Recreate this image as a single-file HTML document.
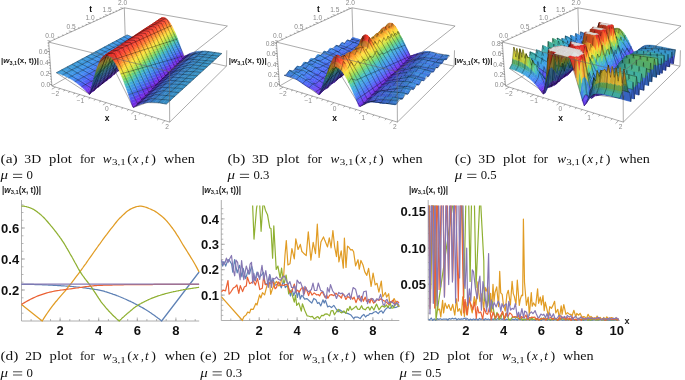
<!DOCTYPE html>
<html><head><meta charset="utf-8"><style>
html,body{margin:0;padding:0;background:#fff;}
svg{display:block;will-change:transform}
.cap text{font-family:"Liberation Serif",serif;font-size:13px;fill:#111}
.tl{font-family:"Liberation Sans",sans-serif;font-weight:bold;font-size:13px;fill:#111}

.bx{fill:none;stroke:#666;stroke-width:.55}
.g{font-family:"Liberation Sans",sans-serif;font-size:6.6px;fill:#8a8a8a}
.ax{font-family:"Liberation Sans",sans-serif;font-size:8.5px;font-weight:bold;fill:#111}
.zl{font-family:"Liberation Sans",sans-serif;font-size:8px;font-weight:bold;fill:#222}
.xl{font-family:"Liberation Sans",sans-serif;font-size:9px;font-weight:bold;fill:#222}
.pl{font-family:"Liberation Sans",sans-serif;font-size:8.2px;font-weight:bold;fill:#222}
.s path{fill:currentColor;stroke:currentColor;stroke-width:3.5;stroke-linejoin:round}
.s path.m{fill:none;stroke:#000;stroke-opacity:.6;stroke-width:5.5}
.s path.e{fill:none;stroke:#666;stroke-width:5.5}
</style></head><body>
<svg width="685" height="380" viewBox="0 0 685 380">
<g class="cap">
<text x="0.5" y="162.7" textLength="17.2" lengthAdjust="spacingAndGlyphs">(a)</text>
<text x="24.3" y="162.7" textLength="16.8" lengthAdjust="spacingAndGlyphs">3D</text>
<text x="49.1" y="162.7" textLength="22.8" lengthAdjust="spacingAndGlyphs">plot</text>
<text x="79.9" y="162.7" textLength="14.8" lengthAdjust="spacingAndGlyphs">for</text>
<text x="102.8" y="162.7" textLength="8.8" lengthAdjust="spacingAndGlyphs" font-style="italic">w</text>
<text x="111.9" y="165.2" textLength="13.8" lengthAdjust="spacingAndGlyphs" style="font-size:8.6px">3,1</text>
<text x="127.3" y="162.7" textLength="4.8" lengthAdjust="spacingAndGlyphs">(</text>
<text x="132.8" y="162.7" font-style="italic">x</text>
<text x="140.9" y="162.7" textLength="2.8" lengthAdjust="spacingAndGlyphs">,</text>
<text x="145.1" y="162.7" font-style="italic">t</text>
<text x="151.3" y="162.7" textLength="4.7" lengthAdjust="spacingAndGlyphs">)</text>
<text x="164.1" y="162.7" textLength="30.7" lengthAdjust="spacingAndGlyphs">when</text>
<text x="0.6" y="179.3" textLength="7.5" lengthAdjust="spacingAndGlyphs" font-style="italic">μ</text>
<path d="M13.0 174.3h9.2M13.0 177.5h9.2" stroke="#111" stroke-width="0.75"/>
<text x="26.5" y="179.3" textLength="6.4" lengthAdjust="spacingAndGlyphs">0</text>
<text x="227.4" y="162.7" textLength="17.9" lengthAdjust="spacingAndGlyphs">(b)</text>
<text x="251.9" y="162.7" textLength="16.8" lengthAdjust="spacingAndGlyphs">3D</text>
<text x="276.6" y="162.7" textLength="22.8" lengthAdjust="spacingAndGlyphs">plot</text>
<text x="307.3" y="162.7" textLength="14.8" lengthAdjust="spacingAndGlyphs">for</text>
<text x="330.6" y="162.7" textLength="8.8" lengthAdjust="spacingAndGlyphs" font-style="italic">w</text>
<text x="339.7" y="165.2" textLength="13.8" lengthAdjust="spacingAndGlyphs" style="font-size:8.6px">3,1</text>
<text x="355.1" y="162.7" textLength="4.8" lengthAdjust="spacingAndGlyphs">(</text>
<text x="360.6" y="162.7" font-style="italic">x</text>
<text x="368.7" y="162.7" textLength="2.8" lengthAdjust="spacingAndGlyphs">,</text>
<text x="372.9" y="162.7" font-style="italic">t</text>
<text x="379.1" y="162.7" textLength="4.7" lengthAdjust="spacingAndGlyphs">)</text>
<text x="391.9" y="162.7" textLength="30.7" lengthAdjust="spacingAndGlyphs">when</text>
<text x="227.5" y="179.3" textLength="7.5" lengthAdjust="spacingAndGlyphs" font-style="italic">μ</text>
<path d="M239.9 174.3h9.2M239.9 177.5h9.2" stroke="#111" stroke-width="0.75"/>
<text x="253.4" y="179.3" textLength="15.9" lengthAdjust="spacingAndGlyphs">0.3</text>
<text x="454.7" y="162.7" textLength="16.5" lengthAdjust="spacingAndGlyphs">(c)</text>
<text x="478.3" y="162.7" textLength="16.8" lengthAdjust="spacingAndGlyphs">3D</text>
<text x="503.0" y="162.7" textLength="22.8" lengthAdjust="spacingAndGlyphs">plot</text>
<text x="533.2" y="162.7" textLength="14.8" lengthAdjust="spacingAndGlyphs">for</text>
<text x="557.2" y="162.7" textLength="8.8" lengthAdjust="spacingAndGlyphs" font-style="italic">w</text>
<text x="566.3" y="165.2" textLength="13.8" lengthAdjust="spacingAndGlyphs" style="font-size:8.6px">3,1</text>
<text x="581.7" y="162.7" textLength="4.8" lengthAdjust="spacingAndGlyphs">(</text>
<text x="587.2" y="162.7" font-style="italic">x</text>
<text x="595.3" y="162.7" textLength="2.8" lengthAdjust="spacingAndGlyphs">,</text>
<text x="599.5" y="162.7" font-style="italic">t</text>
<text x="605.7" y="162.7" textLength="4.7" lengthAdjust="spacingAndGlyphs">)</text>
<text x="619.2" y="162.7" textLength="30.7" lengthAdjust="spacingAndGlyphs">when</text>
<text x="454.8" y="179.3" textLength="7.5" lengthAdjust="spacingAndGlyphs" font-style="italic">μ</text>
<path d="M467.2 174.3h9.2M467.2 177.5h9.2" stroke="#111" stroke-width="0.75"/>
<text x="480.7" y="179.3" textLength="15.9" lengthAdjust="spacingAndGlyphs">0.5</text>
<text x="0.5" y="360.2" textLength="17.9" lengthAdjust="spacingAndGlyphs">(d)</text>
<text x="25.3" y="360.2" textLength="16.5" lengthAdjust="spacingAndGlyphs">2D</text>
<text x="49.6" y="360.2" textLength="22.8" lengthAdjust="spacingAndGlyphs">plot</text>
<text x="79.9" y="360.2" textLength="14.8" lengthAdjust="spacingAndGlyphs">for</text>
<text x="102.8" y="360.2" textLength="8.8" lengthAdjust="spacingAndGlyphs" font-style="italic">w</text>
<text x="111.9" y="362.7" textLength="13.8" lengthAdjust="spacingAndGlyphs" style="font-size:8.6px">3,1</text>
<text x="127.3" y="360.2" textLength="4.8" lengthAdjust="spacingAndGlyphs">(</text>
<text x="132.8" y="360.2" font-style="italic">x</text>
<text x="140.9" y="360.2" textLength="2.8" lengthAdjust="spacingAndGlyphs">,</text>
<text x="145.1" y="360.2" font-style="italic">t</text>
<text x="151.3" y="360.2" textLength="4.7" lengthAdjust="spacingAndGlyphs">)</text>
<text x="164.7" y="360.2" textLength="30.7" lengthAdjust="spacingAndGlyphs">when</text>
<text x="0.6" y="376.8" textLength="7.5" lengthAdjust="spacingAndGlyphs" font-style="italic">μ</text>
<path d="M13.0 371.8h9.2M13.0 375.0h9.2" stroke="#111" stroke-width="0.75"/>
<text x="26.5" y="376.8" textLength="6.4" lengthAdjust="spacingAndGlyphs">0</text>
<text x="200.1" y="360.2" textLength="16.5" lengthAdjust="spacingAndGlyphs">(e)</text>
<text x="223.6" y="360.2" textLength="16.5" lengthAdjust="spacingAndGlyphs">2D</text>
<text x="248.1" y="360.2" textLength="22.8" lengthAdjust="spacingAndGlyphs">plot</text>
<text x="278.8" y="360.2" textLength="14.8" lengthAdjust="spacingAndGlyphs">for</text>
<text x="302.8" y="360.2" textLength="8.8" lengthAdjust="spacingAndGlyphs" font-style="italic">w</text>
<text x="311.9" y="362.7" textLength="13.8" lengthAdjust="spacingAndGlyphs" style="font-size:8.6px">3,1</text>
<text x="327.3" y="360.2" textLength="4.8" lengthAdjust="spacingAndGlyphs">(</text>
<text x="332.8" y="360.2" font-style="italic">x</text>
<text x="340.9" y="360.2" textLength="2.8" lengthAdjust="spacingAndGlyphs">,</text>
<text x="345.1" y="360.2" font-style="italic">t</text>
<text x="351.3" y="360.2" textLength="4.7" lengthAdjust="spacingAndGlyphs">)</text>
<text x="363.6" y="360.2" textLength="30.7" lengthAdjust="spacingAndGlyphs">when</text>
<text x="200.2" y="376.8" textLength="7.5" lengthAdjust="spacingAndGlyphs" font-style="italic">μ</text>
<path d="M212.6 371.8h9.2M212.6 375.0h9.2" stroke="#111" stroke-width="0.75"/>
<text x="226.1" y="376.8" textLength="15.9" lengthAdjust="spacingAndGlyphs">0.3</text>
<text x="399.5" y="360.2" textLength="15.3" lengthAdjust="spacingAndGlyphs">(f)</text>
<text x="422.7" y="360.2" textLength="16.5" lengthAdjust="spacingAndGlyphs">2D</text>
<text x="447.3" y="360.2" textLength="22.8" lengthAdjust="spacingAndGlyphs">plot</text>
<text x="478.3" y="360.2" textLength="14.8" lengthAdjust="spacingAndGlyphs">for</text>
<text x="502.0" y="360.2" textLength="8.8" lengthAdjust="spacingAndGlyphs" font-style="italic">w</text>
<text x="511.1" y="362.7" textLength="13.8" lengthAdjust="spacingAndGlyphs" style="font-size:8.6px">3,1</text>
<text x="526.5" y="360.2" textLength="4.8" lengthAdjust="spacingAndGlyphs">(</text>
<text x="532.0" y="360.2" font-style="italic">x</text>
<text x="540.1" y="360.2" textLength="2.8" lengthAdjust="spacingAndGlyphs">,</text>
<text x="544.3" y="360.2" font-style="italic">t</text>
<text x="550.5" y="360.2" textLength="4.7" lengthAdjust="spacingAndGlyphs">)</text>
<text x="563.0" y="360.2" textLength="30.7" lengthAdjust="spacingAndGlyphs">when</text>
<text x="399.6" y="376.8" textLength="7.5" lengthAdjust="spacingAndGlyphs" font-style="italic">μ</text>
<path d="M412.0 371.8h9.2M412.0 375.0h9.2" stroke="#111" stroke-width="0.75"/>
<text x="425.5" y="376.8" textLength="15.9" lengthAdjust="spacingAndGlyphs">0.5</text>
</g>
<path d="M21.5 321.0H199.2M21.5 321.0V200" stroke="#9a9a9a" stroke-width="0.8" fill="none"/>
<path d="M21.5 313.2h2M21.5 305.5h2M21.5 297.8h2M21.5 290.0h2M21.5 282.2h2M21.5 274.5h2M21.5 266.8h2M21.5 259.0h2M21.5 251.2h2M21.5 243.5h2M21.5 235.8h2M21.5 228.0h2M21.5 220.2h2M21.5 212.5h2M21.5 204.8h2M21.5 290.0h3.5M21.5 259.0h3.5M21.5 228.0h3.5M31.1 321.0v-2M40.8 321.0v-2M50.5 321.0v-2M60.1 321.0v-2M69.8 321.0v-2M79.4 321.0v-2M89.0 321.0v-2M98.7 321.0v-2M108.4 321.0v-2M118.0 321.0v-2M127.7 321.0v-2M137.3 321.0v-2M146.9 321.0v-2M156.6 321.0v-2M166.2 321.0v-2M175.9 321.0v-2M185.6 321.0v-2M195.2 321.0v-2M60.1 321.0v-3.5M98.7 321.0v-3.5M137.3 321.0v-3.5M175.9 321.0v-3.5" stroke="#9a9a9a" stroke-width="0.7" fill="none"/>
<text x="19.2" y="294.6" text-anchor="end" class="tl">0.2</text>
<text x="19.2" y="263.6" text-anchor="end" class="tl">0.4</text>
<text x="19.2" y="232.6" text-anchor="end" class="tl">0.6</text>
<text x="60.1" y="335.4" text-anchor="middle" class="tl">2</text>
<text x="98.7" y="335.4" text-anchor="middle" class="tl">4</text>
<text x="137.3" y="335.4" text-anchor="middle" class="tl">6</text>
<text x="175.9" y="335.4" text-anchor="middle" class="tl">8</text>
<path d="M21.5 284.3L22.7 284.3L23.9 284.3L25.0 284.3L26.2 284.3L27.4 284.3L28.6 284.3L29.7 284.4L30.9 284.4L32.1 284.4L33.3 284.4L34.5 284.5L35.6 284.5L36.8 284.6L38.0 284.6L39.2 284.6L40.3 284.7L41.5 284.7L42.7 284.8L43.9 284.8L45.0 284.9L46.2 284.9L47.4 285.0L48.6 285.1L49.8 285.1L50.9 285.2L52.1 285.2L53.3 285.3L54.5 285.4L55.6 285.4L56.8 285.5L58.0 285.6L59.2 285.6L60.4 285.7L61.5 285.8L62.7 285.8L63.9 285.9L65.1 286.0L66.2 286.1L67.4 286.1L68.6 286.2L69.8 286.3L71.0 286.4L72.1 286.5L73.3 286.6L74.5 286.8L75.7 286.9L76.8 287.0L78.0 287.1L79.2 287.2L80.4 287.4L81.6 287.5L82.7 287.7L83.9 287.8L85.1 287.9L86.3 288.1L87.4 288.3L88.6 288.4L89.8 288.6L91.0 288.8L92.1 288.9L93.3 289.1L94.5 289.3L95.7 289.5L96.9 289.7L98.0 289.9L99.2 290.1L100.4 290.3L101.6 290.6L102.7 290.9L103.9 291.2L105.1 291.6L106.3 291.9L107.5 292.3L108.6 292.7L109.8 293.1L111.0 293.5L112.2 293.9L113.3 294.3L114.5 294.7L115.7 295.1L116.9 295.6L118.1 296.0L119.2 296.5L120.4 297.0L121.6 297.5L122.8 298.0L123.9 298.5L125.1 299.0L126.3 299.5L127.5 300.1L128.6 300.6L129.8 301.2L131.0 301.7L132.2 302.3L133.4 302.9L134.5 303.5L135.7 304.1L136.9 304.7L138.1 305.3L139.2 305.9L140.4 306.6L141.6 307.2L142.8 307.9L144.0 308.6L145.1 309.3L146.3 310.0L147.5 310.8L148.7 311.5L149.8 312.3L151.0 313.1L152.2 313.9L153.4 314.7L154.6 315.5L155.7 316.4L156.9 317.3L158.1 318.2L159.3 319.1L160.4 320.0L161.6 321.0L161.6 321.0L199.1 272.0" stroke="#5e81b5" stroke-width="1.25" fill="none" stroke-linejoin="round"/>
<path d="M21.5 304.4L42.2 321.0L42.2 321.0L43.5 318.9L44.8 316.9L46.1 314.9L47.4 313.0L48.7 311.1L50.1 309.2L51.4 307.4L52.7 305.6L54.0 304.0L55.3 302.3L56.7 300.8L58.0 299.2L59.3 297.7L60.6 296.2L61.9 294.7L63.2 293.2L64.6 291.6L65.9 290.0L67.2 288.4L68.5 286.7L69.8 285.0L71.2 283.3L72.5 281.6L73.8 279.9L75.1 278.1L76.4 276.4L77.8 274.6L79.1 272.9L80.4 271.1L81.7 269.3L83.0 267.5L84.3 265.6L85.7 263.8L87.0 261.9L88.3 260.0L89.6 258.2L90.9 256.3L92.3 254.4L93.6 252.5L94.9 250.7L96.2 248.8L97.5 247.0L98.8 245.1L100.2 243.3L101.5 241.5L102.8 239.7L104.1 237.9L105.4 236.2L106.8 234.4L108.1 232.6L109.4 230.9L110.7 229.2L112.0 227.6L113.4 225.9L114.7 224.2L116.0 222.5L117.3 220.9L118.6 219.4L119.9 218.0L121.3 216.7L122.6 215.4L123.9 214.2L125.2 213.0L126.5 211.8L127.9 210.8L129.2 209.9L130.5 209.1L131.8 208.5L133.1 207.9L134.5 207.4L135.8 206.9L137.1 206.5L138.4 206.3L139.7 206.1L141.0 206.2L142.4 206.3L143.7 206.6L145.0 207.0L146.3 207.4L147.6 207.9L149.0 208.5L150.3 209.0L151.6 209.6L152.9 210.2L154.2 210.8L155.5 211.6L156.9 212.5L158.2 213.4L159.5 214.4L160.8 215.5L162.1 216.6L163.5 217.7L164.8 219.0L166.1 220.4L167.4 221.8L168.7 223.4L170.1 225.1L171.4 226.8L172.7 228.5L174.0 230.3L175.3 232.2L176.6 234.3L178.0 236.4L179.3 238.5L180.6 240.8L181.9 243.0L183.2 245.2L184.6 247.3L185.9 249.4L187.2 251.5L188.5 253.6L189.8 255.7L191.1 257.8L192.5 260.0L193.8 262.2L195.1 264.5L196.4 266.9L197.7 269.4L199.1 272.0" stroke="#e19c24" stroke-width="1.25" fill="none" stroke-linejoin="round"/>
<path d="M21.5 206.0L22.3 206.0L23.1 206.1L24.0 206.2L24.8 206.4L25.6 206.5L26.4 206.7L27.2 207.0L28.1 207.2L28.9 207.5L29.7 207.7L30.5 208.0L31.3 208.3L32.2 208.7L33.0 209.1L33.8 209.5L34.6 210.1L35.5 210.6L36.3 211.2L37.1 211.8L37.9 212.5L38.7 213.1L39.6 213.8L40.4 214.5L41.2 215.1L42.0 215.9L42.8 216.6L43.7 217.5L44.5 218.3L45.3 219.2L46.1 220.1L46.9 221.0L47.8 222.0L48.6 223.0L49.4 223.9L50.2 224.9L51.0 225.9L51.9 226.9L52.7 227.9L53.5 228.9L54.3 229.9L55.1 231.0L56.0 232.0L56.8 233.1L57.6 234.2L58.4 235.3L59.3 236.4L60.1 237.6L60.9 238.7L61.7 239.9L62.5 241.2L63.4 242.4L64.2 243.7L65.0 245.0L65.8 246.4L66.6 247.8L67.5 249.2L68.3 250.6L69.1 252.0L69.9 253.5L70.7 254.9L71.6 256.3L72.4 257.8L73.2 259.2L74.0 260.7L74.8 262.2L75.7 263.7L76.5 265.2L77.3 266.7L78.1 268.2L78.9 269.6L79.8 271.1L80.6 272.4L81.4 273.7L82.2 274.9L83.0 276.0L83.9 277.2L84.7 278.3L85.5 279.4L86.3 280.4L87.2 281.5L88.0 282.5L88.8 283.6L89.6 284.7L90.4 285.8L91.3 286.9L92.1 288.1L92.9 289.3L93.7 290.6L94.5 291.8L95.4 293.1L96.2 294.4L97.0 295.7L97.8 296.9L98.6 298.2L99.5 299.4L100.3 300.6L101.1 301.8L101.9 302.9L102.7 303.9L103.6 304.9L104.4 305.9L105.2 306.9L106.0 307.9L106.8 308.8L107.7 309.7L108.5 310.7L109.3 311.5L110.1 312.4L111.0 313.3L111.8 314.1L112.6 315.0L113.4 315.8L114.2 316.6L115.1 317.3L115.9 318.1L116.7 318.9L117.5 319.6L118.3 320.3L119.2 321.0L119.2 321.0L119.8 320.3L120.5 319.7L121.2 319.1L121.8 318.4L122.5 317.8L123.2 317.2L123.9 316.6L124.5 316.0L125.2 315.4L125.9 314.8L126.5 314.2L127.2 313.6L127.9 313.1L128.6 312.5L129.2 311.9L129.9 311.4L130.6 310.8L131.2 310.2L131.9 309.7L132.6 309.1L133.3 308.6L133.9 308.1L134.6 307.6L135.3 307.1L135.9 306.6L136.6 306.1L137.3 305.7L138.0 305.2L138.6 304.8L139.3 304.4L140.0 304.0L140.6 303.7L141.3 303.3L142.0 302.9L142.7 302.6L143.3 302.2L144.0 301.9L144.7 301.5L145.3 301.2L146.0 300.9L146.7 300.5L147.4 300.2L148.0 299.9L148.7 299.6L149.4 299.3L150.0 299.0L150.7 298.7L151.4 298.4L152.1 298.2L152.7 297.9L153.4 297.6L154.1 297.4L154.7 297.1L155.4 296.9L156.1 296.6L156.8 296.4L157.4 296.1L158.1 295.9L158.8 295.7L159.4 295.5L160.1 295.3L160.8 295.0L161.5 294.8L162.1 294.6L162.8 294.4L163.5 294.3L164.1 294.1L164.8 293.9L165.5 293.7L166.2 293.5L166.8 293.3L167.5 293.2L168.2 293.0L168.8 292.8L169.5 292.7L170.2 292.5L170.9 292.3L171.5 292.2L172.2 292.0L172.9 291.9L173.5 291.7L174.2 291.6L174.9 291.5L175.6 291.3L176.2 291.2L176.9 291.0L177.6 290.9L178.2 290.8L178.9 290.6L179.6 290.5L180.3 290.4L180.9 290.2L181.6 290.1L182.3 290.0L182.9 289.9L183.6 289.7L184.3 289.6L185.0 289.5L185.6 289.4L186.3 289.3L187.0 289.1L187.6 289.0L188.3 288.9L189.0 288.8L189.7 288.7L190.3 288.6L191.0 288.5L191.7 288.4L192.3 288.3L193.0 288.2L193.7 288.1L194.4 288.0L195.0 287.9L195.7 287.8L196.4 287.7L197.0 287.6L197.7 287.5L198.4 287.4L199.1 287.4" stroke="#8fb032" stroke-width="1.25" fill="none" stroke-linejoin="round"/>
<path d="M21.5 304.4L23.0 303.5L24.5 302.6L26.0 301.7L27.5 300.9L29.0 300.1L30.5 299.3L31.9 298.6L33.4 297.9L34.9 297.2L36.4 296.5L37.9 295.9L39.4 295.3L40.9 294.8L42.4 294.3L43.9 293.8L45.4 293.3L46.9 292.9L48.4 292.5L49.8 292.1L51.3 291.8L52.8 291.5L54.3 291.2L55.8 290.9L57.3 290.7L58.8 290.5L60.3 290.2L61.8 290.0L63.3 289.8L64.8 289.6L66.3 289.4L67.8 289.2L69.2 289.0L70.7 288.8L72.2 288.6L73.7 288.4L75.2 288.2L76.7 288.0L78.2 287.8L79.7 287.5L81.2 287.3L82.7 287.1L84.2 286.9L85.7 286.7L87.2 286.5L88.6 286.3L90.1 286.1L91.6 286.0L93.1 285.8L94.6 285.7L96.1 285.6L97.6 285.5L99.1 285.4L100.6 285.3L102.1 285.3L103.6 285.2L105.1 285.2L106.5 285.1L108.0 285.1L109.5 285.0L111.0 285.0L112.5 285.0L114.0 284.9L115.5 284.9L117.0 284.9L118.5 284.8L120.0 284.8L121.5 284.8L123.0 284.8L124.5 284.7L125.9 284.7L127.4 284.7L128.9 284.7L130.4 284.6L131.9 284.6L133.4 284.6L134.9 284.6L136.4 284.6L137.9 284.6L139.4 284.6L140.9 284.5L142.4 284.5L143.9 284.5L145.3 284.5L146.8 284.5L148.3 284.5L149.8 284.5L151.3 284.5L152.8 284.5L154.3 284.4L155.8 284.4L157.3 284.4L158.8 284.4L160.3 284.4L161.8 284.4L163.2 284.4L164.7 284.4L166.2 284.4L167.7 284.4L169.2 284.3L170.7 284.3L172.2 284.3L173.7 284.3L175.2 284.3L176.7 284.3L178.2 284.3L179.7 284.3L181.2 284.3L182.6 284.3L184.1 284.3L185.6 284.3L187.1 284.3L188.6 284.3L190.1 284.3L191.6 284.3L193.1 284.3L194.6 284.3L196.1 284.3L197.6 284.3L199.1 284.3" stroke="#eb6235" stroke-width="1.25" fill="none" stroke-linejoin="round"/>
<path d="M21.5 284.1L199.1 284.1" stroke="#8778b3" stroke-width="1.25" fill="none" stroke-linejoin="round"/>
<text x="2" y="192.6" class="pl">|<tspan font-style="italic">w</tspan><tspan font-size="5.8" dy="1.4">3,1</tspan><tspan dy="-1.4">(x, t))|</tspan></text>
<path d="M221.3 320.5H399.3M221.3 320.5V200" stroke="#9a9a9a" stroke-width="0.8" fill="none"/>
<path d="M221.3 315.4h2M221.3 310.3h2M221.3 305.3h2M221.3 300.2h2M221.3 295.1h2M221.3 290.0h2M221.3 284.9h2M221.3 279.9h2M221.3 274.8h2M221.3 269.7h2M221.3 264.6h2M221.3 259.5h2M221.3 254.5h2M221.3 249.4h2M221.3 244.3h2M221.3 239.2h2M221.3 234.1h2M221.3 229.1h2M221.3 224.0h2M221.3 218.9h2M221.3 213.8h2M221.3 208.7h2M221.3 295.1h3.5M221.3 269.7h3.5M221.3 244.3h3.5M221.3 218.9h3.5M230.8 320.5v-2M240.2 320.5v-2M249.7 320.5v-2M259.2 320.5v-2M268.7 320.5v-2M278.1 320.5v-2M287.6 320.5v-2M297.1 320.5v-2M306.6 320.5v-2M316.1 320.5v-2M325.5 320.5v-2M335.0 320.5v-2M344.5 320.5v-2M354.0 320.5v-2M363.4 320.5v-2M372.9 320.5v-2M382.4 320.5v-2M391.9 320.5v-2M259.2 320.5v-3.5M297.1 320.5v-3.5M335.0 320.5v-3.5M372.9 320.5v-3.5" stroke="#9a9a9a" stroke-width="0.7" fill="none"/>
<text x="219.0" y="299.7" text-anchor="end" class="tl">0.1</text>
<text x="219.0" y="274.3" text-anchor="end" class="tl">0.2</text>
<text x="219.0" y="248.9" text-anchor="end" class="tl">0.3</text>
<text x="219.0" y="223.5" text-anchor="end" class="tl">0.4</text>
<text x="259.2" y="334.9" text-anchor="middle" class="tl">2</text>
<text x="297.1" y="334.9" text-anchor="middle" class="tl">4</text>
<text x="335.0" y="334.9" text-anchor="middle" class="tl">6</text>
<text x="372.9" y="334.9" text-anchor="middle" class="tl">8</text>
<clipPath id="ce"><rect x="221.3" y="205.5" width="180" height="118"/></clipPath>
<path d="M221.3 260.5 222.7 266.2 223.9 261.5 225.7 266.1 228.0 259.5 229.7 260.9 231.6 264.0 232.8 272.1 234.6 259.6 237.2 272.9 239.6 265.3 241.9 277.0 243.2 268.4 245.7 278.6 248.1 270.3 249.5 274.0 251.6 265.9 252.7 269.9 254.1 280.3 255.7 277.3 257.1 272.0 259.3 277.4 261.7 274.9 263.4 272.2 265.0 282.9 266.3 284.4 267.6 282.8 269.8 274.6 271.8 282.4 273.1 279.3 274.9 285.2 276.7 284.6 279.1 282.2 281.3 287.9 283.4 281.0 285.3 287.7 287.9 284.9 290.5 296.0 292.2 289.3 293.7 295.6 296.0 289.2 297.3 297.5 299.0 290.9 300.2 299.1 301.8 295.3 303.1 296.6 304.6 299.1 307.0 298.6 309.5 301.0 311.8 303.1 313.8 298.4 315.9 299.8 317.6 303.4 319.0 302.4 320.8 305.9 323.0 299.8 324.2 303.1 325.4 300.3 327.7 307.0 329.3 306.1 331.5 307.6 333.8 305.3 336.3 309.2 338.1 311.8 339.7 309.7 342.1 311.4 344.4 312.5 346.5 313.1 348.9 313.9 351.0 315.1 353.6 318.5 355.2 317.0 357.5 317.1 360.1 318.6 361.7 316.3 363.8 314.4 365.5 317.0 367.3 315.3 368.6 315.1 369.7 313.7 372.0 313.7 373.8 312.3 375.9 311.5 378.2 313.6 379.9 311.6 381.6 310.8 383.0 313.2 385.4 309.4 387.8 307.2 390.0 308.5 392.5 305.5 394.6 307.6 396.8 307.1 398.2 306.2 399.1 306.1" stroke="#5e81b5" stroke-width="1.2" fill="none" stroke-linejoin="round" clip-path="url(#ce)"/>
<path d="M221.3 296.6 242.5 320.5 242.5 319.8 243.9 316.7 246.2 314.9 247.7 312.0 249.6 312.9 250.8 309.2 253.3 309.3 255.8 303.4 257.0 305.0 259.6 294.9 260.9 297.9 262.5 292.7 264.6 294.8 267.1 285.2 269.6 282.5 270.7 294.3 272.6 288.4 274.6 284.1 276.5 281.4 278.8 285.9 280.2 285.3 282.5 275.7 283.6 276.9 285.0 255.0 286.3 240.5 287.9 264.9 290.0 263.8 291.9 248.6 294.3 258.9 295.8 238.9 298.1 249.5 300.3 244.4 301.9 251.5 303.6 253.2 306.2 255.6 308.3 231.9 310.9 260.1 313.2 242.3 315.5 253.6 317.3 224.2 319.1 257.4 320.9 242.1 323.5 236.9 324.9 240.6 327.5 247.0 329.3 237.8 331.1 247.8 332.9 230.5 334.6 246.5 336.5 256.6 337.6 241.4 338.9 262.0 341.2 250.9 343.3 268.1 344.4 238.0 346.0 267.5 347.5 246.2 348.7 247.0 350.6 249.9 352.4 249.7 353.6 251.7 355.6 265.8 358.0 259.7 359.3 269.2 360.9 260.4 363.0 265.0 364.8 271.9 366.8 275.4 368.6 268.4 371.1 286.4 373.1 273.1 375.2 284.9 377.0 283.3 378.9 292.2 381.3 281.1 382.8 296.8 385.4 292.5 386.6 297.2 388.7 293.7 389.8 304.1 392.0 301.9 394.1 298.6 396.5 303.5 399.1 306.8" stroke="#e19c24" stroke-width="1.2" fill="none" stroke-linejoin="round" clip-path="url(#ce)"/>
<path d="M221.3 117.3 247.8 168.1 247.8 180.6 250.1 201.8 251.6 179.8 254.0 239.1 256.6 207.8 259.2 195.1 261.1 231.3 263.1 201.3 265.4 210.2 267.5 214.7 269.8 227.9 271.0 228.6 272.6 258.2 273.8 225.9 276.2 269.4 277.9 266.1 280.1 277.8 281.6 268.2 283.3 282.0 284.4 282.5 286.1 275.0 288.7 293.8 290.2 290.3 291.8 293.6 294.3 302.2 295.5 295.2 296.7 305.4 298.8 302.9 301.3 311.2 302.4 303.8 304.7 310.3 307.1 315.8 308.3 316.0 310.5 316.8 312.4 316.4 314.2 318.9 316.8 317.1 317.9 316.5 319.5 318.8 321.7 315.3 323.3 315.7 324.9 314.2 327.1 313.9 329.6 315.9 331.1 310.9 332.9 310.5 334.4 314.8 336.2 312.0 338.2 309.3 340.5 312.3 341.8 312.9 343.9 310.8 345.9 313.4 347.2 308.6 348.5 310.5 350.0 306.3 351.4 309.9 354.0 308.1 356.1 306.1 357.6 309.1 359.6 309.4 361.6 305.7 362.8 308.6 365.3 309.8 367.0 307.6 368.4 307.0 369.8 310.1 371.7 306.5 373.9 310.0 376.5 304.1 379.0 309.8 380.9 307.2 382.2 305.9 384.7 307.1 386.4 304.9 387.9 307.4 390.3 303.5 391.7 308.1 393.2 307.9 395.2 304.4 397.2 303.2 399.1 307.1" stroke="#8fb032" stroke-width="1.2" fill="none" stroke-linejoin="round" clip-path="url(#ce)"/>
<path d="M221.3 291.9 223.2 290.2 225.5 290.8 228.0 280.5 229.1 294.2 230.7 292.3 233.3 288.1 235.2 286.9 236.9 285.0 238.8 293.4 240.3 285.6 242.6 291.6 244.3 287.0 246.3 285.9 247.4 277.2 249.6 283.6 251.0 283.0 253.6 280.9 255.3 285.1 257.5 278.6 259.8 289.6 262.3 288.2 263.6 276.3 265.2 284.7 267.1 284.5 269.2 283.3 270.7 283.2 272.9 281.6 275.1 288.8 276.5 287.5 278.1 281.8 280.6 285.1 281.9 285.2 284.1 285.5 285.4 284.6 287.6 284.7 289.9 292.3 291.6 291.9 294.3 284.1 296.1 291.9 297.5 290.2 299.2 292.1 301.4 288.3 303.1 287.4 304.3 293.7 305.9 287.5 308.6 295.6 310.1 290.9 312.0 295.1 314.2 292.9 316.8 295.0 318.2 294.5 319.6 295.9 321.0 293.1 322.4 292.1 325.1 297.5 326.6 295.0 327.9 298.3 329.8 295.0 331.6 294.6 333.9 295.6 336.0 293.2 338.0 295.5 339.4 295.8 341.4 298.0 342.7 293.9 344.0 294.7 345.9 299.5 347.6 296.6 349.9 298.0 351.1 296.5 352.7 299.2 354.1 297.1 356.0 302.6 358.0 297.4 360.1 300.5 361.6 296.3 363.4 301.2 365.2 297.1 366.5 301.4 368.5 299.3 369.9 303.0 371.1 298.4 373.7 303.1 375.0 302.1 377.2 299.4 379.1 300.4 380.4 298.8 382.3 299.8 384.1 300.9 386.1 301.8 388.7 304.4 391.3 301.5 393.4 300.2 395.1 304.6 396.9 301.2 399.1 302.8" stroke="#eb6235" stroke-width="1.2" fill="none" stroke-linejoin="round" clip-path="url(#ce)"/>
<path d="M221.3 259.7 223.7 264.8 225.1 262.5 226.4 258.1 228.0 262.6 229.6 259.0 231.5 255.5 233.1 269.1 234.7 275.8 236.0 260.2 237.6 262.4 240.1 279.7 241.6 260.6 243.8 279.6 246.3 266.0 248.7 274.1 250.1 264.2 251.5 262.3 252.7 283.2 253.9 273.3 255.3 280.9 258.0 272.3 259.7 279.5 262.0 265.4 263.8 279.9 265.8 270.6 268.3 287.5 269.6 274.7 271.5 287.5 272.8 278.2 274.8 279.0 276.4 277.0 278.3 279.2 280.5 280.3 282.2 277.7 284.2 275.9 286.3 280.2 288.1 284.5 289.9 281.6 291.6 287.5 293.3 287.7 294.6 285.9 295.8 293.0 297.1 280.0 299.3 283.4 300.5 282.1 302.4 287.5 303.7 295.3 304.9 286.4 307.0 290.3 308.8 291.9 311.4 289.5 313.0 283.1 314.5 290.4 316.7 290.5 318.3 283.0 320.6 290.4 323.0 291.6 324.8 295.7 326.3 298.7 327.5 287.7 329.2 292.1 330.5 284.6 332.7 291.0 334.5 293.3 336.5 298.5 338.7 292.4 340.4 293.7 342.5 293.1 344.9 296.5 346.7 296.0 349.2 293.1 350.6 299.4 351.9 293.1 353.1 287.6 355.6 289.3 357.7 297.9 359.2 295.3 361.2 301.8 363.7 291.8 366.2 291.0 367.5 303.6 369.1 299.7 370.7 299.0 372.7 298.6 374.9 302.1 376.6 298.8 378.6 299.9 380.6 294.4 383.1 304.4 384.5 305.4 385.7 300.7 386.9 299.3 388.7 303.5 390.6 301.6 392.6 302.5 395.1 305.0 396.5 302.4 398.3 304.0 399.1 305.9" stroke="#8778b3" stroke-width="1.2" fill="none" stroke-linejoin="round" clip-path="url(#ce)"/>
<text x="202" y="192.6" class="pl">|<tspan font-style="italic">w</tspan><tspan font-size="5.8" dy="1.4">3,1</tspan><tspan dy="-1.4">(x, t))|</tspan></text>
<path d="M428.2 320.4H619.8M428.2 320.4V200" stroke="#9a9a9a" stroke-width="0.8" fill="none"/>
<path d="M428.2 313.2h2M428.2 305.9h2M428.2 298.7h2M428.2 291.4h2M428.2 284.2h2M428.2 277.0h2M428.2 269.7h2M428.2 262.5h2M428.2 255.2h2M428.2 248.0h2M428.2 240.8h2M428.2 233.5h2M428.2 226.3h2M428.2 219.0h2M428.2 211.8h2M428.2 284.2h3.5M428.2 248.0h3.5M428.2 211.8h3.5M437.6 320.4v-2M447.1 320.4v-2M456.5 320.4v-2M465.9 320.4v-2M475.3 320.4v-2M484.8 320.4v-2M494.2 320.4v-2M503.6 320.4v-2M513.0 320.4v-2M522.5 320.4v-2M531.9 320.4v-2M541.3 320.4v-2M550.7 320.4v-2M560.1 320.4v-2M569.6 320.4v-2M579.0 320.4v-2M588.4 320.4v-2M597.9 320.4v-2M607.3 320.4v-2M616.7 320.4v-2M465.9 320.4v-3.5M503.6 320.4v-3.5M541.3 320.4v-3.5M579.0 320.4v-3.5M616.7 320.4v-3.5" stroke="#9a9a9a" stroke-width="0.7" fill="none"/>
<text x="425.9" y="288.8" text-anchor="end" class="tl">0.05</text>
<text x="425.9" y="252.6" text-anchor="end" class="tl">0.10</text>
<text x="425.9" y="216.4" text-anchor="end" class="tl">0.15</text>
<text x="465.9" y="334.8" text-anchor="middle" class="tl">2</text>
<text x="503.6" y="334.8" text-anchor="middle" class="tl">4</text>
<text x="541.3" y="334.8" text-anchor="middle" class="tl">6</text>
<text x="579.0" y="334.8" text-anchor="middle" class="tl">8</text>
<text x="616.7" y="334.8" text-anchor="middle" class="tl">10</text>
<clipPath id="cf"><rect x="428.2" y="205.5" width="195" height="118"/></clipPath>
<path d="M428.2 319.0 429.7 319.9 431.2 318.0 432.7 320.4 434.2 318.8 435.7 320.3 437.2 318.7 438.8 319.4 440.3 318.7 441.8 319.5 443.3 319.1 444.8 319.1 446.3 319.0 447.8 320.1 449.3 318.5 450.8 319.2 452.3 318.2 453.8 319.0 455.3 318.2 456.9 319.9 458.4 318.7 459.9 319.4 461.4 318.9 462.9 319.2 464.4 318.1 465.9 319.4 467.4 318.6 468.9 320.2 470.4 319.0 471.9 320.0 473.4 318.9 474.9 319.8 476.5 318.7 478.0 320.1 479.5 318.4 481.0 319.5 482.5 318.4 484.0 320.1 485.5 318.7 487.0 319.6 488.5 319.0 490.0 319.9 491.5 318.5 493.0 319.7 494.6 318.5 496.1 319.8 497.6 318.6 499.1 319.4 500.6 318.6 502.1 319.4 503.6 318.8 505.1 319.9 506.6 319.2 508.1 319.5 509.6 319.4 511.1 320.0 512.6 319.3 514.2 319.8 515.7 318.7 517.2 320.1 518.7 318.8 520.2 319.6 521.7 319.0 523.2 320.2 524.7 318.8 526.2 320.0 527.7 318.9 529.2 320.0 530.7 318.9 532.3 319.8 533.8 319.5 535.3 320.2 536.8 318.9 538.3 320.1 539.8 319.4 541.3 320.4 542.8 319.2 544.3 319.7 545.8 319.0 547.3 320.2 548.8 319.0 550.3 320.3 551.9 319.5 553.4 320.1 554.9 319.3 556.4 320.0 557.9 319.4 559.4 320.0 560.9 319.1 562.4 320.2 563.9 319.7 565.4 319.8 566.9 319.6 568.4 319.9 570.0 319.2 571.5 320.4 573.0 319.3 574.5 320.4 576.0 319.5 577.5 320.1 579.0 319.5 580.5 319.9 582.0 319.9 583.5 320.4 585.0 319.6 586.5 320.0 588.0 319.8 589.6 320.1 591.1 319.9 592.6 320.1 594.1 319.4 595.6 320.0 597.1 319.6 598.6 320.2 600.1 319.5 601.6 320.0 603.1 320.0 604.6 320.1 606.1 319.8 607.7 320.2 609.2 319.8 610.7 320.2 612.2 319.9 613.7 320.1 615.2 319.8 616.7 320.3 618.2 319.8" stroke="#5e81b5" stroke-width="1.2" fill="none" stroke-linejoin="round" clip-path="url(#cf)"/>
<path d="M428.2 128.0 430.5 302.7 432.2 187.8 434.2 300.2 436.6 140.0 436.6 296.4 437.9 310.0 439.6 309.1 440.8 317.0 442.6 300.4 443.6 313.0 445.1 303.0 447.0 308.4 448.8 304.5 450.0 308.6 450.9 310.5 452.7 304.3 454.8 315.2 456.5 298.9 457.8 311.3 459.6 308.7 461.4 315.3 462.7 296.8 464.4 316.5 465.8 302.0 467.4 315.0 469.2 297.2 470.2 303.9 472.2 312.9 474.3 296.5 476.0 305.2 477.9 281.9 478.8 292.9 480.0 301.7 481.9 293.7 483.7 309.3 485.2 287.4 486.3 291.1 487.8 286.8 489.3 305.4 490.6 293.4 491.6 312.1 493.0 284.3 494.0 301.6 495.0 292.5 496.7 286.9 498.6 306.7 499.7 271.3 500.7 292.9 502.2 294.4 503.4 304.9 505.2 311.2 506.9 294.4 508.3 290.3 510.4 305.0 512.1 281.4 513.3 293.6 514.4 296.6 516.0 304.5 517.3 280.2 519.3 305.4 520.3 299.2 521.6 295.2 522.7 295.6 523.4 219.0 524.5 282.2 526.4 305.3 528.2 297.1 529.3 315.3 531.3 292.5 532.2 306.2 533.5 302.9 535.6 306.2 537.6 288.9 538.6 303.3 540.3 297.0 541.4 304.8 543.0 295.7 544.2 310.6 545.3 302.2 546.8 308.7 548.4 316.0 549.8 306.6 551.4 308.4 552.7 305.9 554.6 301.3 555.8 313.0 557.8 309.3 559.4 318.1 561.2 305.8 562.1 314.4 563.8 304.5 565.9 314.4 567.5 312.6 569.5 314.4 570.9 314.3 572.1 315.8 573.9 310.3 575.8 317.0 576.8 313.4 578.7 315.2 580.1 313.3 582.0 317.3 583.4 316.7 584.5 316.8 586.5 318.6 588.1 314.3 590.0 317.9 591.0 316.4 592.7 318.2 594.5 317.9 595.9 319.2 597.1 316.0 598.2 319.0 600.2 317.4 601.9 319.8 603.9 317.4 605.1 320.0 606.8 316.8 608.3 318.4 609.8 319.2 611.4 317.5 612.3 317.8 614.3 319.0 615.6 318.2 617.2 319.0 618.1 319.2 618.6 318.7" stroke="#e19c24" stroke-width="1.2" fill="none" stroke-linejoin="round" clip-path="url(#cf)"/>
<path d="M428.2 172.8 430.6 288.9 433.3 179.9 436.0 319.7 461.2 146.4 463.8 297.4 467.4 128.3 470.1 281.5 472.9 121.8 476.0 287.6 480.1 192.0 483.8 261.0 484.2 300.2 486.0 301.7 487.2 307.0 488.4 295.3 490.5 311.1 492.1 301.1 493.4 308.9 495.1 319.5 497.0 312.3 499.0 319.4 500.9 318.1 502.7 311.8 504.0 317.5 505.3 317.7 507.0 312.7 508.6 319.6 510.3 319.8 512.6 317.0 514.8 317.3 516.5 317.0 518.6 318.7 520.8 317.0 522.1 320.1 523.2 319.2 524.9 319.9 527.1 318.6 528.3 318.4 529.7 320.1 531.9 318.0 533.1 319.4 535.4 319.1 536.7 319.0 538.6 320.0 540.9 319.4 542.2 318.7 543.9 317.9 546.2 319.2 547.5 319.1 548.8 319.2 550.8 319.9 553.0 318.3 554.6 319.5 555.7 319.1 557.6 320.4 558.7 318.7 559.8 319.1 561.3 318.7 563.6 319.1 565.7 318.9 567.2 319.1 568.3 319.8 569.5 318.5 571.3 320.0 573.0 319.5 574.7 319.5 575.9 320.2 578.0 318.6 579.8 319.3 581.8 319.2 583.5 320.0 584.6 318.9 586.4 318.8 588.0 320.3 589.1 318.9 590.2 320.2 591.7 319.6 593.9 319.3 595.6 320.0 597.4 320.0 599.2 319.7 600.6 319.2 602.0 320.1 603.0 319.3 604.2 319.9 605.9 318.9 607.8 320.1 609.1 319.0 611.0 319.8 612.9 319.6 615.2 319.4 617.3 319.7 618.6 320.3" stroke="#8fb032" stroke-width="1.2" fill="none" stroke-linejoin="round" clip-path="url(#cf)"/>
<path d="M428.2 119.5 430.0 308.6 432.8 118.6 434.7 308.1 437.3 184.3 439.1 289.4 442.2 152.8 444.5 296.2 446.6 161.0 448.6 279.5 450.9 189.7 452.6 280.6 455.3 182.5 458.3 301.1 460.9 177.4 463.8 312.8 465.1 299.4 466.8 314.8 468.9 299.7 470.9 304.2 472.9 309.8 474.6 301.9 476.3 318.2 477.4 306.6 478.9 313.0 480.8 312.1 482.7 319.1 484.3 308.4 486.1 313.4 487.6 314.3 489.5 307.4 491.2 319.8 493.1 312.0 494.3 315.4 495.7 318.2 497.4 313.8 498.4 314.0 499.5 318.0 500.9 315.0 502.5 311.4 504.5 319.4 505.9 313.1 507.7 317.0 509.8 312.9 511.8 314.6 512.7 317.2 514.8 316.5 516.8 317.1 518.5 315.6 519.6 319.2 521.2 316.6 523.1 317.6 524.6 317.3 526.0 315.0 527.5 319.6 529.5 317.7 530.5 317.9 531.5 317.1 533.5 317.4 534.8 317.0 536.2 319.8 537.4 318.0 539.1 320.0 540.8 318.5 542.0 319.0 543.9 318.3 545.9 320.1 547.2 318.2 548.9 318.3 550.9 317.5 552.8 319.6 553.9 318.0 555.8 318.5 557.9 320.4 559.2 317.8 560.2 319.4 561.5 316.1 563.1 318.3 564.2 317.1 565.9 320.0 566.9 317.0 568.9 319.7 569.9 317.9 571.0 320.4 572.5 316.9 573.9 319.7 575.8 319.1 576.7 320.2 578.4 318.7 579.7 318.9 581.3 320.3 582.9 317.5 584.0 319.0 585.1 319.4 586.9 319.0 588.4 318.2 589.9 318.9 592.0 318.1 593.6 319.3 595.1 317.8 596.5 319.2 597.8 318.8 599.0 318.2 599.9 319.0 601.9 319.3 603.3 318.4 605.0 320.1 606.3 320.0 607.4 318.8 608.8 318.9 610.3 318.0 611.3 319.3 613.1 319.4 614.4 319.1 616.1 318.2 617.2 320.1 618.6 318.9" stroke="#eb6235" stroke-width="1.2" fill="none" stroke-linejoin="round" clip-path="url(#cf)"/>
<path d="M428.2 176.4 430.0 314.0 431.7 148.8 433.3 303.3 434.9 190.7 437.2 305.7 438.6 196.3 440.6 287.1 442.3 115.0 444.4 297.2 446.4 189.4 448.7 284.6 450.0 149.8 452.4 282.1 454.0 180.9 455.6 302.9 458.1 119.0 459.6 277.9 462.0 139.0 464.2 282.6 465.1 288.3 466.7 248.0 467.6 305.7 469.4 288.8 470.8 301.0 472.3 269.8 473.5 271.5 475.5 289.1 477.2 298.8 478.7 282.5 479.9 276.2 481.4 310.1 483.0 281.5 484.8 294.0 486.7 311.3 488.6 253.5 489.6 311.6 491.3 299.8 492.6 308.6 494.1 302.4 496.2 306.9 498.2 301.0 499.4 303.5 500.9 311.3 502.0 303.7 503.6 307.2 504.7 305.1 506.5 303.8 507.5 316.5 508.8 301.4 510.6 310.1 512.1 308.4 513.8 309.3 515.4 303.5 517.2 316.7 518.6 312.2 520.0 317.5 521.9 308.7 523.6 317.8 524.6 311.1 526.6 312.2 528.0 318.3 529.4 313.9 531.4 311.9 532.9 313.7 534.1 312.1 535.1 310.6 536.2 313.7 537.9 317.3 539.0 317.6 540.9 314.1 542.7 315.2 543.8 314.2 545.6 317.6 547.0 313.6 548.4 318.5 549.6 312.9 551.6 317.4 553.4 313.8 555.1 319.0 556.1 318.9 557.8 317.5 558.8 315.6 560.7 315.9 561.7 317.9 563.3 317.9 564.4 316.4 566.3 317.9 567.3 315.4 569.1 317.1 570.9 315.6 572.4 319.5 573.4 318.3 575.4 316.4 576.4 317.2 577.9 319.5 579.8 318.2 580.8 317.0 582.0 318.2 583.9 319.0 585.4 318.4 586.6 319.2 587.8 317.6 589.6 318.6 591.7 317.7 593.5 319.0 594.8 318.6 596.6 318.1 598.1 317.4 599.4 317.9 601.0 319.6 602.2 319.3 603.6 318.1 604.5 319.1 605.8 319.0 607.0 318.5 608.4 319.8 609.4 317.9 610.4 319.0 612.2 318.7 613.3 318.4 614.3 318.9 616.3 317.9 618.3 319.1 618.6 320.3" stroke="#8778b3" stroke-width="1.2" fill="none" stroke-linejoin="round" clip-path="url(#cf)"/>
<text x="409" y="192.6" class="pl">|<tspan font-style="italic">w</tspan><tspan font-size="5.8" dy="1.4">3,1</tspan><tspan dy="-1.4">(x, t))|</tspan></text>
<text x="624.5" y="324" class="xl">x</text>
<g class="s" transform="scale(.1)"><path color="#4098e7" d="M1235 368l26 11 36-19-26-11z"/>
<path color="#4194ee" d="M1261 379l27 13 36-19-27-13z"/>
<path color="#4489f1" d="M1288 392l28 15 35-19-27-15z"/>
<path color="#3f99e5" d="M1198 388l27 10 36-19-26-11z"/>
<path color="#4195ec" d="M1225 398l27 13 36-19-27-13z"/>
<path color="#448bf0" d="M1252 411l27 15 37-19-28-15z"/>
<path color="#3f99e4" d="M1160 408l27 10 38-20-27-10z"/>
<path color="#4096eb" d="M1187 418l27 13 38-20-27-13z"/>
<path color="#438df0" d="M1214 431l28 14 37-19-27-15z"/>
<path color="#3f99e3" d="M1121 428l27 11 39-21-27-10z"/>
<path color="#4097e9" d="M1148 439l28 12 38-20-27-13z"/>
<path color="#438fef" d="M1176 451l28 15 38-21-28-14z"/>
<path color="#3f9ae1" d="M1081 449l28 11 39-21-27-11z"/>
<path color="#4097e8" d="M1109 460l27 12 40-21-28-12z"/>
<path color="#ae2d1f" d="M1579 202l7-5 34-21-8 4z"/>
<path color="#4292ef" d="M1136 472l29 14 39-20-28-15z"/>
<path color="#bb2b21" d="M1586 197l7-3 34-19-7 1z"/>
<path color="#c72d24" d="M1593 194l8-1 33-18-7 0z"/>
<path color="#d22f26" d="M1601 193l7 0 33-17-7-1z"/>
<path color="#e53329" d="M1608 193l7 2 34-17-8-2z"/>
<path color="#f2362b" d="M1615 195l8 3 33-16-7-4z"/>
<path color="#f4392b" d="M1623 198l7 4 34-15-8-5z"/>
<path color="#f63f2b" d="M1630 202l8 6 33-14-7-7z"/>
<path color="#3f9ae0" d="M1040 471l28 11 41-22-28-11z"/>
<path color="#f9462b" d="M1638 208l7 6 33-13-7-7z"/>
<path color="#fc502b" d="M1645 214l8 8 33-13-8-8z"/>
<path color="#ff5c2b" d="M1653 222l7 9 33-12-7-10z"/>
<path color="#7427df" d="M1805 567l8 23 31-26-8-5z"/>
<path color="#6c32e8" d="M1798 545l7 22 31-8-7-22z"/>
<path color="#ff6c2c" d="M1660 231l8 10 33-11-8-11z"/>
<path color="#5c48ed" d="M1790 523l8 22 31-8-8-22z"/>
<path color="#4b62f2" d="M1782 501l8 22 31-8-7-21z"/>
<path color="#ff812e" d="M1668 241l7 11 33-10-7-12z"/>
<path color="#631fbc" d="M1813 590l8-2 31-28-8 4z"/>
<path color="#4578ee" d="M1775 479l7 22 32-7-8-22z"/>
<path color="#ff9830" d="M1675 252l8 13 33-10-8-13z"/>
<path color="#418ee9" d="M1767 458l8 21 31-7-7-21z"/>
<path color="#ffaf33" d="M1683 265l8 13 32-9-7-14z"/>
<path color="#3f9ee1" d="M1759 437l8 21 32-7-8-21z"/>
<path color="#41add4" d="M1752 417l7 20 32-7-7-21z"/>
<path color="#ffc837" d="M1691 278l7 14 33-9-8-14z"/>
<path color="#49c0b6" d="M1744 397l8 20 32-8-8-20z"/>
<path color="#ffe23b" d="M1698 292l8 16 32-9-7-16z"/>
<path color="#5ecd90" d="M1737 377l7 20 32-8-7-19z"/>
<path color="#eae33e" d="M1706 308l8 16 32-8-8-17z"/>
<path color="#79d669" d="M1729 359l8 18 32-7-8-19z"/>
<path color="#4098e6" d="M1068 482l28 12 40-22-27-12z"/>
<path color="#cee341" d="M1714 324l7 17 33-8-8-17z"/>
<path color="#a5dd54" d="M1721 341l8 18 32-8-7-18z"/>
<path color="#501d9e" d="M1821 588l7-4 31-28-7 4z"/>
<path color="#4e20a0" d="M1828 584l8-4 31-28-8 4z"/>
<path color="#4b23a3" d="M1836 580l8-3 30-28-7 3z"/>
<path color="#4293ee" d="M1096 494l28 14 41-22-29-14z"/>
<path color="#4827a3" d="M1844 577l7-4 31-29-8 5z"/>
<path color="#b02b1f" d="M1551 220l8-4 34-22-7 3z"/>
<path color="#bd2b22" d="M1559 216l7-3 35-20-8 1z"/>
<path color="#432ea5" d="M1851 573l8-5 31-28-8 4z"/>
<path color="#c92c24" d="M1566 213l7-1 35-19-7 0z"/>
<path color="#4135aa" d="M1859 568l8-4 31-27-8 3z"/>
<path color="#d62f26" d="M1573 212l8 1 34-18-7-2z"/>
<path color="#3e3cae" d="M1867 564l8-3 30-28-7 4z"/>
<path color="#e7332a" d="M1581 213l7 2 35-17-8-3z"/>
<path color="#3b42b1" d="M1875 561l7-3 31-28-8 3z"/>
<path color="#f2362b" d="M1588 215l8 3 34-16-7-4z"/>
<path color="#f4382b" d="M1596 218l8 5 34-15-8-6z"/>
<path color="#3e9adf" d="M998 494l28 10 42-22-28-11z"/>
<path color="#3848b4" d="M1882 558l8-3 31-27-8 2z"/>
<path color="#f63f2b" d="M1604 223l7 6 34-15-7-6z"/>
<path color="#f9472b" d="M1611 229l8 7 34-14-8-8z"/>
<path color="#374eb6" d="M1890 555l8-3 30-27-7 3z"/>
<path color="#fc512b" d="M1619 236l7 8 34-13-7-9z"/>
<path color="#ff5d2b" d="M1626 244l8 9 34-12-8-10z"/>
<path color="#702fe8" d="M1773 576l8 22 32-8-8-23z"/>
<path color="#7425dd" d="M1781 598l8 19 32-29-8 2z"/>
<path color="#6042ec" d="M1766 553l7 23 32-9-7-22z"/>
<path color="#3753b7" d="M1898 552l8-2 30-27-8 2z"/>
<path color="#ff6e2c" d="M1634 253l8 11 33-12-7-11z"/>
<path color="#4f5cf1" d="M1758 531l8 22 32-8-8-22z"/>
<path color="#4673ef" d="M1750 509l8 22 32-8-8-22z"/>
<path color="#ff842e" d="M1642 264l7 12 34-11-8-13z"/>
<path color="#4289ea" d="M1742 487l8 22 32-8-7-22z"/>
<path color="#5d1eb2" d="M1789 617l7-4 32-29-7 4z"/>
<path color="#3f98e5" d="M1026 504l28 12 42-22-28-12z"/>
<path color="#ff9b30" d="M1649 276l8 12 34-10-8-13z"/>
<path color="#3f9be3" d="M1734 466l8 21 33-8-8-21z"/>
<path color="#ffb333" d="M1657 288l8 14 33-10-7-14z"/>
<path color="#40a9da" d="M1727 445l7 21 33-8-8-21z"/>
<path color="#ffcc38" d="M1665 302l7 15 34-9-8-16z"/>
<path color="#47bcbc" d="M1719 424l8 21 32-8-7-20z"/>
<path color="#3658b8" d="M1906 550l8-3 30-27-8 3z"/>
<path color="#59ca98" d="M1711 405l8 19 33-7-8-20z"/>
<path color="#ffe33c" d="M1672 317l8 16 34-9-8-16z"/>
<path color="#73d570" d="M1703 385l8 20 33-8-7-20z"/>
<path color="#e5e33e" d="M1680 333l8 17 33-9-7-17z"/>
<path color="#9cdb58" d="M1696 367l7 18 34-8-8-18z"/>
<path color="#c7e144" d="M1688 350l8 17 33-8-8-18z"/>
<path color="#4e1d9d" d="M1796 613l8-4 32-29-8 4z"/>
<path color="#365dba" d="M1914 547l8-2 30-26-8 1z"/>
<path color="#4d21a1" d="M1804 609l8-4 32-28-8 3z"/>
<path color="#3662bb" d="M1922 545l8-2 30-26-8 2z"/>
<path color="#4195ed" d="M1054 516l29 14 41-22-28-14z"/>
<path color="#4a24a3" d="M1812 605l8-3 31-29-7 4z"/>
<path color="#3666bd" d="M1930 543l7-1 31-27-8 2z"/>
<path color="#366abe" d="M1937 542l8-2 30-26-7 1z"/>
<path color="#4629a2" d="M1820 602l8-5 31-29-8 5z"/>
<path color="#b32920" d="M1523 238l8-3 35-22-7 3z"/>
<path color="#366fbf" d="M1945 540l8-1 30-26-8 1z"/>
<path color="#bf2a22" d="M1531 235l7-2 35-21-7 1z"/>
<path color="#4330a7" d="M1828 597l7-4 32-29-8 4z"/>
<path color="#3673c2" d="M1953 539l8-1 30-26-8 1z"/>
<path color="#cb2c25" d="M1538 233l8-1 35-19-8-1z"/>
<path color="#4137ac" d="M1835 593l8-4 32-28-8 3z"/>
<path color="#da2f27" d="M1546 232l7 1 35-18-7-2z"/>
<path color="#3e3daf" d="M1843 589l8-3 31-28-7 3z"/>
<path color="#ea332a" d="M1553 233l8 2 35-17-8-3z"/>
<path color="#3e9ade" d="M955 517l28 10 43-23-28-10z"/>
<path color="#367bc4" d="M1961 538l32-2 30-25-32 1z"/>
<path color="#f2362b" d="M1561 235l7 4 36-16-8-5z"/>
<path color="#3a44b1" d="M1851 586l8-3 31-28-8 3z"/>
<path color="#f4382b" d="M1568 239l8 5 35-15-7-6z"/>
<path color="#384ab4" d="M1859 583l8-3 31-28-8 3z"/>
<path color="#f63f2b" d="M1576 244l8 6 35-14-8-7z"/>
<path color="#f9472b" d="M1584 250l7 8 35-14-7-8z"/>
<path color="#374fb6" d="M1867 580l8-3 31-27-8 2z"/>
<path color="#fc522b" d="M1591 258l8 8 35-13-8-9z"/>
<path color="#712ce5" d="M1748 607l8 23 33-13-8-19z"/>
<path color="#ff5e2b" d="M1599 266l8 10 35-12-8-11z"/>
<path color="#643ceb" d="M1740 584l8 23 33-9-8-22z"/>
<path color="#7525dd" d="M1756 630l8 13 32-30-7 4z"/>
<path color="#3f98e3" d="M983 527l29 12 42-23-28-12z"/>
<path color="#5356ef" d="M1732 562l8 22 33-8-7-23z"/>
<path color="#ff712d" d="M1607 276l8 11 34-11-7-12z"/>
<path color="#3754b7" d="M1875 577l8-2 31-28-8 3z"/>
<path color="#476ef0" d="M1725 539l7 23 34-9-8-22z"/>
<path color="#ff872e" d="M1615 287l7 13 35-12-8-12z"/>
<path color="#4384eb" d="M1717 517l8 22 33-8-8-22z"/>
<path color="#3784c5" d="M1993 536l33 1 29-25-32-1z"/>
<path color="#3f97e5" d="M1709 495l8 22 33-8-8-22z"/>
<path color="#ff9f30" d="M1622 300l8 13 35-11-8-14z"/>
<path color="#3fa6dc" d="M1701 474l8 21 33-8-8-21z"/>
<path color="#5a1ead" d="M1764 643l8-4 32-30-8 4z"/>
<path color="#ffb734" d="M1630 313l8 14 34-10-7-15z"/>
<path color="#45b8c3" d="M1693 453l8 21 33-8-7-21z"/>
<path color="#ffd038" d="M1638 327l8 15 34-9-8-16z"/>
<path color="#53c8a1" d="M1685 432l8 21 34-8-8-21z"/>
<path color="#fbe33c" d="M1646 342l8 17 34-9-8-17z"/>
<path color="#6dd278" d="M1677 413l8 19 34-8-8-19z"/>
<path color="#e0e33f" d="M1654 359l8 17 34-9-8-17z"/>
<path color="#94da5c" d="M1669 394l8 19 34-8-8-20z"/>
<path color="#bfe047" d="M1662 376l7 18 34-9-7-18z"/>
<path color="#3659b9" d="M1883 575l8-3 31-27-8 2z"/>
<path color="#4e1e9e" d="M1772 639l8-4 32-30-8 4z"/>
<path color="#365eba" d="M1891 572l8-2 31-27-8 2z"/>
<path color="#4096ec" d="M1012 539l29 14 42-23-29-14z"/>
<path color="#4c21a1" d="M1780 635l7-4 33-29-8 3z"/>
<path color="#3663bb" d="M1899 570l8-1 30-27-7 1z"/>
<path color="#4924a2" d="M1787 631l8-4 33-30-8 5z"/>
<path color="#388ac5" d="M2026 537l32 2 29-24-32-3z"/>
<path color="#3667bd" d="M1907 569l8-2 30-27-8 2z"/>
<path color="#366bbe" d="M1915 567l8-1 30-27-8 1z"/>
<path color="#452ba4" d="M1795 627l8-5 32-29-7 4z"/>
<path color="#b52920" d="M1494 258l8-4 36-21-7 2z"/>
<path color="#438df0" d="M1041 553l29 16 42-23-29-16z"/>
<path color="#3670c1" d="M1923 566l8-1 30-27-8 1z"/>
<path color="#c22a23" d="M1502 254l7-1 37-21-8 1z"/>
<path color="#4332a9" d="M1803 622l8-3 32-30-8 4z"/>
<path color="#cd2c25" d="M1509 253l8-1 36-19-7-1z"/>
<path color="#4039ac" d="M1811 619l8-4 32-29-8 3z"/>
<path color="#388ec6" d="M2058 539l33 4 28-24-32-4z"/>
<path color="#de2f28" d="M1517 252l8 2 36-19-8-2z"/>
<path color="#3679c4" d="M1931 565l32-3 30-26-32 2z"/>
<path color="#3d3faf" d="M1819 615l8-3 32-29-8 3z"/>
<path color="#3e9add" d="M911 540l28 11 44-24-28-10z"/>
<path color="#ec332b" d="M1525 254l7 3 36-18-7-4z"/>
<path color="#f1352b" d="M1532 257l8 4 36-17-8-5z"/>
<path color="#3a45b2" d="M1827 612l8-3 32-29-8 3z"/>
<path color="#f4382b" d="M1540 261l8 5 36-16-8-6z"/>
<path color="#374bb5" d="M1835 609l8-3 32-29-8 3z"/>
<path color="#f63f2b" d="M1548 266l8 7 35-15-7-8z"/>
<path color="#3992c7" d="M2091 543l33 5 28-24-33-5z"/>
<path color="#f9482b" d="M1556 273l7 8 36-15-8-8z"/>
<path color="#3f99e2" d="M939 551l29 12 44-24-29-12z"/>
<path color="#3750b6" d="M1843 606l8-3 32-28-8 2z"/>
<path color="#fd532b" d="M1563 281l8 9 36-14-8-10z"/>
<path color="#722ae2" d="M1722 640l8 23 34-20-8-13z"/>
<path color="#6936eb" d="M1714 617l8 23 34-10-8-23z"/>
<path color="#ff602b" d="M1571 290l8 10 36-13-8-11z"/>
<path color="#3682c4" d="M1963 562l33 1 30-26-33-1z"/>
<path color="#5750ee" d="M1706 593l8 24 34-10-8-23z"/>
<path color="#7023d4" d="M1730 663l8 6 34-30-8 4z"/>
<path color="#4869f1" d="M1698 570l8 23 34-9-8-22z"/>
<path color="#ff742d" d="M1579 300l8 12 35-12-7-13z"/>
<path color="#447fec" d="M1690 548l8 22 34-8-7-23z"/>
<path color="#3755b8" d="M1851 603l8-2 32-29-8 3z"/>
<path color="#ff8a2f" d="M1587 312l8 12 35-11-8-13z"/>
<path color="#3f94e8" d="M1682 525l8 23 35-9-8-22z"/>
<path color="#ffa331" d="M1595 324l8 14 35-11-8-14z"/>
<path color="#3fa2de" d="M1674 503l8 22 35-8-8-22z"/>
<path color="#44b4c9" d="M1666 482l8 21 35-8-8-21z"/>
<path color="#ffbb35" d="M1603 338l8 15 35-11-8-15z"/>
<path color="#4ec6aa" d="M1658 461l8 21 35-8-8-21z"/>
<path color="#551ea6" d="M1738 669l8-4 34-30-8 4z"/>
<path color="#ffd539" d="M1611 353l8 16 35-10-8-17z"/>
<path color="#68d080" d="M1650 441l8 20 35-8-8-21z"/>
<path color="#f6e33d" d="M1619 369l8 16 35-9-8-17z"/>
<path color="#8bd960" d="M1642 422l8 19 35-9-8-19z"/>
<path color="#dae33f" d="M1627 385l8 18 34-9-7-18z"/>
<path color="#b6df4b" d="M1635 403l7 19 35-9-8-19z"/>
<path color="#365ab9" d="M1859 601l8-2 32-29-8 2z"/>
<path color="#3a95c8" d="M2124 548l33 6 28-25-33-5z"/>
<path color="#4e1f9e" d="M1746 665l8-4 33-30-7 4z"/>
<path color="#4097ea" d="M968 563l29 13 44-23-29-14z"/>
<path color="#365fba" d="M1867 599l8-2 32-28-8 1z"/>
<path color="#4c22a2" d="M1754 661l8-3 33-31-8 4z"/>
<path color="#3789c5" d="M1996 563l32 2 30-26-32-2z"/>
<path color="#3664bc" d="M1875 597l8-2 32-28-8 2z"/>
<path color="#4926a3" d="M1762 658l8-4 33-32-8 5z"/>
<path color="#3668bd" d="M1883 595l8-2 32-27-8 1z"/>
<path color="#ab281e" d="M1457 282l8-4 37-24-8 4z"/>
<path color="#438fef" d="M997 576l29 16 44-23-29-16z"/>
<path color="#366dc0" d="M1891 593l8-1 32-27-8 1z"/>
<path color="#3a96c9" d="M2157 554l33 6 28-25-33-6z"/>
<path color="#452ca5" d="M1770 654l8-5 33-30-8 3z"/>
<path color="#b72821" d="M1465 278l7-3 37-22-7 1z"/>
<path color="#c42a23" d="M1472 275l8-2 37-21-8 1z"/>
<path color="#4233a9" d="M1778 649l8-4 33-30-8 4z"/>
<path color="#388dc6" d="M2028 565l33 4 30-26-33-4z"/>
<path color="#cf2c25" d="M1480 273l7 0 38-19-8-2z"/>
<path color="#3f3aad" d="M1786 645l8-3 33-30-8 3z"/>
<path color="#3676c3" d="M1899 592l33-3 31-27-32 3z"/>
<path color="#3e9adc" d="M865 565l29 10 45-24-28-11z"/>
<path color="#e13029" d="M1487 273l8 2 37-18-7-3z"/>
<path color="#3c40b0" d="M1794 642l8-3 33-30-8 3z"/>
<path color="#ef332b" d="M1495 275l8 3 37-17-8-4z"/>
<path color="#f1352b" d="M1503 278l8 5 37-17-8-5z"/>
<path color="#3947b3" d="M1802 639l8-4 33-29-8 3z"/>
<path color="#3991c7" d="M2061 569l34 5 29-26-33-5z"/>
<path color="#f4382b" d="M1511 283l8 6 37-16-8-7z"/>
<path color="#374cb5" d="M1810 635l8-2 33-30-8 3z"/>
<path color="#f63f2b" d="M1519 289l8 7 36-15-7-8z"/>
<path color="#3f99e1" d="M894 575l29 12 45-24-29-12z"/>
<path color="#f9492b" d="M1527 296l7 8 37-14-8-9z"/>
<path color="#3681c4" d="M1932 589l33 0 31-26-33-1z"/>
<path color="#fd542b" d="M1534 304l8 10 37-14-8-10z"/>
<path color="#3752b7" d="M1818 633l8-3 33-29-8 2z"/>
<path color="#7327e0" d="M1696 673l8 24 34-28-8-6z"/>
<path color="#6c33e9" d="M1688 650l8 23 34-10-8-23z"/>
<path color="#5b4aed" d="M1680 626l8 24 34-10-8-23z"/>
<path color="#ff622b" d="M1542 314l8 11 37-13-8-12z"/>
<path color="#4964f2" d="M1671 602l9 24 34-9-8-24z"/>
<path color="#6420be" d="M1704 697l8 0 34-32-8 4z"/>
<path color="#ff772d" d="M1550 325l8 12 37-13-8-12z"/>
<path color="#457aed" d="M1663 579l8 23 35-9-8-23z"/>
<path color="#4090e9" d="M1655 556l8 23 35-9-8-22z"/>
<path color="#ff8e2f" d="M1558 337l8 13 37-12-8-14z"/>
<path color="#3657b8" d="M1826 630l8-2 33-29-8 2z"/>
<path color="#3f9fe0" d="M1647 534l8 22 35-8-8-23z"/>
<path color="#ffa731" d="M1566 350l8 14 37-11-8-15z"/>
<path color="#42afd0" d="M1639 512l8 22 35-9-8-22z"/>
<path color="#ffc036" d="M1574 364l8 15 37-10-8-16z"/>
<path color="#4ac3b1" d="M1631 491l8 21 35-9-8-21z"/>
<path color="#ffda3a" d="M1582 379l8 17 37-11-8-16z"/>
<path color="#63ce88" d="M1623 470l8 21 35-9-8-21z"/>
<path color="#82d765" d="M1615 450l8 20 35-9-8-20z"/>
<path color="#f1e33d" d="M1590 396l9 17 36-10-8-18z"/>
<path color="#aedd4f" d="M1607 431l8 19 35-9-8-19z"/>
<path color="#d5e240" d="M1599 413l8 18 35-9-7-19z"/>
<path color="#501d9f" d="M1712 697l8-4 34-32-8 4z"/>
<path color="#3994c8" d="M2095 574l33 6 29-26-33-6z"/>
<path color="#365bb9" d="M1834 628l8-3 33-28-8 2z"/>
<path color="#4097e8" d="M923 587l29 14 45-25-29-13z"/>
<path color="#4d209f" d="M1720 693l8-4 34-31-8 3z"/>
<path color="#3660bb" d="M1842 625l9-1 32-29-8 2z"/>
<path color="#3788c5" d="M1965 589l33 2 30-26-32-2z"/>
<path color="#4b23a3" d="M1728 689l8-4 34-31-8 4z"/>
<path color="#3665bc" d="M1851 624l8-2 32-29-8 2z"/>
<path color="#a2291d" d="M1419 309l7-6 39-25-8 4z"/>
<path color="#4827a4" d="M1736 685l8-4 34-32-8 5z"/>
<path color="#366abf" d="M1859 622l8-2 32-28-8 1z"/>
<path color="#4291ef" d="M952 601l30 15 44-24-29-16z"/>
<path color="#3a96c9" d="M2128 580l34 6 28-26-33-6z"/>
<path color="#ad271f" d="M1426 303l8-5 38-23-7 3z"/>
<path color="#442ea6" d="M1744 681l8-5 34-31-8 4z"/>
<path color="#ba2821" d="M1434 298l8-2 38-23-8 2z"/>
<path color="#388dc6" d="M1998 591l33 4 30-26-33-4z"/>
<path color="#c62a24" d="M1442 296l7-1 38-22-7 0z"/>
<path color="#4135aa" d="M1752 676l8-3 34-31-8 3z"/>
<path color="#3674c2" d="M1867 620l33-3 32-28-33 3z"/>
<path color="#3e9adb" d="M818 590l29 10 47-25-29-10z"/>
<path color="#4585f2" d="M982 616l30 19 44-24-30-19z"/>
<path color="#451887" d="M1178 713l7-5 41-46-7 23z"/>
<path color="#d32c26" d="M1449 295l8 0 38-20-8-2z"/>
<path color="#3e3cae" d="M1760 673l8-4 34-30-8 3z"/>
<path color="#e43029" d="M1457 295l8 3 38-20-8-3z"/>
<path color="#3b42b1" d="M1768 669l8-3 34-31-8 4z"/>
<path color="#ef332b" d="M1465 298l8 3 38-18-8-5z"/>
<path color="#391d7f" d="M1185 708l6-23 42-46-7 23z"/>
<path color="#3990c6" d="M2031 595l34 5 30-26-34-5z"/>
<path color="#f1352b" d="M1473 301l8 5 38-17-8-6z"/>
<path color="#3848b4" d="M1776 666l8-3 34-30-8 2z"/>
<path color="#3e99e0" d="M847 600l29 12 47-25-29-12z"/>
<path color="#f4382b" d="M1481 306l8 6 38-16-8-7z"/>
<path color="#367fc4" d="M1900 617l33-1 32-27-33 0z"/>
<path color="#f63f2b" d="M1489 312l8 8 37-16-7-8z"/>
<path color="#374eb6" d="M1784 663l9-3 33-30-8 3z"/>
<path color="#fa4a2b" d="M1497 320l8 9 37-15-8-10z"/>
<path color="#6f2fe8" d="M1660 684l8 24 36-11-8-24z"/>
<path color="#7425de" d="M1668 708l9 21 35-32-8 0z"/>
<path color="#fd562b" d="M1505 329l8 10 37-14-8-11z"/>
<path color="#5f44ec" d="M1652 660l8 24 36-11-8-23z"/>
<path color="#3753b7" d="M1793 660l8-2 33-30-8 2z"/>
<path color="#4d5ef1" d="M1644 636l8 24 36-10-8-24z"/>
<path color="#ff652b" d="M1513 339l8 11 37-13-8-12z"/>
<path color="#4675ee" d="M1636 612l8 24 36-10-9-24z"/>
<path color="#ff7a2d" d="M1521 350l8 12 37-12-8-13z"/>
<path color="#5e1eb3" d="M1677 729l8-4 35-32-8 4z"/>
<path color="#418bea" d="M1627 589l9 23 35-10-8-23z"/>
<path color="#ff922f" d="M1529 362l8 14 37-12-8-14z"/>
<path color="#3f9ce2" d="M1619 566l8 23 36-10-8-23z"/>
<path color="#3994c8" d="M2065 600l34 6 29-26-33-6z"/>
<path color="#40abd6" d="M1611 543l8 23 36-10-8-22z"/>
<path color="#3658b8" d="M1801 658l8-3 33-30-8 3z"/>
<path color="#ffab32" d="M1537 376l8 15 37-12-8-15z"/>
<path color="#48bfb8" d="M1603 522l8 21 36-9-8-22z"/>
<path color="#ffc436" d="M1545 391l8 16 37-11-8-17z"/>
<path color="#5dcc91" d="M1594 500l9 22 36-10-8-21z"/>
<path color="#ffdf3b" d="M1553 407l8 17 38-11-9-17z"/>
<path color="#78d669" d="M1586 480l8 20 37-9-8-21z"/>
<path color="#4097e7" d="M876 612l30 14 46-25-29-14z"/>
<path color="#ece33e" d="M1561 424l9 18 37-11-8-18z"/>
<path color="#a5dc54" d="M1578 460l8 20 37-10-8-20z"/>
<path color="#cfe240" d="M1570 442l8 18 37-10-8-19z"/>
<path color="#4e1d9c" d="M1685 725l8-4 35-32-8 4z"/>
<path color="#365dba" d="M1809 655l8-2 34-29-9 1z"/>
<path color="#3787c5" d="M1933 616l33 2 32-27-33-2z"/>
<path color="#4d21a0" d="M1693 721l8-4 35-32-8 4z"/>
<path color="#3661bb" d="M1817 653l8-2 34-29-8 2z"/>
<path color="#4b24a3" d="M1701 717l8-4 35-32-8 4z"/>
<path color="#3667be" d="M1825 651l9-1 33-30-8 2z"/>
<path color="#a4271d" d="M1387 329l8-5 39-26-8 5z"/>
<path color="#3a96c9" d="M2099 606l34 6 29-26-34-6z"/>
<path color="#4293ee" d="M906 626l30 15 46-25-30-15z"/>
<path color="#4629a3" d="M1709 713l8-5 35-32-8 5z"/>
<path color="#af271f" d="M1395 324l7-4 40-24-8 2z"/>
<path color="#388cc5" d="M1966 618l34 4 31-27-33-4z"/>
<path color="#4330a7" d="M1717 708l8-4 35-31-8 3z"/>
<path color="#bc2822" d="M1402 320l8-3 39-22-7 1z"/>
<path color="#3671c1" d="M1834 650l33-4 33-29-33 3z"/>
<path color="#3e9bda" d="M770 616l29 10 48-26-29-10z"/>
<path color="#4487f1" d="M936 641l30 19 46-25-30-19z"/>
<path color="#4137ac" d="M1725 704l8-3 35-32-8 4z"/>
<path color="#c82924" d="M1410 317l8 0 39-22-8 0z"/>
<path color="#d72c27" d="M1418 317l8 1 39-20-8-3z"/>
<path color="#411982" d="M1142 745l7-13 42-47-6 23z"/>
<path color="#3e3dae" d="M1733 701l9-4 34-31-8 3z"/>
<path color="#e7302a" d="M1426 318l8 2 39-19-8-3z"/>
<path color="#3890c6" d="M2000 622l34 5 31-27-34-5z"/>
<path color="#3b43b1" d="M1742 697l8-3 34-31-8 3z"/>
<path color="#ee332b" d="M1434 320l8 4 39-18-8-5z"/>
<path color="#4878f5" d="M966 660l30 21 46-25-30-21z"/>
<path color="#3e99de" d="M799 626l30 12 47-26-29-12z"/>
<path color="#36217f" d="M1149 732l7-24 42-47-7 24z"/>
<path color="#357dc4" d="M1867 646l33-1 33-29-33 1z"/>
<path color="#f1352b" d="M1442 324l8 6 39-18-8-6z"/>
<path color="#3849b4" d="M1750 694l8-3 35-31-9 3z"/>
<path color="#f4382b" d="M1450 330l8 6 39-16-8-8z"/>
<path color="#f7402b" d="M1458 336l8 8 39-15-8-9z"/>
<path color="#374fb6" d="M1758 691l8-3 35-30-8 2z"/>
<path color="#fa4b2b" d="M1466 344l8 10 39-15-8-10z"/>
<path color="#712de5" d="M1632 719l8 25 37-15-9-21z"/>
<path color="#2a3181" d="M1156 708l7-24 42-46-7 23z"/>
<path color="#633eeb" d="M1624 694l8 25 36-11-8-24z"/>
<path color="#7525dd" d="M1640 744l9 14 36-33-8 4z"/>
<path color="#fe572b" d="M1474 354l8 10 39-14-8-11z"/>
<path color="#5158ef" d="M1615 670l9 24 36-10-8-24z"/>
<path color="#3754b7" d="M1766 688l9-2 34-31-8 3z"/>
<path color="#3993c8" d="M2034 627l34 6 31-27-34-6z"/>
<path color="#ff672c" d="M1482 364l8 12 39-14-8-12z"/>
<path color="#4770ef" d="M1607 646l8 24 37-10-8-24z"/>
<path color="#4286ea" d="M1598 622l9 24 37-10-8-24z"/>
<path color="#ff7d2e" d="M1490 376l9 13 38-13-8-14z"/>
<path color="#3f98e5" d="M829 638l30 14 47-26-30-14z"/>
<path color="#3f99e4" d="M1590 598l8 24 38-10-9-23z"/>
<path color="#5a1ead" d="M1649 758l8-4 36-33-8 4z"/>
<path color="#ff9630" d="M1499 389l8 14 38-12-8-15z"/>
<path color="#3fa7da" d="M1582 576l8 22 37-9-8-23z"/>
<path color="#ffaf33" d="M1507 403l8 16 38-12-8-16z"/>
<path color="#46babe" d="M1573 553l9 23 37-10-8-23z"/>
<path color="#3659b9" d="M1775 686l8-2 34-31-8 2z"/>
<path color="#58c99a" d="M1565 532l8 21 38-10-8-21z"/>
<path color="#ffc937" d="M1515 419l8 16 38-11-8-17z"/>
<path color="#72d470" d="M1557 511l8 21 38-10-9-22z"/>
<path color="#ffe33c" d="M1523 435l9 18 38-11-9-18z"/>
<path color="#9cdb58" d="M1548 490l9 21 37-11-8-20z"/>
<path color="#e7e33e" d="M1532 453l8 18 38-11-8-18z"/>
<path color="#c8e143" d="M1540 471l8 19 38-10-8-20z"/>
<path color="#3785c5" d="M1900 645l34 1 32-28-33-2z"/>
<path color="#253f80" d="M1163 684l6-24 43-45-7 23z"/>
<path color="#4e1e9d" d="M1657 754l8-4 36-33-8 4z"/>
<path color="#365eba" d="M1783 684l8-2 34-31-8 2z"/>
<path color="#4c21a0" d="M1665 750l8-4 36-33-8 4z"/>
<path color="#3763bd" d="M1791 682l8-2 35-30-9 1z"/>
<path color="#3a95c8" d="M2068 633l35 7 30-28-34-6z"/>
<path color="#4194ed" d="M859 652l30 15 47-26-30-15z"/>
<path color="#4a25a3" d="M1673 746l8-4 36-34-8 5z"/>
<path color="#a6261e" d="M1354 351l8-6 40-25-7 4z"/>
<path color="#388bc5" d="M1934 646l34 4 32-28-34-4z"/>
<path color="#462ba5" d="M1681 742l8-5 36-33-8 4z"/>
<path color="#b22620" d="M1362 345l8-3 40-25-8 3z"/>
<path color="#366ec0" d="M1799 680l34-5 34-29-33 4z"/>
<path color="#3d9bd9" d="M721 642l29 11 49-27-29-10z"/>
<path color="#4332a9" d="M1689 737l9-3 35-33-8 3z"/>
<path color="#448af1" d="M889 667l30 18 47-25-30-19z"/>
<path color="#be2823" d="M1370 342l8-2 40-23-8 0z"/>
<path color="#561ba3" d="M1098 770l8 7 43-45-7 13z"/>
<path color="#4038ac" d="M1698 734l8-4 36-33-9 4z"/>
<path color="#ca2925" d="M1378 340l8 0 40-22-8-1z"/>
<path color="#da2c28" d="M1386 340l8 1 40-21-8-2z"/>
<path color="#388fc6" d="M1968 650l35 5 31-28-34-5z"/>
<path color="#3d3faf" d="M1706 730l8-3 36-33-8 3z"/>
<path color="#3e1a7f" d="M1106 777l6-21 44-48-7 24z"/>
<path color="#e9302b" d="M1394 341l8 3 40-20-8-4z"/>
<path color="#477bf4" d="M919 685l31 21 46-25-30-21z"/>
<path color="#3e9add" d="M750 653l30 12 49-27-30-12z"/>
<path color="#357bc3" d="M1833 675l34-1 33-29-33 1z"/>
<path color="#3a45b2" d="M1714 727l8-4 36-32-8 3z"/>
<path color="#ee322b" d="M1402 344l8 5 40-19-8-6z"/>
<path color="#f1352b" d="M1410 349l8 5 40-18-8-6z"/>
<path color="#33257f" d="M1112 756l7-24 44-48-7 24z"/>
<path color="#374bb5" d="M1722 723l9-3 35-32-8 3z"/>
<path color="#f4382b" d="M1418 354l8 8 40-18-8-8z"/>
<path color="#f7412b" d="M1426 362l8 8 40-16-8-10z"/>
<path color="#3750b6" d="M1731 720l8-2 36-32-9 2z"/>
<path color="#3993c7" d="M2003 655l34 6 31-28-34-6z"/>
<path color="#4b69f8" d="M950 706l31 25 46-26-31-24z"/>
<path color="#722ae3" d="M1603 755l8 25 38-22-9-14z"/>
<path color="#fa4c2b" d="M1434 370l8 10 40-16-8-10z"/>
<path color="#6838eb" d="M1594 730l9 25 37-11-8-25z"/>
<path color="#5552ee" d="M1586 705l8 25 38-11-8-25z"/>
<path color="#7224d7" d="M1611 780l9 8 37-34-8 4z"/>
<path color="#fe592b" d="M1442 380l9 11 39-15-8-12z"/>
<path color="#3f98e4" d="M780 665l30 13 49-26-30-14z"/>
<path color="#486bf0" d="M1577 680l9 25 38-11-9-24z"/>
<path color="#283581" d="M1119 732l7-24 43-48-6 24z"/>
<path color="#3755b8" d="M1739 718l8-3 36-31-8 2z"/>
<path color="#ff6a2c" d="M1451 391l8 12 40-14-9-13z"/>
<path color="#4381eb" d="M1569 656l8 24 38-10-8-24z"/>
<path color="#3f96e6" d="M1560 632l9 24 38-10-9-24z"/>
<path color="#ff812e" d="M1459 403l8 14 40-14-8-14z"/>
<path color="#3784c5" d="M1867 674l34 1 33-29-34-1z"/>
<path color="#3fa4dc" d="M1552 609l8 23 38-10-8-24z"/>
<path color="#ff9a30" d="M1467 417l9 15 39-13-8-16z"/>
<path color="#561ea7" d="M1620 788l8-4 37-34-8 4z"/>
<path color="#45b6c4" d="M1543 586l9 23 38-11-8-22z"/>
<path color="#ffb333" d="M1476 432l8 15 39-12-8-16z"/>
<path color="#52c7a2" d="M1535 564l8 22 39-10-9-23z"/>
<path color="#ffcd38" d="M1484 447l8 17 40-11-9-18z"/>
<path color="#6cd279" d="M1526 542l9 22 38-11-8-21z"/>
<path color="#fde33c" d="M1492 464l9 18 39-11-8-18z"/>
<path color="#93d95c" d="M1518 521l8 21 39-10-8-21z"/>
<path color="#e1e23f" d="M1501 482l8 19 39-11-8-19z"/>
<path color="#bfe047" d="M1509 501l9 20 39-10-9-21z"/>
<path color="#365ab9" d="M1747 715l9-2 35-31-8 2z"/>
<path color="#4d1f9e" d="M1628 784l8-4 37-34-8 4z"/>
<path color="#25437f" d="M1126 708l7-24 43-47-7 23z"/>
<path color="#3760bc" d="M1756 713l8-2 35-31-8 2z"/>
<path color="#3a95c8" d="M2037 661l35 7 31-28-35-7z"/>
<path color="#4096ec" d="M810 678l30 16 49-27-30-15z"/>
<path color="#4c22a1" d="M1636 780l8-4 37-34-8 4z"/>
<path color="#388ac5" d="M1901 675l34 4 33-29-34-4z"/>
<path color="#22507c" d="M1133 684l6-24 44-46-7 23z"/>
<path color="#4926a4" d="M1644 776l9-4 36-35-8 5z"/>
<path color="#a8251e" d="M1321 373l7-5 42-26-8 3z"/>
<path color="#366abf" d="M1764 711l34-5 35-31-34 5z"/>
<path color="#452ca6" d="M1653 772l8-5 37-33-9 3z"/>
<path color="#3d9bd8" d="M670 669l29 11 51-27-29-11z"/>
<path color="#b42621" d="M1328 368l8-3 42-25-8 2z"/>
<path color="#438cf0" d="M840 694l31 18 48-27-30-18z"/>
<path color="#225976" d="M1139 660l7-23 44-45-7 22z"/>
<path color="#7425db" d="M1052 795l8 8 46-26-8-7z"/>
<path color="#4233aa" d="M1661 767l8-4 37-33-8 4z"/>
<path color="#c12723" d="M1336 365l8-2 42-23-8 0z"/>
<path color="#4d1994" d="M1060 803l8 3 44-50-6 21z"/>
<path color="#3f3aad" d="M1669 763l9-3 36-33-8 3z"/>
<path color="#cc2925" d="M1344 363l8 0 42-22-8-1z"/>
<path color="#388ec6" d="M1935 679l35 5 33-29-35-5z"/>
<path color="#266466" d="M1146 637l7-23 44-44-7 22z"/>
<path color="#de2d29" d="M1352 363l8 2 42-21-8-3z"/>
<path color="#3579c2" d="M1798 706l34-2 35-30-34 1z"/>
<path color="#467ef3" d="M871 712l31 21 48-27-31-21z"/>
<path color="#3c40b0" d="M1678 760l8-3 36-34-8 4z"/>
<path color="#3e9adc" d="M699 680l30 12 51-27-30-12z"/>
<path color="#3b1b7e" d="M1068 806l6-24 45-50-7 24z"/>
<path color="#eb302b" d="M1360 365l8 4 42-20-8-5z"/>
<path color="#3946b3" d="M1686 757l8-4 37-33-9 3z"/>
<path color="#ee322b" d="M1368 369l9 5 41-20-8-5z"/>
<path color="#f0352b" d="M1377 374l8 6 41-18-8-8z"/>
<path color="#374cb5" d="M1694 753l9-2 36-33-8 2z"/>
<path color="#30297f" d="M1074 782l7-25 45-49-7 24z"/>
<path color="#f4382b" d="M1385 380l8 7 41-17-8-8z"/>
<path color="#3992c7" d="M1970 684l35 6 32-29-34-6z"/>
<path color="#4a6df7" d="M902 733l31 24 48-26-31-25z"/>
<path color="#f7412b" d="M1393 387l8 9 41-16-8-10z"/>
<path color="#3f99e2" d="M729 692l31 14 50-28-30-13z"/>
<path color="#3751b7" d="M1703 751l8-3 36-33-8 3z"/>
<path color="#7328e0" d="M1573 793l8 25 39-30-9-8z"/>
<path color="#6b33ea" d="M1564 767l9 26 38-13-8-25z"/>
<path color="#fb4d2b" d="M1401 396l9 11 41-16-9-11z"/>
<path color="#594ced" d="M1555 742l9 25 39-12-9-25z"/>
<path color="#3683c4" d="M1832 704l35 1 34-30-34-1z"/>
<path color="#ff5b2b" d="M1410 407l8 11 41-15-8-12z"/>
<path color="#4966f1" d="M1547 716l8 26 39-12-8-25z"/>
<path color="#6520c0" d="M1581 818l9 1 38-35-8 4z"/>
<path color="#447cec" d="M1538 692l9 24 39-11-9-25z"/>
<path color="#ff6d2c" d="M1418 418l9 13 40-14-8-14z"/>
<path color="#3756b8" d="M1711 748l9-2 36-33-9 2z"/>
<path color="#3f92e8" d="M1530 667l8 25 39-12-8-24z"/>
<path color="#273981" d="M1081 757l7-24 45-49-7 24z"/>
<path color="#ff852e" d="M1427 431l8 14 41-13-9-15z"/>
<path color="#3fa1de" d="M1521 643l9 24 39-11-9-24z"/>
<path color="#43b2cb" d="M1512 620l9 23 39-11-8-23z"/>
<path color="#ff9e30" d="M1435 445l9 16 40-14-8-15z"/>
<path color="#4cc5ab" d="M1504 597l8 23 40-11-9-23z"/>
<path color="#ffb734" d="M1444 461l8 16 40-13-8-17z"/>
<path color="#67cf81" d="M1495 575l9 22 39-11-8-22z"/>
<path color="#511d9f" d="M1590 819l8-4 38-35-8 4z"/>
<path color="#ffd239" d="M1452 477l9 18 40-13-9-18z"/>
<path color="#8ad860" d="M1486 553l9 22 40-11-9-22z"/>
<path color="#f8e33d" d="M1461 495l8 18 40-12-8-19z"/>
<path color="#b6de4b" d="M1478 533l8 20 40-11-8-21z"/>
<path color="#dbe23f" d="M1469 513l9 20 40-12-9-20z"/>
<path color="#5855f5" d="M933 757l32 27 47-26-31-27z"/>
<path color="#375cbb" d="M1720 746l8-3 36-32-8 2z"/>
<path color="#3994c8" d="M2005 690l35 7 32-29-35-7z"/>
<path color="#4d209f" d="M1598 815l8-4 38-35-8 4z"/>
<path color="#4096ea" d="M760 706l30 15 50-27-30-16z"/>
<path color="#24467e" d="M1088 733l7-25 44-48-6 24z"/>
<path color="#4b23a3" d="M1606 811l9-4 38-35-9 4z"/>
<path color="#3789c5" d="M1867 705l35 3 33-29-34-4z"/>
<path color="#3667be" d="M1728 743l34-6 36-31-34 5z"/>
<path color="#4827a4" d="M1615 807l8-4 38-36-8 5z"/>
<path color="#22527a" d="M1095 708l6-24 45-47-7 23z"/>
<path color="#3d9bd7" d="M617 698l30 11 52-29-29-11z"/>
<path color="#aa251f" d="M1286 396l8-5 42-26-8 3z"/>
<path color="#438ef0" d="M790 721l31 18 50-27-31-18z"/>
<path color="#442ea7" d="M1623 803l8-5 38-35-8 4z"/>
<path color="#b62621" d="M1294 391l8-3 42-25-8 2z"/>
<path color="#6b21ca" d="M1013 829l8 8 47-31-8-3z"/>
<path color="#225b74" d="M1101 684l7-23 45-47-7 23z"/>
<path color="#4135aa" d="M1631 798l9-4 38-34-9 3z"/>
<path color="#c32724" d="M1302 388l8-1 42-24-8 0z"/>
<path color="#388ec6" d="M1902 708l35 5 33-29-35-5z"/>
<path color="#451887" d="M1021 837l8-4 45-51-6 24z"/>
<path color="#3f3bae" d="M1640 794l8-3 38-34-8 3z"/>
<path color="#cf2926" d="M1310 387l8 1 42-23-8-2z"/>
<path color="#3676c2" d="M1762 737l35-2 35-31-34 2z"/>
<path color="#3e9adb" d="M647 709l30 12 52-29-30-12z"/>
<path color="#4681f3" d="M821 739l31 21 50-27-31-21z"/>
<path color="#276861" d="M1108 661l7-23 45-45-7 21z"/>
<path color="#e12d29" d="M1318 388l8 2 42-21-8-4z"/>
<path color="#3b42b1" d="M1648 791l9-3 37-35-8 4z"/>
<path color="#391d7f" d="M1029 833l6-25 46-51-7 25z"/>
<path color="#ec302b" d="M1326 390l8 4 43-20-9-5z"/>
<path color="#3948b4" d="M1657 788l8-4 38-33-9 2z"/>
<path color="#ee322b" d="M1334 394l8 6 43-20-8-6z"/>
<path color="#3991c7" d="M1937 713l35 6 33-29-35-6z"/>
<path color="#366f48" d="M1115 638l7-22 45-45-7 22z"/>
<path color="#f0352b" d="M1342 400l9 6 42-19-8-7z"/>
<path color="#4970f6" d="M852 760l32 24 49-27-31-24z"/>
<path color="#374db6" d="M1665 784l9-2 37-34-8 3z"/>
<path color="#3f99e1" d="M677 721l31 13 52-28-31-14z"/>
<path color="#f4382b" d="M1351 406l8 8 42-18-8-9z"/>
<path color="#2d2d80" d="M1035 808l7-25 46-50-7 24z"/>
<path color="#3681c4" d="M1797 735l35 1 35-31-35-1z"/>
<path color="#f7422b" d="M1359 414l9 10 42-17-9-11z"/>
<path color="#6e30e8" d="M1533 805l9 26 39-13-8-25z"/>
<path color="#7426de" d="M1542 831l9 24 39-36-9-1z"/>
<path color="#3753b7" d="M1674 782l8-3 38-33-9 2z"/>
<path color="#5d46ec" d="M1524 779l9 26 40-12-9-26z"/>
<path color="#fb4f2b" d="M1368 424l8 11 42-17-8-11z"/>
<path color="#4c60f1" d="M1515 754l9 25 40-12-9-25z"/>
<path color="#4b7533" d="M1122 616l7-21 45-44-7 20z"/>
<path color="#ff5c2b" d="M1376 435l9 12 42-16-9-13z"/>
<path color="#4577ed" d="M1507 728l8 26 40-12-8-26z"/>
<path color="#5f1eb4" d="M1551 855l8-4 39-36-8 4z"/>
<path color="#408de9" d="M1498 703l9 25 40-12-9-24z"/>
<path color="#ff702c" d="M1385 447l8 13 42-15-8-14z"/>
<path color="#3f9ee0" d="M1489 679l9 24 40-11-8-25z"/>
<path color="#3758ba" d="M1682 779l9-2 37-34-8 3z"/>
<path color="#ff882e" d="M1393 460l9 15 42-14-9-16z"/>
<path color="#41add2" d="M1480 654l9 25 41-12-9-24z"/>
<path color="#545af6" d="M884 784l32 27 49-27-32-27z"/>
<path color="#ffa331" d="M1402 475l8 16 42-14-8-16z"/>
<path color="#49c1b3" d="M1471 631l9 23 41-11-9-23z"/>
<path color="#ffbc35" d="M1410 491l9 17 42-13-9-18z"/>
<path color="#61cd8a" d="M1463 608l8 23 41-11-8-23z"/>
<path color="#263c80" d="M1042 783l7-25 46-50-7 25z"/>
<path color="#81d765" d="M1454 586l9 22 41-11-9-22z"/>
<path color="#ffd739" d="M1419 508l9 18 41-13-8-18z"/>
<path color="#aedd4f" d="M1445 565l9 21 41-11-9-22z"/>
<path color="#f3e33d" d="M1428 526l8 19 42-12-9-20z"/>
<path color="#d5e240" d="M1436 545l9 20 41-12-8-20z"/>
<path color="#4e1d9b" d="M1559 851l8-4 39-36-8 4z"/>
<path color="#3994c8" d="M1972 719l36 7 32-29-35-7z"/>
<path color="#4097e9" d="M708 734l31 15 51-28-30-15z"/>
<path color="#4d21a0" d="M1567 847l9-5 39-35-9 4z"/>
<path color="#3788c5" d="M1832 736l35 3 35-31-35-3z"/>
<path color="#6442f2" d="M916 811l24 22 49-27-24-22z"/>
<path color="#234a7d" d="M1049 758l6-25 46-49-6 24z"/>
<path color="#3764bd" d="M1691 777l34-7 37-33-34 6z"/>
<path color="#4b24a4" d="M1576 842l8-4 39-35-8 4z"/>
<path color="#3d9bd6" d="M563 727l30 11 54-29-30-11z"/>
<path color="#4729a5" d="M1584 838l9-3 38-37-8 5z"/>
<path color="#4290ef" d="M739 749l31 18 51-28-31-18z"/>
<path color="#225479" d="M1055 733l7-24 46-48-7 23z"/>
<path color="#ac241f" d="M1250 420l8-5 44-27-8 3z"/>
<path color="#4430a7" d="M1593 835l8-5 39-36-9 4z"/>
<path color="#b92522" d="M1258 415l8-2 44-26-8 1z"/>
<path color="#388dc6" d="M1867 739l35 5 35-31-35-5z"/>
<path color="#601eb6" d="M973 864l8 8 48-39-8 4z"/>
<path color="#4136ab" d="M1601 830l9-4 38-35-8 3z"/>
<path color="#3673c1" d="M1725 770l35-3 37-32-35 2z"/>
<path color="#235e6f" d="M1062 709l7-24 46-47-7 23z"/>
<path color="#c52724" d="M1266 413l8-1 44-24-8-1z"/>
<path color="#3e9ada" d="M593 738l31 12 53-29-30-12z"/>
<path color="#4584f2" d="M770 767l31 21 51-28-31-21z"/>
<path color="#411983" d="M981 872l7-12 47-52-6 25z"/>
<path color="#3e3dae" d="M1610 826l8-3 39-35-9 3z"/>
<path color="#d32927" d="M1274 412l8 2 44-24-8-2z"/>
<path color="#e32d2a" d="M1282 414l8 2 44-22-8-4z"/>
<path color="#2a6a5b" d="M1069 685l7-23 46-46-7 22z"/>
<path color="#3b43b1" d="M1618 823l9-3 38-36-8 4z"/>
<path color="#eb2f2b" d="M1290 416l9 5 43-21-8-6z"/>
<path color="#3991c6" d="M1902 744l36 6 34-31-35-6z"/>
<path color="#36217f" d="M988 860l7-25 47-52-7 25z"/>
<path color="#3849b4" d="M1627 820l8-3 39-35-9 2z"/>
<path color="#4974f5" d="M801 788l32 24 51-28-32-24z"/>
<path color="#ed322b" d="M1299 421l8 5 44-20-9-6z"/>
<path color="#3f99e0" d="M624 750l30 13 54-29-31-13z"/>
<path color="#f0352b" d="M1307 426l9 8 43-20-8-8z"/>
<path color="#3680c4" d="M1760 767l35 1 37-32-35-1z"/>
<path color="#3a7141" d="M1076 662l7-22 46-45-7 21z"/>
<path color="#374fb6" d="M1635 817l9-3 38-35-8 3z"/>
<path color="#f4392b" d="M1316 434l8 8 44-18-9-10z"/>
<path color="#702de6" d="M1501 845l9 26 41-16-9-24z"/>
<path color="#f8432b" d="M1324 442l9 10 43-17-8-11z"/>
<path color="#2a3181" d="M995 835l6-26 48-51-7 25z"/>
<path color="#7525dd" d="M1510 871l9 17 40-37-8 4z"/>
<path color="#623feb" d="M1492 818l9 27 41-14-9-26z"/>
<path color="#3755b9" d="M1644 814l8-3 39-34-9 2z"/>
<path color="#505aef" d="M1483 792l9 26 41-13-9-26z"/>
<path color="#fc502b" d="M1333 452l8 12 44-17-9-12z"/>
<path color="#4672ee" d="M1474 766l9 26 41-13-9-25z"/>
<path color="#ff5e2b" d="M1341 464l9 12 43-16-8-13z"/>
<path color="#4288ea" d="M1465 740l9 26 41-12-8-26z"/>
<path color="#515ff7" d="M833 812l33 27 50-28-32-27z"/>
<path color="#5a1eae" d="M1519 888l8-4 40-37-8 4z"/>
<path color="#537630" d="M1083 640l7-21 47-45-8 21z"/>
<path color="#ff742d" d="M1350 476l9 14 43-15-9-15z"/>
<path color="#3f9ae2" d="M1456 715l9 25 42-12-9-25z"/>
<path color="#3993c7" d="M1938 750l36 7 34-31-36-7z"/>
<path color="#3fa9d8" d="M1447 691l9 24 42-12-9-24z"/>
<path color="#ff8c2f" d="M1359 490l8 16 43-15-8-16z"/>
<path color="#47bdb9" d="M1438 667l9 24 42-12-9-25z"/>
<path color="#ffa731" d="M1367 506l9 16 43-14-9-17z"/>
<path color="#5ccb92" d="M1429 643l9 24 42-13-9-23z"/>
<path color="#ffc136" d="M1376 522l9 18 43-14-9-18z"/>
<path color="#77d569" d="M1420 621l9 22 42-12-8-23z"/>
<path color="#4097e7" d="M654 763l31 16 54-30-31-15z"/>
<path color="#ffdc3a" d="M1385 540l9 18 42-13-8-19z"/>
<path color="#a5dc53" d="M1412 599l8 22 43-13-9-22z"/>
<path color="#ede33d" d="M1394 558l9 20 42-13-9-20z"/>
<path color="#cfe140" d="M1403 578l9 21 42-13-9-21z"/>
<path color="#253f7f" d="M1001 809l7-25 47-51-6 25z"/>
<path color="#4e1e9c" d="M1527 884l9-5 40-37-9 5z"/>
<path color="#3787c5" d="M1795 768l36 2 36-31-35-3z"/>
<path color="#6e7a23" d="M1090 619l8-21 46-43-7 19z"/>
<path color="#3760bc" d="M1652 811l35-7 38-34-34 7z"/>
<path color="#6147f3" d="M866 839l24 22 50-28-24-22z"/>
<path color="#4c21a1" d="M1536 879l8-4 40-37-8 4z"/>
<path color="#224d7d" d="M1008 784l7-25 47-50-7 24z"/>
<path color="#6a39f0" d="M890 861l8 8 50-28-8-8z"/>
<path color="#4a25a4" d="M1544 875l9-4 40-36-9 3z"/>
<path color="#817b21" d="M1098 598l7-19 46-42-7 18z"/>
<path color="#4293ef" d="M685 779l32 17 53-29-31-18z"/>
<path color="#6d33ed" d="M898 869l8 8 50-28-8-8z"/>
<path color="#702fe8" d="M906 877l9 8 50-28-9-8z"/>
<path color="#462ba5" d="M1553 871l8-4 40-37-8 5z"/>
<path color="#ae2420" d="M1213 444l8-4 45-27-8 2z"/>
<path color="#388cc5" d="M1831 770l36 5 35-31-35-5z"/>
<path color="#225777" d="M1015 759l7-24 47-50-7 24z"/>
<path color="#8e751f" d="M1105 579l7-18 46-41-7 17z"/>
<path color="#4331a9" d="M1561 867l9-4 40-37-9 4z"/>
<path color="#3671c0" d="M1687 804l35-4 38-33-35 3z"/>
<path color="#bb2522" d="M1221 440l8-2 45-26-8 1z"/>
<path color="#571ca5" d="M931 901l8 8 49-49-7 12z"/>
<path color="#4587f1" d="M717 796l32 21 52-29-31-21z"/>
<path color="#4038ac" d="M1570 863l8-4 40-36-8 3z"/>
<path color="#c72625" d="M1229 438l8 0 45-24-8-2z"/>
<path color="#25626a" d="M1022 735l7-24 47-49-7 23z"/>
<path color="#3d3eaf" d="M1578 859l9-3 40-36-9 3z"/>
<path color="#d72928" d="M1237 438l8 2 45-24-8-2z"/>
<path color="#3e1980" d="M939 909l7-21 49-53-7 25z"/>
<path color="#3890c6" d="M1867 775l36 6 35-31-36-6z"/>
<path color="#e62d2b" d="M1245 440l9 3 45-22-9-5z"/>
<path color="#3a45b2" d="M1587 856l9-3 39-36-8 3z"/>
<path color="#2e6c54" d="M1029 711l7-23 47-48-7 22z"/>
<path color="#4877f5" d="M749 817l32 24 52-29-32-24z"/>
<path color="#eb2f2b" d="M1254 443l8 5 45-22-8-5z"/>
<path color="#367ec4" d="M1722 800l36 0 37-32-35-1z"/>
<path color="#33257f" d="M946 888l7-25 48-54-6 26z"/>
<path color="#374bb5" d="M1596 853l8-3 40-36-9 3z"/>
<path color="#ed312b" d="M1262 448l9 6 45-20-9-8z"/>
<path color="#f1352b" d="M1271 454l8 8 45-20-8-8z"/>
<path color="#3751b8" d="M1604 850l9-3 39-36-8 3z"/>
<path color="#3f723a" d="M1036 688l7-23 47-46-7 21z"/>
<path color="#f4392b" d="M1279 462l9 9 45-19-9-10z"/>
<path color="#722be3" d="M1468 885l9 27 42-24-9-17z"/>
<path color="#6639eb" d="M1459 858l9 27 42-14-9-26z"/>
<path color="#f8452b" d="M1288 471l9 11 44-18-8-12z"/>
<path color="#7325db" d="M1477 912l9 10 41-38-8 4z"/>
<path color="#5454ee" d="M1450 832l9 26 42-13-9-27z"/>
<path color="#4d64f8" d="M781 841l33 27 52-29-33-27z"/>
<path color="#283581" d="M953 863l7-26 48-53-7 25z"/>
<path color="#fc522b" d="M1297 482l8 12 45-18-9-12z"/>
<path color="#476def" d="M1440 805l10 27 42-14-9-26z"/>
<path color="#3993c7" d="M1903 781l36 8 35-32-36-7z"/>
<path color="#4383eb" d="M1431 779l9 26 43-13-9-26z"/>
<path color="#ff612b" d="M1305 494l9 13 45-17-9-14z"/>
<path color="#3f97e5" d="M1422 753l9 26 43-13-9-26z"/>
<path color="#ff772d" d="M1314 507l9 14 44-15-8-16z"/>
<path color="#3fa6da" d="M1413 728l9 25 43-13-9-25z"/>
<path color="#561ea8" d="M1486 922l8-4 42-39-9 5z"/>
<path color="#ff912f" d="M1323 521l9 16 44-15-9-16z"/>
<path color="#46b9c0" d="M1404 703l9 25 43-13-9-24z"/>
<path color="#5b772c" d="M1043 665l7-21 48-46-8 21z"/>
<path color="#56c99b" d="M1395 679l9 24 43-12-9-24z"/>
<path color="#ffab32" d="M1332 537l9 17 44-14-9-18z"/>
<path color="#71d371" d="M1386 656l9 23 43-12-9-24z"/>
<path color="#ffc537" d="M1341 554l9 19 44-15-9-18z"/>
<path color="#9cda58" d="M1377 634l9 22 43-13-9-22z"/>
<path color="#ffe23b" d="M1350 573l9 19 44-14-9-20z"/>
<path color="#c8e142" d="M1368 612l9 22 43-13-8-22z"/>
<path color="#e8e23e" d="M1359 592l9 20 44-13-9-21z"/>
<path color="#3786c5" d="M1758 800l36 3 37-33-36-2z"/>
<path color="#375dbb" d="M1613 847l35-8 39-35-35 7z"/>
<path color="#4d1f9d" d="M1494 918l9-5 41-38-8 4z"/>
<path color="#5d4df4" d="M814 868l24 22 52-29-24-22z"/>
<path color="#24437f" d="M960 837l6-26 49-52-7 25z"/>
<path color="#747a22" d="M1050 644l7-21 48-44-7 19z"/>
<path color="#4b22a1" d="M1503 913l8-4 42-38-9 4z"/>
<path color="#663ef1" d="M838 890l9 8 51-29-8-8z"/>
<path color="#6b37f0" d="M847 898l8 8 51-29-8-8z"/>
<path color="#4926a5" d="M1511 909l9-4 41-38-8 4z"/>
<path color="#22507c" d="M966 811l7-25 49-51-7 24z"/>
<path color="#6e32ec" d="M855 906l8 8 52-29-9-8z"/>
<path color="#877b21" d="M1057 623l7-19 48-43-7 18z"/>
<path color="#388bc5" d="M1794 803l36 5 37-33-36-5z"/>
<path color="#702ee7" d="M863 914l9 8 51-29-8-8z"/>
<path color="#462da7" d="M1520 905l9-4 41-38-9 4z"/>
<path color="#7229e2" d="M872 922l8 8 51-29-8-8z"/>
<path color="#366ebf" d="M1648 839l36-4 38-35-35 4z"/>
<path color="#b12420" d="M1174 470l8-3 47-29-8 2z"/>
<path color="#225975" d="M973 786l7-25 49-50-7 24z"/>
<path color="#7425dd" d="M880 930l8 8 51-29-8-8z"/>
<path color="#8f701e" d="M1064 604l8-18 48-42-8 17z"/>
<path color="#4333aa" d="M1529 901l8-4 41-38-8 4z"/>
<path color="#bd2523" d="M1182 467l9-2 46-27-8 0z"/>
<path color="#4f1a96" d="M888 938l8 6 50-56-7 21z"/>
<path color="#3f3aad" d="M1537 897l9-4 41-37-9 3z"/>
<path color="#c82625" d="M1191 465l8 0 46-25-8-2z"/>
<path color="#92601c" d="M1072 586l7-17 48-40-7 15z"/>
<path color="#266565" d="M980 761l7-24 49-49-7 23z"/>
<path color="#388fc6" d="M1830 808l37 6 36-33-36-6z"/>
<path color="#3c40b0" d="M1546 893l9-3 41-37-9 3z"/>
<path color="#da2929" d="M1199 465l9 2 46-24-9-3z"/>
<path color="#3b1b7f" d="M896 944l7-26 50-55-7 25z"/>
<path color="#e82d2b" d="M1208 467l8 4 46-23-8-5z"/>
<path color="#357cc3" d="M1684 835l35-1 39-34-36 0z"/>
<path color="#93511a" d="M1079 569l8-16 48-38-8 14z"/>
<path color="#3946b3" d="M1555 890l8-3 41-37-8 3z"/>
<path color="#eb2f2b" d="M1216 471l9 5 46-22-9-6z"/>
<path color="#336e4d" d="M987 737l7-23 49-49-7 23z"/>
<path color="#ed312b" d="M1225 476l8 7 46-21-8-8z"/>
<path color="#384db7" d="M1563 887l9-3 41-37-9 3z"/>
<path color="#30297f" d="M903 918l7-27 50-54-7 26z"/>
<path color="#f1352b" d="M1233 483l9 8 46-20-9-9z"/>
<path color="#f53a2b" d="M1242 491l9 10 46-19-9-11z"/>
<path color="#7328e1" d="M1434 927l9 28 43-33-9-10z"/>
<path color="#3992c7" d="M1867 814l37 7 35-32-36-8z"/>
<path color="#6a34ea" d="M1424 900l10 27 43-15-9-27z"/>
<path color="#467436" d="M994 714l7-23 49-47-7 21z"/>
<path color="#584eed" d="M1415 873l9 27 44-15-9-27z"/>
<path color="#f8462b" d="M1251 501l9 11 45-18-8-12z"/>
<path color="#6721c4" d="M1443 955l9 2 42-39-8 4z"/>
<path color="#4868f0" d="M1406 845l9 28 44-15-9-26z"/>
<path color="#fd532b" d="M1260 512l8 13 46-18-9-13z"/>
<path color="#447eec" d="M1396 819l10 26 44-13-10-27z"/>
<path color="#ff632b" d="M1268 525l9 13 46-17-9-14z"/>
<path color="#3f94e7" d="M1387 792l9 27 44-14-9-26z"/>
<path color="#273881" d="M910 891l6-26 50-54-6 26z"/>
<path color="#3784c5" d="M1719 834l37 3 38-34-36-3z"/>
<path color="#3fa2dd" d="M1378 766l9 26 44-13-9-26z"/>
<path color="#ff7b2d" d="M1277 538l9 16 46-17-9-16z"/>
<path color="#3759ba" d="M1572 884l36-9 40-36-35 8z"/>
<path color="#44b4c6" d="M1369 741l9 25 44-13-9-25z"/>
<path color="#ff9530" d="M1286 554l9 16 46-16-9-17z"/>
<path color="#511da0" d="M1452 957l8-4 43-40-9 5z"/>
<path color="#50c6a4" d="M1359 717l10 24 44-13-9-25z"/>
<path color="#ffaf33" d="M1295 570l9 18 46-15-9-19z"/>
<path color="#6bd17a" d="M1350 693l9 24 45-14-9-24z"/>
<path color="#ffca37" d="M1304 588l9 19 46-15-9-19z"/>
<path color="#92d95c" d="M1341 670l9 23 45-14-9-23z"/>
<path color="#ffe33c" d="M1313 607l10 20 45-15-9-20z"/>
<path color="#bfdf46" d="M1332 648l9 22 45-14-9-22z"/>
<path color="#e2e23e" d="M1323 627l9 21 45-14-9-22z"/>
<path color="#627828" d="M1001 691l7-22 49-46-7 21z"/>
<path color="#4d209e" d="M1460 953l9-4 42-40-8 4z"/>
<path color="#24467e" d="M916 865l7-26 50-53-7 25z"/>
<path color="#797a22" d="M1008 669l7-20 49-45-7 19z"/>
<path color="#4b23a2" d="M1469 949l9-5 42-39-9 4z"/>
<path color="#388ac5" d="M1756 837l36 4 38-33-36-5z"/>
<path color="#4828a5" d="M1478 944l8-4 43-39-9 4z"/>
<path color="#22527a" d="M923 839l7-25 50-53-7 25z"/>
<path color="#366abe" d="M1608 875l35-5 41-35-36 4z"/>
<path color="#8c7b20" d="M1015 649l8-20 49-43-8 18z"/>
<path color="#a7221e" d="M1126 502l9-5 47-30-8 3z"/>
<path color="#452ea7" d="M1486 940l9-4 42-39-8 4z"/>
<path color="#b32321" d="M1135 497l8-3 48-29-9 2z"/>
<path color="#4235ab" d="M1495 936l9-4 42-39-9 4z"/>
<path color="#225b73" d="M930 814l7-25 50-52-7 24z"/>
<path color="#8f6b1e" d="M1023 629l7-18 49-42-7 17z"/>
<path color="#bf2424" d="M1143 494l8-2 48-27-8 0z"/>
<path color="#3f3bae" d="M1504 932l9-3 42-39-9 3z"/>
<path color="#388ec6" d="M1792 841l37 7 38-34-37-6z"/>
<path color="#cb2626" d="M1151 492l9 1 48-26-9-2z"/>
<path color="#925c1b" d="M1030 611l8-16 49-42-8 16z"/>
<path color="#276860" d="M937 789l7-25 50-50-7 23z"/>
<path color="#3579c3" d="M1643 870l37-1 39-35-35 1z"/>
<path color="#3c41b0" d="M1513 929l8-4 42-38-8 3z"/>
<path color="#dd2a29" d="M1160 493l8 3 48-25-8-4z"/>
<path color="#e82d2b" d="M1168 496l9 4 48-24-9-5z"/>
<path color="#3948b5" d="M1521 925l9-3 42-38-9 3z"/>
<path color="#934c1a" d="M1038 595l7-16 50-39-8 13z"/>
<path color="#ea2f2b" d="M1177 500l9 6 47-23-8-7z"/>
<path color="#376f46" d="M944 764l7-23 50-50-7 23z"/>
<path color="#ed312b" d="M1186 506l8 7 48-22-9-8z"/>
<path color="#3992c7" d="M1829 848l38 7 37-34-37-7z"/>
<path color="#f1352b" d="M1194 513l9 9 48-21-9-10z"/>
<path color="#933d19" d="M1045 579l8-13 49-38-7 12z"/>
<path color="#6d31e8" d="M1389 943l9 28 45-16-9-28z"/>
<path color="#7426de" d="M1398 971l10 27 44-41-9-2z"/>
<path color="#f53b2b" d="M1203 522l9 10 48-20-9-11z"/>
<path color="#5c47ec" d="M1379 915l10 28 45-16-10-27z"/>
<path color="#f9472b" d="M1212 532l9 12 47-19-8-13z"/>
<path color="#4a62f1" d="M1370 887l9 28 45-15-9-27z"/>
<path color="#3683c4" d="M1680 869l36 3 40-35-37-3z"/>
<path color="#4e7532" d="M951 741l7-23 50-49-7 22z"/>
<path color="#3755b9" d="M1530 922l36-9 42-38-36 9z"/>
<path color="#601eb5" d="M1408 998l8-4 44-41-8 4z"/>
<path color="#4579ed" d="M1360 860l10 27 45-14-9-28z"/>
<path color="#fd552b" d="M1221 544l9 13 47-19-9-13z"/>
<path color="#933219" d="M1053 566l8-12 49-37-8 11z"/>
<path color="#408fe8" d="M1351 833l9 27 46-15-10-26z"/>
<path color="#ff672c" d="M1230 557l9 14 47-17-9-16z"/>
<path color="#3f9fdf" d="M1341 806l10 27 45-14-9-27z"/>
<path color="#42b0cd" d="M1332 781l9 25 46-14-9-26z"/>
<path color="#ff7f2e" d="M1239 571l9 16 47-17-9-16z"/>
<path color="#4bc4ae" d="M1323 755l9 26 46-15-9-25z"/>
<path color="#ff9930" d="M1248 587l9 17 47-16-9-18z"/>
<path color="#66cf82" d="M1313 731l10 24 46-14-10-24z"/>
<path color="#ffb434" d="M1257 604l10 19 46-16-9-19z"/>
<path color="#89d761" d="M1304 707l9 24 46-14-9-24z"/>
<path color="#4e1d9b" d="M1416 994l9-5 44-40-9 4z"/>
<path color="#ffcf38" d="M1267 623l9 19 47-15-10-20z"/>
<path color="#b6de4b" d="M1295 685l9 22 46-14-9-23z"/>
<path color="#fae33c" d="M1276 642l9 21 47-15-9-21z"/>
<path color="#dce23f" d="M1285 663l10 22 46-15-9-22z"/>
<path color="#6a7925" d="M958 718l7-22 50-47-7 20z"/>
<path color="#4c209f" d="M1425 989l9-4 44-41-9 5z"/>
<path color="#4b24a3" d="M1434 985l9-4 43-41-8 4z"/>
<path color="#3789c5" d="M1716 872l37 4 39-35-36-4z"/>
<path color="#7e7a21" d="M965 696l7-21 51-46-8 20z"/>
<path color="#3667bd" d="M1566 913l36-6 41-37-35 5z"/>
<path color="#9e221d" d="M1077 535l8-6 50-32-9 5z"/>
<path color="#4829a6" d="M1443 981l8-4 44-41-9 4z"/>
<path color="#a9221f" d="M1085 529l9-5 49-30-8 3z"/>
<path color="#8d7720" d="M972 675l8-19 50-45-7 18z"/>
<path color="#4430a8" d="M1451 977l9-4 44-41-9 4z"/>
<path color="#b52322" d="M1094 524l8-2 49-30-8 2z"/>
<path color="#4136ab" d="M1460 973l9-4 44-40-9 3z"/>
<path color="#388ec6" d="M1753 876l38 6 38-34-37-7z"/>
<path color="#90661d" d="M980 656l7-18 51-43-8 16z"/>
<path color="#c22424" d="M1102 522l8-1 50-28-9-1z"/>
<path color="#3e3dae" d="M1469 969l9-4 43-40-8 4z"/>
<path color="#3577c2" d="M1602 907l37-1 41-37-37 1z"/>
<path color="#cf2627" d="M1110 521l9 1 49-26-8-3z"/>
<path color="#93571b" d="M987 638l8-17 50-42-7 16z"/>
<path color="#3b43b3" d="M1478 965l9-3 43-40-9 3z"/>
<path color="#e02a2a" d="M1119 522l9 3 49-25-9-4z"/>
<path color="#e82c2b" d="M1128 525l8 5 50-24-9-6z"/>
<path color="#93471a" d="M995 621l7-15 51-40-8 13z"/>
<path color="#ea2e2b" d="M1136 530l9 6 49-23-8-7z"/>
<path color="#3991c6" d="M1791 882l38 8 38-35-38-7z"/>
<path color="#ed312b" d="M1145 536l9 8 49-22-9-9z"/>
<path color="#f1352b" d="M1154 544l9 9 49-21-9-10z"/>
<path color="#3751b8" d="M1487 962l36-10 43-39-36 9z"/>
<path color="#3682c4" d="M1639 906l37 2 40-36-36-3z"/>
<path color="#702ee7" d="M1352 987l10 29 46-18-10-27z"/>
<path color="#933819" d="M1002 606l8-13 51-39-8 12z"/>
<path color="#7525dd" d="M1362 1016l9 20 45-42-8 4z"/>
<path color="#6041eb" d="M1342 959l10 28 46-16-9-28z"/>
<path color="#f53c2b" d="M1163 553l9 11 49-20-9-12z"/>
<path color="#4e5cf0" d="M1333 931l9 28 47-16-10-28z"/>
<path color="#f9492b" d="M1172 564l9 12 49-19-9-13z"/>
<path color="#4674ee" d="M1323 903l10 28 46-16-9-28z"/>
<path color="#418ae9" d="M1313 875l10 28 47-16-10-27z"/>
<path color="#fe572b" d="M1181 576l9 14 49-19-9-14z"/>
<path color="#5b1eae" d="M1371 1036l9-5 45-42-9 5z"/>
<path color="#3f9ce1" d="M1304 848l9 27 47-15-9-27z"/>
<path color="#ff6a2c" d="M1190 590l10 15 48-18-9-16z"/>
<path color="#932e19" d="M1010 593l8-12 51-37-8 10z"/>
<path color="#40abd4" d="M1294 821l10 27 47-15-10-27z"/>
<path color="#ff832e" d="M1200 605l9 17 48-18-9-17z"/>
<path color="#48c0b4" d="M1285 795l9 26 47-15-9-25z"/>
<path color="#ff9e30" d="M1209 622l9 18 49-17-10-19z"/>
<path color="#60cc8b" d="M1275 770l10 25 47-14-9-26z"/>
<path color="#7fd665" d="M1266 746l9 24 48-15-10-24z"/>
<path color="#ffb934" d="M1218 640l10 19 48-17-9-19z"/>
<path color="#addc4f" d="M1256 723l10 23 47-15-9-24z"/>
<path color="#ffd539" d="M1228 659l9 20 48-16-9-21z"/>
<path color="#d6e13f" d="M1247 700l9 23 48-16-9-22z"/>
<path color="#f4e23d" d="M1237 679l10 21 48-15-10-22z"/>
<path color="#4d1e9c" d="M1380 1031l9-4 45-42-9 4z"/>
<path color="#93261a" d="M1018 581l8-10 51-36-8 9z"/>
<path color="#4c21a0" d="M1389 1027l8-4 46-42-9 4z"/>
<path color="#3788c5" d="M1676 908l37 4 40-36-37-4z"/>
<path color="#3664bc" d="M1523 952l36-7 43-38-36 6z"/>
<path color="#97221b" d="M1026 571l8-8 51-34-8 6z"/>
<path color="#4a25a4" d="M1397 1023l9-5 45-41-8 4z"/>
<path color="#a0211d" d="M1034 563l9-6 51-33-9 5z"/>
<path color="#472ba7" d="M1406 1018l9-4 45-41-9 4z"/>
<path color="#ab2120" d="M1043 557l8-4 51-31-8 2z"/>
<path color="#4331a9" d="M1415 1014l9-4 45-41-9 4z"/>
<path color="#388dc6" d="M1713 912l38 6 40-36-38-6z"/>
<path color="#b82222" d="M1051 553l9-2 50-30-8 1z"/>
<path color="#4038ac" d="M1424 1010l9-3 45-42-9 4z"/>
<path color="#3674c1" d="M1559 945l37-2 43-37-37 1z"/>
<path color="#c32425" d="M1060 551l8 0 51-29-9-1z"/>
<path color="#3e3fb1" d="M1433 1007l9-4 45-41-9 3z"/>
<path color="#d32628" d="M1068 551l9 1 51-27-9-3z"/>
<path color="#e22a2a" d="M1077 552l9 4 50-26-8-5z"/>
<path color="#3890c6" d="M1751 918l38 8 40-36-38-8z"/>
<path color="#e82c2b" d="M1086 556l9 5 50-25-9-6z"/>
<path color="#ea2e2b" d="M1095 561l9 7 50-24-9-8z"/>
<path color="#384db7" d="M1442 1003l36-11 45-40-36 10z"/>
<path color="#3680c4" d="M1596 943l38 2 42-37-37-2z"/>
<path color="#ed312b" d="M1104 568l9 8 50-23-9-9z"/>
<path color="#f1352b" d="M1113 576l9 10 50-22-9-11z"/>
<path color="#712be4" d="M1314 1034l10 29 47-27-9-20z"/>
<path color="#653bea" d="M1304 1004l10 30 48-18-10-29z"/>
<path color="#7525dd" d="M1324 1063l9 12 47-44-9 5z"/>
<path color="#f63d2b" d="M1122 586l9 12 50-22-9-12z"/>
<path color="#5256ee" d="M1294 975l10 29 48-17-10-28z"/>
<path color="#476fef" d="M1285 947l9 28 48-16-9-28z"/>
<path color="#fa4a2b" d="M1131 598l9 12 50-20-9-14z"/>
<path color="#4285ea" d="M1275 919l10 28 48-16-10-28z"/>
<path color="#ff592b" d="M1140 610l9 15 51-20-10-15z"/>
<path color="#3f99e3" d="M1265 891l10 28 48-16-10-28z"/>
<path color="#571ea9" d="M1333 1075l9-5 47-43-9 4z"/>
<path color="#3fa7d9" d="M1255 864l10 27 48-16-9-27z"/>
<path color="#ff6e2c" d="M1149 625l10 16 50-19-9-17z"/>
<path color="#47bbbb" d="M1245 837l10 27 49-16-10-27z"/>
<path color="#ff872e" d="M1159 641l9 17 50-18-9-18z"/>
<path color="#5aca94" d="M1236 811l9 26 49-16-9-26z"/>
<path color="#ffa331" d="M1168 658l10 18 50-17-10-19z"/>
<path color="#76d56a" d="M1226 786l10 25 49-16-10-25z"/>
<path color="#ffbe35" d="M1178 676l9 20 50-17-9-20z"/>
<path color="#a4db53" d="M1216 762l10 24 49-16-9-24z"/>
<path color="#ffda3a" d="M1187 696l10 21 50-17-10-21z"/>
<path color="#cfe140" d="M1207 739l9 23 50-16-10-23z"/>
<path color="#eee23d" d="M1197 717l10 22 49-16-9-23z"/>
<path color="#4d1f9d" d="M1342 1070l9-4 46-43-8 4z"/>
<path color="#3787c5" d="M1634 945l38 4 41-37-37-4z"/>
<path color="#3660bb" d="M1478 992l37-7 44-40-36 7z"/>
<path color="#4b22a1" d="M1351 1066l9-5 46-43-9 5z"/>
<path color="#4a26a5" d="M1360 1061l9-4 46-43-9 4z"/>
<path color="#462da8" d="M1369 1057l9-4 46-43-9 4z"/>
<path color="#388cc5" d="M1672 949l38 6 41-37-38-6z"/>
<path color="#4333aa" d="M1378 1053l9-4 46-42-9 3z"/>
<path color="#3671c0" d="M1515 985l38-3 43-39-37 2z"/>
<path color="#403aae" d="M1387 1049l9-3 46-43-9 4z"/>
<path color="#388fc5" d="M1710 955l38 8 41-37-38-8z"/>
<path color="#3949b6" d="M1396 1046l37-12 45-42-36 11z"/>
<path color="#367ec4" d="M1553 982l37 2 44-39-38-2z"/>
<path color="#3786c5" d="M1590 984l39 4 43-39-38-4z"/>
<path color="#365dba" d="M1433 1034l37-8 45-41-37 7z"/>
<path color="#388bc5" d="M1629 988l38 6 43-39-38-6z"/>
<path color="#366ebf" d="M1470 1026l37-3 46-41-38 3z"/>
<path color="#388fc5" d="M1667 994l39 8 42-39-38-8z"/>
<path color="#357dc4" d="M1507 1023l39 1 44-40-37-2z"/>
<path color="#3785c5" d="M1546 1024l38 3 45-39-39-4z"/>
<path color="#388bc5" d="M1584 1027l39 7 44-40-38-6z"/>
<path color="#388ec5" d="M1623 1034l40 7 43-39-39-8z"/><path class="m" d="M563 727l708-378M624 750l688-371M685 779l312-171M749 817l209-115M1060 551l656-296M814 868l118-66M1360 1061l600-544M1433 1034l590-523M1507 1023l580-508M880 930l17-10M948 891l81-58 141-157M1131 598l645-209M1584 1027l568-503M1663 1041l555-506M937 789l185-187M1207 739l629-180M1285 947l266-92 347-318M995 621l75-62M1306 383l350-201M563 727l333 217 175-393 262 524 137-49 127 3 66 12M617 698l292 181M934 903l5 6 125-359M1080 533l65 3 227 499 143-50 191 17M670 669l254 149M976 867l5 5 103-313M1121 506l1-1M1125 503l65 6 223 486 146-50 189 18M721 642l217 119M1017 833l12 0 77-257M1165 477l61 0 228 479 172-50 163 20M770 616l185 94M1057 800l11 6 60-208M1202 453l1-2M1206 449l66 6 216 466 126-47 177 8 38 8M818 590l153 73M1098 770l8 7 43-147M1242 426l1-1M1246 423l61 3 214 461 139-50 151 7 56 11M865 565l127 58M1137 740l5 5 27-85M1282 399l69 7 202 448 140-51 211 18M911 540l101 44M1174 710l11-2 2-8M1317 376l71 6 203 436 134-48 214 19M955 517l90 39M1352 353l1-1M1356 350l62 4 204 433 140-50 212 20M998 494l80 34M1387 329l71 7 193 421 130-49 191 11 36 7M1040 471l80 35M1417 310l3-2M1423 306l67 7 189 415 199-54 162 23M1081 449l74 33M1452 287l72 6 189 403 199-51 160 23M1121 428l69 30M1487 263l66 7 194 395 186-49 170 24M1160 408l64 28M1515 245l69 5 186 390 129-48 234 20M1198 388l58 25M1543 227l73 6 175 383 194-54 177 24M1235 368l53 24M1574 206l71 8 179 372 137-48 229 22M1271 349l49 22M1603 186l66 5 176 372 199-52 174 24"/><path class="e" d="M1243 78l1031 182M1243 78l9 281M2118 629l146 33M669 774l-150 86M2268 503l-4 159M487 421l756-343M487 421l1207 296M1694 717l580-457M487 421l32 439M519 860l1178 361M1697 1221l567-559M1694 717l3 504"/></g><path d="M50.5 41.2L47.5 40.5M55.0 39.2L53.5 38.8M59.3 37.2L57.8 36.9M63.6 35.3L62.1 35.0M67.7 33.4L66.2 33.1M71.8 31.6L68.8 30.9M75.7 29.8L74.3 29.5M79.6 28.0L78.1 27.7M83.4 26.3L81.9 26.0M87.1 24.6L85.6 24.3M90.7 23.0L87.8 22.4M94.3 21.4L92.8 21.1M97.7 19.8L96.3 19.5M101.1 18.3L99.7 18.0M104.5 16.8L103.1 16.5M107.7 15.3L104.9 14.7M110.9 13.8L109.5 13.6M114.1 12.4L112.7 12.2M117.1 11.0L115.7 10.8M120.1 9.7L118.8 9.4M123.1 8.3L120.3 7.8M55.5 87.1L51.8 89.2M60.3 88.6L58.4 89.6M65.1 90.0L63.3 91.1M70.0 91.5L68.2 92.7M75.0 93.1L73.2 94.2M80.0 94.6L76.4 96.9M85.1 96.2L83.3 97.3M90.3 97.8L88.5 98.9M95.5 99.4L93.8 100.6M100.9 101.0L99.1 102.2M106.3 102.7L102.9 105.1M111.7 104.3L110.1 105.6M117.3 106.1L115.6 107.3M123.0 107.8L121.3 109.1M128.7 109.5L127.1 110.9M134.5 111.3L131.3 114.0M140.4 113.1L138.8 114.5M146.4 115.0L144.8 116.3M152.5 116.8L150.9 118.2M158.7 118.7L157.1 120.2M164.9 120.7L161.9 123.6M51.8 84.8L49.3 84.0M51.0 73.9L48.5 73.2M50.2 62.9L47.7 62.2M49.4 51.8L46.8 51.1M51.8 84.8L50.6 84.4M51.6 82.1L50.4 81.7M51.4 79.4L50.2 79.0M51.2 76.6L50.0 76.3M51.0 73.9L49.8 73.6M50.8 71.2L49.6 70.8M50.6 68.4L49.4 68.1M50.4 65.7L49.2 65.3M50.2 62.9L49.0 62.6M50.0 60.1L48.8 59.8M49.8 57.4L48.6 57.0M49.6 54.6L48.4 54.2M49.4 51.8L48.2 51.4M49.2 49.0L47.9 48.6M49.0 46.1L47.7 45.8M48.7 43.3L47.5 43.0" class="bx"/><text x="49.9" y="37.9" class="g" text-anchor="middle">0.0</text><text x="71.2" y="28.7" class="g" text-anchor="middle">0.5</text><text x="90.0" y="20.2" class="g" text-anchor="middle">1.0</text><text x="107.1" y="12.3" class="g" text-anchor="middle">1.5</text><text x="122.6" y="5.3" class="g" text-anchor="middle">2.0</text><text x="55.3" y="95.7" class="g" text-anchor="middle">−2</text><text x="80.5" y="103.2" class="g" text-anchor="middle">−1</text><text x="106.8" y="111.4" class="g" text-anchor="middle">0</text><text x="135.6" y="120.2" class="g" text-anchor="middle">1</text><text x="167.1" y="129.4" class="g" text-anchor="middle">2</text><text x="50.2" y="87.2" class="g" text-anchor="end">0.0</text><text x="49.4" y="76.3" class="g" text-anchor="end">0.2</text><text x="48.6" y="65.3" class="g" text-anchor="end">0.4</text><text x="47.8" y="54.2" class="g" text-anchor="end">0.6</text><text x="89.3" y="11.6" class="ax">t</text><text x="107.0" y="121.4" class="ax" text-anchor="middle">x</text><text x="1.0" y="63.4" class="zl">|<tspan font-style="italic">w</tspan><tspan font-size="5.5" dy="1.6">3,1</tspan><tspan dy="-1.6">(x, t))|</tspan></text><g class="s" transform="scale(.1)"><path color="#407be1" d="M3521 377l27 8 9-2-27-10z"/>
<path color="#437ae7" d="M3512 391l27 7 9-13-27-8z"/>
<path color="#3f75dc" d="M3548 385l27 6 9 0-27-8z"/>
<path color="#4570e9" d="M3503 405l27 8 9-15-27-7z"/>
<path color="#4277e5" d="M3539 398l27 6 9-13-27-6z"/>
<path color="#3f73dc" d="M3575 391l27 8 9 1-27-9z"/>
<path color="#466beb" d="M3494 409l27 11 9-7-27-8z"/>
<path color="#436ce4" d="M3530 413l27 7 9-16-27-6z"/>
<path color="#4379e9" d="M3566 404l27 6 9-11-27-8z"/>
<path color="#4667eb" d="M3521 420l27 8 9-8-27-7z"/>
<path color="#446ce5" d="M3557 420l27 6 9-16-27-6z"/>
<path color="#477bf4" d="M3593 410l27 9 9-8-27-12z"/>
<path color="#4767ec" d="M3548 428l27 8 9-10-27-6z"/>
<path color="#476fef" d="M3584 426l27 9 9-16-27-9z"/>
<path color="#4160d7" d="M3539 425l27 9 9 2-27-8z"/>
<path color="#4b68f6" d="M3575 436l28 10 8-11-27-9z"/>
<path color="#4383eb" d="M3466 406l27 10 9-5-27-12z"/>
<path color="#447deb" d="M3457 421l27 10 9-15-27-10z"/>
<path color="#4561e4" d="M3566 434l27 12 10 0-28-10z"/>
<path color="#3b63c9" d="M3529 420l27 9 10 5-27-9z"/>
<path color="#427be5" d="M3493 416l27 8 9-4-27-9z"/>
<path color="#4774f1" d="M3447 433l28 12 9-14-27-10z"/>
<path color="#4377e8" d="M3484 431l27 7 9-14-27-8z"/>
<path color="#4176e1" d="M3520 424l27 7 9-2-27-9z"/>
<path color="#456eea" d="M3438 434l27 14 10-3-28-12z"/>
<path color="#466eeb" d="M3475 445l27 8 9-15-27-7z"/>
<path color="#4376e7" d="M3511 438l27 6 9-13-27-7z"/>
<path color="#4274e4" d="M3547 431l28 9 9 0-28-11z"/>
<path color="#4769eb" d="M3465 448l27 11 10-6-27-8z"/>
<path color="#456ae7" d="M3502 453l27 7 9-16-27-6z"/>
<path color="#4578ee" d="M3538 444l28 8 9-12-28-9z"/>
<path color="#466feb" d="M3575 440l28 15 9 2-28-17z"/>
<path color="#4766eb" d="M3492 459l28 9 9-8-27-7z"/>
<path color="#3e7ad9" d="M3418 426l27 13 10 3-27-14z"/>
<path color="#466beb" d="M3529 460l28 8 9-16-28-8z"/>
<path color="#4875f5" d="M3566 452l28 13 9-10-28-15z"/>
<path color="#4966f1" d="M3520 468l28 10 9-10-28-8z"/>
<path color="#448af1" d="M3408 435l27 12 10-8-27-13z"/>
<path color="#4b6bf7" d="M3557 468l28 13 9-16-28-13z"/>
<path color="#4480ee" d="M3399 451l27 12 9-16-27-12z"/>
<path color="#4f62f8" d="M3548 478l28 13 9-10-28-13z"/>
<path color="#4481ed" d="M3435 447l28 10 10-7-28-11z"/>
<path color="#4879f4" d="M3389 461l28 14 9-12-27-12z"/>
<path color="#475de5" d="M3538 475l28 15 10 1-28-13z"/>
<path color="#4479ec" d="M3426 463l28 10 9-16-28-10z"/>
<path color="#437ae7" d="M3463 457l28 8 9-5-27-10z"/>
<path color="#4372e5" d="M3379 460l28 15 10 0-28-14z"/>
<path color="#4872f2" d="M3417 475l27 11 10-13-28-10z"/>
<path color="#92711f" d="M3849 275l10-15 8-1-9 14z"/>
<path color="#4474e8" d="M3454 473l27 7 10-15-28-8z"/>
<path color="#4060d5" d="M3528 470l28 14 10 6-28-15z"/>
<path color="#4377e7" d="M3491 465l28 8 9-3-28-10z"/>
<path color="#456be9" d="M3407 475l27 14 10-3-27-11z"/>
<path color="#476bed" d="M3444 486l28 9 9-15-27-7z"/>
<path color="#4574ea" d="M3481 480l28 7 10-14-28-8z"/>
<path color="#a18023" d="M3851 303l9-10 8-46-9 13z"/>
<path color="#4674ee" d="M3519 473l28 12 9-1-28-14z"/>
<path color="#925c1b" d="M3916 233l9 4 9 40-10-3z"/>
<path color="#97631d" d="M3925 237l10 7 9 39-10-6z"/>
<path color="#a67421" d="M3860 293l10-7 8-48-10 9z"/>
<path color="#4666ea" d="M3434 489l28 11 10-5-28-9z"/>
<path color="#4769eb" d="M3472 495l28 9 9-17-28-7z"/>
<path color="#3f85e2" d="M3358 454l28 13 10 1-28-15z"/>
<path color="#4a6bf7" d="M3547 485l28 21 10 0-29-22z"/>
<path color="#4875f5" d="M3509 487l28 11 10-13-28-12z"/>
<path color="#ad8525" d="M3945 254l10 13 9 33-10-9z"/>
<path color="#af6e21" d="M3870 286l10-5 8-49-10 6z"/>
<path color="#bb6d22" d="M3880 281l9-2 8-50-9 3z"/>
<path color="#4864ed" d="M3462 500l28 10 10-6-28-9z"/>
<path color="#5fbe75" d="M4005 357l10 22 8 11-10-18z"/>
<path color="#49baa2" d="M4015 379l10 22 8 9-10-20z"/>
<path color="#4969f3" d="M3500 504l28 10 9-16-28-11z"/>
<path color="#3f7add" d="M3386 467l28 14 10 2-28-15z"/>
<path color="#41acc5" d="M4025 401l10 23 8 6-10-20z"/>
<path color="#438ef0" d="M3348 466l28 12 10-11-28-13z"/>
<path color="#3e9fdc" d="M4035 424l10 23 8 3-10-20z"/>
<path color="#4092e9" d="M4045 447l10 23 8 2-10-22z"/>
<path color="#457ef0" d="M4055 470l11 23 7-1-10-20z"/>
<path color="#ff762d" d="M3917 234l10 7 8 3-10-7z"/>
<path color="#d07526" d="M3889 279l10 0 8-49-10-1z"/>
<path color="#4b6bf7" d="M3537 498l29 18 9-10-28-21z"/>
<path color="#4b69f8" d="M4066 493l10 23 7-3-10-21z"/>
<path color="#5c4ff4" d="M4076 516l10 23 7-3-10-23z"/>
<path color="#6d34ee" d="M4086 539l10 24 7-3-10-24z"/>
<path color="#ff842e" d="M3927 241l10 10 8 3-10-10z"/>
<path color="#6c2bdd" d="M4096 563l10 1 7-7-10 3z"/>
<path color="#e58129" d="M3899 279l10 3 8-48-10-4z"/>
<path color="#ff9930" d="M3937 251l10 13 8 3-10-13z"/>
<path color="#ffb133" d="M3947 264l10 15 8 3-10-15z"/>
<path color="#f6902d" d="M3909 282l10 5 8-46-10-7z"/>
<path color="#5224af" d="M4106 564l10-4 8-8-11 5z"/>
<path color="#4d62f5" d="M3490 510l29 12 9-8-28-10z"/>
<path color="#4483ef" d="M3339 482l27 13 10-17-28-12z"/>
<path color="#ffcd38" d="M3957 279l10 17 8 2-10-16z"/>
<path color="#fbe33c" d="M3967 296l10 19 8 2-10-19z"/>
<path color="#4f62f8" d="M3528 514l29 16 9-14-29-18z"/>
<path color="#996f1f" d="M3853 270l9-7 9 29-9 5z"/>
<path color="#3e6fd7" d="M3414 481l28 11 10 3-28-12z"/>
<path color="#4487f1" d="M3376 478l28 12 10-9-28-14z"/>
<path color="#dbe33f" d="M3977 315l10 20 8 1-10-19z"/>
<path color="#ffa330" d="M3919 287l10 8 8-44-10-10z"/>
<path color="#b1df4f" d="M3987 335l10 22 8 0-10-21z"/>
<path color="#7ed968" d="M3997 357l10 22 8 0-10-22z"/>
<path color="#5dce95" d="M4007 379l10 23 8-1-10-22z"/>
<path color="#48bec0" d="M4017 402l10 23 8-1-10-23z"/>
<path color="#41a9df" d="M4027 425l10 24 8-2-10-23z"/>
<path color="#4199eb" d="M4037 449l11 23 7-2-10-23z"/>
<path color="#4584f1" d="M4048 472l10 24 8-3-11-23z"/>
<path color="#4a6cf7" d="M4058 496l10 24 8-4-10-23z"/>
<path color="#5a52f5" d="M4068 520l10 24 8-5-10-23z"/>
<path color="#6c36f0" d="M4078 544l10 22 8-3-10-24z"/>
<path color="#4f27ae" d="M4116 560l10-3 8-9-10 4z"/>
<path color="#ffb634" d="M3929 295l10 9 8-40-10-13z"/>
<path color="#702ee7" d="M4088 566l10 5 8-7-10-1z"/>
<path color="#a46e20" d="M3862 263l10-3 9 30-10 2z"/>
<path color="#ffca37" d="M3939 304l10 12 8-37-10-15z"/>
<path color="#ffe23b" d="M3949 316l10 13 8-33-10-17z"/>
<path color="#477df3" d="M3328 490l28 14 10-9-27-13z"/>
<path color="#4c2db2" d="M4126 557l10-4 8-9-10 4z"/>
<path color="#5826b9" d="M4098 571l10-3 8-8-10 4z"/>
<path color="#eae33e" d="M3959 329l10 15 8-29-10-19z"/>
<path color="#457cef" d="M3366 495l28 12 10-17-28-12z"/>
<path color="#cee341" d="M3969 344l10 16 8-25-10-20z"/>
<path color="#425cdb" d="M3480 506l29 13 10 3-29-12z"/>
<path color="#ffde3b" d="M3921 304l10 9 8-9-10-9z"/>
<path color="#a2dd57" d="M3979 360l10 18 8-21-10-22z"/>
<path color="#75d770" d="M3989 378l10 19 8-18-10-22z"/>
<path color="#447fee" d="M3404 490l28 10 10-8-28-11z"/>
<path color="#59cd9c" d="M3999 397l10 19 8-14-10-23z"/>
<path color="#47bdc4" d="M4009 416l10 21 8-12-10-23z"/>
<path color="#41a9e0" d="M4019 437l10 21 8-9-10-24z"/>
<path color="#419aeb" d="M4029 458l11 22 8-8-11-23z"/>
<path color="#4585f2" d="M4040 480l10 22 8-6-10-24z"/>
<path color="#f9e33c" d="M3931 313l10 11 8-8-10-12z"/>
<path color="#4a6ef7" d="M4050 502l10 23 8-5-10-24z"/>
<path color="#5854f5" d="M4060 525l10 23 8-4-10-24z"/>
<path color="#6a38f0" d="M4070 548l10 22 8-4-10-22z"/>
<path color="#5227b3" d="M4108 568l10-2 8-9-10 3z"/>
<path color="#4933b4" d="M4136 553l10-3 8-9-10 3z"/>
<path color="#702ee7" d="M4080 570l10 8 8-7-10-5z"/>
<path color="#e7e33e" d="M3941 324l10 12 8-7-10-13z"/>
<path color="#d1e340" d="M3951 336l10 14 8-6-10-15z"/>
<path color="#c37f25" d="M3892 262l10 5 9 30-10-5z"/>
<path color="#b1df4f" d="M3961 350l10 16 8-6-10-16z"/>
<path color="#522bb9" d="M4118 566l10-2 8-11-10 4z"/>
<path color="#4639b6" d="M4146 550l11-3 7-10-10 4z"/>
<path color="#c26c23" d="M3854 274l10-5 8-9-10 3z"/>
<path color="#4875f5" d="M3356 504l28 14 10-11-28-12z"/>
<path color="#5d27c1" d="M4090 578l10-3 8-7-10 3z"/>
<path color="#3f74dc" d="M3318 487l28 15 10 2-28-14z"/>
<path color="#8ada62" d="M3971 366l10 17 8-5-10-18z"/>
<path color="#6bd380" d="M3981 383l10 19 8-5-10-19z"/>
<path color="#4575ec" d="M3394 507l28 10 10-17-28-10z"/>
<path color="#52caa8" d="M3991 402l10 19 8-5-10-19z"/>
<path color="#46bac9" d="M4001 421l10 20 8-4-10-21z"/>
<path color="#41a8e1" d="M4011 441l10 21 8-4-10-21z"/>
<path color="#4479eb" d="M3432 500l28 8 10-6-28-10z"/>
<path color="#419aeb" d="M4021 462l11 21 8-3-11-22z"/>
<path color="#5031bc" d="M4128 564l11-1 7-13-10 3z"/>
<path color="#d97126" d="M3864 269l10-1 8-9-10 1z"/>
<path color="#4586f1" d="M4032 483l10 22 8-3-10-22z"/>
<path color="#423eb7" d="M4157 547l10-3 8-10-11 3z"/>
<path color="#5527b6" d="M4100 575l11-2 7-7-10 2z"/>
<path color="#4970f6" d="M4042 505l10 22 8-2-10-23z"/>
<path color="#5557f5" d="M4052 527l10 22 8-1-10-23z"/>
<path color="#683df1" d="M4062 549l10 23 8-2-10-22z"/>
<path color="#6f2fe8" d="M4072 572l10 13 8-7-10-8z"/>
<path color="#f47e2b" d="M3874 268l9 3 9-9-10-3z"/>
<path color="#4d35bd" d="M4139 563l10-1 8-15-11 3z"/>
<path color="#562abe" d="M4111 573l10-1 7-8-10 2z"/>
<path color="#3f44b8" d="M4167 544l10-3 8-11-10 4z"/>
<path color="#5f27c5" d="M4082 585l10-4 8-6-10 3z"/>
<path color="#436ee3" d="M3346 502l28 16 10 0-28-14z"/>
<path color="#496ef3" d="M3384 518l29 12 9-13-28-10z"/>
<path color="#cb8a28" d="M3856 310l9-1 9-41-10 1z"/>
<path color="#84751f" d="M3799 314l9-15 10 27-10 11z"/>
<path color="#ff8b2f" d="M3883 271l10 5 9-9-10-5z"/>
<path color="#9cd553" d="M3962 351l11 20 8 12-10-17z"/>
<path color="#4571e9" d="M3422 517l29 8 9-17-28-8z"/>
<path color="#445fdf" d="M3498 514l29 19 10 5-28-19z"/>
<path color="#73d269" d="M3973 371l10 21 8 10-10-19z"/>
<path color="#4939bc" d="M4149 562l10-2 8-16-10 3z"/>
<path color="#562fc4" d="M4121 572l10 0 8-9-11 1z"/>
<path color="#5aca93" d="M3983 392l10 22 8 7-10-19z"/>
<path color="#3b49b9" d="M4177 541l11-4 7-10-10 3z"/>
<path color="#47bdbb" d="M3993 414l10 22 8 5-10-20z"/>
<path color="#4677ef" d="M3460 508l29 11 9-5-28-12z"/>
<path color="#ff9530" d="M3893 276l10 7 9-7-10-9z"/>
<path color="#5426b3" d="M4092 581l11-3 8-5-11 2z"/>
<path color="#40aadb" d="M4003 436l10 23 8 3-10-21z"/>
<path color="#e3982c" d="M3865 309l10 2 8-40-9-3z"/>
<path color="#409ce7" d="M4013 459l10 23 9 1-11-21z"/>
<path color="#438aef" d="M4023 482l11 23 8 0-10-22z"/>
<path color="#4875f4" d="M4034 505l10 22 8 0-10-22z"/>
<path color="#515df5" d="M4044 527l10 23 8-1-10-22z"/>
<path color="#6442f2" d="M4054 550l10 24 8-2-10-23z"/>
<path color="#6f30ea" d="M4064 574l10 17 8-6-10-13z"/>
<path color="#ffa531" d="M3903 283l10 11 9-8-10-10z"/>
<path color="#876a1d" d="M3808 299l10-12 9 29-9 10z"/>
<path color="#5532c6" d="M4131 572l10 0 8-10-10 1z"/>
<path color="#453dba" d="M4159 560l11-2 7-17-10 3z"/>
<path color="#f7a730" d="M3875 311l10 4 8-39-10-5z"/>
<path color="#384fba" d="M4188 537l10-3 7-10-10 3z"/>
<path color="#5429ba" d="M4103 578l10-2 8-4-10 1z"/>
<path color="#ffb834" d="M3913 294l11 12 8-6-10-14z"/>
<path color="#6128c7" d="M4074 591l11-4 7-6-10 4z"/>
<path color="#4568e7" d="M3374 518l28 14 11-2-29-12z"/>
<path color="#ffcf38" d="M3924 306l10 15 8-6-10-15z"/>
<path color="#4868ef" d="M3413 530l28 10 10-15-29-8z"/>
<path color="#ffb834" d="M3885 315l10 6 8-38-10-7z"/>
<path color="#5235c5" d="M4141 572l11-1 7-11-10 2z"/>
<path color="#fce33c" d="M3934 321l10 17 8-6-10-17z"/>
<path color="#987f22" d="M3790 334l10-14 8-21-9 15z"/>
<path color="#4041b8" d="M4170 558l10-2 8-19-11 4z"/>
<path color="#e0e33f" d="M3944 338l10 18 8-5-10-19z"/>
<path color="#3854bb" d="M4198 534l10-3 8-10-11 3z"/>
<path color="#408fe8" d="M3296 485l28 12 11-2-28-14z"/>
<path color="#542dbf" d="M4113 576l10-2 8-2-10 0z"/>
<path color="#4771f0" d="M3451 525l28 9 10-15-29-11z"/>
<path color="#bce149" d="M3954 356l10 20 9-5-11-20z"/>
<path color="#ffc536" d="M3895 321l10 7 8-34-10-11z"/>
<path color="#4971f6" d="M3489 519l28 16 10-2-29-19z"/>
<path color="#8ddb61" d="M3964 376l10 20 9-4-10-21z"/>
<path color="#5025ac" d="M4085 587l10-4 8-5-11 3z"/>
<path color="#68d285" d="M3974 396l11 22 8-4-10-22z"/>
<path color="#4bc7b3" d="M3985 418l10 22 8-4-10-22z"/>
<path color="#43b2d5" d="M3995 440l10 23 8-4-10-23z"/>
<path color="#41a1e6" d="M4005 463l10 23 8-4-10-23z"/>
<path color="#4290ef" d="M4015 486l11 23 8-4-11-23z"/>
<path color="#477af4" d="M4026 509l10 22 8-4-10-22z"/>
<path color="#4e38c3" d="M4152 571l10-1 8-12-11 2z"/>
<path color="#4e63f8" d="M4036 531l10 22 8-3-10-23z"/>
<path color="#ffd539" d="M3905 328l10 10 9-32-11-12z"/>
<path color="#6048f3" d="M4046 553l10 24 8-3-10-24z"/>
<path color="#6e31eb" d="M4056 577l10 21 8-7-10-17z"/>
<path color="#3c46b7" d="M4180 556l10-4 8-18-10 3z"/>
<path color="#3859bc" d="M4208 531l11-3 7-9-10 2z"/>
<path color="#fee33c" d="M3915 338l10 12 9-29-10-15z"/>
<path color="#9e7120" d="M3800 320l9-12 9-21-10 12z"/>
<path color="#4f29b1" d="M4095 583l10-4 8-3-10 2z"/>
<path color="#6429cd" d="M4066 598l11-4 8-7-11 4z"/>
<path color="#e8e33e" d="M3925 350l11 14 8-26-10-17z"/>
<path color="#4763ea" d="M3402 532l29 12 10-4-28-10z"/>
<path color="#4a3bbf" d="M4162 570l10-1 8-13-10 2z"/>
<path color="#cfe341" d="M3936 364l10 15 8-23-10-18z"/>
<path color="#4966f1" d="M3441 540l28 10 10-16-28-9z"/>
<path color="#384bb8" d="M4190 552l11-3 7-18-10 3z"/>
<path color="#375ebe" d="M4219 528l10-3 8-8-11 2z"/>
<path color="#a9de53" d="M3946 379l10 16 8-19-10-20z"/>
<path color="#4290ef" d="M3286 499l28 12 10-14-28-12z"/>
<path color="#4084e5" d="M3324 497l29 14 10 0-28-16z"/>
<path color="#7ed968" d="M3956 395l10 18 8-17-10-20z"/>
<path color="#4a6ef7" d="M3479 534l29 14 9-13-28-16z"/>
<path color="#62d08e" d="M3966 413l10 18 9-13-11-22z"/>
<path color="#a5661e" d="M3809 308l10-9 9-22-10 10z"/>
<path color="#4e24a7" d="M4077 594l10-5 8-6-10 4z"/>
<path color="#4ac5b7" d="M3976 431l11 20 8-11-10-22z"/>
<path color="#42b1d7" d="M3987 451l10 21 8-9-10-23z"/>
<path color="#453ebb" d="M4172 569l11-2 7-15-10 4z"/>
<path color="#41a1e6" d="M3997 472l10 21 8-7-10-23z"/>
<path color="#4291ef" d="M4007 493l10 22 9-6-11-23z"/>
<path color="#477bf4" d="M4017 515l11 22 8-6-10-22z"/>
<path color="#3750b8" d="M4201 549l10-3 8-18-11 3z"/>
<path color="#4d65f8" d="M4028 537l10 22 8-6-10-22z"/>
<path color="#5f4af3" d="M4038 559l10 23 8-5-10-24z"/>
<path color="#ac611f" d="M3847 269l10 1 10 35-10-1z"/>
<path color="#6e32ec" d="M4048 582l10 23 8-7-10-21z"/>
<path color="#3864c0" d="M4229 525l11-3 7-7-10 2z"/>
<path color="#dce33f" d="M3917 346l10 14 9 4-11-14z"/>
<path color="#4c28ac" d="M4087 589l10-4 8-6-10 4z"/>
<path color="#682ad4" d="M4058 605l11-3 8-8-11 4z"/>
<path color="#b56320" d="M3819 299l10-6 8-22-9 6z"/>
<path color="#4042b9" d="M4183 567l10-3 8-15-11 3z"/>
<path color="#c2e146" d="M3927 360l10 16 9 3-10-15z"/>
<path color="#4b61ef" d="M3431 544l28 12 10-6-28-10z"/>
<path color="#4485ee" d="M3276 515l28 12 10-16-28-12z"/>
<path color="#3756b9" d="M4211 546l11-3 7-18-10 3z"/>
<path color="#3869c3" d="M4240 522l10-1 8-7-11 1z"/>
<path color="#9edd58" d="M3937 376l11 17 8 2-10-16z"/>
<path color="#77d86c" d="M3948 393l10 19 8 1-10-18z"/>
<path color="#448af1" d="M3314 511l28 13 11-13-29-14z"/>
<path color="#4079e1" d="M3353 511l28 14 11 1-29-15z"/>
<path color="#5fcf92" d="M3958 412l10 19 8 0-10-18z"/>
<path color="#492faf" d="M4097 585l11-4 7-5-10 3z"/>
<path color="#5024aa" d="M4069 602l10-4 8-9-10 5z"/>
<path color="#cb6524" d="M3829 293l10-2 8-22-10 2z"/>
<path color="#3d48bb" d="M4193 564l11-3 7-15-10 3z"/>
<path color="#4ac4b9" d="M3968 431l10 21 9-1-11-20z"/>
<path color="#ae8525" d="M3811 344l10-4 8-47-10 6z"/>
<path color="#42b1d7" d="M3978 452l11 21 8-1-10-21z"/>
<path color="#396ec7" d="M4250 521l11-1 7-6-10 0z"/>
<path color="#41a2e6" d="M3989 473l10 22 8-2-10-21z"/>
<path color="#375bbb" d="M4222 543l10-3 8-18-11 3z"/>
<path color="#4292ef" d="M3999 495l10 22 8-2-10-22z"/>
<path color="#477cf4" d="M4009 517l10 23 9-3-11-22z"/>
<path color="#4c66f8" d="M4019 540l11 23 8-4-10-22z"/>
<path color="#5e4cf4" d="M4030 563l10 23 8-4-10-23z"/>
<path color="#6d33ed" d="M4040 586l10 22 8-3-10-23z"/>
<path color="#4339b2" d="M4136 570l10-2 8 4-10 1z"/>
<path color="#e26b27" d="M3839 291l10 0 8-21-10-1z"/>
<path color="#4635b2" d="M4108 581l10-4 8-4-11 3z"/>
<path color="#4e28af" d="M4079 598l10-3 8-10-10 4z"/>
<path color="#3a4dbd" d="M4204 561l10-3 8-15-11 3z"/>
<path color="#6c2bdd" d="M4050 608l11 1 8-7-11 3z"/>
<path color="#b98525" d="M3821 340l10-3 8-46-10 2z"/>
<path color="#3a74cc" d="M4261 520l10-1 8-5-11 0z"/>
<path color="#457ff0" d="M3265 521l29 13 10-7-28-12z"/>
<path color="#3760be" d="M4232 540l11-2 7-17-10 1z"/>
<path color="#457ff1" d="M3304 527l28 14 10-17-28-13z"/>
<path color="#ff7c2d" d="M3849 291l10 4 8-21-10-4z"/>
<path color="#4583f2" d="M3342 524l29 12 10-11-28-14z"/>
<path color="#406fdb" d="M3381 525l29 11 10 2-28-12z"/>
<path color="#433bb4" d="M4118 577l10-3 8-4-10 3z"/>
<path color="#3953be" d="M4214 558l11-2 7-16-10 3z"/>
<path color="#cc8e28" d="M3831 337l10 1 8-47-10 0z"/>
<path color="#5525b2" d="M4061 609l10-3 8-8-10 4z"/>
<path color="#4c2eb2" d="M4089 595l11-4 8-10-11 4z"/>
<path color="#3866c1" d="M4243 538l10-2 8-16-11 1z"/>
<path color="#92d156" d="M3939 377l10 22 9 13-10-19z"/>
<path color="#ff832e" d="M3859 295l10 6 8-20-10-7z"/>
<path color="#6ccd73" d="M3949 399l11 22 8 10-10-19z"/>
<path color="#3b79d1" d="M4271 519l21 1 8-3-21-3z"/>
<path color="#52c5a0" d="M3960 421l10 24 8 7-10-21z"/>
<path color="#44b5c5" d="M3970 445l10 23 9 5-11-21z"/>
<path color="#40a4de" d="M3980 468l11 24 8 3-10-22z"/>
<path color="#4096ea" d="M3991 492l10 24 8 1-10-22z"/>
<path color="#4581f0" d="M4001 516l10 24 8 0-10-23z"/>
<path color="#4a6af6" d="M4011 540l11 24 8-1-11-23z"/>
<path color="#5b4ff4" d="M4022 564l10 24 8-2-10-23z"/>
<path color="#6c35ef" d="M4032 588l10 23 8-3-10-22z"/>
<path color="#de9a2c" d="M3841 338l10 2 8-45-10-4z"/>
<path color="#3958c0" d="M4225 556l10-2 8-16-11 2z"/>
<path color="#ff912f" d="M3869 301l10 9 9-19-11-10z"/>
<path color="#5328b4" d="M4071 606l10-2 8-9-10 3z"/>
<path color="#4934b5" d="M4100 591l10-2 8-12-10 4z"/>
<path color="#396cc6" d="M4253 536l11-1 7-16-10 1z"/>
<path color="#702ee7" d="M4042 611l11 5 8-7-11-1z"/>
<path color="#4779f4" d="M3294 534l28 15 10-8-28-14z"/>
<path color="#ffa431" d="M3879 310l10 12 9-18-10-13z"/>
<path color="#3c75d2" d="M3254 516l28 14 12 4-29-13z"/>
<path color="#eda930" d="M3851 340l10 5 8-44-10-6z"/>
<path color="#4678f0" d="M3332 541l29 12 10-17-29-12z"/>
<path color="#ffb934" d="M3889 322l11 13 8-15-10-16z"/>
<path color="#3a5dc3" d="M4235 554l11-1 7-17-10 2z"/>
<path color="#522cba" d="M4081 604l11-1 8-12-11 4z"/>
<path color="#463ab8" d="M4110 589l10-3 8-12-10 3z"/>
<path color="#457cf0" d="M3371 536l28 10 11-10-29-11z"/>
<path color="#4068d9" d="M3410 536l28 12 11 3-29-13z"/>
<path color="#5926ba" d="M4053 616l10-3 8-7-10 3z"/>
<path color="#ffd339" d="M3900 335l10 16 8-14-10-17z"/>
<path color="#faba34" d="M3861 345l10 6 8-41-10-9z"/>
<path color="#f6e33d" d="M3910 351l10 18 9-13-11-19z"/>
<path color="#926e1e" d="M3792 317l10-7 10 31-10 5z"/>
<path color="#3b74cf" d="M4264 535l21 0 7-15-21-1z"/>
<path color="#3d7fd8" d="M4292 520l32 7 8-2-32-8z"/>
<path color="#987f22" d="M3764 352l10-13 9-11-10 13z"/>
<path color="#d8e340" d="M3920 369l10 19 9-11-10-21z"/>
<path color="#aedf51" d="M3930 388l11 20 8-9-10-22z"/>
<path color="#ffd038" d="M3871 351l10 9 8-38-10-12z"/>
<path color="#7cd969" d="M3941 408l10 22 9-9-11-22z"/>
<path color="#3a62c7" d="M4246 553l10-1 8-17-11 1z"/>
<path color="#5dce96" d="M3951 430l10 22 9-7-10-24z"/>
<path color="#48bfc0" d="M3961 452l11 22 8-6-10-23z"/>
<path color="#41aadf" d="M3972 474l10 23 9-5-11-24z"/>
<path color="#5032be" d="M4092 603l10-1 8-13-10 2z"/>
<path color="#419beb" d="M3982 497l11 24 8-5-10-24z"/>
<path color="#4586f1" d="M3993 521l10 23 8-4-10-24z"/>
<path color="#4a6ff6" d="M4003 544l10 22 9-2-11-24z"/>
<path color="#4340ba" d="M4120 586l11-2 8-13-11 3z"/>
<path color="#5755f4" d="M4013 566l11 24 8-2-10-24z"/>
<path color="#6a39f0" d="M4024 590l10 24 8-3-10-23z"/>
<path color="#5427b6" d="M4063 613l10-2 8-7-10 2z"/>
<path color="#ffe23b" d="M3881 360l10 10 9-35-11-13z"/>
<path color="#702fe8" d="M4034 614l10 9 9-7-11-5z"/>
<path color="#9a6d1f" d="M3802 310l10-4 10 32-10 3z"/>
<path color="#4972f6" d="M3322 549l29 15 10-11-29-12z"/>
<path color="#f0e33d" d="M3891 370l10 13 9-32-10-16z"/>
<path color="#3f70da" d="M3282 530l29 16 11 3-28-15z"/>
<path color="#9e7320" d="M3774 339l9-11 9-11-9 11z"/>
<path color="#4671ec" d="M3361 553l29 10 9-17-28-10z"/>
<path color="#4e36c0" d="M4102 602l10-1 8-15-10 3z"/>
<path color="#dae340" d="M3901 383l11 14 8-28-10-18z"/>
<path color="#3f45bb" d="M4131 584l10-3 8-13-10 3z"/>
<path color="#562bbe" d="M4073 611l11-1 8-7-11 1z"/>
<path color="#397ecf" d="M3243 512l28 12 11 6-28-14z"/>
<path color="#3c69cd" d="M4256 552l22 0 7-17-21 0z"/>
<path color="#5b26be" d="M4044 623l11-4 8-6-10 3z"/>
<path color="#bae04a" d="M3912 397l10 15 8-24-10-19z"/>
<path color="#4263de" d="M3438 548l30 15 10 5-29-17z"/>
<path color="#4677f0" d="M3399 546l29 9 10-7-28-12z"/>
<path color="#a36e20" d="M3812 306l10-1 10 33-10 0z"/>
<path color="#92db5e" d="M3922 412l10 17 9-21-11-20z"/>
<path color="#3d7dda" d="M4285 535l32 5 7-13-32-7z"/>
<path color="#6ed57a" d="M3932 429l11 18 8-17-10-22z"/>
<path color="#54cba4" d="M3943 447l10 19 8-14-10-22z"/>
<path color="#3d7dd8" d="M4324 527l33 8 7 1-32-11z"/>
<path color="#4b3abf" d="M4112 601l11-1 8-16-11 2z"/>
<path color="#46bbc7" d="M3953 466l10 20 9-12-11-22z"/>
<path color="#5630c4" d="M4084 610l10-1 8-7-10 1z"/>
<path color="#41a9e0" d="M3963 486l11 21 8-10-10-23z"/>
<path color="#3c4abc" d="M4141 581l11-3 8-13-11 3z"/>
<path color="#ab6e20" d="M3783 328l10-8 9-10-10 7z"/>
<path color="#419beb" d="M3974 507l10 21 9-7-11-24z"/>
<path color="#4487f1" d="M3984 528l11 22 8-6-10-23z"/>
<path color="#5226b1" d="M4055 619l10-3 8-5-10 2z"/>
<path color="#4971f6" d="M3995 550l10 20 8-4-10-22z"/>
<path color="#ab7121" d="M3822 305l10 2 10 33-10-2z"/>
<path color="#545af6" d="M4005 570l10 23 9-3-11-24z"/>
<path color="#dce33f" d="M3882 371l11 12 8 0-10-13z"/>
<path color="#663ef1" d="M4015 593l11 24 8-3-10-24z"/>
<path color="#6f30e9" d="M4026 617l10 13 8-7-10-9z"/>
<path color="#c6e244" d="M3893 383l10 14 9 0-11-14z"/>
<path color="#436ae1" d="M3311 546l29 17 11 1-29-15z"/>
<path color="#473dbd" d="M4123 600l10-2 8-17-10 3z"/>
<path color="#5533c7" d="M4094 609l10 0 8-8-10 1z"/>
<path color="#b37923" d="M3832 307l10 5 10 33-10-5z"/>
<path color="#394fbc" d="M4152 578l10-3 8-13-10 3z"/>
<path color="#a6de54" d="M3903 397l10 16 9-1-10-15z"/>
<path color="#bf6f23" d="M3793 320l10-4 9-10-10 4z"/>
<path color="#3b76cf" d="M3271 524l29 16 11 6-29-16z"/>
<path color="#522ab8" d="M4065 616l10-3 9-3-11 1z"/>
<path color="#466eec" d="M3390 563l28 10 10-18-29-9z"/>
<path color="#3e72d8" d="M4278 552l32 5 7-17-32-5z"/>
<path color="#5d27c1" d="M4036 630l10-5 9-6-11 4z"/>
<path color="#83d966" d="M3913 413l11 17 8-1-10-17z"/>
<path color="#3f94e8" d="M3232 519l28 10 11-5-28-12z"/>
<path color="#a88825" d="M3775 371l10-6 8-45-10 8z"/>
<path color="#4974f6" d="M3428 555l29 13 11-5-30-15z"/>
<path color="#68d285" d="M3924 430l10 19 9-2-11-18z"/>
<path color="#5236c7" d="M4104 609l11 0 8-9-11 1z"/>
<path color="#4241bb" d="M4133 598l11-2 8-18-11 3z"/>
<path color="#50c9ab" d="M3934 449l10 19 9-2-10-19z"/>
<path color="#3f81e0" d="M4317 540l32 7 8-12-33-8z"/>
<path color="#46b9ca" d="M3944 468l11 20 8-2-10-20z"/>
<path color="#3854bc" d="M4162 575l11-4 8-12-11 3z"/>
<path color="#41a8e1" d="M3955 488l10 21 9-2-11-21z"/>
<path color="#d67526" d="M3803 316l10-2 9-9-10 1z"/>
<path color="#419beb" d="M3965 509l11 22 8-3-10-21z"/>
<path color="#4488f1" d="M3976 531l10 22 9-3-11-22z"/>
<path color="#4e25aa" d="M4046 625l11-4 8-5-10 3z"/>
<path color="#4973f6" d="M3986 553l11 21 8-4-10-20z"/>
<path color="#b28525" d="M3785 365l10-3 8-46-10 4z"/>
<path color="#525df7" d="M3997 574l10 22 8-3-10-23z"/>
<path color="#6443f2" d="M4007 596l10 24 9-3-11-24z"/>
<path color="#d9b230" d="M3863 331l10 13 9 27-10-11z"/>
<path color="#4f39c6" d="M4115 609l10 0 8-11-10 2z"/>
<path color="#6f31ea" d="M4017 620l11 18 8-8-10-13z"/>
<path color="#3e45b9" d="M4144 596l10-3 8-18-10 3z"/>
<path color="#4564e5" d="M3340 563l29 14 10 0-28-13z"/>
<path color="#f0802b" d="M3813 314l10 2 9-9-10-2z"/>
<path color="#3858bc" d="M4173 571l10-3 8-11-10 2z"/>
<path color="#406cda" d="M4270 559l32 7 8-9-32-5z"/>
<path color="#408ee8" d="M3222 536l28 9 10-16-28-10z"/>
<path color="#4d2aaf" d="M4057 621l10-4 8-4-10 3z"/>
<path color="#c18a27" d="M3795 362l10-2 8-46-10 2z"/>
<path color="#6028c6" d="M4028 638l10-5 8-8-10 5z"/>
<path color="#418eea" d="M3260 529l29 14 11-3-29-16z"/>
<path color="#4c3bc3" d="M4125 609l11-1 8-12-11 2z"/>
<path color="#bbd13d" d="M3894 377l10 19 9 17-10-16z"/>
<path color="#ff8f2f" d="M3823 316l11 5 8-9-10-5z"/>
<path color="#4076de" d="M4310 557l32 8 7-18-32-7z"/>
<path color="#3a4ab8" d="M4154 593l11-3 8-19-11 4z"/>
<path color="#99d051" d="M3904 396l11 20 9 14-11-17z"/>
<path color="#375dbd" d="M4183 568l11-3 8-10-11 2z"/>
<path color="#72cf67" d="M3915 416l10 22 9 11-10-19z"/>
<path color="#5bc890" d="M3925 438l11 22 8 8-10-19z"/>
<path color="#d4942a" d="M3805 360l10 2 8-46-10-2z"/>
<path color="#3e7fdd" d="M4349 547l33 6 7-11-32-7z"/>
<path color="#ff9930" d="M3834 321l10 8 9-9-11-8z"/>
<path color="#47bdb8" d="M3936 460l10 23 9 5-11-20z"/>
<path color="#40abd9" d="M3946 483l11 23 8 3-10-21z"/>
<path color="#4d24a7" d="M4038 633l11-5 8-7-11 4z"/>
<path color="#409de5" d="M3957 506l10 24 9 1-11-22z"/>
<path color="#463ebe" d="M4136 608l10-2 8-13-10 3z"/>
<path color="#3871c6" d="M4389 542l33 5 6 2-32-5z"/>
<path color="#438cee" d="M3967 530l11 23 8 0-10-22z"/>
<path color="#4877f5" d="M3978 553l10 24 9-3-11-21z"/>
<path color="#5061f7" d="M3988 577l11 24 8-5-10-22z"/>
<path color="#384fb9" d="M4165 590l11-3 7-19-10 3z"/>
<path color="#6246f3" d="M3999 601l10 23 8-4-10-24z"/>
<path color="#ffa731" d="M3844 329l10 10 9-8-10-11z"/>
<path color="#6e31ea" d="M4009 624l11 21 8-7-11-18z"/>
<path color="#3762be" d="M4194 565l11-2 7-10-10 2z"/>
<path color="#e5a22e" d="M3815 362l10 3 9-44-11-5z"/>
<path color="#4284eb" d="M3211 550l28 11 11-16-28-9z"/>
<path color="#ffb934" d="M3854 339l10 13 9-8-10-13z"/>
<path color="#6428cd" d="M4020 645l10-4 8-8-10 5z"/>
<path color="#4b29ab" d="M4049 628l10-4 8-7-10 4z"/>
<path color="#438def" d="M3250 545l28 13 11-15-29-14z"/>
<path color="#4242bc" d="M4146 606l11-3 8-13-11 3z"/>
<path color="#4371e3" d="M4302 566l33 9 7-10-32-8z"/>
<path color="#4283ea" d="M3289 543l29 15 11-1-29-17z"/>
<path color="#ffd038" d="M3864 352l11 15 9-7-11-16z"/>
<path color="#f3b232" d="M3825 365l10 6 9-42-10-8z"/>
<path color="#3753b9" d="M4176 587l10-3 8-19-11 3z"/>
<path color="#3768c1" d="M4205 563l10-2 8-10-11 2z"/>
<path color="#fce33c" d="M3875 367l10 16 9-6-10-17z"/>
<path color="#3f75db" d="M4342 565l32 6 8-18-33-6z"/>
<path color="#e1e33f" d="M3885 383l11 19 8-6-10-19z"/>
<path color="#fec536" d="M3835 371l11 7 8-39-10-10z"/>
<path color="#bee149" d="M3896 402l10 20 9-6-11-20z"/>
<path color="#3f47bc" d="M4157 603l11-2 8-14-11 3z"/>
<path color="#4f24a9" d="M4030 641l10-4 9-9-11 5z"/>
<path color="#4830ae" d="M4059 624l11-4 8-7-11 4z"/>
<path color="#8fdb60" d="M3906 422l11 21 8-5-10-22z"/>
<path color="#69d382" d="M3917 443l10 21 9-4-11-22z"/>
<path color="#3758ba" d="M4186 584l11-3 8-18-11 2z"/>
<path color="#4dc8b0" d="M3927 464l11 23 8-4-10-23z"/>
<path color="#3b7bd3" d="M4382 553l33 3 7-9-33-5z"/>
<path color="#386dc5" d="M4215 561l11-2 8-8-11 0z"/>
<path color="#44b4d2" d="M3938 487l10 23 9-4-11-23z"/>
<path color="#ffda3a" d="M3846 378l10 10 8-36-10-13z"/>
<path color="#41a3e5" d="M3948 510l11 23 8-3-10-24z"/>
<path color="#4292ef" d="M3959 533l10 24 9-4-11-23z"/>
<path color="#477bf4" d="M3969 557l11 24 8-4-10-24z"/>
<path color="#4e64f8" d="M3980 581l10 24 9-4-11-24z"/>
<path color="#6048f3" d="M3990 605l11 24 8-5-10-23z"/>
<path color="#6e32eb" d="M4001 629l10 22 9-6-11-21z"/>
<path color="#417de5" d="M3200 553l28 12 11-4-28-11z"/>
<path color="#fae33c" d="M3856 388l10 12 9-33-11-15z"/>
<path color="#4582f1" d="M3239 561l29 13 10-16-28-13z"/>
<path color="#3b4dbe" d="M4168 601l10-3 8-14-10 3z"/>
<path color="#4e29af" d="M4040 637l11-3 8-10-10 4z"/>
<path color="#4537b2" d="M4070 620l10-4 8-6-10 3z"/>
<path color="#682ad5" d="M4011 651l11-2 8-8-10 4z"/>
<path color="#e5e33e" d="M3866 400l11 13 8-30-10-16z"/>
<path color="#4585f2" d="M3278 558l29 14 11-14-29-15z"/>
<path color="#f5e33d" d="M3826 384l11 7 9-13-11-7z"/>
<path color="#375ebc" d="M4197 581l11-2 7-18-10 2z"/>
<path color="#4278e5" d="M3318 558l29 13 11 0-29-14z"/>
<path color="#426fe3" d="M4335 575l32 8 7-12-32-6z"/>
<path color="#cde341" d="M3877 413l10 15 9-26-11-19z"/>
<path color="#3975cb" d="M4226 559l22-1 7-7-21 0z"/>
<path color="#a7de54" d="M3887 428l11 16 8-22-10-20z"/>
<path color="#eae33e" d="M3837 391l10 9 9-12-10-10z"/>
<path color="#7ed968" d="M3898 444l10 17 9-18-11-21z"/>
<path color="#3a52bf" d="M4178 598l11-2 8-15-11 3z"/>
<path color="#433db6" d="M4080 616l11-4 8-5-11 3z"/>
<path color="#5224af" d="M4022 649l10-3 8-9-10 4z"/>
<path color="#4b2fb3" d="M4051 634l10-3 9-11-11 4z"/>
<path color="#62d08e" d="M3908 461l11 19 8-16-10-21z"/>
<path color="#3c72d2" d="M4374 571l33 3 8-18-33-3z"/>
<path color="#3763bf" d="M4208 579l10-2 8-18-11 2z"/>
<path color="#4bc5b6" d="M3919 480l10 20 9-13-11-23z"/>
<path color="#dce33f" d="M3847 400l10 10 9-10-10-12z"/>
<path color="#a08a24" d="M3728 395l10-11 9-33-10 12z"/>
<path color="#43b2d5" d="M3929 500l11 21 8-11-10-23z"/>
<path color="#41a2e5" d="M3940 521l10 21 9-9-11-23z"/>
<path color="#4292ef" d="M3950 542l11 22 8-7-10-24z"/>
<path color="#477cf4" d="M3961 564l10 22 9-5-11-24z"/>
<path color="#4c66f8" d="M3971 586l11 23 8-4-10-24z"/>
<path color="#5e4bf3" d="M3982 609l10 23 9-3-11-24z"/>
<path color="#a66f20" d="M3757 341l10-7 9 18-10 5z"/>
<path color="#6d33ec" d="M3992 632l11 23 8-4-10-22z"/>
<path color="#cae243" d="M3857 410l11 13 9-10-11-13z"/>
<path color="#457cef" d="M3228 565l29 15 11-6-29-13z"/>
<path color="#397ccd" d="M4415 556l33 1 7-8-33-2z"/>
<path color="#3a56c1" d="M4189 596l11-2 8-15-11 2z"/>
<path color="#477cf4" d="M3268 574l29 15 10-17-29-14z"/>
<path color="#4043b9" d="M4091 612l10-2 8-5-10 2z"/>
<path color="#5228b5" d="M4032 646l11-2 8-10-11 3z"/>
<path color="#3471bb" d="M4455 549l33 4 6 5-33-5z"/>
<path color="#4936b7" d="M4061 631l11-3 8-12-10 4z"/>
<path color="#addf51" d="M3868 423l10 13 9-8-10-15z"/>
<path color="#6c2bdd" d="M4003 655l10 1 9-7-11 2z"/>
<path color="#467ff3" d="M3307 572l29 12 11-13-29-13z"/>
<path color="#8ddb61" d="M3878 436l11 16 9-8-11-16z"/>
<path color="#386bc5" d="M4218 577l22-2 8-17-22 1z"/>
<path color="#a58023" d="M3738 384l10-8 9-35-10 10z"/>
<path color="#6fd578" d="M3889 452l10 17 9-8-10-17z"/>
<path color="#3a7cd0" d="M4248 558l32 3 8-4-33-6z"/>
<path color="#3f6cd9" d="M4367 583l33 6 7-15-33-3z"/>
<path color="#3a5cc4" d="M4200 594l10-1 8-16-10 2z"/>
<path color="#59cd9c" d="M3899 469l11 18 9-7-11-19z"/>
<path color="#3d47ba" d="M4101 610l11-3 8-4-11 2z"/>
<path color="#522dbb" d="M4043 644l10-2 8-11-10 3z"/>
<path color="#463bba" d="M4072 628l10-2 9-14-11 4z"/>
<path color="#5525b3" d="M4013 656l11-3 8-7-10 3z"/>
<path color="#49c1bd" d="M3910 487l10 19 9-6-10-20z"/>
<path color="#42afda" d="M3920 506l11 20 9-5-11-21z"/>
<path color="#41a1e6" d="M3931 526l10 21 9-5-10-21z"/>
<path color="#4292ef" d="M3941 547l11 21 9-4-11-22z"/>
<path color="#b37d23" d="M3748 376l10-6 9-36-10 7z"/>
<path color="#3973ca" d="M4407 574l33 0 8-17-33-1z"/>
<path color="#467ef3" d="M3952 568l10 22 9-4-10-22z"/>
<path color="#4b69f8" d="M3962 590l11 21 9-2-11-23z"/>
<path color="#4876f5" d="M3257 580l29 17 11-8-29-15z"/>
<path color="#5b4ff4" d="M3973 611l11 23 8-2-10-23z"/>
<path color="#6c35ef" d="M3984 634l10 24 9-3-11-23z"/>
<path color="#3a4cbb" d="M4112 607l10-3 9-3-11 2z"/>
<path color="#5133c0" d="M4053 642l11-1 8-13-11 3z"/>
<path color="#4341bc" d="M4082 626l11-2 8-14-10 2z"/>
<path color="#3b73d0" d="M3217 559l29 16 11 5-29-15z"/>
<path color="#4773f1" d="M3297 589l29 13 10-18-29-12z"/>
<path color="#5428b6" d="M4024 653l10-2 9-7-11 2z"/>
<path color="#3b63c9" d="M4210 593l22-2 8-16-22 2z"/>
<path color="#6f2de5" d="M3994 658l11 5 8-7-10-1z"/>
<path color="#3780cb" d="M4448 557l33 1 7-5-33-4z"/>
<path color="#3984d0" d="M3176 546l29 10 12 3-29-11z"/>
<path color="#c47f25" d="M3758 370l10-3 9-36-10 3z"/>
<path color="#3b77d1" d="M4240 575l32 2 8-16-32-3z"/>
<path color="#96cf51" d="M3869 422l11 18 9 12-11-16z"/>
<path color="#4f37c2" d="M4064 641l10 0 8-15-10 2z"/>
<path color="#3950bb" d="M4122 604l11-2 8-3-10 2z"/>
<path color="#4046bd" d="M4093 624l11-2 8-15-11 3z"/>
<path color="#3768bf" d="M4320 567l33 10 7 6-33-10z"/>
<path color="#542cbd" d="M4034 651l11-2 8-7-10 2z"/>
<path color="#75ce64" d="M3880 440l10 19 9 10-10-17z"/>
<path color="#f0932c" d="M3797 334l10 7 10 18-10-5z"/>
<path color="#3c80d7" d="M4280 561l33 8 7-2-32-10z"/>
<path color="#5725b6" d="M4005 663l10-4 9-6-11 3z"/>
<path color="#5fc988" d="M3890 459l11 21 9 7-11-18z"/>
<path color="#3c6ccf" d="M4400 589l33 1 7-16-33 0z"/>
<path color="#49c2af" d="M3901 480l10 21 9 5-10-19z"/>
<path color="#da8728" d="M3768 367l10 0 9-36-10 0z"/>
<path color="#43b1cd" d="M3911 501l11 22 9 3-11-20z"/>
<path color="#f8a22f" d="M3807 341l11 9 9 18-10-9z"/>
<path color="#40a3e1" d="M3922 523l11 22 8 2-10-21z"/>
<path color="#bca22b" d="M3749 403l10-2 9-34-10 3z"/>
<path color="#4c3bc2" d="M4074 641l11-1 8-16-11 2z"/>
<path color="#4096ec" d="M3933 545l10 23 9 0-11-21z"/>
<path color="#4a6df7" d="M3286 597l29 16 11-11-29-13z"/>
<path color="#4582f2" d="M3943 568l11 23 8-1-10-22z"/>
<path color="#3d4abe" d="M4104 622l10-3 8-15-10 3z"/>
<path color="#5431c3" d="M4045 649l10-1 9-7-11 1z"/>
<path color="#4a6df7" d="M3954 591l10 22 9-2-11-21z"/>
<path color="#3f6dd9" d="M3246 575l29 19 11 3-29-17z"/>
<path color="#5755f4" d="M3964 613l11 23 9-2-11-23z"/>
<path color="#693af1" d="M3975 636l11 25 8-3-10-24z"/>
<path color="#fab232" d="M3818 350l10 12 10 16-11-10z"/>
<path color="#5026af" d="M4015 659l11-4 8-4-10 2z"/>
<path color="#3778c8" d="M4440 574l34 1 7-17-33-1z"/>
<path color="#f7982e" d="M3778 367l10 3 9-36-10-3z"/>
<path color="#3d6dd1" d="M4232 591l33 3 7-17-32-2z"/>
<path color="#702fe8" d="M3986 661l10 10 9-8-11-5z"/>
<path color="#3a7fd2" d="M3205 556l29 15 12 4-29-16z"/>
<path color="#3e93e4" d="M3165 557l29 7 11-8-29-10z"/>
<path color="#ccab2d" d="M3759 401l10-1 9-33-10 0z"/>
<path color="#483ec1" d="M4085 640l10 0 9-18-11 2z"/>
<path color="#5435c7" d="M4055 648l11 0 8-7-10 0z"/>
<path color="#3a4fbe" d="M4114 619l11-2 8-15-11 2z"/>
<path color="#3e80dd" d="M4272 577l33 7 8-15-33-8z"/>
<path color="#ffa731" d="M3788 370l11 5 8-34-10-7z"/>
<path color="#502bb5" d="M4026 655l10-3 9-3-11 2z"/>
<path color="#e1dc3c" d="M3849 393l11 18 9 11-10-16z"/>
<path color="#5826b9" d="M3996 671l11-6 8-6-10 4z"/>
<path color="#3c7dd5" d="M4313 569l33 9 7-1-33-10z"/>
<path color="#e0b931" d="M3769 400l11 2 8-32-10-3z"/>
<path color="#c7dc3f" d="M3860 411l11 20 9 9-11-18z"/>
<path color="#4441be" d="M4095 640l11-2 8-19-10 3z"/>
<path color="#9ed855" d="M3871 431l10 21 9 7-10-19z"/>
<path color="#ffb033" d="M3799 375l10 7 9-32-11-9z"/>
<path color="#5237c8" d="M4066 648l11 0 8-8-11 1z"/>
<path color="#73d36d" d="M3881 452l11 22 9 6-11-21z"/>
<path color="#3953bd" d="M4125 617l11-3 8-15-11 3z"/>
<path color="#58ca99" d="M3892 474l10 23 9 4-10-21z"/>
<path color="#3a6fca" d="M4433 590l34 2 7-17-34-1z"/>
<path color="#47bcc0" d="M3902 497l11 24 9 2-11-22z"/>
<path color="#40a9dd" d="M3913 521l11 24 9 0-11-22z"/>
<path color="#4366df" d="M3275 594l29 17 11 2-29-16z"/>
<path color="#409be9" d="M3924 545l10 24 9-1-10-23z"/>
<path color="#4487f1" d="M3934 569l11 24 9-2-11-23z"/>
<path color="#f0c935" d="M3780 402l10 4 9-31-11-5z"/>
<path color="#ffbd35" d="M3809 382l11 10 8-30-10-12z"/>
<path color="#4972f6" d="M3945 593l11 23 8-3-10-22z"/>
<path color="#4d25a8" d="M4007 665l10-5 9-5-11 4z"/>
<path color="#3d68d1" d="M4224 596l33 4 8-6-33-3z"/>
<path color="#545bf6" d="M3956 616l10 24 9-4-11-23z"/>
<path color="#663ff1" d="M3966 640l11 25 9-4-11-25z"/>
<path color="#3e88e0" d="M3154 575l29 7 11-18-29-7z"/>
<path color="#3c76d3" d="M3234 571l29 17 12 6-29-19z"/>
<path color="#6f30e9" d="M3977 665l11 13 8-7-10-10z"/>
<path color="#4044bb" d="M4106 638l11-2 8-19-11 2z"/>
<path color="#ffcf38" d="M3820 392l10 12 9-28-11-14z"/>
<path color="#4093eb" d="M3194 564l29 13 11-6-29-15z"/>
<path color="#3858bd" d="M4136 614l11-3 8-14-11 2z"/>
<path color="#3f76dc" d="M4265 594l32 7 8-17-33-7z"/>
<path color="#fdda39" d="M3790 406l10 6 9-30-10-7z"/>
<path color="#ffe33c" d="M3830 404l11 13 8-24-10-17z"/>
<path color="#4a2bac" d="M4017 660l11-4 8-4-10 3z"/>
<path color="#5c27bf" d="M3988 678l10-5 9-8-11 6z"/>
<path color="#e9e33e" d="M3841 417l10 16 9-22-11-18z"/>
<path color="#3f82e0" d="M4305 584l33 8 8-14-33-9z"/>
<path color="#fce33c" d="M3800 412l11 8 9-28-11-10z"/>
<path color="#3c49ba" d="M4117 636l11-3 8-19-11 3z"/>
<path color="#cee341" d="M3851 433l11 17 9-19-11-20z"/>
<path color="#3976cb" d="M4346 578l33 7 7 0-33-8z"/>
<path color="#375cbd" d="M4147 611l10-3 8-14-10 3z"/>
<path color="#a4de55" d="M3862 450l10 18 9-16-10-21z"/>
<path color="#3b6dce" d="M4426 595l34 3 7-6-34-2z"/>
<path color="#77d86c" d="M3872 468l11 20 9-14-11-22z"/>
<path color="#efe33d" d="M3811 420l10 9 9-25-10-12z"/>
<path color="#5dce97" d="M3883 488l11 21 8-12-10-23z"/>
<path color="#4181e5" d="M3143 588l29 8 11-14-29-7z"/>
<path color="#4560e4" d="M3304 611l30 15 11 0-30-13z"/>
<path color="#49c0be" d="M3894 509l10 21 9-9-11-24z"/>
<path color="#41acde" d="M3904 530l11 23 9-8-11-24z"/>
<path color="#419de9" d="M3915 553l11 22 8-6-10-24z"/>
<path color="#448af0" d="M3926 575l10 24 9-6-11-24z"/>
<path color="#4c25a6" d="M3998 673l11-4 8-9-10 5z"/>
<path color="#4974f5" d="M3936 599l11 23 9-6-11-23z"/>
<path color="#dfe33f" d="M3821 429l11 11 9-23-11-13z"/>
<path color="#525df7" d="M3947 622l11 24 8-6-10-24z"/>
<path color="#6441f2" d="M3958 646l10 23 9-4-11-25z"/>
<path color="#394ebb" d="M4128 633l10-3 9-19-11 3z"/>
<path color="#3d6bd3" d="M3263 588l30 17 11 6-29-17z"/>
<path color="#418cea" d="M3183 582l29 12 11-17-29-13z"/>
<path color="#6f30e9" d="M3968 669l11 17 9-8-11-13z"/>
<path color="#4070dd" d="M4257 600l33 9 7-8-32-7z"/>
<path color="#3761be" d="M4157 608l11-3 8-13-11 2z"/>
<path color="#438def" d="M3223 577l29 15 11-4-29-17z"/>
<path color="#cbe342" d="M3832 440l10 13 9-20-10-16z"/>
<path color="#4077df" d="M4297 601l33 9 8-18-33-8z"/>
<path color="#abdf52" d="M3842 453l11 15 9-18-11-17z"/>
<path color="#4343be" d="M4109 646l10-2 9-11-11 3z"/>
<path color="#6028c6" d="M3979 686l11-4 8-9-10 5z"/>
<path color="#492baa" d="M4009 669l10-5 9-8-11 4z"/>
<path color="#88da63" d="M3853 468l10 16 9-16-10-18z"/>
<path color="#3852ba" d="M4138 630l11-3 8-19-10 3z"/>
<path color="#3767c0" d="M4168 605l11-2 8-12-11 1z"/>
<path color="#6bd47f" d="M3863 484l11 18 9-14-11-20z"/>
<path color="#3d7fda" d="M4338 592l33 5 8-12-33-7z"/>
<path color="#e2e33f" d="M3801 419l11 10 9 0-10-9z"/>
<path color="#54cba5" d="M3874 502l11 18 9-11-11-21z"/>
<path color="#47bcc5" d="M3885 520l10 20 9-10-10-21z"/>
<path color="#3569bb" d="M4419 590l34 4 7 4-34-3z"/>
<path color="#3d78d8" d="M3132 588l28 10 12-2-29-8z"/>
<path color="#41aadf" d="M3895 540l11 21 9-8-11-23z"/>
<path color="#4047bf" d="M4119 644l11-2 8-12-10 3z"/>
<path color="#d4e340" d="M3812 429l10 12 10-1-11-11z"/>
<path color="#419de9" d="M3906 561l11 21 9-7-11-22z"/>
<path color="#4f25aa" d="M3990 682l10-3 9-10-11 4z"/>
<path color="#4483ee" d="M3172 596l29 13 11-15-29-12z"/>
<path color="#4632ae" d="M4019 664l11-4 8-8-10 4z"/>
<path color="#448bf0" d="M3917 582l10 22 9-5-10-24z"/>
<path color="#a28e25" d="M3691 428l10-10 9-37-10 12z"/>
<path color="#3757ba" d="M4149 627l11-2 8-20-11 3z"/>
<path color="#4875f5" d="M3927 604l11 24 9-6-11-23z"/>
<path color="#525ef7" d="M3938 628l11 23 9-5-11-24z"/>
<path color="#6343f2" d="M3949 651l11 23 8-5-10-23z"/>
<path color="#bee148" d="M3822 441l11 13 9-1-10-13z"/>
<path color="#4488f1" d="M3212 594l29 14 11-16-29-15z"/>
<path color="#6f31ea" d="M3960 674l10 20 9-8-11-17z"/>
<path color="#4481ee" d="M3252 592l29 16 12-3-30-17z"/>
<path color="#4372e4" d="M4290 609l33 10 7-9-33-9z"/>
<path color="#386fc6" d="M4179 603l22-3 8-11-22 2z"/>
<path color="#a1dd57" d="M3833 454l11 15 9-1-11-15z"/>
<path color="#3d4cc0" d="M4130 642l11-2 8-13-11 3z"/>
<path color="#6428ce" d="M3970 694l11-3 9-9-11 4z"/>
<path color="#4d2aaf" d="M4000 679l11-4 8-11-10 5z"/>
<path color="#375cbc" d="M4160 625l11-3 8-19-11 2z"/>
<path color="#4439b3" d="M4030 660l11-4 8-8-11 4z"/>
<path color="#81d967" d="M3844 469l10 16 9-1-10-16z"/>
<path color="#3e74d9" d="M4330 610l34 6 7-19-33-5z"/>
<path color="#a88424" d="M3701 418l10-7 9-39-10 9z"/>
<path color="#68d384" d="M3854 485l11 18 9-1-11-18z"/>
<path color="#52caa7" d="M3865 503l11 19 9-2-11-18z"/>
<path color="#c09f2a" d="M3781 385l10 9 10 25-10-7z"/>
<path color="#47bcc5" d="M3876 522l10 20 9-2-10-20z"/>
<path color="#3b51c1" d="M4141 640l11-2 8-13-11 2z"/>
<path color="#3a7cd0" d="M4371 597l34 2 7-11-33-3z"/>
<path color="#41abdf" d="M3886 542l11 21 9-2-11-21z"/>
<path color="#5225ae" d="M3981 691l11-3 8-9-10 3z"/>
<path color="#417be4" d="M3160 598l29 14 12-3-29-13z"/>
<path color="#4b30b3" d="M4011 675l10-3 9-12-11 4z"/>
<path color="#4240b8" d="M4041 656l10-3 9-8-11 3z"/>
<path color="#419ee9" d="M3897 563l11 22 9-3-11-21z"/>
<path color="#cab22f" d="M3791 394l11 12 10 23-11-10z"/>
<path color="#467ef3" d="M3201 609l29 16 11-17-29-14z"/>
<path color="#3574bf" d="M4412 588l34 2 7 4-34-4z"/>
<path color="#438df0" d="M3908 585l10 22 9-3-10-22z"/>
<path color="#4878f5" d="M3918 607l11 23 9-2-11-24z"/>
<path color="#b58325" d="M3711 411l10-4 9-40-10 5z"/>
<path color="#4f61f7" d="M3929 630l11 23 9-2-11-23z"/>
<path color="#6147f3" d="M3940 653l11 24 9-3-11-23z"/>
<path color="#3864c0" d="M4171 622l22-3 8-19-22 3z"/>
<path color="#de8128" d="M3740 365l10 1 10 7-10-1z"/>
<path color="#4680f3" d="M3241 608l30 15 10-15-29-16z"/>
<path color="#6e31eb" d="M3951 677l11 24 8-7-10-20z"/>
<path color="#4476e9" d="M3281 608l30 13 11-1-29-15z"/>
<path color="#3a56c2" d="M4152 638l11-2 8-14-11 3z"/>
<path color="#397acd" d="M4201 600l33 0 8-8-33-3z"/>
<path color="#426fe0" d="M4323 619l33 9 8-12-34-6z"/>
<path color="#5229b6" d="M3992 688l10-3 9-10-11 4z"/>
<path color="#4837b8" d="M4021 672l11-2 9-14-11 4z"/>
<path color="#4046bc" d="M4051 653l11-3 9-7-11 2z"/>
<path color="#6829d3" d="M3962 701l10-3 9-7-11 3z"/>
<path color="#c28426" d="M3721 407l10-2 9-40-10 2z"/>
<path color="#93cc51" d="M3834 454l11 19 9 12-10-16z"/>
<path color="#3b72cf" d="M4364 616l33 2 8-19-34-2z"/>
<path color="#71cc65" d="M3845 473l10 20 10 10-11-18z"/>
<path color="#512ebc" d="M4002 685l11-1 8-12-10 3z"/>
<path color="#3d4bbf" d="M4062 650l11-2 8-7-10 2z"/>
<path color="#463dbc" d="M4032 670l11-2 8-15-10 3z"/>
<path color="#5cc78c" d="M3855 493l11 22 10 7-11-19z"/>
<path color="#5224ae" d="M3972 698l11-4 9-6-11 3z"/>
<path color="#4679f0" d="M3189 612l30 18 11-5-29-16z"/>
<path color="#3b5dc6" d="M4163 636l22-3 8-14-22 3z"/>
<path color="#48beb3" d="M3866 515l11 22 9 5-10-20z"/>
<path color="#da902a" d="M3731 405l10 0 9-39-10-1z"/>
<path color="#4876f5" d="M3230 625l30 15 11-17-30-15z"/>
<path color="#41add2" d="M3877 537l11 23 9 3-11-21z"/>
<path color="#387ecc" d="M4405 599l34 0 7-9-34-2z"/>
<path color="#40a0e2" d="M3888 560l11 24 9 1-11-22z"/>
<path color="#ffae33" d="M3771 377l11 10 9 7-10-9z"/>
<path color="#4191ed" d="M3899 584l10 24 9-1-10-22z"/>
<path color="#467cf2" d="M3909 608l11 23 9-1-11-23z"/>
<path color="#3986cf" d="M3107 584l29 7 12 1-29-9z"/>
<path color="#477af4" d="M3271 623l29 12 11-14-30-13z"/>
<path color="#4b66f6" d="M3920 631l11 23 9-1-11-23z"/>
<path color="#386fc6" d="M4193 619l33-1 8-18-33 0z"/>
<path color="#5c4cf2" d="M3931 654l11 25 9-2-11-24z"/>
<path color="#6d34ed" d="M3942 679l11 25 9-3-11-24z"/>
<path color="#5034c1" d="M4013 684l11-1 8-13-11 2z"/>
<path color="#3b50c0" d="M4073 648l11-3 8-5-11 1z"/>
<path color="#4442be" d="M4043 668l11-1 8-17-11 3z"/>
<path color="#ffbe35" d="M3782 387l10 12 10 7-11-12z"/>
<path color="#f19f2e" d="M3741 405l11 3 9-38-11-4z"/>
<path color="#5228b5" d="M3983 694l10-3 9-6-10 3z"/>
<path color="#6b2bda" d="M3953 704l10 1 9-7-10 3z"/>
<path color="#3b82d6" d="M4234 600l33 6 8-6-33-8z"/>
<path color="#ffd239" d="M3792 399l11 15 10 6-11-14z"/>
<path color="#3e6cd6" d="M4356 628l34 4 7-14-33-2z"/>
<path color="#ffaf32" d="M3752 408l10 6 9-37-10-7z"/>
<path color="#fde33c" d="M3803 414l11 17 9 5-10-16z"/>
<path color="#4f38c4" d="M4024 683l10 0 9-15-11 2z"/>
<path color="#3a53c0" d="M4084 645l11-2 8-5-11 2z"/>
<path color="#4147bf" d="M4054 667l10-2 9-17-11 2z"/>
<path color="#e3e33f" d="M3814 431l11 19 9 4-11-18z"/>
<path color="#522dbb" d="M3993 691l11-2 9-5-11 1z"/>
<path color="#4971f6" d="M3219 630l30 18 11-8-30-15z"/>
<path color="#5224ad" d="M3963 705l11-5 9-6-11 4z"/>
<path color="#f0cd36" d="M3732 430l11 3 9-25-11-3z"/>
<path color="#3874c7" d="M4397 618l34 0 8-19-34 0z"/>
<path color="#c3e246" d="M3825 450l10 20 10 3-11-19z"/>
<path color="#ffbd35" d="M3762 414l11 8 9-35-11-10z"/>
<path color="#496ef3" d="M3260 640l29 14 11-19-29-12z"/>
<path color="#97dc5c" d="M3835 470l11 21 9 2-10-20z"/>
<path color="#3b68cc" d="M4185 633l33 1 8-16-33 1z"/>
<path color="#3c71d2" d="M3177 606l30 18 12 6-30-18z"/>
<path color="#6fd578" d="M3846 491l11 23 9 1-11-22z"/>
<path color="#53caa5" d="M3857 514l11 23 9 0-11-22z"/>
<path color="#45b9c9" d="M3868 537l11 24 9-1-11-23z"/>
<path color="#3c8edc" d="M3096 598l28 5 12-12-29-7z"/>
<path color="#4c3cc5" d="M4034 683l11-1 9-15-11 1z"/>
<path color="#41a6e1" d="M3879 561l11 24 9-1-11-24z"/>
<path color="#4198ed" d="M3890 585l10 25 9-2-10-24z"/>
<path color="#3956be" d="M4095 643l10-2 9-4-11 1z"/>
<path color="#4974f5" d="M3300 635l30 12 11-12-30-14z"/>
<path color="#ffcb37" d="M3773 422l10 10 9-33-10-12z"/>
<path color="#3e4bc0" d="M4064 665l11-2 9-18-11 3z"/>
<path color="#4582f2" d="M3900 610l11 23 9-2-11-23z"/>
<path color="#3a86d4" d="M3136 591l29 12 12 3-29-14z"/>
<path color="#4a6df7" d="M3911 633l11 23 9-2-11-23z"/>
<path color="#ffdf3a" d="M3743 433l10 5 9-24-10-6z"/>
<path color="#5232c1" d="M4004 689l11-1 9-5-11 1z"/>
<path color="#5853f4" d="M3922 656l11 25 9-2-11-25z"/>
<path color="#6b37f0" d="M3933 681l11 26 9-3-11-25z"/>
<path color="#4e27ad" d="M3974 700l11-4 8-5-10 3z"/>
<path color="#3c7cd5" d="M4226 618l33 5 8-17-33-6z"/>
<path color="#ffdd3a" d="M3783 432l11 11 9-29-11-15z"/>
<path color="#6f2ee5" d="M3944 707l11 6 8-8-10-1z"/>
<path color="#fee33c" d="M3753 438l11 6 9-22-11-8z"/>
<path color="#366abf" d="M4308 611l34 10 7 6-34-10z"/>
<path color="#f4e33d" d="M3794 443l11 14 9-26-11-17z"/>
<path color="#4a3fc4" d="M4045 682l11 0 8-17-10 2z"/>
<path color="#3d85db" d="M4267 606l33 9 8-4-33-11z"/>
<path color="#3859bc" d="M4105 641l11-2 9-4-11 2z"/>
<path color="#3a4fc0" d="M4075 663l11-3 9-17-11 2z"/>
<path color="#dce33f" d="M3805 457l10 16 10-23-11-19z"/>
<path color="#3b6dce" d="M4390 632l34 2 7-16-34 0z"/>
<path color="#f4e33d" d="M3764 444l10 8 9-20-10-10z"/>
<path color="#4d2cb1" d="M3985 696l10-4 9-3-11 2z"/>
<path color="#bce149" d="M3815 473l11 17 9-20-10-20z"/>
<path color="#4b69f8" d="M3249 648l29 16 11-10-29-14z"/>
<path color="#5325b0" d="M3955 713l10-6 9-7-11 5z"/>
<path color="#93db5e" d="M3826 490l11 19 9-18-11-21z"/>
<path color="#3c81d8" d="M3085 617l28 5 11-19-28-5z"/>
<path color="#406ad9" d="M3207 624l30 20 12 4-30-18z"/>
<path color="#4642c1" d="M4056 682l11-1 8-18-11 2z"/>
<path color="#4968f2" d="M3289 654l30 12 11-19-30-12z"/>
<path color="#6ed57b" d="M3837 509l11 19 9-14-11-23z"/>
<path color="#375dbb" d="M4116 639l11-2 9-4-11 2z"/>
<path color="#e7e33e" d="M3774 452l11 11 9-20-11-11z"/>
<path color="#53cba6" d="M3848 528l11 21 9-12-11-23z"/>
<path color="#3953bf" d="M4086 660l11-2 8-17-10 2z"/>
<path color="#46bac9" d="M3859 549l11 22 9-10-11-24z"/>
<path color="#41a8e1" d="M3870 571l10 22 10-8-11-24z"/>
<path color="#3c80d8" d="M3165 603l30 17 12 4-30-18z"/>
<path color="#4199ec" d="M3880 593l11 23 9-6-10-25z"/>
<path color="#3e73d8" d="M4218 634l33 5 8-16-33-5z"/>
<path color="#4584f2" d="M3891 616l11 24 9-7-11-23z"/>
<path color="#3f94e7" d="M3124 603l30 10 11-10-29-12z"/>
<path color="#4a6ff7" d="M3902 640l11 23 9-7-11-23z"/>
<path color="#d6e340" d="M3785 463l10 12 10-18-11-14z"/>
<path color="#5656f6" d="M3913 663l11 24 9-6-11-25z"/>
<path color="#693bf1" d="M3924 687l11 24 9-4-11-26z"/>
<path color="#4b26a7" d="M3965 707l11-5 9-6-11 4z"/>
<path color="#6f2fe8" d="M3935 711l11 10 9-8-11-6z"/>
<path color="#4245be" d="M4067 681l11-2 8-19-11 3z"/>
<path color="#bfe148" d="M3795 475l11 13 9-15-10-16z"/>
<path color="#3e82df" d="M4259 623l34 8 7-16-33-9z"/>
<path color="#3661bb" d="M4127 637l11-2 9-3-11 1z"/>
<path color="#3957be" d="M4097 658l11-3 8-16-11 2z"/>
<path color="#9fdd58" d="M3806 488l11 16 9-14-11-17z"/>
<path color="#3668bc" d="M4342 621l33 7 8 5-34-6z"/>
<path color="#3c7fd6" d="M4300 615l34 8 8-2-34-10z"/>
<path color="#3b6acb" d="M4383 633l34 4 7-3-34-2z"/>
<path color="#7cd96a" d="M3817 504l11 16 9-11-11-19z"/>
<path color="#3f7bdd" d="M3073 628l29 6 11-12-28-5z"/>
<path color="#5726b8" d="M3946 721l10-5 9-9-10 6z"/>
<path color="#482caa" d="M3976 702l11-5 8-5-10 4z"/>
<path color="#4f61f7" d="M3278 664l30 14 11-12-30-12z"/>
<path color="#64d18b" d="M3828 520l11 19 9-11-11-19z"/>
<path color="#3e49bd" d="M4078 679l11-2 8-19-11 2z"/>
<path color="#4362de" d="M3237 644l30 17 11 3-29-16z"/>
<path color="#4cc8b1" d="M3839 539l10 19 10-9-11-21z"/>
<path color="#385bbd" d="M4108 655l11-2 8-16-11 2z"/>
<path color="#45b7ce" d="M3849 558l11 20 10-7-11-22z"/>
<path color="#3f88e2" d="M3113 622l29 10 12-19-30-10z"/>
<path color="#41a7e2" d="M3860 578l11 22 9-7-10-22z"/>
<path color="#3e75d8" d="M3195 620l30 19 12 5-30-20z"/>
<path color="#3d6cd2" d="M4210 637l33 7 8-5-33-5z"/>
<path color="#3667bd" d="M4138 635l22-4 9-1-22 2z"/>
<path color="#4199ec" d="M3871 600l11 22 9-6-11-23z"/>
<path color="#4585f2" d="M3882 622l11 23 9-5-11-24z"/>
<path color="#4292ef" d="M3154 613l29 15 12-8-30-17z"/>
<path color="#4a70f6" d="M3893 645l11 24 9-6-11-23z"/>
<path color="#d0dd3e" d="M3775 457l11 13 9 5-10-12z"/>
<path color="#5657f6" d="M3904 669l11 24 9-6-11-24z"/>
<path color="#673df1" d="M3915 693l11 23 9-5-11-24z"/>
<path color="#4079e1" d="M4251 639l34 9 8-17-34-8z"/>
<path color="#4b25a6" d="M3956 716l11-5 9-9-11 5z"/>
<path color="#3a4dbd" d="M4089 677l11-2 8-20-11 3z"/>
<path color="#6f2fe9" d="M3926 716l11 13 9-8-11-10z"/>
<path color="#3760be" d="M4119 653l11-3 8-15-11 2z"/>
<path color="#bbdd47" d="M3786 470l11 15 9 3-11-13z"/>
<path color="#3f82df" d="M4293 631l33 7 8-15-34-8z"/>
<path color="#9eda56" d="M3797 485l10 16 10 3-11-16z"/>
<path color="#3979cc" d="M4334 623l34 6 7-1-33-7z"/>
<path color="#7dd767" d="M3807 501l11 17 10 2-11-16z"/>
<path color="#3568ba" d="M4375 628l35 4 7 5-34-4z"/>
<path color="#5d27c1" d="M3937 729l10-4 9-9-10 5z"/>
<path color="#3951bc" d="M4100 675l11-3 8-19-11 2z"/>
<path color="#3972c9" d="M3060 626l29 8 13 0-29-6z"/>
<path color="#482ca9" d="M3967 711l11-5 9-9-11 5z"/>
<path color="#475be2" d="M3267 661l30 17 11 0-30-14z"/>
<path color="#65d087" d="M3818 518l11 20 10 1-11-19z"/>
<path color="#4281e8" d="M3102 634l29 11 11-13-29-10z"/>
<path color="#4fc8ac" d="M3829 538l11 20 9 0-10-19z"/>
<path color="#3f69d6" d="M3225 639l30 17 12 5-30-17z"/>
<path color="#45b8c9" d="M3840 558l11 21 9-1-11-20z"/>
<path color="#438aee" d="M3142 632l30 14 11-18-29-15z"/>
<path color="#3768c1" d="M4130 650l22-4 8-15-22 4z"/>
<path color="#41a8e0" d="M3851 579l11 22 9-1-11-22z"/>
<path color="#419bea" d="M3862 601l11 23 9-2-11-22z"/>
<path color="#4489f1" d="M3183 628l30 17 12-6-30-19z"/>
<path color="#4173df" d="M4243 644l34 11 8-7-34-9z"/>
<path color="#4488f1" d="M3873 624l11 24 9-3-11-23z"/>
<path color="#3855bc" d="M4111 672l11-2 8-20-11 3z"/>
<path color="#4f25ab" d="M3947 725l11-3 9-11-11 5z"/>
<path color="#4972f6" d="M3884 648l11 24 9-3-11-24z"/>
<path color="#545af6" d="M3895 672l11 25 9-4-11-24z"/>
<path color="#4533ad" d="M3978 706l11-4 8-10-10 5z"/>
<path color="#6640f1" d="M3906 697l11 24 9-5-11-23z"/>
<path color="#4077df" d="M4285 648l33 9 8-19-33-7z"/>
<path color="#6f30e9" d="M3917 721l11 16 9-8-11-13z"/>
<path color="#ea7d2a" d="M3702 394l10 2 10-3-10-2z"/>
<path color="#3c7ed7" d="M4326 638l34 5 8-14-34-6z"/>
<path color="#6128c7" d="M3928 737l10-3 9-9-10 4z"/>
<path color="#4d2baf" d="M3958 722l11-4 9-12-11 5z"/>
<path color="#423bb3" d="M3989 702l10-4 9-10-11 4z"/>
<path color="#ff8f2f" d="M3712 396l11 5 10-2-11-6z"/>
<path color="#3d78d7" d="M3089 634l30 12 12-1-29-11z"/>
<path color="#3778c5" d="M4368 629l34 3 8 0-35-4z"/>
<path color="#385cbd" d="M4122 670l22-5 8-19-22 4z"/>
<path color="#4682f2" d="M3131 645l30 15 11-14-30-14z"/>
<path color="#96cc4f" d="M3798 484l10 21 10 13-11-17z"/>
<path color="#405fd5" d="M3255 656l30 16 12 6-30-17z"/>
<path color="#71cb65" d="M3808 505l11 22 10 11-11-20z"/>
<path color="#4583f2" d="M3172 646l30 16 11-17-30-17z"/>
<path color="#3b51c3" d="M4102 683l11-2 9-11-11 2z"/>
<path color="#5ac58d" d="M3819 527l11 23 10 8-11-20z"/>
<path color="#467ef2" d="M3213 645l30 15 12-4-30-17z"/>
<path color="#ff9930" d="M3723 401l11 8 9-2-10-8z"/>
<path color="#3874c7" d="M4152 646l34-4 8-12-34 1z"/>
<path color="#47bcb5" d="M3830 550l11 23 10 6-11-21z"/>
<path color="#5125ae" d="M3938 734l11-3 9-9-11 3z"/>
<path color="#4a31b4" d="M3969 718l11-2 9-14-11 4z"/>
<path color="#4142b9" d="M3999 698l11-3 9-10-11 3z"/>
<path color="#40aad5" d="M3841 573l11 25 10 3-11-22z"/>
<path color="#dc8f2a" d="M3693 435l10 1 9-40-10-2z"/>
<path color="#409de3" d="M3852 598l11 25 10 1-11-23z"/>
<path color="#4273e3" d="M4277 655l34 11 7-9-33-9z"/>
<path color="#428cec" d="M3863 623l11 25 10 0-11-24z"/>
<path color="#4776f2" d="M3874 648l11 25 10-1-11-24z"/>
<path color="#4f5ff5" d="M3885 673l11 25 10-1-11-25z"/>
<path color="#6244f2" d="M3896 698l11 25 10-2-11-24z"/>
<path color="#6f31ea" d="M3907 723l11 22 10-8-11-16z"/>
<path color="#ffa731" d="M3734 409l10 10 10-1-11-11z"/>
<path color="#3d74d6" d="M4318 657l35 5 7-19-34-5z"/>
<path color="#f09d2e" d="M3703 436l11 4 9-39-11-5z"/>
<path color="#ffb834" d="M3744 419l11 14 10-2-11-13z"/>
<path color="#5229b5" d="M3949 731l11-3 9-10-11 4z"/>
<path color="#4838b8" d="M3980 716l11-2 8-16-10 4z"/>
<path color="#3f48bf" d="M4010 695l11-2 9-10-11 2z"/>
<path color="#6428cd" d="M3918 745l11-4 9-7-10 3z"/>
<path color="#3b58c4" d="M4113 681l22-3 9-13-22 5z"/>
<path color="#ffce38" d="M3755 433l11 15 10-1-11-16z"/>
<path color="#397dce" d="M4360 643l35 1 7-12-34-3z"/>
<path color="#427ae6" d="M3119 646l29 17 13-3-30-15z"/>
<path color="#77721f" d="M3580 470l9-26 12 22-10 21z"/>
<path color="#4779f4" d="M3161 660l30 18 11-16-30-16z"/>
<path color="#ffad32" d="M3714 440l10 6 10-37-11-8z"/>
<path color="#ffe33c" d="M3766 448l11 18 10-2-11-17z"/>
<path color="#3868c2" d="M4144 665l33-3 9-20-34 4z"/>
<path color="#3986ce" d="M3035 626l29 5 12-3-28-7z"/>
<path color="#477bf4" d="M3202 662l30 15 11-17-30-15z"/>
<path color="#e4e33f" d="M3777 466l11 19 10-1-11-20z"/>
<path color="#502fbb" d="M3960 728l11-2 9-10-11 2z"/>
<path color="#4674ef" d="M3243 660l30 15 12-3-30-16z"/>
<path color="#463ebd" d="M3991 714l11-2 8-17-11 3z"/>
<path color="#3d4ec2" d="M4021 693l11-2 9-9-11 1z"/>
<path color="#c2e146" d="M3788 485l11 21 9-1-10-21z"/>
<path color="#5124ac" d="M3929 741l11-4 9-6-11 3z"/>
<path color="#ffbe35" d="M3724 446l11 8 9-35-10-10z"/>
<path color="#95dc5d" d="M3799 506l11 22 9-1-11-22z"/>
<path color="#6cd47d" d="M3810 528l11 23 9-1-11-23z"/>
<path color="#50c9ab" d="M3821 551l11 24 9-2-11-23z"/>
<path color="#44b6ce" d="M3832 575l11 25 9-2-11-25z"/>
<path color="#41a4e3" d="M3843 600l11 25 9-2-11-25z"/>
<path color="#4193ed" d="M3854 625l11 25 9-2-11-25z"/>
<path color="#397fcf" d="M4186 642l33 3 8-9-33-6z"/>
<path color="#406fdd" d="M4311 666l34 8 8-12-35-5z"/>
<path color="#467df2" d="M3865 650l11 25 9-2-11-25z"/>
<path color="#4b66f7" d="M3876 675l11 24 9-1-11-25z"/>
<path color="#5d4af1" d="M3887 699l11 26 9-2-11-25z"/>
<path color="#6e32ec" d="M3898 725l11 27 9-7-11-22z"/>
<path color="#ffcd38" d="M3735 454l11 11 9-32-11-14z"/>
<path color="#5035c1" d="M3971 726l11 0 9-12-11 2z"/>
<path color="#4443bf" d="M4002 712l10-1 9-18-11 2z"/>
<path color="#3b53c4" d="M4032 691l11-2 9-9-11 2z"/>
<path color="#5128b3" d="M3940 737l11-3 9-6-11 3z"/>
<path color="#ffe03b" d="M3746 465l11 12 9-29-11-15z"/>
<path color="#6729d2" d="M3909 752l11-4 9-7-11 4z"/>
<path color="#3a73cd" d="M4353 662l34 2 8-20-35-1z"/>
<path color="#f1e33d" d="M3757 477l11 15 9-26-11-18z"/>
<path color="#3b63c9" d="M4135 678l34-2 8-14-33 3z"/>
<path color="#4775f1" d="M3148 663l31 19 12-4-30-18z"/>
<path color="#4971f6" d="M3191 678l30 17 11-18-30-15z"/>
<path color="#d8e340" d="M3768 492l10 16 10-23-11-19z"/>
<path color="#3a87d4" d="M3024 643l28 3 12-15-29-5z"/>
<path color="#4f39c5" d="M3982 726l11 0 9-14-11 2z"/>
<path color="#3b56c4" d="M4043 689l11-2 9-8-11 1z"/>
<path color="#4147c1" d="M4012 711l11-2 9-18-11 2z"/>
<path color="#3975cb" d="M3106 639l30 17 12 7-29-17z"/>
<path color="#4974f5" d="M3232 677l30 13 11-15-30-15z"/>
<path color="#b7e04c" d="M3778 508l11 18 10-20-11-21z"/>
<path color="#502eb9" d="M3951 734l11-3 9-5-11 2z"/>
<path color="#486cf1" d="M3273 675l31 16 11-1-30-18z"/>
<path color="#f8e33d" d="M3725 472l11 9 10-16-11-11z"/>
<path color="#3a89d4" d="M3064 631l29 9 13-1-30-11z"/>
<path color="#4e23a7" d="M3920 748l11-5 9-6-11 4z"/>
<path color="#8ddb61" d="M3789 526l11 19 10-17-11-22z"/>
<path color="#6ad381" d="M3800 545l11 20 10-14-11-23z"/>
<path color="#3975cc" d="M4177 662l34 2 8-19-33-3z"/>
<path color="#4fc9ac" d="M3811 565l11 22 10-12-11-24z"/>
<path color="#45b6ce" d="M3822 587l11 22 10-9-11-25z"/>
<path color="#eae33e" d="M3736 481l11 11 10-15-11-12z"/>
<path color="#41a5e3" d="M3833 609l12 24 9-8-11-25z"/>
<path color="#4196ee" d="M3845 633l11 24 9-7-11-25z"/>
<path color="#845219" d="M3599 420l10-22 11 32-10 17z"/>
<path color="#4d3dc7" d="M3993 726l11-1 8-14-10 1z"/>
<path color="#4680f3" d="M3856 657l11 23 9-5-11-25z"/>
<path color="#3a59c2" d="M4054 687l11-2 9-7-11 1z"/>
<path color="#4b6af8" d="M3867 680l11 24 9-5-11-24z"/>
<path color="#3e4bc1" d="M4023 709l11-1 9-19-11 2z"/>
<path color="#6d34ee" d="M3889 729l11 27 9-4-11-27z"/>
<path color="#5b50f4" d="M3878 704l11 25 9-4-11-26z"/>
<path color="#3d208a" d="M3431 753l9-22 11-13-9 24z"/>
<path color="#3c88dc" d="M4219 645l34 8 8-7-34-10z"/>
<path color="#4f33be" d="M3962 731l11-1 9-4-11 0z"/>
<path color="#3d6ed4" d="M4345 674l34 3 8-13-34-2z"/>
<path color="#d9e340" d="M3747 492l11 13 10-13-11-15z"/>
<path color="#957921" d="M3580 486l10-20 9-46-10 24z"/>
<path color="#4c27ab" d="M3931 743l11-5 9-4-11 3z"/>
<path color="#6a2bda" d="M3900 756l11 1 9-9-11 4z"/>
<path color="#c0e147" d="M3758 505l11 15 9-12-10-16z"/>
<path color="#3b7bd3" d="M3012 662l29 3 11-19-28-3z"/>
<path color="#4a6cf7" d="M3179 682l30 19 12-6-30-17z"/>
<path color="#4a41c7" d="M4004 725l11 1 8-17-11 2z"/>
<path color="#4a69f6" d="M3221 695l30 14 11-19-30-13z"/>
<path color="#395cc0" d="M4065 685l11-2 9-6-11 1z"/>
<path color="#3b4fc1" d="M4034 708l12-2 8-19-11 2z"/>
<path color="#a0dd58" d="M3769 520l11 16 9-10-11-18z"/>
<path color="#3d6fd3" d="M3136 656l30 20 13 6-31-19z"/>
<path color="#7bd96a" d="M3780 536l11 18 9-9-11-19z"/>
<path color="#3c6ed0" d="M4169 676l34 3 8-15-34-2z"/>
<path color="#4a6df7" d="M3262 690l30 14 12-13-31-16z"/>
<path color="#833f17" d="M3609 398l10-18 11 36-10 14z"/>
<path color="#3d8fdf" d="M3052 646l30 7 11-13-29-9z"/>
<path color="#4a2eae" d="M3942 738l11-4 9-3-11 3z"/>
<path color="#63d18c" d="M3791 554l11 19 9-8-11-20z"/>
<path color="#4e23a7" d="M3911 757l11-6 9-8-11 5z"/>
<path color="#3c89db" d="M3093 640l30 14 13 2-30-17z"/>
<path color="#4bc7b3" d="M3802 573l11 20 9-6-11-22z"/>
<path color="#4743c5" d="M4015 726l11-1 8-17-11 1z"/>
<path color="#44b5d0" d="M3813 593l11 22 9-6-11-22z"/>
<path color="#385fbf" d="M4076 683l12-2 8-6-11 2z"/>
<path color="#9a631d" d="M3590 466l10-17 9-51-10 22z"/>
<path color="#3a53c0" d="M4046 706l11-2 8-19-11 2z"/>
<path color="#41a5e3" d="M3824 615l11 23 10-5-12-24z"/>
<path color="#4197ee" d="M3835 638l11 23 10-4-11-24z"/>
<path color="#3d80da" d="M4211 664l34 7 8-18-34-8z"/>
<path color="#401e8b" d="M3420 764l9-21 11-12-9 22z"/>
<path color="#4681f2" d="M3846 661l11 24 10-5-11-23z"/>
<path color="#4a6cf7" d="M3857 685l11 24 10-5-11-24z"/>
<path color="#5953f5" d="M3868 709l12 25 9-5-11-25z"/>
<path color="#6c37f0" d="M3880 734l11 26 9-4-11-27z"/>
<path color="#3d87de" d="M4253 653l34 10 8-6-34-11z"/>
<path color="#4927a5" d="M3922 751l11-6 9-7-11 5z"/>
<path color="#928925" d="M3581 511l10-13 9-49-10 17z"/>
<path color="#3d76d6" d="M2999 669l29 6 13-10-29-3z"/>
<path color="#6f2ee6" d="M3891 760l11 5 9-8-11-1z"/>
<path color="#4346c2" d="M4026 725l11-1 9-18-12 2z"/>
<path color="#833016" d="M3619 380l10-15 12 40-11 11z"/>
<path color="#4e63f8" d="M3209 701l31 17 11-9-30-14z"/>
<path color="#bad440" d="M3748 500l11 16 10 4-11-15z"/>
<path color="#3956bf" d="M4057 704l11-2 8-19-11 2z"/>
<path color="#6227c7" d="M3399 762l10 9 11-7-10-8z"/>
<path color="#4066d9" d="M3166 676l31 21 12 4-30-19z"/>
<path color="#4e63f7" d="M3251 709l31 14 10-19-30-14z"/>
<path color="#9dd350" d="M3759 516l11 17 10 3-11-16z"/>
<path color="#3d83dc" d="M3041 665l29 7 12-19-30-7z"/>
<path color="#3461b4" d="M4119 673l33-2 9 6-34 0z"/>
<path color="#3765bf" d="M4088 681l22-4 9-4-23 2z"/>
<path color="#9b4e1b" d="M3600 449l10-15 9-54-10 18z"/>
<path color="#7dd062" d="M3770 533l11 19 10 2-11-18z"/>
<path color="#5325b0" d="M3902 765l10-4 10-10-11 6z"/>
<path color="#3e80dd" d="M3123 654l31 19 12 3-30-20z"/>
<path color="#452ea8" d="M3933 745l11-5 9-6-11 4z"/>
<path color="#4049c1" d="M4037 724l11-2 9-18-11 2z"/>
<path color="#312c85" d="M3429 743l10-23 11-12-10 23z"/>
<path color="#64cb81" d="M3781 552l11 20 10 1-11-19z"/>
<path color="#4195ed" d="M3082 653l29 13 12-12-30-14z"/>
<path color="#4078de" d="M4203 679l34 8 8-16-34-7z"/>
<path color="#385abe" d="M4068 702l11-3 9-18-12 2z"/>
<path color="#4dc4a8" d="M3792 572l11 21 10 0-11-20z"/>
<path color="#9e8323" d="M3591 498l10-11 9-53-10 15z"/>
<path color="#882818" d="M3629 365l10-11 12 43-10 8z"/>
<path color="#44b5c7" d="M3803 593l11 23 10-1-11-22z"/>
<path color="#411e8c" d="M3409 771l10-18 10-10-9 21z"/>
<path color="#40a5de" d="M3814 616l11 23 10-1-11-23z"/>
<path color="#4098e9" d="M3825 639l12 24 9-2-11-23z"/>
<path color="#4484f0" d="M3837 663l11 25 9-3-11-24z"/>
<path color="#4a6ef6" d="M3848 688l11 26 9-5-11-24z"/>
<path color="#3f83e0" d="M4245 671l34 9 8-17-34-10z"/>
<path color="#5755f5" d="M3859 714l11 26 10-6-12-25z"/>
<path color="#6a3af0" d="M3870 740l11 25 10-5-11-26z"/>
<path color="#3c4dc1" d="M4048 722l11-2 9-18-11 2z"/>
<path color="#4b26a6" d="M3912 761l11-5 10-11-11 6z"/>
<path color="#4235ab" d="M3944 740l10-5 10-5-11 4z"/>
<path color="#9d3b1a" d="M3610 434l10-12 9-57-10 15z"/>
<path color="#702fe8" d="M3881 765l11 9 10-9-11-5z"/>
<path color="#3b81d6" d="M4287 663l35 8 8-4-35-10z"/>
<path color="#356bbc" d="M4330 667l34 6 8 5-35-6z"/>
<path color="#545af6" d="M3240 718l30 16 12-11-31-14z"/>
<path color="#407de1" d="M3028 675l30 9 12-12-29-7z"/>
<path color="#98261b" d="M3639 354l11-5 11 44-10 4z"/>
<path color="#435dde" d="M3197 697l30 18 13 3-31-17z"/>
<path color="#6529ce" d="M3387 768l11 9 11-6-10-9z"/>
<path color="#a17521" d="M3601 487l10-8 9-57-10 12z"/>
<path color="#3761be" d="M4079 699l22-5 9-17-22 4z"/>
<path color="#4188e8" d="M3070 672l30 13 11-19-29-13z"/>
<path color="#3a51c0" d="M4059 720l11-2 9-19-11 3z"/>
<path color="#4073dc" d="M3154 673l30 20 13 4-31-21z"/>
<path color="#366ec1" d="M4110 677l34-3 8-3-33 2z"/>
<path color="#5926bb" d="M3892 774l11-4 9-9-10 4z"/>
<path color="#332985" d="M3419 753l9-22 11-11-10 23z"/>
<path color="#472da9" d="M3923 756l11-5 10-11-11 5z"/>
<path color="#403cb0" d="M3954 735l11-5 10-2-11 2z"/>
<path color="#438ef0" d="M3111 666l31 17 12-10-31-19z"/>
<path color="#3d71d5" d="M4195 681l34 10 8-4-34-8z"/>
<path color="#9f311b" d="M3620 422l10-8 9-60-10 11z"/>
<path color="#ad281f" d="M3650 349l10-1 12 45-11 0z"/>
<path color="#431e8f" d="M3398 777l9-14 12-10-10 18z"/>
<path color="#417ae3" d="M4237 687l34 10 8-17-34-9z"/>
<path color="#a36a1f" d="M3611 479l10-6 9-59-10 8z"/>
<path color="#59bb7e" d="M3782 554l11 26 10 13-11-21z"/>
<path color="#44b5aa" d="M3793 580l11 26 10 10-11-23z"/>
<path color="#3ea5ce" d="M3804 606l12 27 9 6-11-23z"/>
<path color="#4e26ab" d="M3903 770l11-3 9-11-11 5z"/>
<path color="#5358f3" d="M3849 715l12 27 9-2-11-26z"/>
<path color="#673df1" d="M3861 742l11 27 9-4-11-25z"/>
<path color="#4771f0" d="M3838 687l11 28 10-1-11-26z"/>
<path color="#3e99de" d="M3816 633l11 27 10 3-12-24z"/>
<path color="#4188e9" d="M3827 660l11 27 10 1-11-25z"/>
<path color="#4334ad" d="M3934 751l11-5 9-11-10 5z"/>
<path color="#3e80dc" d="M4279 680l35 7 8-16-35-8z"/>
<path color="#6f2fe8" d="M3872 769l11 14 9-9-11-9z"/>
<path color="#3957bf" d="M4070 718l23-4 8-20-22 5z"/>
<path color="#ac2c1e" d="M3630 414l11-5 9-60-11 5z"/>
<path color="#5a51f5" d="M3270 734l31 17 11-12-30-16z"/>
<path color="#4a55e1" d="M3227 715l31 18 12 1-30-16z"/>
<path color="#397ccc" d="M4322 671l35 4 7-2-34-6z"/>
<path color="#3973ca" d="M3015 672l30 10 13 2-30-9z"/>
<path color="#3476be" d="M2973 662l29 6 13 4-29-7z"/>
<path color="#4482ee" d="M3058 684l30 14 12-13-30-13z"/>
<path color="#ac661f" d="M3621 473l11-4 9-60-11 5z"/>
<path color="#cf3225" d="M3671 351l11 9 11 44-11-7z"/>
<path color="#4067da" d="M3184 693l31 18 12 4-30-18z"/>
<path color="#376cc2" d="M4101 694l34-5 9-15-34 3z"/>
<path color="#5e27c3" d="M3883 783l11-4 9-9-11 4z"/>
<path color="#4c2bb0" d="M3914 767l11-4 9-12-11 5z"/>
<path color="#4586f1" d="M3100 685l30 16 12-18-31-17z"/>
<path color="#342885" d="M3407 763l10-23 11-9-9 22z"/>
<path color="#413cb2" d="M3945 746l11-3 9-13-11 5z"/>
<path color="#4584f2" d="M3142 683l30 17 12-7-30-20z"/>
<path color="#c02d22" d="M3641 409l10-1 9-60-10 1z"/>
<path color="#4174df" d="M4229 691l34 12 8-6-34-10z"/>
<path color="#482098" d="M3387 784l9-11 11-10-9 14z"/>
<path color="#3677c4" d="M4144 674l34 1 8 0-34-4z"/>
<path color="#b76621" d="M3632 469l10-1 9-60-10 1z"/>
<path color="#dd4926" d="M3693 372l11 16 11 40-11-13z"/>
<path color="#4077de" d="M4271 697l35 9 8-19-35-7z"/>
<path color="#5126ae" d="M3894 779l11-4 9-8-11 3z"/>
<path color="#4a32b4" d="M3925 763l11-2 9-15-11 5z"/>
<path color="#4044ba" d="M3956 743l11-3 10-12-12 2z"/>
<path color="#3b53c4" d="M4061 726l23-2 9-10-23 4z"/>
<path color="#e43528" d="M3651 408l11 3 9-60-11-3z"/>
<path color="#6343f1" d="M3851 743l11 28 10-2-11-27z"/>
<path color="#4e5ff2" d="M3840 715l11 28 10-1-12-27z"/>
<path color="#4579ee" d="M3828 686l12 29 9 0-11-28z"/>
<path color="#6f31ea" d="M3862 771l11 20 10-8-11-14z"/>
<path color="#4091e8" d="M3817 657l11 29 10 1-11-27z"/>
<path color="#3fa1db" d="M3806 627l11 30 10 3-11-27z"/>
<path color="#44b5bc" d="M3794 598l12 29 10 6-12-27z"/>
<path color="#3b7ed5" d="M4314 687l35 4 8-16-35-4z"/>
<path color="#c46b23" d="M3642 468l11 2 9-59-11-3z"/>
<path color="#544ee8" d="M3258 733l31 20 12-2-31-17z"/>
<path color="#59c48d" d="M3783 568l11 30 10 8-11-26z"/>
<path color="#293887" d="M3417 740l9-22 11-9-9 22z"/>
<path color="#7ecd5e" d="M3772 538l11 30 10 12-11-26z"/>
<path color="#3861c0" d="M4093 714l34-4 8-21-34 5z"/>
<path color="#b3d142" d="M3760 509l12 29 10 16-11-25z"/>
<path color="#d8d039" d="M3749 481l11 28 11 20-12-24z"/>
<path color="#c9a02b" d="M3622 488l10-1 10-19-10 1z"/>
<path color="#477df3" d="M3088 698l30 17 12-14-30-16z"/>
<path color="#3e78d9" d="M3045 682l30 15 13 1-30-14z"/>
<path color="#f53b2b" d="M3662 411l11 6 9-57-11-9z"/>
<path color="#3986cf" d="M2960 670l29 4 13-6-29-6z"/>
<path color="#425dda" d="M3215 711l31 17 12 5-31-18z"/>
<path color="#502ab5" d="M3905 775l11-2 9-10-11 4z"/>
<path color="#4839b9" d="M3936 761l11-2 9-16-11 3z"/>
<path color="#362685" d="M3396 773l10-24 11-9-10 23z"/>
<path color="#6028c7" d="M3873 791l11-5 10-7-11 4z"/>
<path color="#3e4bc0" d="M3967 740l12-3 9-12-11 3z"/>
<path color="#477df3" d="M3130 701l31 18 11-19-30-17z"/>
<path color="#477af4" d="M3172 700l31 17 12-6-31-18z"/>
<path color="#d07325" d="M3653 470l11 4 9-57-11-6z"/>
<path color="#f8442b" d="M3673 417l11 9 9-54-11-12z"/>
<path color="#dfae2f" d="M3632 487l11 1 10-18-11-2z"/>
<path color="#387aca" d="M4135 689l35 0 8-14-34-1z"/>
<path color="#4172e0" d="M4263 703l35 11 8-8-35-9z"/>
<path color="#fc522b" d="M3684 426l11 12 9-50-11-16z"/>
<path color="#dc8128" d="M3664 474l11 7 9-55-11-9z"/>
<path color="#463fbd" d="M3947 759l11-2 9-17-11 3z"/>
<path color="#4f30bb" d="M3916 773l11-2 9-10-11 2z"/>
<path color="#377bc6" d="M4178 675l34 8 9 2-35-10z"/>
<path color="#3c51c5" d="M3979 737l11-1 9-12-11 1z"/>
<path color="#4f25ab" d="M3884 786l11-4 10-7-11 4z"/>
<path color="#3d74d5" d="M4306 706l35 5 8-20-35-4z"/>
<path color="#ff672c" d="M3695 438l11 15 9-45-11-20z"/>
<path color="#f2bd33" d="M3643 488l11 4 10-18-11-4z"/>
<path color="#3b5dc7" d="M4084 724l34-3 9-11-34 4z"/>
<path color="#5e49f1" d="M3841 746l12 28 9-3-11-28z"/>
<path color="#e8932b" d="M3675 481l11 8 9-51-11-12z"/>
<path color="#ff872e" d="M3706 453l11 18 9-41-11-22z"/>
<path color="#6e32eb" d="M3853 774l11 25 9-8-11-20z"/>
<path color="#4b66f6" d="M3830 720l11 26 10-3-11-28z"/>
<path color="#467ff2" d="M3819 693l11 27 10-5-12-29z"/>
<path color="#4198ed" d="M3807 666l12 27 9-7-11-29z"/>
<path color="#293686" d="M3406 749l9-23 11-8-9 22z"/>
<path color="#41a9e0" d="M3796 639l11 27 10-9-11-30z"/>
<path color="#ffab32" d="M3717 471l11 20 10-36-12-25z"/>
<path color="#49c0be" d="M3785 612l11 27 10-12-12-29z"/>
<path color="#63d18c" d="M3773 586l12 26 9-14-11-30z"/>
<path color="#ffcf38" d="M3728 491l11 21 10-31-11-26z"/>
<path color="#3980d0" d="M2948 689l29 3 12-18-29-4z"/>
<path color="#4973f6" d="M3118 715l31 20 12-16-31-18z"/>
<path color="#8fdb60" d="M3762 560l11 26 10-18-11-30z"/>
<path color="#f1e33d" d="M3739 512l12 24 9-27-11-28z"/>
<path color="#c8e243" d="M3751 536l11 24 10-22-12-29z"/>
<path color="#4f36c1" d="M3927 771l11-1 9-11-11 2z"/>
<path color="#4444c1" d="M3958 757l11-1 10-19-12 3z"/>
<path color="#4377e7" d="M3075 697l31 20 12-2-30-17z"/>
<path color="#3c55c7" d="M3990 736l11-2 9-11-11 1z"/>
<path color="#4a55e0" d="M3246 728l31 22 12 3-31-20z"/>
<path color="#f2a930" d="M3686 489l11 11 9-47-11-15z"/>
<path color="#382487" d="M3385 785l10-24 11-12-10 24z"/>
<path color="#ffcc37" d="M3654 492l11 6 10-17-11-7z"/>
<path color="#4f29b1" d="M3895 782l11-4 10-5-11 2z"/>
<path color="#6329cc" d="M3864 799l11-5 9-8-11 5z"/>
<path color="#4974f5" d="M3161 719l30 16 12-18-31-17z"/>
<path color="#4971f5" d="M3203 717l31 15 12-4-31-17z"/>
<path color="#3a8ad3" d="M2989 674l30 6 13-3-30-9z"/>
<path color="#386ec5" d="M4127 710l34-1 9-20-35 0z"/>
<path color="#fbc435" d="M3697 500l11 13 9-42-11-18z"/>
<path color="#5423af" d="M3364 797l10 0 11-12-10 5z"/>
<path color="#ffd93a" d="M3665 498l11 7 10-16-11-8z"/>
<path color="#ffe13b" d="M3708 513l11 15 9-37-11-20z"/>
<path color="#4e3bc5" d="M3938 770l11 0 9-13-11 2z"/>
<path color="#4148c2" d="M3969 756l12 0 9-20-11 1z"/>
<path color="#3c59c7" d="M4001 734l11-1 9-11-11 1z"/>
<path color="#e8e33e" d="M3719 528l11 17 9-33-11-21z"/>
<path color="#4d2fb5" d="M3906 778l11-3 10-4-11 2z"/>
<path color="#4070db" d="M4298 714l35 7 8-10-35-5z"/>
<path color="#3b86d6" d="M4170 689l34 5 8-11-34-8z"/>
<path color="#4c24a5" d="M3875 794l11-6 9-6-11 4z"/>
<path color="#cae242" d="M3730 545l11 18 10-27-12-24z"/>
<path color="#ffe33c" d="M3676 505l11 10 10-15-11-11z"/>
<path color="#264482" d="M3415 726l10-25 11-5-10 22z"/>
<path color="#9edd59" d="M3741 563l11 20 10-23-11-24z"/>
<path color="#72d674" d="M3752 583l12 22 9-19-11-26z"/>
<path color="#3c77d3" d="M2936 707l29 4 12-19-29-3z"/>
<path color="#56cca2" d="M3764 605l11 22 10-15-12-26z"/>
<path color="#46bac8" d="M3775 627l11 24 10-12-11-27z"/>
<path color="#41a7e2" d="M3786 651l11 25 10-10-11-27z"/>
<path color="#2b3586" d="M3395 761l9-24 11-11-9 23z"/>
<path color="#4197ed" d="M3797 676l12 25 10-8-12-27z"/>
<path color="#4680f3" d="M3809 701l11 25 10-6-11-27z"/>
<path color="#6e33ec" d="M3843 778l11 29 10-8-11-25z"/>
<path color="#4c3fc8" d="M3949 770l11 0 9-14-11 1z"/>
<path color="#5c4df4" d="M3831 751l12 27 10-4-12-28z"/>
<path color="#4b6af8" d="M3820 726l11 25 10-5-11-26z"/>
<path color="#f3e33d" d="M3687 515l11 12 10-14-11-13z"/>
<path color="#3f4cc3" d="M3981 756l11-2 9-20-11 2z"/>
<path color="#3b5bc5" d="M4012 733l11-2 9-10-11 1z"/>
<path color="#4870f1" d="M3106 717l31 21 12-3-31-20z"/>
<path color="#4b6af8" d="M3149 735l31 17 11-17-30-16z"/>
<path color="#3b2289" d="M3374 797l10-23 11-13-10 24z"/>
<path color="#ffda3a" d="M3643 499l11 5 11-6-11-6z"/>
<path color="#e1e33f" d="M3698 527l11 14 10-13-11-15z"/>
<path color="#3b6acc" d="M4118 721l34 1 9-13-34 1z"/>
<path color="#6629d2" d="M3854 807l11-4 10-9-11 5z"/>
<path color="#4a28a8" d="M3886 788l11-5 9-5-11 4z"/>
<path color="#4a6df7" d="M3191 735l31 14 12-17-31-15z"/>
<path color="#4c66f8" d="M3234 732l31 21 12-3-31-22z"/>
<path color="#3b89d7" d="M2977 692l30 5 12-17-30-6z"/>
<path color="#3b74cf" d="M3062 691l30 19 14 7-31-20z"/>
<path color="#cce342" d="M3709 541l11 15 10-11-11-17z"/>
<path color="#4b42ca" d="M3960 770l11 0 10-14-12 0z"/>
<path color="#ffe13b" d="M3654 504l11 8 11-7-11-7z"/>
<path color="#3c8edc" d="M3019 680l30 12 13-1-30-14z"/>
<path color="#3c50c3" d="M3992 754l11-1 9-20-11 1z"/>
<path color="#3a5ec4" d="M4023 731l12-1 9-10-12 1z"/>
<path color="#aade52" d="M3720 556l11 18 10-11-11-18z"/>
<path color="#3b7bd2" d="M4161 709l35 5 8-20-34-5z"/>
<path color="#84da65" d="M3731 574l11 19 10-10-11-20z"/>
<path color="#fae33c" d="M3665 512l11 9 11-6-11-10z"/>
<path color="#4b23a2" d="M3865 803l11-6 10-9-11 6z"/>
<path color="#67d285" d="M3742 593l12 20 10-8-12-22z"/>
<path color="#3969c6" d="M4290 710l35 9 8 2-35-7z"/>
<path color="#264383" d="M3404 737l9-25 12-11-10 25z"/>
<path color="#4ec9ae" d="M3754 613l11 22 10-8-11-22z"/>
<path color="#3d8ce0" d="M4204 694l35 10 8-10-35-11z"/>
<path color="#3c72d1" d="M2923 711l29 7 13-7-29-4z"/>
<path color="#4845c8" d="M3971 770l12 0 9-16-11 2z"/>
<path color="#3775c6" d="M4247 694l35 12 8 4-35-12z"/>
<path color="#2d3286" d="M3384 774l9-23 11-14-9 24z"/>
<path color="#3b53c2" d="M4003 753l11-2 9-20-11 2z"/>
<path color="#45b7cd" d="M3765 635l11 23 10-7-11-24z"/>
<path color="#41a6e3" d="M3776 658l12 24 9-6-11-25z"/>
<path color="#ede33e" d="M3676 521l11 12 11-6-11-12z"/>
<path color="#4197ed" d="M3788 682l11 24 10-5-12-25z"/>
<path color="#4681f2" d="M3799 706l11 26 10-6-11-25z"/>
<path color="#6d34ee" d="M3833 784l12 27 9-4-11-29z"/>
<path color="#4b6bf7" d="M3810 732l12 26 9-7-11-25z"/>
<path color="#4b66f8" d="M3137 738l31 20 12-6-31-17z"/>
<path color="#5b50f4" d="M3822 758l11 26 10-6-12-27z"/>
<path color="#3e208a" d="M3363 808l9-22 12-12-10 23z"/>
<path color="#4f62f8" d="M3180 752l31 16 11-19-31-14z"/>
<path color="#3c7dd7" d="M2965 711l30 6 12-20-30-5z"/>
<path color="#3863c2" d="M4035 730l22-4 9-8-22 2z"/>
<path color="#dce33f" d="M3687 533l11 13 11-5-11-14z"/>
<path color="#3e6bd5" d="M3092 710l31 22 14 6-31-21z"/>
<path color="#6b2bdb" d="M3845 811l11 1 9-9-11 4z"/>
<path color="#4828a4" d="M3876 797l11-6 10-8-11 5z"/>
<path color="#4d64f8" d="M3222 749l31 17 12-13-31-21z"/>
<path color="#938925" d="M3527 546l10-13 10-39-10 17z"/>
<path color="#4448c6" d="M3983 770l11-1 9-16-11 1z"/>
<path color="#3a56c0" d="M4014 751l12-1 9-20-12 1z"/>
<path color="#c7e244" d="M3698 546l12 16 10-6-11-15z"/>
<path color="#3e91e5" d="M3007 697l30 10 12-15-30-12z"/>
<path color="#3e74d7" d="M4152 722l35 6 9-14-35-5z"/>
<path color="#3f8ae2" d="M3049 692l30 17 13 1-30-19z"/>
<path color="#a7de54" d="M3710 562l11 17 10-5-11-18z"/>
<path color="#83da66" d="M3721 579l11 19 10-5-11-19z"/>
<path color="#423bb2" d="M3919 774l11-4 10 2-11 1z"/>
<path color="#274186" d="M3393 751l9-23 11-16-9 25z"/>
<path color="#9c621d" d="M3557 480l11-11 11 2-11 10z"/>
<path color="#4f24a9" d="M3856 812l11-5 9-10-11 6z"/>
<path color="#414bc5" d="M3994 769l11-1 9-17-11 2z"/>
<path color="#3e83dd" d="M4196 714l34 9 9-19-35-10z"/>
<path color="#432fa6" d="M3887 791l11-6 10-7-11 5z"/>
<path color="#67d285" d="M3732 598l11 20 11-5-12-20z"/>
<path color="#302e86" d="M3372 786l10-23 11-12-9 23z"/>
<path color="#4fc9ac" d="M3743 618l12 21 10-4-11-22z"/>
<path color="#545af6" d="M3253 766l11 8 12-11-11-10z"/>
<path color="#a08423" d="M3537 533l10-12 10-41-10 14z"/>
<path color="#45b8cb" d="M3755 639l11 23 10-4-11-23z"/>
<path color="#3d89df" d="M4239 704l35 9 8-7-35-12z"/>
<path color="#366fc0" d="M4282 706l35 9 8 4-35-9z"/>
<path color="#41a7e2" d="M3766 662l12 24 10-4-12-24z"/>
<path color="#3f1e8a" d="M3351 819l10-23 11-10-9 22z"/>
<path color="#535bf6" d="M3168 758l31 19 12-9-31-16z"/>
<path color="#3e78d9" d="M2952 718l30 7 13-8-30-6z"/>
<path color="#4199ec" d="M3778 686l11 25 10-5-11-24z"/>
<path color="#385bbf" d="M4026 750l22-4 9-20-22 4z"/>
<path color="#e3d138" d="M3666 517l11 13 10 3-11-12z"/>
<path color="#4583f2" d="M3789 711l11 26 10-5-11-26z"/>
<path color="#4a6cf7" d="M3800 737l12 27 10-6-12-26z"/>
<path color="#5a52f5" d="M3812 764l11 26 10-6-11-26z"/>
<path color="#6c36f0" d="M3823 790l12 26 10-5-12-27z"/>
<path color="#5559f6" d="M3211 768l31 15 11-17-31-17z"/>
<path color="#4161d9" d="M3123 732l32 21 13 5-31-20z"/>
<path color="#3e4ec5" d="M4005 768l12-1 9-17-12 1z"/>
<path color="#4a27a7" d="M3867 807l11-5 9-11-11 6z"/>
<path color="#376cc1" d="M4057 726l35-5 9-6-35 3z"/>
<path color="#3f85e2" d="M2995 717l30 10 12-20-30-10z"/>
<path color="#702ee6" d="M3835 816l11 5 10-9-11-1z"/>
<path color="#d8d63b" d="M3677 530l11 14 10 2-11-13z"/>
<path color="#4036aa" d="M3898 785l11-5 10-6-11 4z"/>
<path color="#417ee3" d="M3079 709l31 21 13 2-31-22z"/>
<path color="#6227c7" d="M3329 816l11 10 11-7-10-9z"/>
<path color="#c9da3e" d="M3688 544l11 16 11 2-12-16z"/>
<path color="#4292ef" d="M3037 707l30 15 12-13-30-17z"/>
<path color="#245083" d="M3402 728l10-22 11-18-10 24z"/>
<path color="#a57822" d="M3547 521l11-8 10-44-11 11z"/>
<path color="#3e43b6" d="M3941 768l12-1 9 5-11 0z"/>
<path color="#b07021" d="M3621 465l11 6 12 28-11-5z"/>
<path color="#417be3" d="M4187 728l35 10 8-15-34-9z"/>
<path color="#adda4c" d="M3699 560l11 18 11 1-11-17z"/>
<path color="#283e86" d="M3382 763l9-23 11-12-9 23z"/>
<path color="#5625b4" d="M3846 821l11-3 10-11-11 5z"/>
<path color="#462ea8" d="M3878 802l11-4 9-13-11 6z"/>
<path color="#8bd75f" d="M3710 578l12 20 10 0-11-19z"/>
<path color="#3e3eb0" d="M3909 780l12-5 9-5-11 4z"/>
<path color="#312c84" d="M3361 796l9-24 12-9-10 23z"/>
<path color="#5952f5" d="M3242 783l10 6 12-15-11-8z"/>
<path color="#6cd27b" d="M3722 598l11 21 10-1-11-20z"/>
<path color="#3b53c3" d="M4017 767l22-3 9-18-22 4z"/>
<path color="#3e83df" d="M4230 723l35 9 9-19-35-9z"/>
<path color="#54caa2" d="M3733 619l11 22 11-2-12-21z"/>
<path color="#401e8b" d="M3340 826l9-21 12-9-10 23z"/>
<path color="#46bbc4" d="M3744 641l12 23 10-2-11-23z"/>
<path color="#5952f5" d="M3199 777l31 16 12-10-31-15z"/>
<path color="#ad7121" d="M3558 513l10-7 10-44-10 7z"/>
<path color="#41a9df" d="M3756 664l11 25 11-3-12-24z"/>
<path color="#3c84d8" d="M4274 713l35 7 8-5-35-9z"/>
<path color="#419bea" d="M3767 689l12 25 10-3-11-25z"/>
<path color="#4486f0" d="M3779 714l11 26 10-3-11-26z"/>
<path color="#496ff5" d="M3790 740l12 27 10-3-12-27z"/>
<path color="#5754f4" d="M3802 767l11 27 10-4-11-26z"/>
<path color="#4657dc" d="M3155 753l31 20 13 4-31-19z"/>
<path color="#6a39f0" d="M3813 794l12 26 10-4-12-26z"/>
<path color="#357ac2" d="M2895 704l29 7 14 3-29-8z"/>
<path color="#417fe6" d="M2982 725l30 12 13-10-30-10z"/>
<path color="#3765bf" d="M4048 746l35-6 9-19-35 5z"/>
<path color="#4e26ac" d="M3857 818l11-4 10-12-11 5z"/>
<path color="#3c46b7" d="M3921 775l11-3 9-4-11 2z"/>
<path color="#4235ac" d="M3889 798l11-5 9-13-11 5z"/>
<path color="#702fe8" d="M3825 820l11 10 10-9-11-5z"/>
<path color="#4387ee" d="M3025 727l30 15 12-20-30-15z"/>
<path color="#4270e1" d="M3110 730l32 20 13 3-32-21z"/>
<path color="#d6a92e" d="M3654 493l12 15 11 22-11-13z"/>
<path color="#254c84" d="M3391 740l10-21 11-13-10 22z"/>
<path color="#4488f1" d="M3067 722l31 19 12-11-31-21z"/>
<path color="#b96f22" d="M3568 506l11-3 10-45-11 4z"/>
<path color="#3676c4" d="M4092 721l34-1 9-4-34-1z"/>
<path color="#283c85" d="M3370 772l10-23 11-9-9 23z"/>
<path color="#3d74d6" d="M4178 729l35 12 9-3-35-10z"/>
<path color="#4c2cb0" d="M3868 814l11-3 10-13-11 4z"/>
<path color="#5a26bc" d="M3836 830l11-4 10-8-11 3z"/>
<path color="#3b4cbc" d="M3932 772l11-2 10-3-12 1z"/>
<path color="#417be4" d="M4222 738l35 11 8-17-35-9z"/>
<path color="#5d4cf4" d="M3230 793l10 6 12-10-10-6z"/>
<path color="#d2ca37" d="M3677 525l11 19 11 16-11-16z"/>
<path color="#403db2" d="M3900 793l11-4 10-14-12 5z"/>
<path color="#312b83" d="M3349 805l10-24 11-9-9 24z"/>
<path color="#c1d03b" d="M3688 544l12 21 10 13-11-18z"/>
<path color="#ff7c2d" d="M3610 461l11 6 11 4-11-6z"/>
<path color="#a1d14d" d="M3700 565l11 22 11 11-12-20z"/>
<path color="#421e8d" d="M3328 833l10-16 11-12-9 21z"/>
<path color="#395cc1" d="M4039 764l35-4 9-20-35 6z"/>
<path color="#cb7325" d="M3579 503l11-1 9-45-10 1z"/>
<path color="#3d81db" d="M4265 732l36 6 8-18-35-7z"/>
<path color="#6048f3" d="M3240 799l11 7 12-10-11-7z"/>
<path color="#7acf63" d="M3711 587l12 24 10 8-11-21z"/>
<path color="#ba9729" d="M3558 536l11-3 10-30-11 3z"/>
<path color="#5ec98a" d="M3723 611l11 25 10 5-11-22z"/>
<path color="#4f4fe0" d="M3186 773l31 20 13 0-31-16z"/>
<path color="#48bfb5" d="M3734 636l12 25 10 3-12-23z"/>
<path color="#245881" d="M3401 719l9-21 12-14-10 22z"/>
<path color="#3a51c0" d="M3943 770l11-2 10-1-11 0z"/>
<path color="#5026ae" d="M3847 826l11-3 10-9-11 4z"/>
<path color="#4933b4" d="M3879 811l11-3 10-15-11 5z"/>
<path color="#40abd6" d="M3746 661l11 27 10 1-11-25z"/>
<path color="#409de4" d="M3757 688l12 26 10 0-12-25z"/>
<path color="#3986d2" d="M2882 716l29 5 13-10-29-7z"/>
<path color="#663ef1" d="M3803 796l12 28 10-4-12-26z"/>
<path color="#428aed" d="M3769 714l11 28 10-2-11-26z"/>
<path color="#525af3" d="M3792 769l11 27 10-2-11-27z"/>
<path color="#4873f2" d="M3780 742l12 27 10-2-12-27z"/>
<path color="#4681f3" d="M3012 737l31 17 12-12-30-15z"/>
<path color="#3e45ba" d="M3911 789l11-3 10-14-11 3z"/>
<path color="#3975cc" d="M2968 722l30 12 14 3-30-12z"/>
<path color="#ff872e" d="M3621 467l11 10 11 4-11-10z"/>
<path color="#4364df" d="M3142 750l31 19 13 4-31-20z"/>
<path color="#6f30e9" d="M3815 824l11 15 10-9-11-10z"/>
<path color="#4680f3" d="M3055 742l31 18 12-19-31-19z"/>
<path color="#254982" d="M3380 749l9-22 12-8-10 21z"/>
<path color="#e27e29" d="M3590 502l11 3 9-44-11-4z"/>
<path color="#477df3" d="M3098 741l31 19 13-10-32-20z"/>
<path color="#ff9830" d="M3632 477l12 12 10 4-11-12z"/>
<path color="#682bd7" d="M3306 831l10 9 12-7-11-10z"/>
<path color="#3773c4" d="M4083 740l34-3 9-17-34 1z"/>
<path color="#c99d2b" d="M3569 533l11-1 10-30-11 1z"/>
<path color="#283b84" d="M3359 781l9-25 12-7-10 23z"/>
<path color="#4739b9" d="M3890 808l12-2 9-17-11 4z"/>
<path color="#4f2bb4" d="M3858 823l11-3 10-9-11 3z"/>
<path color="#4074dd" d="M4213 741l36 13 8-5-35-11z"/>
<path color="#5d27c1" d="M3826 839l11-5 10-8-11 4z"/>
<path color="#ffac32" d="M3644 489l11 15 11 4-12-15z"/>
<path color="#3d4cc0" d="M3922 786l12-2 9-14-11 2z"/>
<path color="#322984" d="M3338 817l9-25 12-11-10 24z"/>
<path color="#f58b2c" d="M3601 505l11 5 9-43-11-6z"/>
<path color="#574be8" d="M3217 793l11 7 12-1-10-6z"/>
<path color="#377ec8" d="M4126 720l35 4 9-1-35-7z"/>
<path color="#4078df" d="M4257 749l36 8 8-19-36-6z"/>
<path color="#ffc436" d="M3655 504l11 18 11 3-11-17z"/>
<path color="#3b59c5" d="M4030 771l35-3 9-8-35 4z"/>
<path color="#dda92e" d="M3580 532l10 2 11-29-11-3z"/>
<path color="#472097" d="M3316 840l10-10 12-13-10 16z"/>
<path color="#ffdf3b" d="M3666 522l12 20 10 2-11-19z"/>
<path color="#ff9c30" d="M3612 510l11 7 9-40-11-10z"/>
<path color="#5d48ee" d="M3228 800l11 8 12-2-11-7z"/>
<path color="#3a7dd1" d="M2869 737l30 4 12-20-29-5z"/>
<path color="#eae33e" d="M3678 542l11 22 11 1-12-21z"/>
<path color="#4540be" d="M3902 806l11-1 9-19-11 3z"/>
<path color="#4e31b9" d="M3869 820l12-2 9-10-11 3z"/>
<path color="#23557e" d="M3389 727l10-23 11-6-9 21z"/>
<path color="#3c53c5" d="M3934 784l11-1 9-15-11 2z"/>
<path color="#cae243" d="M3689 564l12 23 10 0-11-22z"/>
<path color="#4e25aa" d="M3837 834l11-5 10-6-11 3z"/>
<path color="#4878f5" d="M3043 754l31 20 12-14-31-18z"/>
<path color="#9adc5b" d="M3701 587l11 24 11 0-12-24z"/>
<path color="#6ed57a" d="M3712 611l12 26 10-1-11-25z"/>
<path color="#3f77db" d="M2998 734l31 18 14 2-31-17z"/>
<path color="#475ae1" d="M3173 769l32 21 12 3-31-20z"/>
<path color="#50c9aa" d="M3724 637l11 26 11-2-12-25z"/>
<path color="#6244f2" d="M3793 798l12 29 10-3-12-28z"/>
<path color="#44b5cf" d="M3735 663l12 27 10-2-11-27z"/>
<path color="#4291ee" d="M3758 718l12 27 10-3-11-28z"/>
<path color="#4779f3" d="M3770 745l12 26 10-2-12-27z"/>
<path color="#edb732" d="M3590 534l11 4 11-28-11-5z"/>
<path color="#41a2e4" d="M3747 690l11 28 11-4-12-26z"/>
<path color="#4f60f5" d="M3782 771l11 27 10-2-11-27z"/>
<path color="#4876f5" d="M3086 760l31 19 12-19-31-19z"/>
<path color="#ffac32" d="M3623 517l11 10 10-38-12-12z"/>
<path color="#3868c3" d="M4074 760l35-3 8-20-34 3z"/>
<path color="#6f31ea" d="M3805 827l11 20 10-8-11-15z"/>
<path color="#244880" d="M3368 756l9-26 12-3-9 22z"/>
<path color="#6244f2" d="M3239 808l10 9 13-4-11-7z"/>
<path color="#3a89d3" d="M2911 721l30 5 13-8-30-7z"/>
<path color="#4973f6" d="M3129 760l32 17 12-8-31-19z"/>
<path color="#367ac4" d="M2954 718l30 11 14 5-30-12z"/>
<path color="#ffbd35" d="M3634 527l11 12 10-35-11-15z"/>
<path color="#283a85" d="M3347 792l10-25 11-11-9 25z"/>
<path color="#4345c1" d="M3913 805l11-1 10-20-12 2z"/>
<path color="#4d37bf" d="M3881 818l11-2 10-10-12 2z"/>
<path color="#3c57c8" d="M3945 783l11-1 10-14-12 0z"/>
<path color="#fbc836" d="M3601 538l11 6 11-27-11-7z"/>
<path color="#4c2aae" d="M3848 829l12-4 9-5-11 3z"/>
<path color="#362786" d="M3326 830l10-24 11-14-9 25z"/>
<path color="#5f28c5" d="M3816 847l11-5 10-8-11 5z"/>
<path color="#ffd239" d="M3645 539l11 15 10-32-11-18z"/>
<path color="#3880cd" d="M4117 737l36 2 8-15-35-4z"/>
<path color="#4173df" d="M4249 754l35 11 9-8-36-8z"/>
<path color="#235d78" d="M3399 704l10-21 11-5-10 20z"/>
<path color="#fbe33c" d="M3656 554l12 16 10-28-12-20z"/>
<path color="#5054e7" d="M3205 790l10 9 13 1-11-7z"/>
<path color="#3881cd" d="M4161 724l36 10 8 1-35-12z"/>
<path color="#3d77d7" d="M2856 752l30 6 13-17-30-4z"/>
<path color="#ffd93a" d="M3612 544l11 9 11-26-11-10z"/>
<path color="#4149c3" d="M3924 804l12 0 9-21-11 1z"/>
<path color="#e1e33f" d="M3668 570l11 19 10-25-11-22z"/>
<path color="#4c3cc4" d="M3892 816l11 0 10-11-11 1z"/>
<path color="#3c5bc9" d="M3956 782l12-1 9-14-11 1z"/>
<path color="#c0e148" d="M3679 589l11 19 11-21-12-23z"/>
<path color="#22547b" d="M3377 730l10-25 12-1-10 23z"/>
<path color="#4a6df7" d="M3074 774l31 21 12-16-31-19z"/>
<path color="#ffe33c" d="M3623 553l12 10 10-24-11-12z"/>
<path color="#93db5e" d="M3690 608l12 22 10-19-11-24z"/>
<path color="#4b24a3" d="M3827 842l12-6 9-7-11 5z"/>
<path color="#5650ee" d="M3215 799l11 9 13 0-11-8z"/>
<path color="#3b65c9" d="M4065 768l35-1 9-10-35 3z"/>
<path color="#4473e8" d="M3029 752l32 23 13-1-31-20z"/>
<path color="#6cd47e" d="M3702 630l11 22 11-15-12-26z"/>
<path color="#3a82d2" d="M2899 741l29 4 13-19-30-5z"/>
<path color="#4fc9ac" d="M3713 652l12 24 10-13-11-26z"/>
<path color="#44b6cf" d="M3725 676l12 25 10-11-12-27z"/>
<path color="#4a6df7" d="M3117 779l32 17 12-19-32-17z"/>
<path color="#41a4e4" d="M3737 701l11 25 10-8-11-28z"/>
<path color="#4293ef" d="M3748 726l12 27 10-8-12-27z"/>
<path color="#477cf4" d="M3760 753l11 25 11-7-12-26z"/>
<path color="#6048f3" d="M3783 804l12 28 10-5-12-29z"/>
<path color="#4d65f8" d="M3771 778l12 26 10-6-11-27z"/>
<path color="#254981" d="M3357 767l9-26 11-11-9 26z"/>
<path color="#4b69f8" d="M3161 777l31 19 13-6-32-21z"/>
<path color="#6e32eb" d="M3795 832l11 24 10-9-11-20z"/>
<path color="#f1e33d" d="M3635 563l11 12 10-21-11-15z"/>
<path color="#3f4dc4" d="M3936 804l11-1 9-21-11 1z"/>
<path color="#4b41c8" d="M3903 816l12 0 9-12-11 1z"/>
<path color="#3979cc" d="M2984 729l31 17 14 6-31-18z"/>
<path color="#ffe23b" d="M3591 546l11 6 10-8-11-6z"/>
<path color="#3b5dc8" d="M3968 781l11-2 10-12-12 0z"/>
<path color="#5e4bf2" d="M3226 808l11 11 12-2-10-9z"/>
<path color="#293887" d="M3336 806l9-24 12-15-10 25z"/>
<path color="#3c8eda" d="M2941 726l30 8 13-5-30-11z"/>
<path color="#392487" d="M3315 842l9-23 12-13-10 24z"/>
<path color="#3974ca" d="M4109 757l35 2 9-20-36-2z"/>
<path color="#dee33f" d="M3646 575l11 15 11-20-12-16z"/>
<path color="#6228c9" d="M3806 856l11-5 10-9-11 5z"/>
<path color="#4829a6" d="M3839 836l11-6 10-5-12 4z"/>
<path color="#fce33c" d="M3602 552l11 8 10-7-11-9z"/>
<path color="#c6e245" d="M3657 590l12 16 10-17-11-19z"/>
<path color="#4a44cb" d="M3915 816l11 0 10-12-12 0z"/>
<path color="#3c51c5" d="M3947 803l11-1 10-21-12 1z"/>
<path color="#386bc4" d="M4240 749l36 12 8 4-35-11z"/>
<path color="#3c73d4" d="M2842 753l30 9 14-4-30-6z"/>
<path color="#a2dd56" d="M3669 606l11 18 10-16-11-19z"/>
<path color="#3c8cdc" d="M4153 739l35 8 9-13-36-10z"/>
<path color="#235d71" d="M3387 705l10-25 12 3-10 21z"/>
<path color="#397ecd" d="M4197 734l35 12 8 3-35-14z"/>
<path color="#5060f7" d="M3192 796l11 8 12-5-10-9z"/>
<path color="#7cd96a" d="M3680 624l12 19 10-13-12-22z"/>
<path color="#f2e33d" d="M3613 560l11 10 11-7-12-10z"/>
<path color="#3d7ad7" d="M2886 758l30 6 12-19-29-4z"/>
<path color="#3a61c6" d="M3979 779l23-2 10-12-23 2z"/>
<path color="#62d08e" d="M3692 643l11 21 10-12-11-22z"/>
<path color="#4f62f8" d="M3105 795l32 19 12-18-32-17z"/>
<path color="#496af1" d="M3061 775l31 23 13-3-31-21z"/>
<path color="#4a23a1" d="M3817 851l12-6 10-9-12 6z"/>
<path color="#23557c" d="M3366 741l9-26 12-10-10 25z"/>
<path color="#4bc6b6" d="M3703 664l12 22 10-10-12-24z"/>
<path color="#43b3d4" d="M3715 686l11 24 11-9-12-25z"/>
<path color="#264784" d="M3345 782l10-24 11-17-9 26z"/>
<path color="#5559f6" d="M3203 804l11 9 12-5-11-9z"/>
<path color="#e4e33f" d="M3624 570l11 12 11-7-11-12z"/>
<path color="#4747ca" d="M3926 816l12 0 9-13-11 1z"/>
<path color="#41a3e5" d="M3726 710l12 24 10-8-11-25z"/>
<path color="#4d64f8" d="M3149 796l31 16 12-16-31-19z"/>
<path color="#3b54c4" d="M3958 802l12-1 9-22-11 2z"/>
<path color="#4293ef" d="M3738 734l12 25 10-6-12-27z"/>
<path color="#477df4" d="M3750 759l11 26 10-7-11-25z"/>
<path color="#4c66f8" d="M3761 785l12 27 10-8-12-26z"/>
<path color="#2c3487" d="M3324 819l9-24 12-13-9 24z"/>
<path color="#5e4af3" d="M3773 812l12 26 10-6-12-28z"/>
<path color="#6e32ec" d="M3785 838l11 27 10-9-11-24z"/>
<path color="#3c72d2" d="M3015 746l32 22 14 7-32-23z"/>
<path color="#3c8bdc" d="M2928 745l31 7 12-18-30-8z"/>
<path color="#3c70d0" d="M4100 767l35 4 9-12-35-2z"/>
<path color="#d3e340" d="M3635 582l12 14 10-6-11-15z"/>
<path color="#3b2288" d="M3303 853l9-23 12-11-9 23z"/>
<path color="#5a51f5" d="M3214 813l10 11 13-5-11-11z"/>
<path color="#3e91e4" d="M2971 734l31 15 13-3-31-17z"/>
<path color="#6629d2" d="M3796 865l11-4 10-10-11 5z"/>
<path color="#b9e04b" d="M3647 596l11 16 11-6-12-16z"/>
<path color="#4629a3" d="M3829 845l11-6 10-9-11 6z"/>
<path color="#454ac9" d="M3938 816l11 0 9-14-11 1z"/>
<path color="#3c80d8" d="M4144 759l35 8 9-20-35-8z"/>
<path color="#6048f3" d="M3224 824l11 11 13-6-11-10z"/>
<path color="#99dc5b" d="M3658 612l11 18 11-6-11-18z"/>
<path color="#9e641e" d="M3534 503l11-3 12 31-11 1z"/>
<path color="#525df7" d="M3180 812l11 7 12-15-11-8z"/>
<path color="#3a58c2" d="M3970 801l23-3 9-21-23 2z"/>
<path color="#76d86e" d="M3669 630l12 19 11-6-12-19z"/>
<path color="#246071" d="M3375 715l10-26 12-9-10 25z"/>
<path color="#3e8ee2" d="M4188 747l36 10 8-11-35-12z"/>
<path color="#3d77d8" d="M2872 762l30 7 14-5-30-6z"/>
<path color="#245581" d="M3355 758l9-23 11-20-9 26z"/>
<path color="#5fcf92" d="M3681 649l12 21 10-6-11-21z"/>
<path color="#505ef4" d="M3092 798l32 21 13-5-32-19z"/>
<path color="#5559f6" d="M3137 814l31 16 12-18-31-16z"/>
<path color="#4d23a5" d="M3807 861l12-5 10-11-12 6z"/>
<path color="#424dc9" d="M3949 816l11 0 10-15-12 1z"/>
<path color="#274385" d="M3333 795l10-23 12-14-10 24z"/>
<path color="#4ac5b7" d="M3693 670l11 22 11-6-12-22z"/>
<path color="#4230a4" d="M3840 839l11-6 10-9-11 6z"/>
<path color="#3869c3" d="M4002 777l35-5 9-10-34 3z"/>
<path color="#5657f6" d="M3191 819l11 8 12-14-11-9z"/>
<path color="#43b3d4" d="M3704 692l12 23 10-5-11-24z"/>
<path color="#3e80dd" d="M2916 764l30 8 13-20-31-7z"/>
<path color="#41a3e4" d="M3716 715l11 24 11-5-12-24z"/>
<path color="#2d3185" d="M3312 830l10-24 11-11-9 24z"/>
<path color="#3f68d7" d="M3047 768l31 24 14 6-31-23z"/>
<path color="#4194ee" d="M3727 739l12 25 11-5-12-25z"/>
<path color="#467ef3" d="M3739 764l12 27 10-6-11-26z"/>
<path color="#4b67f8" d="M3751 791l12 27 10-6-12-27z"/>
<path color="#5d4cf4" d="M3763 818l11 26 11-6-12-26z"/>
<path color="#6d33ed" d="M3774 844l12 26 10-5-11-27z"/>
<path color="#3c2088" d="M3291 865l9-26 12-9-9 23z"/>
<path color="#5b50f4" d="M3202 827l10 8 12-11-10-11z"/>
<path color="#4192eb" d="M2959 752l30 13 13-16-31-15z"/>
<path color="#4189e9" d="M3002 749l31 20 14-1-32-22z"/>
<path color="#cdd13a" d="M3624 575l12 16 11 5-12-14z"/>
<path color="#b36620" d="M3513 520l10-7 11-10-10 6z"/>
<path color="#3f7add" d="M4135 771l35 9 9-13-35-8z"/>
<path color="#6b2bdb" d="M3786 870l11 1 10-10-11 4z"/>
<path color="#4928a7" d="M3819 856l11-4 10-13-11 6z"/>
<path color="#3e38a8" d="M3851 833l11-6 10-8-11 5z"/>
<path color="#bcd540" d="M3636 591l11 17 11 4-11-16z"/>
<path color="#a68123" d="M3492 571l11-8 10-43-11 10z"/>
<path color="#2d6d59" d="M3385 689l10-25 11-9-9 25z"/>
<path color="#6048f3" d="M3212 835l11 10 12-10-11-11z"/>
<path color="#3e52c8" d="M3960 816l24-1 9-17-23 3z"/>
<path color="#5953f5" d="M3168 830l11 6 12-17-11-7z"/>
<path color="#245f7b" d="M3364 735l10-22 11-24-10 26z"/>
<path color="#3e83df" d="M4179 767l36 10 9-20-36-10z"/>
<path color="#245183" d="M3343 772l10-22 11-15-9 23z"/>
<path color="#9fd551" d="M3647 608l12 19 10 3-11-18z"/>
<path color="#3b46b5" d="M3895 813l11-1 10 4-11 0z"/>
<path color="#7dd364" d="M3659 627l11 20 11 2-12-19z"/>
<path color="#663ff1" d="M3223 845l11 9 12-8-11-11z"/>
<path color="#5853f3" d="M3124 819l32 19 12-8-31-16z"/>
<path color="#3860bf" d="M3993 798l35-5 9-21-35 5z"/>
<path color="#274084" d="M3322 806l9-24 12-10-10 23z"/>
<path color="#5224ad" d="M3797 871l11-4 11-11-12 5z"/>
<path color="#c76823" d="M3523 513l11-3 11-10-11 3z"/>
<path color="#3e8be1" d="M4224 757l35 9 9-9-36-11z"/>
<path color="#5c4ff4" d="M3179 836l10 5 13-14-11-8z"/>
<path color="#452fa8" d="M3830 852l11-5 10-14-11 6z"/>
<path color="#64ce85" d="M3670 647l12 22 11 1-12-21z"/>
<path color="#407de1" d="M2902 769l31 10 13-7-30-8z"/>
<path color="#3c40af" d="M3862 827l12-5 10-7-12 4z"/>
<path color="#425cda" d="M3078 792l32 22 14 5-32-21z"/>
<path color="#4cc6ad" d="M3682 669l11 23 11 0-11-22z"/>
<path color="#c78526" d="M3578 512l12 11 11 28-11-9z"/>
<path color="#2d2f83" d="M3300 839l10-25 12-8-10 24z"/>
<path color="#af7c23" d="M3503 563l10-5 10-45-10 7z"/>
<path color="#44b5cc" d="M3693 692l12 24 11-1-12-23z"/>
<path color="#4286ea" d="M2946 772l31 13 12-20-30-13z"/>
<path color="#40a5e1" d="M3705 716l12 25 10-2-11-24z"/>
<path color="#4097ec" d="M3717 741l12 26 10-3-12-25z"/>
<path color="#4581f1" d="M3729 767l11 27 11-3-12-27z"/>
<path color="#3e1f89" d="M3279 877l9-27 12-11-9 26z"/>
<path color="#4a6af6" d="M3740 794l12 27 11-3-12-27z"/>
<path color="#5b4ff3" d="M3752 821l12 27 10-4-11-26z"/>
<path color="#5f4af3" d="M3189 841l11 7 12-13-10-8z"/>
<path color="#6c35ef" d="M3764 848l12 26 10-4-12-26z"/>
<path color="#437ce9" d="M3033 769l32 22 13 1-31-24z"/>
<path color="#3774c4" d="M4037 772l35-3 10-8-36 1z"/>
<path color="#438df0" d="M2989 765l32 18 12-14-31-20z"/>
<path color="#dd6d27" d="M3534 510l11 0 11-10-11 0z"/>
<path color="#4e27ad" d="M3808 867l12-3 10-12-11 4z"/>
<path color="#2a6e67" d="M3374 713l10-22 11-27-10 25z"/>
<path color="#6f2de5" d="M3776 874l11 6 10-9-11-1z"/>
<path color="#4136ac" d="M3841 847l11-5 10-15-11 6z"/>
<path color="#245c7e" d="M3353 750l9-21 12-16-10 22z"/>
<path color="#3a48b7" d="M3874 822l11-3 10-6-11 2z"/>
<path color="#5c4df3" d="M3156 838l10 6 13-8-11-6z"/>
<path color="#6344f2" d="M3200 848l11 8 12-11-11-10z"/>
<path color="#427de6" d="M4170 780l36 13 9-16-36-10z"/>
<path color="#ba7b24" d="M3513 558l11-3 10-45-11 3z"/>
<path color="#6227c8" d="M3256 875l11 10 12-8-11-10z"/>
<path color="#244e81" d="M3331 782l10-23 12-9-10 22z"/>
<path color="#3b59c5" d="M3984 815l35-3 9-19-35 5z"/>
<path color="#fb7b2c" d="M3545 510l11 4 11-9-11-5z"/>
<path color="#3f83e0" d="M4215 777l36 9 8-20-35-9z"/>
<path color="#673df1" d="M3211 856l11 8 12-10-11-9z"/>
<path color="#d1cd38" d="M3624 570l12 21 11 17-11-17z"/>
<path color="#5f4af3" d="M3166 844l11 6 12-9-10-5z"/>
<path color="#4b2db0" d="M3820 864l11-4 10-13-11 5z"/>
<path color="#263f82" d="M3310 814l9-26 12-6-9 24z"/>
<path color="#5625b5" d="M3787 880l11-4 10-9-11 4z"/>
<path color="#3a4fbe" d="M3885 819l12-3 9-4-11 1z"/>
<path color="#3f3eb2" d="M3852 842l12-4 10-16-12 5z"/>
<path color="#4a52dc" d="M3110 814l32 21 14 3-32-19z"/>
<path color="#bdd23c" d="M3636 591l11 22 12 14-12-19z"/>
<path color="#cd8226" d="M3524 555l11 0 10-45-11 0z"/>
<path color="#2e2e83" d="M3288 850l10-26 12-10-10 25z"/>
<path color="#ff862e" d="M3556 514l11 7 11-9-11-7z"/>
<path color="#4482ef" d="M2933 779l30 15 14-9-31-13z"/>
<path color="#99d151" d="M3647 613l12 23 11 11-11-20z"/>
<path color="#384eb8" d="M3929 812l12 0 10 5-12 0z"/>
<path color="#71cf69" d="M3659 636l12 25 11 8-12-22z"/>
<path color="#401e8b" d="M3267 885l9-21 12-14-9 27z"/>
<path color="#4583f2" d="M2977 785l31 18 13-20-32-18z"/>
<path color="#6146f3" d="M3177 850l11 7 12-9-11-7z"/>
<path color="#446de7" d="M3065 791l32 21 13 2-32-22z"/>
<path color="#366cc0" d="M4028 793l35-4 9-20-35 3z"/>
<path color="#58c794" d="M3671 661l11 26 11 5-11-23z"/>
<path color="#276873" d="M3362 729l10-21 12-17-10 22z"/>
<path color="#46babc" d="M3682 687l12 26 11 3-12-24z"/>
<path color="#40a8db" d="M3694 713l12 27 11 1-12-25z"/>
<path color="#4682f2" d="M3021 783l31 20 13-12-32-22z"/>
<path color="#409ae7" d="M3706 740l12 28 11-1-12-26z"/>
<path color="#4486ee" d="M3718 768l12 27 10-1-11-27z"/>
<path color="#496ff3" d="M3730 795l12 27 10-1-12-27z"/>
<path color="#5655f2" d="M3742 822l11 28 11-2-12-27z"/>
<path color="#693af0" d="M3753 850l12 28 11-4-12-26z"/>
<path color="#ff912f" d="M3567 521l11 10 12-8-12-11z"/>
<path color="#4934b4" d="M3831 860l11-2 10-16-11 5z"/>
<path color="#5026ae" d="M3798 876l12-4 10-8-12 3z"/>
<path color="#3a55c2" d="M3897 816l11-1 10-4-12 1z"/>
<path color="#e28d2a" d="M3535 555l11 3 10-44-11-4z"/>
<path color="#23587c" d="M3341 759l9-23 12-7-9 21z"/>
<path color="#3d46b9" d="M3864 838l11-2 10-17-11 3z"/>
<path color="#702fe8" d="M3765 878l12 11 10-9-11-6z"/>
<path color="#6441f2" d="M3188 857l10 7 13-8-11-8z"/>
<path color="#3d75d6" d="M4162 780l35 14 9-1-36-13z"/>
<path color="#377ec8" d="M4072 769l36 1 9-5-35-4z"/>
<path color="#ffa231" d="M3578 531l12 12 11-7-11-13z"/>
<path color="#514ce0" d="M3142 835l11 7 13 2-10-6z"/>
<path color="#427ce6" d="M4206 793l36 11 9-18-36-9z"/>
<path color="#234d7f" d="M3319 788l10-27 12-2-10 23z"/>
<path color="#f39c2e" d="M3546 558l11 5 10-42-11-7z"/>
<path color="#ffb634" d="M3590 543l11 16 11-7-11-16z"/>
<path color="#683cf1" d="M3198 864l11 8 13-8-11-8z"/>
<path color="#3b59c5" d="M3908 815l12 0 9-3-11-1z"/>
<path color="#473ab9" d="M3842 858l12-2 10-18-12 4z"/>
<path color="#4e2bb2" d="M3810 872l11-3 10-9-11 4z"/>
<path color="#273f83" d="M3298 824l9-26 12-10-9 26z"/>
<path color="#5826b9" d="M3777 889l11-6 10-7-11 4z"/>
<path color="#3c4ec0" d="M3875 836l12-2 10-18-12 3z"/>
<path color="#564ae5" d="M3153 842l11 8 13 0-11-6z"/>
<path color="#ffce38" d="M3601 559l12 18 11-7-12-18z"/>
<path color="#2f745f" d="M3372 708l10-19 11-19-9 21z"/>
<path color="#302c84" d="M3276 864l10-25 12-15-10 26z"/>
<path color="#3963c3" d="M4019 812l35-3 9-20-35 4z"/>
<path color="#ffac32" d="M3557 563l11 8 10-40-11-10z"/>
<path color="#fde33c" d="M3613 577l12 19 11-5-12-21z"/>
<path color="#477cf4" d="M2963 794l32 20 13-11-31-18z"/>
<path color="#6c35ef" d="M3209 872l11 9 13-8-11-9z"/>
<path color="#4660e6" d="M3097 812l32 21 13 2-32-21z"/>
<path color="#421e8e" d="M3255 892l9-15 12-13-9 21z"/>
<path color="#4779f4" d="M3008 803l32 21 12-21-31-20z"/>
<path color="#e0e33f" d="M3625 596l11 22 11-5-11-22z"/>
<path color="#256272" d="M3350 736l10-22 12-6-10 21z"/>
<path color="#bbe14a" d="M3636 618l12 23 11-5-12-23z"/>
<path color="#4876f5" d="M3052 803l32 20 13-11-32-21z"/>
<path color="#5c48ec" d="M3164 850l11 9 13-2-11-7z"/>
<path color="#4540be" d="M3854 856l11-2 10-18-11 2z"/>
<path color="#8bdb62" d="M3648 641l12 25 11-5-12-25z"/>
<path color="#4c32b7" d="M3821 869l11-3 10-8-11 2z"/>
<path color="#ffbe35" d="M3568 571l12 10 10-38-12-12z"/>
<path color="#66d287" d="M3660 666l12 25 10-4-11-26z"/>
<path color="#3c54c5" d="M3887 834l11-2 10-17-11 1z"/>
<path color="#4bc6b6" d="M3672 691l12 27 10-5-12-26z"/>
<path color="#4d25a8" d="M3788 883l11-5 11-6-12 4z"/>
<path color="#42b0d8" d="M3684 718l11 26 11-4-12-27z"/>
<path color="#419fe7" d="M3695 744l12 28 11-4-12-28z"/>
<path color="#438cf0" d="M3707 772l12 27 11-4-12-27z"/>
<path color="#4875f4" d="M3719 799l12 27 11-4-12-27z"/>
<path color="#ffd138" d="M3535 577l11 5 11-19-11-5z"/>
<path color="#663ff1" d="M3743 853l12 29 10-4-12-28z"/>
<path color="#525bf5" d="M3731 826l12 27 10-3-11-28z"/>
<path color="#225778" d="M3329 761l9-25 12 0-9 23z"/>
<path color="#3778c6" d="M4063 789l36-1 9-18-36-1z"/>
<path color="#6f30e9" d="M3755 882l11 16 11-9-12-11z"/>
<path color="#6244f2" d="M3175 859l11 9 12-4-10-7z"/>
<path color="#ffcf38" d="M3580 581l11 12 10-34-11-16z"/>
<path color="#4075dd" d="M4197 794l37 14 8-4-36-11z"/>
<path color="#234d7f" d="M3307 798l9-28 13-9-10 27z"/>
<path color="#ffd83a" d="M3546 582l11 7 11-18-11-8z"/>
<path color="#4346c2" d="M3865 854l12-1 10-19-12 2z"/>
<path color="#ffe33b" d="M3591 593l12 14 10-30-12-18z"/>
<path color="#3884cc" d="M4108 770l36 7 9-3-36-9z"/>
<path color="#4b38bd" d="M3832 866l12-1 10-9-12 2z"/>
<path color="#4c59e7" d="M3129 833l11 8 13 1-11-7z"/>
<path color="#3c59c8" d="M3898 832l12-1 10-16-12 0z"/>
<path color="#283d85" d="M3286 839l9-25 12-16-9 26z"/>
<path color="#673ef1" d="M3186 868l11 9 12-5-11-8z"/>
<path color="#4a2bab" d="M3799 878l12-5 10-4-11 3z"/>
<path color="#5b27be" d="M3766 898l12-6 10-9-11 6z"/>
<path color="#332985" d="M3264 877l10-25 12-13-10 25z"/>
<path color="#2a6d5f" d="M3360 714l10-20 12-5-10 19z"/>
<path color="#ece33e" d="M3603 607l11 17 11-28-12-19z"/>
<path color="#ffe13b" d="M3557 589l12 8 11-16-12-10z"/>
<path color="#4971f6" d="M2995 814l32 23 13-13-32-21z"/>
<path color="#d2e340" d="M3614 624l12 18 10-24-11-22z"/>
<path color="#5155ec" d="M3140 841l11 9 13 0-11-8z"/>
<path color="#482097" d="M3242 900l10-11 12-12-9 15z"/>
<path color="#4a6ef7" d="M3040 824l32 20 12-21-32-20z"/>
<path color="#6b37f0" d="M3197 877l11 10 12-6-11-9z"/>
<path color="#acdf51" d="M3626 642l12 20 10-21-12-23z"/>
<path color="#414ac5" d="M3877 853l12 0 9-21-11 2z"/>
<path color="#4a6cf7" d="M3084 823l32 19 13-9-32-21z"/>
<path color="#4a3dc2" d="M3844 865l11-1 10-10-11 2z"/>
<path color="#3c5cc9" d="M3910 831l12 0 9-17-11 1z"/>
<path color="#81d967" d="M3638 662l11 21 11-17-12-25z"/>
<path color="#24616a" d="M3338 736l10-26 12 4-10 22z"/>
<path color="#f8e33c" d="M3569 597l11 12 11-16-11-12z"/>
<path color="#62d08d" d="M3649 683l12 23 11-15-12-25z"/>
<path color="#386ec6" d="M4054 809l36-1 9-20-36 1z"/>
<path color="#4ac4b8" d="M3661 706l12 24 11-12-12-27z"/>
<path color="#5751f0" d="M3151 850l11 10 13-1-11-9z"/>
<path color="#42b0d8" d="M3673 730l12 25 10-11-11-26z"/>
<path color="#4a24a2" d="M3778 892l11-6 10-8-11 5z"/>
<path color="#41a0e7" d="M3685 755l12 25 10-8-12-28z"/>
<path color="#6e32ec" d="M3208 887l11 10 12-7-11-9z"/>
<path color="#438ef0" d="M3697 780l11 27 11-8-12-27z"/>
<path color="#4877f5" d="M3708 807l12 26 11-7-12-27z"/>
<path color="#5060f7" d="M3720 833l12 27 11-7-12-27z"/>
<path color="#6343f2" d="M3732 860l12 27 11-5-12-29z"/>
<path color="#e9e33e" d="M3580 609l12 13 11-15-12-14z"/>
<path color="#225878" d="M3316 770l10-27 12-7-9 25z"/>
<path color="#6f31ea" d="M3744 887l12 20 10-9-11-16z"/>
<path color="#3a7347" d="M3370 694l10-19 12-3-10 17z"/>
<path color="#244c82" d="M3295 814l10-25 11-19-9 28z"/>
<path color="#3f4ec6" d="M3889 853l11-1 10-21-12 1z"/>
<path color="#5e4bf3" d="M3162 860l11 10 13-2-11-9z"/>
<path color="#4942c7" d="M3855 864l12-1 10-10-12 1z"/>
<path color="#293a87" d="M3274 852l9-24 12-14-9 25z"/>
<path color="#d6e340" d="M3592 622l11 15 11-13-11-17z"/>
<path color="#3a86d3" d="M4099 788l36 5 9-16-36-7z"/>
<path color="#376fc3" d="M4189 788l36 14 9 6-37-14z"/>
<path color="#362686" d="M3252 889l10-24 12-13-10 25z"/>
<path color="#4d64f8" d="M3116 842l11 7 13-8-11-8z"/>
<path color="#5e28c4" d="M3756 907l11-5 11-10-12 6z"/>
<path color="#3b60c8" d="M3922 831l23-2 10-15-24 0z"/>
<path color="#3986d2" d="M4144 777l36 11 9 0-36-14z"/>
<path color="#bbe04a" d="M3603 637l12 16 11-11-12-18z"/>
<path color="#452aa3" d="M3789 886l11-7 11-6-12 5z"/>
<path color="#6343f2" d="M3173 870l11 11 13-4-11-9z"/>
<path color="#4d65f8" d="M3027 837l32 23 13-16-32-20z"/>
<path color="#98dc5c" d="M3615 653l12 19 11-10-12-20z"/>
<path color="#2e6a52" d="M3348 710l9-25 13 9-10 20z"/>
<path color="#3d52c7" d="M3900 852l12 0 10-21-12 0z"/>
<path color="#4846ca" d="M3867 863l12 1 10-11-12 0z"/>
<path color="#4d65f8" d="M3072 844l32 17 12-19-32-19z"/>
<path color="#74d771" d="M3627 672l11 20 11-9-11-21z"/>
<path color="#515ef7" d="M3127 849l11 8 13-7-11-9z"/>
<path color="#95571b" d="M3488 527l11-2 13 39-11 1z"/>
<path color="#693bf1" d="M3184 881l11 11 13-5-11-10z"/>
<path color="#5cce97" d="M3638 692l12 22 11-8-12-23z"/>
<path color="#3a6bcb" d="M4045 816l35 2 10-10-36 1z"/>
<path color="#49c2bc" d="M3650 714l12 23 11-7-12-24z"/>
<path color="#266567" d="M3326 743l10-27 12-6-10 26z"/>
<path color="#42afda" d="M3662 737l12 24 11-6-12-25z"/>
<path color="#4a24a1" d="M3767 902l12-6 10-10-11 6z"/>
<path color="#41a0e7" d="M3674 761l12 25 11-6-12-25z"/>
<path color="#23597d" d="M3305 789l9-25 12-21-10 27z"/>
<path color="#5658f6" d="M3138 857l11 9 13-6-11-10z"/>
<path color="#438fef" d="M3686 786l12 26 10-5-11-27z"/>
<path color="#6d34ee" d="M3195 892l11 11 13-6-11-10z"/>
<path color="#4879f4" d="M3698 812l12 28 10-7-12-26z"/>
<path color="#4f61f7" d="M3710 840l12 27 10-7-12-27z"/>
<path color="#6246f3" d="M3722 867l12 27 10-7-12-27z"/>
<path color="#264984" d="M3283 828l10-24 12-15-10 25z"/>
<path color="#4649cb" d="M3879 864l11 0 10-12-11 1z"/>
<path color="#6e31ea" d="M3734 894l11 23 11-10-12-20z"/>
<path color="#3b7bd1" d="M4090 808l36 6 9-21-36-5z"/>
<path color="#dcd239" d="M3569 600l11 14 12 8-12-13z"/>
<path color="#9b581c" d="M3499 525l11 2 13 40-11-3z"/>
<path color="#293786" d="M3262 865l9-25 12-12-9 24z"/>
<path color="#a27922" d="M3434 605l11-10 10-49-10 14z"/>
<path color="#5b50f4" d="M3149 866l11 11 13-7-11-10z"/>
<path color="#3b56c5" d="M3912 852l23-1 10-22-23 2z"/>
<path color="#525ef7" d="M3104 861l10 6 13-18-11-7z"/>
<path color="#cfd53c" d="M3580 614l12 17 11 6-11-15z"/>
<path color="#372486" d="M3240 901l9-26 13-10-10 24z"/>
<path color="#3d6f38" d="M3357 685l10-23 13 13-10 19z"/>
<path color="#6228ca" d="M3745 917l12-4 10-11-11 5z"/>
<path color="#3d8fdf" d="M4135 793l36 10 9-15-36-11z"/>
<path color="#452aa2" d="M3779 896l11-6 10-11-11 7z"/>
<path color="#444ccc" d="M3890 864l12 0 10-12-12 0z"/>
<path color="#bad743" d="M3592 631l11 18 12 4-12-16z"/>
<path color="#3a82d1" d="M4180 788l36 13 9 1-36-14z"/>
<path color="#5559f6" d="M3059 860l32 19 13-18-32-17z"/>
<path color="#3967c6" d="M3945 829l35-3 10-14-35 2z"/>
<path color="#6147f3" d="M3160 877l11 10 13-6-11-11z"/>
<path color="#9bd554" d="M3603 649l12 20 12 3-12-19z"/>
<path color="#5559f6" d="M3114 867l11 7 13-17-11-8z"/>
<path color="#5323ae" d="M3217 914l10-2 13-11-10 6z"/>
<path color="#346f4b" d="M3336 716l9-26 12-5-9 25z"/>
<path color="#77d367" d="M3615 669l12 21 11 2-11-20z"/>
<path color="#673ef1" d="M3171 887l11 12 13-7-11-11z"/>
<path color="#a76e20" d="M3445 595l10-9 11-50-11 10z"/>
<path color="#266570" d="M3314 764l10-23 12-25-10 27z"/>
<path color="#ac671f" d="M3521 532l12 9 13 38-12-8z"/>
<path color="#245681" d="M3293 804l9-23 12-17-9 25z"/>
<path color="#5fcc8c" d="M3627 690l12 23 11 1-12-22z"/>
<path color="#4d24a5" d="M3757 913l11-5 11-12-12 6z"/>
<path color="#49c2b3" d="M3639 713l12 24 11 0-12-23z"/>
<path color="#5854f5" d="M3125 874l11 7 13-15-11-9z"/>
<path color="#3b3fad" d="M3823 867l12-4 10 0-11 2z"/>
<path color="#4031a3" d="M3790 890l11-6 11-11-12 6z"/>
<path color="#264584" d="M3271 840l10-25 12-11-10 24z"/>
<path color="#42b0d2" d="M3651 737l12 25 11-1-12-24z"/>
<path color="#3c75d3" d="M4080 818l36 7 10-11-36-6z"/>
<path color="#40a1e3" d="M3663 762l12 26 11-2-12-25z"/>
<path color="#6c36ef" d="M3182 899l11 11 13-7-11-11z"/>
<path color="#4192ec" d="M3675 788l12 27 11-3-12-26z"/>
<path color="#4d63f7" d="M3699 844l12 28 11-5-12-27z"/>
<path color="#467bf2" d="M3687 815l12 29 11-4-12-28z"/>
<path color="#6048f3" d="M3711 872l12 27 11-5-12-27z"/>
<path color="#6e32eb" d="M3723 899l12 27 10-9-11-23z"/>
<path color="#4151cc" d="M3902 864l23 1 10-14-23 1z"/>
<path color="#2a3484" d="M3249 875l10-25 12-10-9 25z"/>
<path color="#5952f5" d="M3091 879l11 5 12-17-10-6z"/>
<path color="#5c4df4" d="M3136 881l11 8 13-12-11-11z"/>
<path color="#3d83dc" d="M4126 814l36 9 9-20-36-10z"/>
<path color="#6f31ea" d="M3193 910l11 11 13-7-11-11z"/>
<path color="#392386" d="M3227 912l10-28 12-9-9 26z"/>
<path color="#af6820" d="M3455 586l11-5 10-52-10 7z"/>
<path color="#c68c28" d="M3544 553l12 15 13 32-12-12z"/>
<path color="#395cc2" d="M3935 851l36-3 9-22-35 3z"/>
<path color="#6729d2" d="M3735 926l11-3 11-10-12 4z"/>
<path color="#4928a7" d="M3768 908l12-5 10-13-11 6z"/>
<path color="#3c39a7" d="M3801 884l12-7 10-10-11 6z"/>
<path color="#4c7533" d="M3345 690l10-25 12-3-10 23z"/>
<path color="#5b4ff4" d="M3102 884l11 6 12-16-11-7z"/>
<path color="#dd5625" d="M3487 527l11 1 12-1-11-2z"/>
<path color="#6146f3" d="M3147 889l11 9 13-11-11-10z"/>
<path color="#3f8fe4" d="M4171 803l36 11 9-13-36-13z"/>
<path color="#317258" d="M3324 741l10-23 11-28-9 26z"/>
<path color="#24607b" d="M3302 781l10-22 12-18-10 23z"/>
<path color="#5925ba" d="M3204 921l11 4 12-13-10 2z"/>
<path color="#d7be32" d="M3568 586l12 20 12 25-12-17z"/>
<path color="#235381" d="M3281 815l9-23 12-11-9 23z"/>
<path color="#673ef1" d="M3158 898l11 10 13-9-11-12z"/>
<path color="#ba6621" d="M3466 581l11-2 10-52-11 2z"/>
<path color="#3770c4" d="M3980 826l36-4 9-11-35 1z"/>
<path color="#5d4cf4" d="M3113 890l10 5 13-14-11-7z"/>
<path color="#5024aa" d="M3746 923l12-4 10-11-11 5z"/>
<path color="#fc642b" d="M3498 528l12 5 11-1-11-5z"/>
<path color="#452fa9" d="M3780 903l11-4 10-15-11 6z"/>
<path color="#b6cc3b" d="M3591 628l12 23 12 18-12-20z"/>
<path color="#264382" d="M3259 850l9-26 13-9-10 25z"/>
<path color="#3a42ae" d="M3813 877l11-5 11-9-12 4z"/>
<path color="#93cc51" d="M3603 651l12 25 12 14-12-21z"/>
<path color="#6c36f0" d="M3169 908l11 10 13-8-11-11z"/>
<path color="#6cca6b" d="M3615 676l12 27 12 10-12-23z"/>
<path color="#53c398" d="M3627 703l12 27 12 7-12-24z"/>
<path color="#2a3383" d="M3237 884l9-27 13-7-10 25z"/>
<path color="#44b5bf" d="M3639 730l13 28 11 4-12-25z"/>
<path color="#5c4cf1" d="M3700 874l12 29 11-4-12-27z"/>
<path color="#407de1" d="M4116 825l37 11 9-13-36-9z"/>
<path color="#4a68f4" d="M3688 845l12 29 11-2-12-28z"/>
<path color="#6d33ed" d="M3712 903l12 28 11-5-12-27z"/>
<path color="#6047f3" d="M3123 895l11 7 13-13-11-8z"/>
<path color="#3fa4db" d="M3652 758l12 28 11 2-12-26z"/>
<path color="#447fee" d="M3676 815l12 30 11-1-12-29z"/>
<path color="#3f96e8" d="M3664 786l12 29 11 0-12-27z"/>
<path color="#ff6e2c" d="M3510 533l11 9 12-1-12-9z"/>
<path color="#3d57ca" d="M3925 865l36-1 10-16-36 3z"/>
<path color="#cf6d25" d="M3477 579l11 1 10-52-11-1z"/>
<path color="#3a2187" d="M3215 925l9-29 13-12-10 28z"/>
<path color="#6e31ea" d="M3180 918l11 11 13-8-11-11z"/>
<path color="#4e27ae" d="M3758 919l11-4 11-12-12 5z"/>
<path color="#2a6e69" d="M3312 759l10-21 12-20-10 23z"/>
<path color="#3f84e1" d="M4162 823l36 12 9-21-36-11z"/>
<path color="#6b2bda" d="M3724 931l12 1 10-9-11 3z"/>
<path color="#4137ac" d="M3791 899l12-5 10-17-12 7z"/>
<path color="#ff7c2d" d="M3521 542l12 12 11-1-11-12z"/>
<path color="#6442f2" d="M3134 902l11 8 13-12-11-9z"/>
<path color="#384bb7" d="M3824 872l12-4 10-8-11 3z"/>
<path color="#245c7b" d="M3290 792l10-22 12-11-10 22z"/>
<path color="#e37728" d="M3488 580l12 4 10-51-12-5z"/>
<path color="#5f26c3" d="M3191 929l11 10 13-14-11-4z"/>
<path color="#ff902f" d="M3533 554l11 14 12 0-12-15z"/>
<path color="#3766c0" d="M3971 848l35-4 10-22-36 4z"/>
<path color="#23517f" d="M3268 824l10-25 12-7-9 23z"/>
<path color="#683cf1" d="M3145 910l11 8 13-10-11-10z"/>
<path color="#4b2eb1" d="M3769 915l12-3 10-13-11 4z"/>
<path color="#ffa832" d="M3544 568l12 18 12 0-12-18z"/>
<path color="#5224ae" d="M3736 932l11-4 11-9-12 4z"/>
<path color="#3e3fb1" d="M3803 894l11-4 10-18-11 5z"/>
<path color="#f4862c" d="M3500 584l11 6 10-48-11-9z"/>
<path color="#3952be" d="M3836 868l12-2 10-8-12 2z"/>
<path color="#254280" d="M3246 857l9-29 13-4-9 26z"/>
<path color="#ffc336" d="M3556 586l12 20 12 0-12-20z"/>
<path color="#6c35ef" d="M3156 918l11 9 13-9-11-10z"/>
<path color="#ffe13b" d="M3568 606l12 23 11-1-11-22z"/>
<path color="#397850" d="M3322 738l10-20 12-22-10 22z"/>
<path color="#377bc6" d="M4016 822l36-2 9-9-36 0z"/>
<path color="#2a3383" d="M3224 896l9-29 13-10-9 27z"/>
<path color="#f2b232" d="M3477 607l12 3 11-26-12-4z"/>
<path color="#e5e33e" d="M3580 629l12 24 11-2-12-23z"/>
<path color="#3d1f89" d="M3202 939l10-28 12-15-9 29z"/>
<path color="#ff982f" d="M3511 590l11 9 11-45-12-12z"/>
<path color="#bfe148" d="M3592 653l12 25 11-2-12-25z"/>
<path color="#6c36f0" d="M3701 905l12 30 11-4-12-28z"/>
<path color="#5752f2" d="M3689 876l12 29 11-2-12-29z"/>
<path color="#427fe8" d="M4153 836l36 14 9-15-36-12z"/>
<path color="#496ef3" d="M3677 848l12 28 11-2-12-29z"/>
<path color="#8cda61" d="M3604 678l12 27 11-2-12-27z"/>
<path color="#4486ef" d="M3665 819l12 29 11-3-12-30z"/>
<path color="#27686c" d="M3300 770l10-22 12-10-10 21z"/>
<path color="#409ce7" d="M3652 790l13 29 11-4-12-29z"/>
<path color="#65d088" d="M3616 705l12 27 11-2-12-27z"/>
<path color="#41acdb" d="M3640 761l12 29 12-4-12-28z"/>
<path color="#4ac3b7" d="M3628 732l12 29 12-3-13-28z"/>
<path color="#4834b4" d="M3781 912l11-2 11-16-12 5z"/>
<path color="#6e31ea" d="M3167 927l11 10 13-8-11-11z"/>
<path color="#4f27ad" d="M3747 928l11-4 11-9-11 4z"/>
<path color="#3b59c4" d="M3848 866l11-1 11-7-12 0z"/>
<path color="#3c47b8" d="M3814 890l12-2 10-20-12 4z"/>
<path color="#6f2ee4" d="M3713 935l12 6 11-9-12-1z"/>
<path color="#ffab32" d="M3522 599l12 12 10-43-11-14z"/>
<path color="#ffc236" d="M3489 610l11 6 11-26-11-6z"/>
<path color="#3a60c6" d="M3961 864l36-2 9-18-35 4z"/>
<path color="#225978" d="M3278 799l9-24 13-5-10 22z"/>
<path color="#6227c7" d="M3178 937l12 10 12-8-11-10z"/>
<path color="#ffbe35" d="M3534 611l12 14 10-39-12-18z"/>
<path color="#ffcb37" d="M3500 616l11 7 11-24-11-9z"/>
<path color="#22507b" d="M3255 828l10-29 13 0-10 25z"/>
<path color="#463bb9" d="M3792 910l12-3 10-17-11 4z"/>
<path color="#4c2cb1" d="M3758 924l12-4 11-8-12 3z"/>
<path color="#ffd639" d="M3546 625l11 16 11-35-12-20z"/>
<path color="#3b5dc8" d="M3859 865l12-1 10-6-11 0z"/>
<path color="#5425b1" d="M3725 941l11-5 11-8-11 4z"/>
<path color="#3a4ebf" d="M3826 888l11-3 11-19-12 2z"/>
<path color="#f6e33d" d="M3557 641l12 18 11-30-12-23z"/>
<path color="#254380" d="M3233 867l10-30 12-9-9 29z"/>
<path color="#327357" d="M3310 748l10-20 12-10-10 20z"/>
<path color="#3671c1" d="M4006 844l36-3 10-21-36 2z"/>
<path color="#2d3084" d="M3212 911l9-27 12-17-9 29z"/>
<path color="#dae340" d="M3569 659l12 20 11-26-12-24z"/>
<path color="#ffd639" d="M3511 623l12 10 11-22-12-12z"/>
<path color="#401e8b" d="M3190 947l9-22 13-14-10 28z"/>
<path color="#b3e04e" d="M3581 679l12 22 11-23-12-25z"/>
<path color="#84da65" d="M3593 701l12 23 11-19-12-27z"/>
<path color="#63d08d" d="M3605 724l12 24 11-16-12-27z"/>
<path color="#4441be" d="M3804 907l11-1 11-18-12 2z"/>
<path color="#3d76d5" d="M4144 835l36 15 9 0-36-14z"/>
<path color="#266467" d="M3287 775l10-23 13-4-10 22z"/>
<path color="#4ac3b9" d="M3617 748l12 26 11-13-12-29z"/>
<path color="#4a32b5" d="M3770 920l12-3 10-7-11 2z"/>
<path color="#41aedc" d="M3629 774l12 26 11-10-12-29z"/>
<path color="#683bf1" d="M3690 910l12 30 11-5-12-30z"/>
<path color="#419ee8" d="M3641 800l13 27 11-8-13-29z"/>
<path color="#448af1" d="M3654 827l12 28 11-7-12-29z"/>
<path color="#ffe33c" d="M3523 633l12 12 11-20-12-14z"/>
<path color="#4973f6" d="M3666 855l12 27 11-6-12-28z"/>
<path color="#5558f5" d="M3678 882l12 28 11-5-12-29z"/>
<path color="#3b54c4" d="M3837 885l12-1 10-19-11 1z"/>
<path color="#4c25a7" d="M3736 936l12-6 10-6-11 4z"/>
<path color="#3884cb" d="M4052 820l36 4 10-7-37-6z"/>
<path color="#6f2fe8" d="M3702 940l12 11 11-10-12-6z"/>
<path color="#3b61c8" d="M3871 864l24 0 10-4-24-2z"/>
<path color="#f0e33d" d="M3535 645l11 15 11-19-11-16z"/>
<path color="#215972" d="M3265 799l9-29 13 5-9 24z"/>
<path color="#427a3f" d="M3320 728l10-18 12-10-10 18z"/>
<path color="#dbe33f" d="M3546 660l12 16 11-17-12-18z"/>
<path color="#4247c2" d="M3815 906l12-1 10-20-11 3z"/>
<path color="#3c59c8" d="M3849 884l12-1 10-19-12 1z"/>
<path color="#3969c6" d="M3997 862l36-1 9-20-36 3z"/>
<path color="#22517b" d="M3243 837l9-31 13-7-10 29z"/>
<path color="#482ba9" d="M3748 930l11-5 11-5-12 4z"/>
<path color="#5626b6" d="M3714 951l11-6 11-9-11 5z"/>
<path color="#bfe148" d="M3558 676l12 18 11-15-12-20z"/>
<path color="#264183" d="M3221 884l9-28 13-19-10 30z"/>
<path color="#302d85" d="M3199 925l10-26 12-15-9 27z"/>
<path color="#9adc5a" d="M3570 694l12 20 11-13-12-22z"/>
<path color="#306d51" d="M3297 752l10-22 13-2-10 20z"/>
<path color="#74d771" d="M3582 714l12 21 11-11-12-23z"/>
<path color="#414cc6" d="M3827 905l12 0 10-21-12 1z"/>
<path color="#5bce99" d="M3594 735l12 23 11-10-12-24z"/>
<path color="#48c0bf" d="M3606 758l12 24 11-8-12-26z"/>
<path color="#377eca" d="M4042 841l37 2 9-19-36-4z"/>
<path color="#41acde" d="M3618 782l12 26 11-8-12-26z"/>
<path color="#419ee9" d="M3630 808l12 26 12-7-13-27z"/>
<path color="#448bf0" d="M3642 834l13 27 11-6-12-28z"/>
<path color="#4974f5" d="M3655 861l12 28 11-7-12-27z"/>
<path color="#663ff1" d="M3679 917l12 28 11-5-12-30z"/>
<path color="#535bf6" d="M3667 889l12 28 11-7-12-28z"/>
<path color="#4924a2" d="M3725 945l12-7 11-8-12 6z"/>
<path color="#5b7f32" d="M3330 710l10-16 12-10-10 16z"/>
<path color="#3c5fc9" d="M3861 883l24 0 10-19-24 0z"/>
<path color="#26655d" d="M3274 770l10-28 13 10-10 23z"/>
<path color="#3674c2" d="M4134 829l37 15 9 6-36-15z"/>
<path color="#6f30e9" d="M3691 945l12 16 11-10-12-11z"/>
<path color="#3965c4" d="M3895 864l36 0 10-2-36-2z"/>
<path color="#3a8ad2" d="M4088 824l37 9 9-4-36-12z"/>
<path color="#e8dc3b" d="M3523 641l11 15 12 4-11-15z"/>
<path color="#3f50c8" d="M3839 905l12-1 10-21-12 1z"/>
<path color="#235c70" d="M3252 806l9-31 13-5-9 29z"/>
<path color="#d6dd3e" d="M3534 656l12 17 12 3-12-16z"/>
<path color="#3f7238" d="M3307 730l10-20 13 0-10 18z"/>
<path color="#235280" d="M3230 856l10-27 12-23-9 31z"/>
<path color="#3966c6" d="M3987 867l36 1 10-7-36 1z"/>
<path color="#283e86" d="M3209 899l9-26 12-17-9 28z"/>
<path color="#5b27be" d="M3703 961l12-5 10-11-11 6z"/>
<path color="#bedd45" d="M3546 673l12 19 12 2-12-18z"/>
<path color="#442ba2" d="M3737 938l11-6 11-7-11 5z"/>
<path color="#9bd957" d="M3558 692l12 21 12 1-12-20z"/>
<path color="#748428" d="M3340 694l11-14 12-10-11 14z"/>
<path color="#4548c8" d="M3817 913l12 0 10-8-12 0z"/>
<path color="#3974ca" d="M4033 861l36 3 10-21-37-2z"/>
<path color="#75d56c" d="M3570 713l12 22 12 0-12-21z"/>
<path color="#ac671f" d="M3474 571l12 10 13 37-11-9z"/>
<path color="#5dcc93" d="M3582 735l12 24 12-1-12-23z"/>
<path color="#366a3f" d="M3284 742l9-28 14 16-10 22z"/>
<path color="#3d55c9" d="M3851 904l24 0 10-21-24 0z"/>
<path color="#49c1b9" d="M3594 759l13 25 11-2-12-24z"/>
<path color="#41add8" d="M3607 784l12 26 11-2-12-26z"/>
<path color="#4a24a2" d="M3715 956l11-6 11-12-12 7z"/>
<path color="#409fe5" d="M3619 810l12 27 11-3-12-26z"/>
<path color="#428dee" d="M3631 837l12 28 12-4-13-27z"/>
<path color="#4876f4" d="M3643 865l12 30 12-6-12-28z"/>
<path color="#525ef7" d="M3655 895l13 29 11-7-12-28z"/>
<path color="#6442f2" d="M3668 924l12 28 11-7-12-28z"/>
<path color="#3f32a3" d="M3748 932l12-7 11-6-12 6z"/>
<path color="#a85e1e" d="M3395 618l11-8 11-50-11 10z"/>
<path color="#57742c" d="M3317 710l10-19 13 3-10 16z"/>
<path color="#3b8bd8" d="M4079 843l37 8 9-18-37-9z"/>
<path color="#3a65c8" d="M3885 883l36-2 10-17-36 0z"/>
<path color="#6f30e9" d="M3680 952l12 19 11-10-12-16z"/>
<path color="#444ccb" d="M3829 913l11 1 11-10-12 1z"/>
<path color="#2c6a55" d="M3261 775l10-31 13-2-10 28z"/>
<path color="#254e83" d="M3218 873l10-26 12-18-10 27z"/>
<path color="#3b8ad7" d="M4125 833l37 13 9-2-37-15z"/>
<path color="#235d78" d="M3240 829l9-28 12-26-9 31z"/>
<path color="#878826" d="M3351 680l10-12 12-10-10 12z"/>
<path color="#c68d28" d="M3498 594l12 16 13 31-12-13z"/>
<path color="#5f28c5" d="M3692 971l12-4 11-11-12 5z"/>
<path color="#442aa2" d="M3726 950l12-6 10-12-11 6z"/>
<path color="#b2591f" d="M3406 610l11-5 11-51-11 6z"/>
<path color="#4e6d2c" d="M3293 714l10-27 14 23-10 20z"/>
<path color="#dd4f25" d="M3439 553l11 2 13 9-11-3z"/>
<path color="#3a71cd" d="M4023 868l37 4 9-8-36-3z"/>
<path color="#6d7622" d="M3327 691l11-16 13 5-11 14z"/>
<path color="#4250cd" d="M3840 914l24 1 11-11-24 0z"/>
<path color="#c6c636" d="M3534 649l12 23 12 20-12-19z"/>
<path color="#b0cb3f" d="M3546 672l12 24 12 17-12-21z"/>
<path color="#3c80d8" d="M4069 864l37 8 10-21-37-8z"/>
<path color="#4d24a7" d="M3704 967l11-5 11-12-11 6z"/>
<path color="#3b5bc6" d="M3875 904l36 0 10-23-36 2z"/>
<path color="#8bcb55" d="M3558 696l12 26 12 13-12-22z"/>
<path color="#c05821" d="M3417 605l11-1 11-51-11 1z"/>
<path color="#3f32a3" d="M3738 944l11-7 11-12-12 7z"/>
<path color="#68c873" d="M3570 722l12 28 12 9-12-24z"/>
<path color="#245a7f" d="M3228 847l9-25 12-21-9 28z"/>
<path color="#437135" d="M3271 744l9-31 13 1-9 28z"/>
<path color="#6245f2" d="M3656 928l13 29 11-5-12-28z"/>
<path color="#4ec1a0" d="M3582 750l13 28 12 6-13-25z"/>
<path color="#4e61f5" d="M3644 897l12 31 12-4-13-29z"/>
<path color="#296d62" d="M3249 801l10-26 12-31-10 31z"/>
<path color="#43b1c5" d="M3595 778l12 28 12 4-12-26z"/>
<path color="#467aef" d="M3632 865l12 32 11-2-12-30z"/>
<path color="#3fa1dd" d="M3607 806l12 30 12 1-12-27z"/>
<path color="#4091e9" d="M3619 836l13 29 11 0-12-28z"/>
<path color="#6f31ea" d="M3669 957l12 24 11-10-12-19z"/>
<path color="#3e90e2" d="M4116 851l37 11 9-16-37-13z"/>
<path color="#ff662c" d="M3462 562l11 10 13 9-12-10z"/>
<path color="#7a7620" d="M3338 675l10-14 13 7-10 12z"/>
<path color="#666e1f" d="M3303 687l10-25 14 29-10 19z"/>
<path color="#386dc6" d="M3921 881l36-2 10-16-36 1z"/>
<path color="#6428cd" d="M3681 981l12-4 11-10-12 4z"/>
<path color="#da6025" d="M3428 604l12 2 10-51-11-2z"/>
<path color="#4929a8" d="M3715 962l12-4 11-14-12 6z"/>
<path color="#ff762d" d="M3473 572l12 13 13 9-12-13z"/>
<path color="#3b3aa6" d="M3749 937l12-6 11-13-12 7z"/>
<path color="#ff8c2f" d="M3485 585l12 17 13 8-12-16z"/>
<path color="#ef6b29" d="M3440 606l11 5 11-49-12-7z"/>
<path color="#3e57ce" d="M3864 915l36 2 11-13-36 0z"/>
<path color="#3d7ad8" d="M4060 872l37 10 9-10-37-8z"/>
<path color="#276772" d="M3237 822l10-24 12-23-10 26z"/>
<path color="#ffa631" d="M3497 602l12 19 13 7-12-18z"/>
<path color="#677523" d="M3280 713l10-29 13 3-10 27z"/>
<path color="#5024aa" d="M3693 977l11-4 11-11-11 5z"/>
<path color="#3f7640" d="M3259 775l10-26 11-36-9 31z"/>
<path color="#d9902a" d="M3417 636l12 2 11-32-12-2z"/>
<path color="#4530a9" d="M3727 958l11-4 11-17-11 7z"/>
<path color="#ffc136" d="M3509 621l12 22 13 6-12-21z"/>
<path color="#3e85e0" d="M4106 872l38 12 9-22-37-11z"/>
<path color="#3843ad" d="M3761 931l12-5 10-13-11 5z"/>
<path color="#756c1d" d="M3313 662l10-22 15 35-11 16z"/>
<path color="#ff7a2d" d="M3451 611l12 7 10-46-11-10z"/>
<path color="#ffe03b" d="M3521 643l13 24 12 5-12-23z"/>
<path color="#5d4af1" d="M3645 930l12 31 12-4-13-29z"/>
<path color="#6e32eb" d="M3657 961l13 29 11-9-12-24z"/>
<path color="#4a66f4" d="M3633 899l12 31 11-2-12-31z"/>
<path color="#e0e03e" d="M3534 667l12 26 12 3-12-24z"/>
<path color="#4480ee" d="M3620 868l13 31 11-2-12-32z"/>
<path color="#b8dd49" d="M3546 693l12 27 12 2-12-26z"/>
<path color="#4098e8" d="M3608 838l12 30 12-3-13-29z"/>
<path color="#3962c2" d="M3911 904l36-2 10-23-36 2z"/>
<path color="#40a8dc" d="M3595 807l13 31 11-2-12-30z"/>
<path color="#85d762" d="M3558 720l13 28 11 2-12-28z"/>
<path color="#48bdbb" d="M3583 778l12 29 12-1-12-28z"/>
<path color="#5fcd8d" d="M3571 748l12 30 12 0-13-28z"/>
<path color="#ec9c2d" d="M3429 638l11 4 11-31-11-5z"/>
<path color="#ff8a2f" d="M3463 618l12 11 10-44-12-13z"/>
<path color="#4e28ae" d="M3704 973l12-3 11-12-12 4z"/>
<path color="#6729d3" d="M3670 990l11-4 12-9-12 4z"/>
<path color="#4137ac" d="M3738 954l12-5 11-18-12 6z"/>
<path color="#374cb6" d="M3773 926l11-5 11-11-12 3z"/>
<path color="#ff9d30" d="M3475 629l11 13 11-40-12-17z"/>
<path color="#32745a" d="M3247 798l10-22 12-27-10 26z"/>
<path color="#fcab31" d="M3440 642l12 6 11-30-12-7z"/>
<path color="#3776c5" d="M3957 879l36-3 10-13-36 0z"/>
<path color="#80761f" d="M3290 684l10-28 13 6-10 25z"/>
<path color="#627d2d" d="M3269 749l10-24 11-41-10 29z"/>
<path color="#ffb333" d="M3486 642l12 16 11-37-12-19z"/>
<path color="#4b2eb1" d="M3716 970l12-3 10-13-11 4z"/>
<path color="#5024a9" d="M3681 986l12-4 11-9-11 4z"/>
<path color="#ffcd38" d="M3498 658l12 17 11-32-12-22z"/>
<path color="#417fe4" d="M4097 882l37 14 10-12-38-12z"/>
<path color="#ffbc35" d="M3452 648l11 9 12-28-12-11z"/>
<path color="#3e3fb1" d="M3750 949l12-4 11-19-12 5z"/>
<path color="#3954bd" d="M3784 921l12-3 11-10-12 2z"/>
<path color="#fde33c" d="M3510 675l12 20 12-28-13-24z"/>
<path color="#3c5ecb" d="M3900 917l37 1 10-16-36 2z"/>
<path color="#dee33f" d="M3522 695l13 22 11-24-12-26z"/>
<path color="#b7e04c" d="M3535 717l12 24 11-21-12-27z"/>
<path color="#6d34ee" d="M3646 964l12 31 12-5-13-29z"/>
<path color="#ffc937" d="M3463 657l12 11 11-26-11-13z"/>
<path color="#594ff1" d="M3633 934l13 30 11-3-12-31z"/>
<path color="#85da65" d="M3547 741l12 25 12-18-13-28z"/>
<path color="#4a6cf5" d="M3621 905l12 29 12-4-12-31z"/>
<path color="#4585f1" d="M3609 876l12 29 12-6-13-31z"/>
<path color="#62d08e" d="M3559 766l12 26 12-14-12-30z"/>
<path color="#419cea" d="M3596 847l13 29 11-8-12-30z"/>
<path color="#49c2bc" d="M3571 792l13 27 11-12-12-29z"/>
<path color="#41acde" d="M3584 819l12 28 12-9-13-31z"/>
<path color="#4835b4" d="M3728 967l11-3 11-15-12 5z"/>
<path color="#467d3e" d="M3257 776l10-21 12-30-10 24z"/>
<path color="#4e27ad" d="M3693 982l12-4 11-8-12 3z"/>
<path color="#6a2bda" d="M3658 995l12 1 11-10-11 4z"/>
<path color="#ffda3a" d="M3475 668l12 13 11-23-12-16z"/>
<path color="#3b47b7" d="M3762 945l12-3 10-21-11 5z"/>
<path color="#3b5cc5" d="M3796 918l12-1 11-10-12 1z"/>
<path color="#828123" d="M3279 725l10-23 11-46-10 28z"/>
<path color="#376bc0" d="M3947 902l36-3 10-23-36 3z"/>
<path color="#f9e33c" d="M3487 681l12 16 11-22-12-17z"/>
<path color="#e2e33f" d="M3499 697l12 17 11-19-12-20z"/>
<path color="#453bb8" d="M3739 964l12-2 11-17-12 4z"/>
<path color="#4b2daf" d="M3705 978l11-4 12-7-12 3z"/>
<path color="#4f23a9" d="M3670 996l12-5 11-9-12 4z"/>
<path color="#3a4ebd" d="M3774 942l12-2 10-22-12 3z"/>
<path color="#c7e244" d="M3511 714l12 20 12-17-13-22z"/>
<path color="#3781c8" d="M3993 876l37 0 10-11-37-2z"/>
<path color="#3975ca" d="M4087 879l38 15 9 2-37-14z"/>
<path color="#a0dd58" d="M3523 734l12 21 12-14-12-24z"/>
<path color="#ffd739" d="M3451 663l12 11 12-6-12-11z"/>
<path color="#3c62ca" d="M3808 917l24 0 11-8-24-2z"/>
<path color="#66832f" d="M3267 755l10-19 12-34-10 23z"/>
<path color="#75d76e" d="M3535 755l12 23 12-12-12-25z"/>
<path color="#5bce99" d="M3547 778l13 24 11-10-12-26z"/>
<path color="#48bfc0" d="M3560 802l12 26 12-9-13-27z"/>
<path color="#41abdf" d="M3572 828l13 27 11-8-12-28z"/>
<path color="#6b37f0" d="M3634 969l13 31 11-5-12-31z"/>
<path color="#419cea" d="M3585 855l12 28 12-7-13-29z"/>
<path color="#4487f1" d="M3597 883l12 28 12-6-12-29z"/>
<path color="#5755f4" d="M3622 940l12 29 12-5-13-30z"/>
<path color="#4970f6" d="M3609 911l13 29 11-6-12-29z"/>
<path color="#4342bd" d="M3751 962l12-2 11-18-12 3z"/>
<path color="#967c21" d="M3289 702l10-20 11-52-10 26z"/>
<path color="#ffe33c" d="M3463 674l12 13 12-6-12-13z"/>
<path color="#4833b2" d="M3716 974l12-4 11-6-11 3z"/>
<path color="#3b55c3" d="M3786 940l12-1 10-22-12 1z"/>
<path color="#3a66c8" d="M3937 918l36-1 10-18-36 3z"/>
<path color="#4a26a6" d="M3682 991l11-6 12-7-12 4z"/>
<path color="#6e2ee5" d="M3647 1000l12 6 11-10-12-1z"/>
<path color="#efe33d" d="M3475 687l12 15 12-5-12-16z"/>
<path color="#dbe33f" d="M3487 702l12 17 12-5-12-17z"/>
<path color="#4248c2" d="M3763 960l12-1 11-19-12 2z"/>
<path color="#828726" d="M3277 736l10-17 12-37-10 20z"/>
<path color="#3676c3" d="M3983 899l38-1 9-22-37 0z"/>
<path color="#c0e147" d="M3499 719l12 19 12-4-12-20z"/>
<path color="#5224ad" d="M3659 1006l11-6 12-9-12 5z"/>
<path color="#462ca7" d="M3693 985l12-6 11-5-11 4z"/>
<path color="#9bdd5a" d="M3511 738l12 22 12-5-12-21z"/>
<path color="#3b5cc8" d="M3798 939l24-1 10-21-24 0z"/>
<path color="#9b671e" d="M3299 682l10-19 11-56-10 23z"/>
<path color="#74d770" d="M3523 760l13 22 11-4-12-23z"/>
<path color="#3a68ca" d="M3832 917l37 1 10-6-36-3z"/>
<path color="#3989ce" d="M4030 876l38 6 10-8-38-9z"/>
<path color="#5cce98" d="M3536 782l12 25 12-5-13-24z"/>
<path color="#404dc7" d="M3775 959l12 0 11-20-12 1z"/>
<path color="#49c0be" d="M3548 807l12 25 12-4-12-26z"/>
<path color="#41acde" d="M3560 832l13 27 12-4-13-27z"/>
<path color="#419de8" d="M3573 859l12 28 12-4-12-28z"/>
<path color="#693bf1" d="M3623 976l12 30 12-6-13-31z"/>
<path color="#448af0" d="M3585 887l13 29 11-5-12-28z"/>
<path color="#5558f6" d="M3610 946l13 30 11-7-12-29z"/>
<path color="#4972f5" d="M3598 916l12 30 12-6-13-29z"/>
<path color="#4825a2" d="M3670 1000l12-6 11-9-11 6z"/>
<path color="#6f2fe8" d="M3635 1006l12 11 12-11-12-6z"/>
<path color="#968924" d="M3287 719l11-15 11-41-10 19z"/>
<path color="#396fc9" d="M3973 917l38 1 10-20-38 1z"/>
<path color="#9d521c" d="M3309 663l11-15 10-61-10 20z"/>
<path color="#3e53cb" d="M3787 959l24-1 11-20-24 1z"/>
<path color="#cfc937" d="M3474 693l12 19 13 7-12-17z"/>
<path color="#5726b7" d="M3647 1017l12-5 11-12-11 6z"/>
<path color="#422ca1" d="M3682 994l12-7 11-8-12 6z"/>
<path color="#bece3b" d="M3486 712l12 21 13 5-12-19z"/>
<path color="#3b63c9" d="M3822 938l36 0 11-20-37-1z"/>
<path color="#3884cf" d="M4021 898l37 5 10-21-38-6z"/>
<path color="#a0cf4b" d="M3498 733l13 22 12 5-12-22z"/>
<path color="#9f7f22" d="M3298 704l11-13 11-43-11 15z"/>
<path color="#7ccd60" d="M3511 755l12 25 13 2-13-22z"/>
<path color="#60c884" d="M3523 780l13 25 12 2-12-25z"/>
<path color="#3b8ed6" d="M4068 882l38 12 9-6-37-14z"/>
<path color="#48bfaf" d="M3536 805l12 27 12 0-12-25z"/>
<path color="#673ef1" d="M3611 983l13 29 11-6-12-30z"/>
<path color="#535bf5" d="M3599 952l12 31 12-7-13-30z"/>
<path color="#4a25a3" d="M3659 1012l12-6 11-12-12 6z"/>
<path color="#41add0" d="M3548 832l13 29 12-2-13-27z"/>
<path color="#9e401b" d="M3320 648l11-12 10-65-11 16z"/>
<path color="#4775f2" d="M3586 920l13 32 11-6-12-30z"/>
<path color="#386cc5" d="M3869 918l36 1 11-5-37-2z"/>
<path color="#3f9ee1" d="M3561 861l12 29 12-3-12-28z"/>
<path color="#428ceb" d="M3573 890l13 30 12-4-13-29z"/>
<path color="#3d33a1" d="M3694 987l12-7 11-7-12 6z"/>
<path color="#6f30e9" d="M3624 1012l12 16 11-11-12-11z"/>
<path color="#396cc7" d="M3963 920l37 3 11-5-38-1z"/>
<path color="#a17120" d="M3309 691l10-10 12-45-11 12z"/>
<path color="#4150cb" d="M3776 965l24 1 11-8-24 1z"/>
<path color="#5d27c1" d="M3636 1028l12-4 11-12-12 5z"/>
<path color="#442ba3" d="M3671 1006l12-6 11-13-12 7z"/>
<path color="#3d5aca" d="M3811 958l37 2 10-22-36 0z"/>
<path color="#3b7ad1" d="M4011 918l37 5 10-20-37-5z"/>
<path color="#9f341b" d="M3331 636l11-9 10-67-11 11z"/>
<path color="#b26820" d="M3435 613l13 19 14 45-12-14z"/>
<path color="#b82621" d="M3363 553l11-1 14 22-11 1z"/>
<path color="#3c8dda" d="M4058 903l38 10 10-19-38-12z"/>
<path color="#a3651e" d="M3319 681l11-7 12-47-11 9z"/>
<path color="#4d25a8" d="M3648 1024l11-4 12-14-12 6z"/>
<path color="#396ac7" d="M3858 938l37 0 10-19-36-1z"/>
<path color="#6442f2" d="M3599 986l13 31 12-5-13-29z"/>
<path color="#3f32a3" d="M3683 1000l11-6 12-14-12 7z"/>
<path color="#4e5ff3" d="M3587 953l12 33 12-3-12-31z"/>
<path color="#b9c136" d="M3485 704l13 28 13 23-13-22z"/>
<path color="#4579ed" d="M3574 919l13 34 12-1-13-32z"/>
<path color="#6f30e9" d="M3612 1017l12 21 12-10-12-16z"/>
<path color="#a52e1d" d="M3342 627l11-5 10-69-11 7z"/>
<path color="#9ac547" d="M3498 732l12 29 13 19-12-25z"/>
<path color="#3f91e6" d="M3561 887l13 32 12 1-13-30z"/>
<path color="#70c560" d="M3510 761l13 30 13 14-13-25z"/>
<path color="#3ea0d8" d="M3548 854l13 33 12 3-12-29z"/>
<path color="#43b2bb" d="M3536 823l12 31 13 7-13-29z"/>
<path color="#54bf8f" d="M3523 791l13 32 12 9-12-27z"/>
<path color="#d02b26" d="M3374 552l12 3 14 23-12-4z"/>
<path color="#3671c1" d="M3905 919l37-1 11-2-37-2z"/>
<path color="#a95f1f" d="M3330 674l12-4 11-48-11 5z"/>
<path color="#3f57cf" d="M3800 966l37 4 11-10-37-2z"/>
<path color="#6128c7" d="M3624 1038l12-4 12-10-12 4z"/>
<path color="#4a2aaa" d="M3659 1020l12-4 12-16-12 6z"/>
<path color="#3a75ce" d="M4000 923l38 7 10-7-37-5z"/>
<path color="#e8312a" d="M3386 555l12 9 13 22-11-8z"/>
<path color="#3a3aa6" d="M3694 994l12-6 11-15-11 7z"/>
<path color="#b42d20" d="M3353 622l11-2 10-68-11 1z"/>
<path color="#3d83db" d="M4048 923l38 11 10-21-38-10z"/>
<path color="#3a60c7" d="M3848 960l36 1 11-23-37 0z"/>
<path color="#f1362b" d="M3398 564l12 12 13 22-12-12z"/>
<path color="#b55f20" d="M3342 670l11-1 11-49-11 2z"/>
<path color="#5025ac" d="M3636 1034l12-3 11-11-11 4z"/>
<path color="#4531ab" d="M3671 1016l12-5 11-17-11 6z"/>
<path color="#cd3124" d="M3364 620l12 3 10-68-12-3z"/>
<path color="#f4422b" d="M3410 576l12 17 13 20-12-15z"/>
<path color="#3744ad" d="M3706 988l12-6 11-15-12 6z"/>
<path color="#5e47f0" d="M3587 988l13 33 12-4-13-31z"/>
<path color="#6e31eb" d="M3600 1021l13 27 11-10-12-21z"/>
<path color="#4a65f2" d="M3574 955l13 33 12-2-12-33z"/>
<path color="#f7532a" d="M3422 593l12 20 14 19-13-19z"/>
<path color="#4480ec" d="M3562 921l12 34 13-2-13-34z"/>
<path color="#3772c5" d="M3895 938l37-3 10-17-37 1z"/>
<path color="#3f98e4" d="M3549 887l13 34 12-2-13-32z"/>
<path color="#c16222" d="M3353 669l12 1 11-47-12-3z"/>
<path color="#fa6d2b" d="M3434 613l13 24 13 17-12-22z"/>
<path color="#40aad5" d="M3536 853l13 34 12 0-13-33z"/>
<path color="#e13828" d="M3376 623l11 6 11-65-12-9z"/>
<path color="#49c2ad" d="M3523 819l13 34 12 1-12-31z"/>
<path color="#fd902e" d="M3447 637l12 26 13 15-12-24z"/>
<path color="#4e29af" d="M3648 1031l12-4 11-11-12 4z"/>
<path color="#6bce76" d="M3510 786l13 33 13 4-13-32z"/>
<path color="#6429ce" d="M3613 1048l11-4 12-10-12 4z"/>
<path color="#9fd652" d="M3498 754l12 32 13 5-13-30z"/>
<path color="#fcb533" d="M3459 663l13 29 13 12-13-26z"/>
<path color="#4138ad" d="M3683 1011l12-4 11-19-12 6z"/>
<path color="#d2da3d" d="M3485 722l13 32 12 7-12-29z"/>
<path color="#f7da39" d="M3472 692l13 30 13 10-13-28z"/>
<path color="#3477bf" d="M3942 918l38 1 10-1-37-2z"/>
<path color="#364cb4" d="M3718 982l12-4 11-15-12 4z"/>
<path color="#3d7dda" d="M4038 930l38 13 10-9-38-11z"/>
<path color="#f1432a" d="M3387 629l12 9 11-62-12-12z"/>
<path color="#ce6924" d="M3365 670l11 5 11-46-11-6z"/>
<path color="#3e5dce" d="M3837 970l37 4 10-13-36-1z"/>
<path color="#fc512b" d="M3399 638l12 13 11-58-12-17z"/>
<path color="#4b2fb1" d="M3660 1027l12-3 11-13-12 5z"/>
<path color="#4f24a9" d="M3624 1044l12-5 12-8-12 3z"/>
<path color="#3d3fb1" d="M3695 1007l12-4 11-21-12 6z"/>
<path color="#da7527" d="M3376 675l12 7 11-44-12-9z"/>
<path color="#3856bd" d="M3730 978l12-4 11-14-12 3z"/>
<path color="#ff632b" d="M3411 651l12 15 11-53-12-20z"/>
<path color="#3867c2" d="M3884 961l38-2 10-24-37 3z"/>
<path color="#6e33ec" d="M3588 1025l13 33 12-10-13-27z"/>
<path color="#5a4df0" d="M3575 993l13 32 12-4-13-33z"/>
<path color="#ff802e" d="M3423 666l13 19 11-48-13-24z"/>
<path color="#496bf4" d="M3562 961l13 32 12-5-13-33z"/>
<path color="#e7862a" d="M3388 682l12 10 11-41-12-13z"/>
<path color="#4486ef" d="M3550 930l12 31 12-6-12-34z"/>
<path color="#ffa231" d="M3436 685l12 20 11-42-12-26z"/>
<path color="#419ee8" d="M3537 898l13 32 12-9-13-34z"/>
<path color="#4735b4" d="M3672 1024l12-3 11-14-12 4z"/>
<path color="#42b1d7" d="M3524 867l13 31 12-11-13-34z"/>
<path color="#ffc436" d="M3448 705l13 23 11-36-13-29z"/>
<path color="#4ec9af" d="M3511 837l13 30 12-14-13-34z"/>
<path color="#4d28ac" d="M3636 1039l12-4 12-8-12 4z"/>
<path color="#6729d3" d="M3601 1058l12-4 11-10-11 4z"/>
<path color="#fde33c" d="M3461 728l12 25 12-31-13-30z"/>
<path color="#6fd578" d="M3499 808l12 29 12-18-13-33z"/>
<path color="#d7e340" d="M3473 753l13 27 12-26-13-32z"/>
<path color="#a4de56" d="M3486 780l13 28 11-22-12-32z"/>
<path color="#3b47b6" d="M3707 1003l12-3 11-22-12 4z"/>
<path color="#f39b2e" d="M3400 692l12 12 11-38-12-15z"/>
<path color="#367cc6" d="M3932 935l38-1 10-15-38-1z"/>
<path color="#fcb433" d="M3412 704l12 15 12-34-13-19z"/>
<path color="#3573bf" d="M4028 926l38 13 10 4-38-13z"/>
<path color="#3b60c8" d="M3742 974l25-1 11-13-25 0z"/>
<path color="#347cbf" d="M3980 919l38 5 10 2-38-8z"/>
<path color="#453bb8" d="M3684 1021l12-2 11-16-12 4z"/>
<path color="#ffd239" d="M3424 719l12 17 12-31-12-20z"/>
<path color="#492eae" d="M3648 1035l12-5 12-6-12 3z"/>
<path color="#394fbd" d="M3719 1000l12-2 11-24-12 4z"/>
<path color="#4c23a4" d="M3613 1054l11-6 12-9-12 5z"/>
<path color="#3b63cb" d="M3874 974l37 1 11-16-38 2z"/>
<path color="#f9e33c" d="M3436 736l13 19 12-27-13-23z"/>
<path color="#dde33f" d="M3449 755l12 22 12-24-12-25z"/>
<path color="#b8e04b" d="M3461 777l13 23 12-20-13-27z"/>
<path color="#6d35ee" d="M3576 1031l13 33 12-6-13-33z"/>
<path color="#5852f2" d="M3563 999l13 32 12-6-13-32z"/>
<path color="#89da63" d="M3474 800l12 25 13-17-13-28z"/>
<path color="#496ff5" d="M3550 968l13 31 12-6-13-32z"/>
<path color="#65d18a" d="M3486 825l13 26 12-14-12-29z"/>
<path color="#4488f1" d="M3537 938l13 30 12-7-12-31z"/>
<path color="#4342bc" d="M3696 1019l12-2 11-17-12 3z"/>
<path color="#419ee9" d="M3525 908l12 30 13-8-13-32z"/>
<path color="#4ac4b8" d="M3499 851l13 28 12-12-13-30z"/>
<path color="#41aedb" d="M3512 879l13 29 12-10-13-31z"/>
<path color="#3670c1" d="M3922 959l37-1 11-24-38 1z"/>
<path color="#4927a5" d="M3624 1048l12-6 12-7-12 4z"/>
<path color="#6a2bda" d="M3589 1064l12 1 12-11-12 4z"/>
<path color="#3b57c3" d="M3731 998l25-2 11-23-25 1z"/>
<path color="#4148c2" d="M3708 1017l12-1 11-18-12 2z"/>
<path color="#3b69cc" d="M3767 973l36 1 12-10-37-4z"/>
<path color="#3885ca" d="M3970 934l38 3 10-13-38-5z"/>
<path color="#347dbf" d="M4018 924l38 12 10 3-38-13z"/>
<path color="#4d23a5" d="M3601 1065l12-6 11-11-11 6z"/>
<path color="#442da5" d="M3636 1042l12-6 12-6-12 5z"/>
<path color="#3a6bc9" d="M3911 975l38 0 10-17-37 1z"/>
<path color="#4726a1" d="M3613 1059l11-6 12-11-12 6z"/>
<path color="#3f33a5" d="M3648 1036l12-7 12-3-12 4z"/>
<path color="#3f51c9" d="M3720 1016l24-1 12-19-25 2z"/>
<path color="#377bc6" d="M3959 958l38 2 11-23-38-3z"/>
<path color="#3b61c8" d="M3756 996l36 0 11-22-36-1z"/>
<path color="#3b3aa7" d="M3660 1029l12-6 12 0-12 3z"/>
<path color="#412da0" d="M3624 1053l12-8 12-9-12 6z"/>
<path color="#3a8cd1" d="M4008 937l38 8 10-9-38-12z"/>
<path color="#3a6fcb" d="M3803 974l38 3 11-9-37-4z"/>
<path color="#3f4dc4" d="M3708 1019l25 0 11-4-24 1z"/>
<path color="#3841aa" d="M3672 1023l12-4 12 2-12 2z"/>
<path color="#3b349f" d="M3636 1045l12-7 12-9-12 7z"/>
<path color="#3975cc" d="M3949 975l38 4 10-19-38-2z"/>
<path color="#3e59cd" d="M3744 1015l37 2 11-21-36 0z"/>
<path color="#3986d1" d="M3997 960l39 8 10-23-38-8z"/>
<path color="#3747b0" d="M3684 1019l12-3 12 3-12 2z"/>
<path color="#3a68c8" d="M3792 996l38 2 11-21-38-3z"/>
<path color="#3873c6" d="M3841 977l37 0 11-6-37-3z"/>
<path color="#3e56cb" d="M3733 1019l37 4 11-6-37-2z"/>
<path color="#3871c7" d="M3938 978l38 5 11-4-38-4z"/>
<path color="#374eb5" d="M3696 1016l25-2 12 5-25 0z"/>
<path color="#3b7ed4" d="M3987 979l39 9 10-20-39-8z"/>
<path color="#3c60cc" d="M3781 1017l38 3 11-22-38-2z"/>
<path color="#344bad" d="M3672 1025l13-5 11-4-12 3z"/>
<path color="#386fc6" d="M3830 998l38 0 10-21-37 0z"/>
<path color="#3578c2" d="M3878 977l39 0 10-4-38-2z"/>
<path color="#3755b9" d="M3721 1014l37 5 12 4-37-4z"/>
<path color="#326fb6" d="M3927 973l39 5 10 5-38-5z"/>
<path color="#3977cd" d="M3976 983l39 10 11-5-39-9z"/>
<path color="#3e5dce" d="M3770 1023l38 7 11-10-38-3z"/>
<path color="#3554b3" d="M3685 1020l24-4 12-2-25 2z"/>
<path color="#3a65c7" d="M3819 1020l38 2 11-24-38 0z"/>
<path color="#3677c4" d="M3868 998l38-2 11-19-39 0z"/>
<path color="#355cb5" d="M3709 1016l38 2 11 1-37-5z"/>
<path color="#357ec1" d="M3917 977l38 3 11-2-39-5z"/>
<path color="#3373b9" d="M3966 978l39 10 10 5-39-10z"/>
<path color="#375abc" d="M3758 1019l38 7 12 4-38-7z"/>
<path color="#3d62cd" d="M3808 1030l38 4 11-12-38-2z"/>
<path color="#376cc3" d="M3857 1022l38-1 11-25-38 2z"/>
<path color="#3680c6" d="M3906 996l38 1 11-17-38-3z"/>
<path color="#3580c0" d="M3955 980l39 8 11 0-39-10z"/>
<path color="#3460b5" d="M3747 1018l37 6 12 2-38-7z"/>
<path color="#375fbd" d="M3796 1026l38 6 12 2-38-4z"/>
<path color="#3b69cb" d="M3846 1034l38 2 11-15-38 1z"/>
<path color="#3675c3" d="M3895 1021l39 0 10-24-38-1z"/>
<path color="#3887c9" d="M3944 997l39 5 11-14-39-8z"/>
<path color="#3362b2" d="M3784 1024l39 5 11 3-38-6z"/>
<path color="#3a71cb" d="M3884 1036l39 2 11-17-39 0z"/>
<path color="#377fc8" d="M3934 1021l39 5 10-24-39-5z"/>
<path color="#3165af" d="M3823 1029l38 3 12 3-39-3z"/>
<path color="#366cc0" d="M3873 1035l39 5 11-2-39-2z"/>
<path color="#3979cd" d="M3923 1038l39 6 11-18-39-5z"/>
<path color="#306baf" d="M3861 1032l39 3 12 5-39-5z"/>
<path color="#3774c5" d="M3912 1040l39 8 11-4-39-6z"/>
<path color="#306fb0" d="M3900 1035l40 8 11 5-39-8z"/><path class="m" d="M2842 753l14-1 39-48 23 5M2927 710l50-47 11 3M3004 667l58-41M3075 626l140-80 30-34 18 8M3267 520l103-66 21 6 30-34 26 7 28-34 19 10M3497 407l50-25M3342 670l21-117 11 18M3430 595l9-42 13 8M3488 580l10-52 12-1 2 7M3548 550l19-45 6 15M3603 533l18-66 11 4 4 10M3661 500l14-19 18-109 11 43M3737 449l7-30 10-1 7 19M3777 445l15-46 17 22M3818 429l21-53 15 28M3860 407l24-47 17 23 17-46 18 27 16-32 11 16 6-4 9-29 9 5 6 19M2902 769l16-8 38-43 28 6 54-45 20 5 35-44 38 5 34-42 36 6 71-40 64-34 29-23 19 6 33-37 27 5 45-29M3497 456l32-36 14 7M3550 427l46-30M3861 1032l19 4M3886 1033l41-60 8 3M3945 976l45-58 4 2M4007 919l33-54 13 4M4063 869l36-51 11 5M4118 823l36-48 6 4M4172 778l34-42 6 4M4218 740l30-45 10 5M4269 699l26-42 9 6M4315 661l31-36 2 1M4360 622l29-34M4401 586l27-37M2963 794l52-48 28 8 36-45 39 6 36-42 37 5 124-65M3395 555l34-12M3432 543l57-34M3492 509l98-65M3940 1043l22 1 44-55 20-1 33-51 19 5 37-54 19 8 37-52 18 6 30-49 23 3 80-86 12 2 30-47 15 4 69-86 19 1 27-34M3027 837l40-46 38 4 37-45 38 2 37-41 24 6 52-41M3412 704l22-91 14 19 2 8M3479 685l30-64 13 7 12 28M3542 658l4 2 34-54 23 31 34-44 32 13 29-42 33 10 29-65 32 43 29-24 18 11 32-21 14 2 17-23 27 3 124-50M3091 879l40-46 25 5 111-85M3486 825l24-39 50 16 553-245M3156 918l56-33M3368 795l4-2M3375 790l65-46M3563 999l437-308M4003 690l3-2M4009 687l42-38M4058 646l1-1M4062 643l33-33M4098 610l1 0M4107 607l34-35M4155 566l20-32M3218 873l39-46 56-50 94-77M3859 260l8-1M3636 1045l24-15M3664 1028l2-1M3674 1022l45-49M3741 961l41-46M3806 905l39-42M3864 856l36-42 2 1M3919 810l35-42 2 1M3974 765l29-41 8 3M4029 719l24-38 6 2M4079 676l25-37 4 2M4128 633l25-35 3 2M4173 592l28-33 2 1M4217 553l20-36M3277 736l23-80 6 3M3323 682l6 10 11 2 18-23M3554 494l9-14 5 1M3614 460l15-95 8 27M3725 387l6-19 12 15M3767 373l11-39 10 20M3809 337l13-32 7 22M3846 307l11-37 8 29M3881 284l11-22 7 25M3910 274l8-39 7 2 6 27M3709 1016l35-1 34-55 13 3M3806 962l40-52 8 3M3869 910l36-50 7 3M3930 858l34-45 2 1M3985 812l28-47 8 1M4041 761l28-42 5 2M4091 716l30-42 5 2M4140 672l31-40 2 1M4187 629l32-36M4233 589l28-35 4 3M4278 552l22-35M3784 1024l24 6 44-62 9 4M3877 969l39-55 3 2M3938 915l40-52M3995 863l35-52 7 2M4052 810l31-48 9 4M4104 762l31-46 6 4M4154 720l32-45 4 3M4200 680l31-43 8 4M4250 640l27-39 8 5M4292 606l29-38 8 5M4338 570l24-35 2 1M2842 753l127 44 221 150 169-278 242 396 108-49 231 27M3232 519l110 50M3682 397l201 386 40-12M4051 763l11-2M4074 760l70-1 107 27M3975 314l128 246 197-43 194 41M2895 704l314 185M3228 905l12-4 98-226M3492 722l144 306 156-32 191 6M3276 515l85 38M3707 395l204 357 157-30M4104 720l11 0M4272 761l12 4M2948 689l89 18 197 126M3272 871l7 6 60-169M3406 570l44-15 222 435 40-15M3718 973l2 0M3949 975l77 13M3318 487l94 49M3421 540l5 2M3445 550l5 2M3741 405l206 315 214-46 156 41M3028 675l221 112M3315 839l72-155M3485 580l229 371 105-44 222 23 25 9M3358 454l150 66M3818 426l152 268 70-11M4090 677l6-2M4107 673l76-11 166 29M3512 391l90 22M3926 308l156 277 41-11M4456 591l11 1M3048 621l220 119M3354 805l9 3 44-103M3584 613l161 304 285-41 76 18M3399 451l138 47M3868 423l138 240 60-16M4074 647l5-1M4362 675l17 2M3096 598l192 85M3394 774l4 3 27-55M3615 564l172 316 26-9M3817 870l2-1M3985 863l97 3 62 18M3438 434l9 5M3543 476l14 6M3874 362l154 276 181-49 201 43M3143 588l151 68M3435 742l5 0M3544 500l77-33 195 380 137-35 136 6 36 11M4138 833l6 2M4162 843l18 7M3475 399l114 44M3883 313l179 296 178-34 199 24M3188 548l126 68M3654 492l205 319 237-42 120 32"/><path class="e" d="M3520 78l1031 182M3520 78l9 295M4428 637l113 25M2933 781l-137 79M4545 503l-4 159M2764 421l756-343M2764 421l1207 296M3971 717l580-457M2764 421l32 439M2796 860l1178 361M3974 1221l567-559M3971 717l3 504"/></g><path d="M278.2 41.2L275.2 40.5M282.7 39.2L281.2 38.8M287.0 37.2L285.5 36.9M291.3 35.3L289.8 35.0M295.4 33.4L293.9 33.1M299.5 31.6L296.5 30.9M303.4 29.8L302.0 29.5M307.3 28.0L305.8 27.7M311.1 26.3L309.6 26.0M314.8 24.6L313.3 24.3M318.4 23.0L315.5 22.4M322.0 21.4L320.5 21.1M325.4 19.8L324.0 19.5M328.8 18.3L327.4 18.0M332.2 16.8L330.8 16.5M335.4 15.3L332.6 14.7M338.6 13.8L337.2 13.6M341.8 12.4L340.4 12.2M344.8 11.0L343.4 10.8M347.8 9.7L346.5 9.4M350.8 8.3L348.0 7.8M283.2 87.1L279.5 89.2M288.0 88.6L286.1 89.6M292.8 90.0L291.0 91.1M297.7 91.5L295.9 92.7M302.7 93.1L300.9 94.2M307.7 94.6L304.1 96.9M312.8 96.2L311.0 97.3M318.0 97.8L316.2 98.9M323.2 99.4L321.5 100.6M328.6 101.0L326.8 102.2M334.0 102.7L330.6 105.1M339.4 104.3L337.8 105.6M345.0 106.1L343.3 107.3M350.7 107.8L349.0 109.1M356.4 109.5L354.8 110.9M362.2 111.3L359.0 114.0M368.1 113.1L366.5 114.5M374.1 115.0L372.5 116.3M380.2 116.8L378.6 118.2M386.4 118.7L384.8 120.2M392.6 120.7L389.6 123.6M279.5 84.5L277.0 83.7M278.8 74.4L276.2 73.6M278.0 64.1L275.5 63.4M277.2 53.8L274.7 53.1M276.4 43.3L273.9 42.7M279.5 84.5L278.3 84.1M279.3 81.9L278.1 81.6M279.1 79.4L277.9 79.1M279.0 76.9L277.7 76.5M278.8 74.4L277.6 74.0M278.6 71.8L277.4 71.5M278.4 69.3L277.2 68.9M278.2 66.7L277.0 66.3M278.0 64.1L276.8 63.8M277.8 61.5L276.6 61.2M277.6 59.0L276.4 58.6M277.4 56.4L276.2 56.0M277.2 53.8L276.0 53.5M277.0 51.2L275.8 50.8M276.8 48.5L275.6 48.2M276.6 45.9L275.4 45.6M276.4 43.3L275.2 43.0" class="bx"/><text x="277.6" y="37.9" class="g" text-anchor="middle">0.0</text><text x="298.9" y="28.7" class="g" text-anchor="middle">0.5</text><text x="317.7" y="20.2" class="g" text-anchor="middle">1.0</text><text x="334.8" y="12.3" class="g" text-anchor="middle">1.5</text><text x="350.3" y="5.3" class="g" text-anchor="middle">2.0</text><text x="283.0" y="95.7" class="g" text-anchor="middle">−2</text><text x="308.2" y="103.2" class="g" text-anchor="middle">−1</text><text x="334.5" y="111.4" class="g" text-anchor="middle">0</text><text x="363.3" y="120.2" class="g" text-anchor="middle">1</text><text x="394.8" y="129.4" class="g" text-anchor="middle">2</text><text x="277.9" y="86.9" class="g" text-anchor="end">0.0</text><text x="277.2" y="76.8" class="g" text-anchor="end">0.2</text><text x="276.4" y="66.5" class="g" text-anchor="end">0.4</text><text x="275.6" y="56.2" class="g" text-anchor="end">0.6</text><text x="274.8" y="45.7" class="g" text-anchor="end">0.8</text><text x="317.0" y="11.6" class="ax">t</text><text x="334.7" y="121.4" class="ax" text-anchor="middle">x</text><text x="228.7" y="63.4" class="zl">|<tspan font-style="italic">w</tspan><tspan font-size="5.5" dy="1.6">3,1</tspan><tspan dy="-1.6">(x, t))|</tspan></text><g class="s" transform="scale(.1)"><path color="#3372b9" d="M5795 369l13 4 11-50-13-5z"/>
<path color="#3471bb" d="M5808 373l14 5 10-49-13-6z"/>
<path color="#3570be" d="M5822 378l13 5 11-48-14-6z"/>
<path color="#3072b0" d="M5757 335l14 6 13 42-13-5z"/>
<path color="#3172b3" d="M5771 341l13 5 14 41-14-4z"/>
<path color="#3f98e4" d="M5746 385l14 5 11-49-14-6z"/>
<path color="#4097e7" d="M5760 390l13 5 11-49-13-5z"/>
<path color="#3570bf" d="M5811 360l14 7 13 37-13-6z"/>
<path color="#4097eb" d="M5773 395l14 5 11-47-14-7z"/>
<path color="#4195ee" d="M5787 400l13 6 11-46-13-7z"/>
<path color="#4290ef" d="M5800 406l14 6 11-45-14-7z"/>
<path color="#438bf0" d="M5814 412l14 6 11-42-14-9z"/>
<path color="#4585f2" d="M5828 418l13 8 11-40-13-10z"/>
<path color="#5551ec" d="M5803 472l14 5 11-59-14-6z"/>
<path color="#337eb3" d="M5707 352l13 5 15 43-14-4z"/>
<path color="#337eb6" d="M5720 357l14 6 14 42-13-5z"/>
<path color="#3e9adc" d="M5696 409l13 5 11-57-13-5z"/>
<path color="#3e9adf" d="M5709 414l14 5 11-56-14-6z"/>
<path color="#3f9ae3" d="M5723 419l14 5 11-55-14-6z"/>
<path color="#377bc7" d="M5775 384l14 9 14 36-14-7z"/>
<path color="#4099e7" d="M5737 424l13 6 11-54-13-7z"/>
<path color="#3978cc" d="M5789 393l14 10 14 33-14-7z"/>
<path color="#4198ec" d="M5750 430l14 6 11-52-14-8z"/>
<path color="#4194ee" d="M5764 436l14 6 11-49-14-9z"/>
<path color="#438ef0" d="M5778 442l14 8 11-47-14-10z"/>
<path color="#4487f1" d="M5792 450l14 8 11-44-14-11z"/>
<path color="#467ff3" d="M5806 458l14 9 11-41-14-12z"/>
<path color="#2f7da3" d="M5654 359l14 6 15 57-13-4z"/>
<path color="#698e37" d="M6125 344l14-6 10-54-14 7z"/>
<path color="#307da5" d="M5668 365l14 5 15 57-14-5z"/>
<path color="#7d9934" d="M6139 338l14-2 11-55-15 3z"/>
<path color="#317ea9" d="M5682 370l14 7 15 55-14-5z"/>
<path color="#3fa9d3" d="M5643 425l14 5 11-65-14-6z"/>
<path color="#8ba333" d="M6153 336l15 1 10-55-14-1z"/>
<path color="#3fa8d8" d="M5657 430l14 5 11-65-14-5z"/>
<path color="#93ac36" d="M6168 337l15 5 10-54-15-6z"/>
<path color="#327eb2" d="M5710 384l14 9 15 51-14-6z"/>
<path color="#40a8dc" d="M5671 435l14 5 11-63-14-7z"/>
<path color="#92b43e" d="M6183 342l14 8 11-53-15-9z"/>
<path color="#337eb7" d="M5724 393l14 9 14 49-13-7z"/>
<path color="#47bbb0" d="M6172 414l15 6 10-70-14-8z"/>
<path color="#40a7e0" d="M5685 440l13 6 12-62-14-7z"/>
<path color="#88bb4a" d="M6197 350l15 11 11-50-15-14z"/>
<path color="#347dbd" d="M5738 402l14 10 14 47-14-8z"/>
<path color="#73c05b" d="M6212 361l15 15 11-47-15-18z"/>
<path color="#48bec1" d="M6187 420l15 8 10-67-15-11z"/>
<path color="#41a5e3" d="M5698 446l14 6 12-59-14-9z"/>
<path color="#367ac3" d="M5752 412l14 12 15 43-15-8z"/>
<path color="#5fc27c" d="M6227 376l15 17 10-43-14-21z"/>
<path color="#296b8d" d="M5619 383l14 5 11 54-14-5z"/>
<path color="#44b5d0" d="M6202 428l14 11 11-63-15-15z"/>
<path color="#49c0ab" d="M6242 393l15 20 10-38-15-25z"/>
<path color="#3876c9" d="M5766 424l14 13 15 39-14-9z"/>
<path color="#41a1e6" d="M5712 452l14 7 12-57-14-9z"/>
<path color="#42b0d4" d="M6257 413l15 23 10-33-15-28z"/>
<path color="#41abdf" d="M6216 439l15 12 11-58-15-17z"/>
<path color="#419ee8" d="M6272 436l15 24 10-27-15-30z"/>
<path color="#296b8e" d="M5633 388l14 6 11 53-14-5z"/>
<path color="#4585f2" d="M6287 460l15 27 10-22-15-32z"/>
<path color="#419de9" d="M5726 459l15 8 11-55-14-10z"/>
<path color="#4c67f8" d="M6302 487l15 27 10-15-15-34z"/>
<path color="#41a1e6" d="M6231 451l15 14 11-52-15-20z"/>
<path color="#41add6" d="M5616 433l14 4 3-49-14-5z"/>
<path color="#6541f2" d="M6317 514l15 29 10-10-15-34z"/>
<path color="#4195ee" d="M6246 465l15 16 11-45-15-23z"/>
<path color="#296a90" d="M5647 394l14 7 11 51-14-5z"/>
<path color="#4198ed" d="M5741 467l14 9 11-52-14-12z"/>
<path color="#40acdb" d="M5630 437l14 5 3-48-14-6z"/>
<path color="#4682f2" d="M6261 481l15 17 11-38-15-24z"/>
<path color="#4290ef" d="M5755 476l14 9 11-48-14-13z"/>
<path color="#4a6df7" d="M6276 498l15 19 11-30-15-27z"/>
<path color="#2a6a92" d="M5661 401l14 7 10 50-13-6z"/>
<path color="#5953f5" d="M6291 517l15 19 11-22-15-27z"/>
<path color="#41abdf" d="M5644 442l14 6 3-47-14-7z"/>
<path color="#6b37f0" d="M6306 536l15 20 11-13-15-29z"/>
<path color="#2a6996" d="M5675 408l14 7 10 49-14-6z"/>
<path color="#718f33" d="M6134 312l15 4 12 49-15-3z"/>
<path color="#41a9e0" d="M5658 448l14 6 3-46-14-7z"/>
<path color="#2b6a9b" d="M5689 415l14 9 11 47-15-7z"/>
<path color="#719437" d="M6149 316l15 8 11 48-14-7z"/>
<path color="#41a6e2" d="M5672 454l14 6 3-45-14-7z"/>
<path color="#5654f2" d="M6281 500l15 26 10 10-15-19z"/>
<path color="#6e9e41" d="M6164 324l15 11 11 48-15-11z"/>
<path color="#41a3e5" d="M5686 460l14 7 3-43-14-9z"/>
<path color="#693af0" d="M6296 526l15 27 10 3-15-20z"/>
<path color="#60a44f" d="M6179 335l15 16 11 45-15-13z"/>
<path color="#52a769" d="M6194 351l15 20 11 41-15-16z"/>
<path color="#2d4999" d="M6393 525l15-8 10-47-15 14z"/>
<path color="#cfe341" d="M6138 351l15 7 11-34-15-8z"/>
<path color="#3a9bb1" d="M6224 394l15 27 11 31-15-21z"/>
<path color="#3d81db" d="M6254 450l16 31 11 19-16-25z"/>
<path color="#bfe148" d="M6153 358l15 10 11-33-15-11z"/>
<path color="#456ae8" d="M6270 481l15 34 11 11-15-26z"/>
<path color="#358d84" d="M5572 381l14 6 13 54-14-5z"/>
<path color="#594ced" d="M6285 515l15 34 11 4-15-27z"/>
<path color="#2c539a" d="M6408 517l16-5 10-52-16 10z"/>
<path color="#a5de55" d="M6168 368l15 14 11-31-15-16z"/>
<path color="#63d08d" d="M6142 422l15 8 11-62-15-10z"/>
<path color="#358d88" d="M5586 387l14 6 12 53-13-5z"/>
<path color="#80d967" d="M6183 382l15 18 11-29-15-20z"/>
<path color="#48bfad" d="M5570 440l13 4 3-57-14-6z"/>
<path color="#63d08d" d="M6198 400l15 20 11-26-15-23z"/>
<path color="#2c5d9f" d="M6424 512l15-3 10-55-15 6z"/>
<path color="#57cca0" d="M6157 430l15 11 11-59-15-14z"/>
<path color="#4ac3ba" d="M6213 420l15 24 11-23-15-27z"/>
<path color="#41abdf" d="M6228 444l15 26 11-20-15-29z"/>
<path color="#48beb2" d="M5583 444l14 6 3-57-14-6z"/>
<path color="#4ac5b7" d="M6172 441l15 13 11-54-15-18z"/>
<path color="#4198ed" d="M6243 470l16 28 11-17-16-31z"/>
<path color="#477af4" d="M6259 498l15 29 11-12-15-34z"/>
<path color="#5657f6" d="M6274 527l15 31 11-9-15-34z"/>
<path color="#2d65a3" d="M6439 509l16-1 10-57-16 3z"/>
<path color="#45b6cf" d="M6187 454l15 16 11-50-15-20z"/>
<path color="#48beb8" d="M5597 450l15 5 2-56-14-6z"/>
<path color="#41a7e2" d="M6202 470l15 17 11-43-15-24z"/>
<path color="#358c9c" d="M5628 407l15 8 12 50-14-7z"/>
<path color="#419aec" d="M6217 487l16 20 10-37-15-26z"/>
<path color="#2d6ba6" d="M6455 508l15 0 11-58-16 1z"/>
<path color="#47bcc0" d="M5612 455l14 7 2-55-14-8z"/>
<path color="#4584f2" d="M6233 507l15 21 11-30-16-28z"/>
<path color="#348ba5" d="M5643 415l14 9 12 48-14-7z"/>
<path color="#4b6bf7" d="M6248 528l15 23 11-24-15-29z"/>
<path color="#5d4df4" d="M6263 551l16 23 10-16-15-31z"/>
<path color="#46bac8" d="M5626 462l14 6 3-53-15-8z"/>
<path color="#2e6ea7" d="M6470 508l16 2 10-60-15 0z"/>
<path color="#3389b0" d="M5657 424l15 11 11 45-14-8z"/>
<path color="#44b5d1" d="M5640 468l14 8 3-52-14-9z"/>
<path color="#3487b6" d="M5672 435l14 12 12 43-15-10z"/>
<path color="#2f70a8" d="M6486 510l16 2 10-61-16-1z"/>
<path color="#42afda" d="M5654 476l14 8 4-49-15-11z"/>
<path color="#466cea" d="M6237 501l15 31 11 19-15-23z"/>
<path color="#2f72a9" d="M6502 512l15 2 11-61-16-2z"/>
<path color="#5652ef" d="M6252 532l16 33 11 9-16-23z"/>
<path color="#41a9e0" d="M5668 484l15 10 3-47-14-12z"/>
<path color="#274a89" d="M6377 503l16-13 10 36-16 7z"/>
<path color="#5bb873" d="M5527 384l14 5 18 47-14-5z"/>
<path color="#41a3e5" d="M5683 494l14 10 4-44-15-13z"/>
<path color="#2f73a9" d="M6517 514l16 3 11-62-16-2z"/>
<path color="#59b979" d="M5541 389l15 6 17 47-14-6z"/>
<path color="#285690" d="M6393 490l15-8 11 41-16 3z"/>
<path color="#2f74a9" d="M6533 517l16 3 10-62-15-3z"/>
<path color="#83c756" d="M6163 366l16 24 11 31-15-21z"/>
<path color="#4db38b" d="M5518 470l14 5 9-86-14-5z"/>
<path color="#2d569d" d="M6366 547l16-8 11-49-16 13z"/>
<path color="#66641b" d="M5965 341l13-66 15 113-14 27z"/>
<path color="#296097" d="M6408 482l16-6 10 45-15 2z"/>
<path color="#3d9cd3" d="M6210 450l15 34 12 17-16-29z"/>
<path color="#2f74a9" d="M6549 520l16 3 10-62-16-3z"/>
<path color="#3f88e3" d="M6225 484l16 37 11 11-15-31z"/>
<path color="#4869ee" d="M6241 521l15 38 12 6-16-33z"/>
<path color="#4ab391" d="M5532 475l14 5 10-85-15-6z"/>
<path color="#2e65a7" d="M6382 539l16-5 10-52-15 8z"/>
<path color="#2b679c" d="M6424 476l16-2 10 47-16 0z"/>
<path color="#bee148" d="M6137 399l15 16 11-49-15-20z"/>
<path color="#2f74aa" d="M6565 523l16 3 10-62-16-3z"/>
<path color="#4eba94" d="M5584 410l15 8 17 44-14-8z"/>
<path color="#48b499" d="M5546 480l15 5 9-83-14-7z"/>
<path color="#92db5f" d="M6152 415l15 20 12-45-16-24z"/>
<path color="#68d284" d="M6167 435l16 23 11-40-15-28z"/>
<path color="#48b9a1" d="M5599 418l14 10 17 42-14-8z"/>
<path color="#2f75aa" d="M6581 526l16 4 11-63-17-3z"/>
<path color="#744c16" d="M5978 275l14-50 15 136-14 27z"/>
<path color="#44b5a2" d="M5561 485l14 6 9-81-14-8z"/>
<path color="#4ac3ba" d="M6183 458l16 26 11-34-16-32z"/>
<path color="#3073b0" d="M6398 534l16-2 10-56-16 6z"/>
<path color="#41a9e0" d="M6199 484l15 29 11-29-15-34z"/>
<path color="#4292ef" d="M6214 513l16 30 11-22-16-37z"/>
<path color="#4a70f6" d="M6230 543l15 32 11-16-15-38z"/>
<path color="#6147f3" d="M6245 575l16 33 11-10-16-39z"/>
<path color="#45b5ad" d="M5613 428l15 11 17 40-15-9z"/>
<path color="#43b2d5" d="M6156 492l16 17 11-51-16-23z"/>
<path color="#44b4aa" d="M5575 491l14 7 10-80-15-8z"/>
<path color="#2f75aa" d="M6597 530l16 3 11-63-16-3z"/>
<path color="#337cb7" d="M6414 532l15-1 11-57-16 2z"/>
<path color="#41a3e5" d="M6172 509l15 20 12-45-16-26z"/>
<path color="#42afb9" d="M5628 439l14 12 17 38-14-10z"/>
<path color="#4293ef" d="M6187 529l16 21 11-37-15-29z"/>
<path color="#43b2b4" d="M5589 498l15 7 9-77-14-10z"/>
<path color="#773715" d="M5992 225l15 3 15 108-15 25z"/>
<path color="#2f75aa" d="M6613 533l16 3 11-62-16-4z"/>
<path color="#477af4" d="M6203 550l15 22 12-29-16-30z"/>
<path color="#2e72a2" d="M6472 474l16 1 9 51-15-2z"/>
<path color="#515ff7" d="M6218 572l16 24 11-21-15-32z"/>
<path color="#3583bc" d="M6429 531l16 1 11-59-16 1z"/>
<path color="#42b0c0" d="M5604 505l14 8 10-74-15-11z"/>
<path color="#2f75aa" d="M6629 536l17 4 10-63-16-3z"/>
<path color="#2e73a2" d="M6488 475l16 3 9 51-16-3z"/>
<path color="#7e2e15" d="M6007 228l15 3 14 84-14 21z"/>
<path color="#41acce" d="M5618 513l15 9 9-71-14-12z"/>
<path color="#378ac2" d="M6445 532l16 1 11-59-16-1z"/>
<path color="#4fb182" d="M5481 414l14 6 8 58-14-5z"/>
<path color="#832c16" d="M5967 337l13-71 12-41-14 50z"/>
<path color="#3075aa" d="M6646 540l16 3 10-63-16-3z"/>
<path color="#40a8dc" d="M5633 522l14 10 10-67-15-14z"/>
<path color="#2e74a2" d="M6504 478l16 2 9 52-16-3z"/>
<path color="#7f2716" d="M6022 231l15 3 14 67-15 14z"/>
<path color="#4db188" d="M5495 420l14 6 8 57-14-5z"/>
<path color="#46ad8f" d="M5475 494l14 5 6-79-14-6z"/>
<path color="#388fc7" d="M6461 533l16 2 11-60-16-1z"/>
<path color="#3075aa" d="M6662 543l16 4 11-63-17-4z"/>
<path color="#4561e5" d="M6207 541l16 36 11 19-16-24z"/>
<path color="#5d44ea" d="M6223 577l15 36 12 8-16-25z"/>
<path color="#2e75a3" d="M6520 480l16 3 9 52-16-3z"/>
<path color="#44ad94" d="M5489 499l14 5 6-78-14-6z"/>
<path color="#3a93ca" d="M6477 535l16 3 11-60-16-3z"/>
<path color="#812316" d="M6037 234l16 3 13 59-15 5z"/>
<path color="#831918" d="M5980 266l15-31 12-7-15-3z"/>
<path color="#3075aa" d="M6678 547l17 3 10-63-16-3z"/>
<path color="#2e75a3" d="M6536 483l16 3 10 52-17-3z"/>
<path color="#42ae9b" d="M5503 504l14 6 6-78-14-6z"/>
<path color="#902c19" d="M5975 345l13-73 7-37-15 31z"/>
<path color="#3a95cb" d="M6493 538l16 3 11-61-16-2z"/>
<path color="#832317" d="M6053 237l15 2 13 62-15-5z"/>
<path color="#3075aa" d="M6695 550l16 4 11-64-17-3z"/>
<path color="#dedede" d="M5995 235l15 3 12-7-15-3z"/>
<path color="#44b2a0" d="M5538 440l14 8 8 54-14-7z"/>
<path color="#2e75a3" d="M6552 486l17 3 9 53-16-4z"/>
<path color="#41ada1" d="M5517 510l15 6 6-76-15-8z"/>
<path color="#286192" d="M6366 510l16-8 10 44-15 3z"/>
<path color="#862617" d="M6068 239l15 3 14 75-16-16z"/>
<path color="#3b96cd" d="M6509 541l16 3 11-61-16-3z"/>
<path color="#3075aa" d="M6711 554l17 3 10-63-16-4z"/>
<path color="#dedede" d="M6010 238l15 2 12-6-15-3z"/>
<path color="#42b0a8" d="M5552 448l15 9 8 52-15-7z"/>
<path color="#495eea" d="M6211 558l16 48 11 7-15-36z"/>
<path color="#41aca9" d="M5532 516l14 6 6-74-14-8z"/>
<path color="#2e75a3" d="M6569 489l16 3 9 53-16-3z"/>
<path color="#3d81da" d="M6195 509l16 49 12 19-16-36z"/>
<path color="#882d17" d="M6083 242l16 3 13 96-15-24z"/>
<path color="#4957e2" d="M6701 630l16 3 11-76-17-3z"/>
<path color="#3897bd" d="M6179 455l16 54 12 32-16-35z"/>
<path color="#2b6b99" d="M6382 502l16-4 10 47-16 1z"/>
<path color="#9c1e1d" d="M5988 272l15-31 7-3-15-3z"/>
<path color="#3b97ce" d="M6525 544l17 3 10-61-16-3z"/>
<path color="#41acb2" d="M5567 457l15 10 7 51-14-9z"/>
<path color="#3075aa" d="M6728 557l17 4 10-64-17-3z"/>
<path color="#8a3817" d="M6099 245l15 3 14 122-16-29z"/>
<path color="#dedede" d="M6025 240l15 3 13-6-16-3z"/>
<path color="#40abb2" d="M5546 522l15 7 6-72-15-9z"/>
<path color="#2e75a3" d="M6585 492l16 4 9 53-16-4z"/>
<path color="#96431a" d="M5976 363l15-13 6-106-14 43z"/>
<path color="#4957e2" d="M6717 633l17 4 11-76-17-4z"/>
<path color="#964d1b" d="M6114 248l16 3 14 152-16-33z"/>
<path color="#2e6ea6" d="M6355 568l16-4 11-62-16 8z"/>
<path color="#b48525" d="M6130 251l16 72 13 114-15-34z"/>
<path color="#3b98ce" d="M6542 547l16 4 11-62-17-3z"/>
<path color="#dedede" d="M6003 241l15 3 7-4-15-2z"/>
<path color="#40a9bd" d="M5561 529l14 8 7-70-15-10z"/>
<path color="#dedede" d="M6040 243l16 3 12-7-15-2z"/>
<path color="#2e75a3" d="M6601 496l17 3 9 53-17-3z"/>
<path color="#3b98cf" d="M6558 551l16 3 11-62-16-3z"/>
<path color="#4b6af8" d="M6199 580l16 40 12-14-16-48z"/>
<path color="#3178ad" d="M6371 564l16-1 11-65-16 4z"/>
<path color="#3a48b5" d="M6693 566l16 4 8 63-16-3z"/>
<path color="#dedede" d="M6018 244l15 3 7-4-15-3z"/>
<path color="#4197ee" d="M6183 538l16 42 12-22-16-49z"/>
<path color="#9d351b" d="M5991 350l15-9 7-94-16-3z"/>
<path color="#dedede" d="M6056 246l15 3 12-7-15-3z"/>
<path color="#dedede" d="M5997 244l16 3 5-3-15-3z"/>
<path color="#39978f" d="M5427 455l14 5 17 61-14-4z"/>
<path color="#2e76a3" d="M6618 499l16 4 9 53-16-4z"/>
<path color="#47bbc5" d="M6167 491l16 47 12-29-16-54z"/>
<path color="#3b99cf" d="M6574 554l17 4 10-62-16-4z"/>
<path color="#8bd75f" d="M6151 435l16 56 12-36-16-61z"/>
<path color="#3a48b5" d="M6709 570l17 3 8 64-17-4z"/>
<path color="#dedede" d="M6033 247l16 3 7-4-16-3z"/>
<path color="#399793" d="M5441 460l14 6 17 60-14-5z"/>
<path color="#3381b2" d="M6387 563l16 0 11-67-16 2z"/>
<path color="#dedede" d="M6071 249l16 3 12-7-16-3z"/>
<path color="#dedede" d="M6013 247l15 3 5-3-15-3z"/>
<path color="#467ef3" d="M6177 577l16 32 6-29-16-42z"/>
<path color="#a7341d" d="M6006 341l16-4 6-87-15-3z"/>
<path color="#5559f6" d="M6193 609l16 29 6-18-16-40z"/>
<path color="#41a0e7" d="M6161 539l16 38 6-39-16-47z"/>
<path color="#2e76a3" d="M6634 503l17 3 9 53-17-3z"/>
<path color="#4bc7b2" d="M6145 492l16 47 6-48-16-56z"/>
<path color="#fcd238" d="M6135 368l16 67 12-41-17-71z"/>
<path color="#3b99cf" d="M6591 558l16 3 11-62-17-3z"/>
<path color="#dedede" d="M6049 250l15 3 7-4-15-3z"/>
<path color="#307da4" d="M6446 497l17 2 10 52-17-3z"/>
<path color="#aeda4c" d="M6129 432l16 60 6-57-16-67z"/>
<path color="#dedede" d="M6087 252l15 3 12-7-15-3z"/>
<path color="#dedede" d="M6028 250l15 3 6-3-16-3z"/>
<path color="#3588b8" d="M6403 563l16 1 11-68-16 0z"/>
<path color="#aa331d" d="M6022 337l15 2 6-86-15-3z"/>
<path color="#2e76a3" d="M6651 506l17 3 8 54-16-4z"/>
<path color="#44b4af" d="M5415 535l15 5 11-80-14-5z"/>
<path color="#3c94d8" d="M6156 506l16 42 5 29-16-38z"/>
<path color="#f5542a" d="M6118 288l17 80 11-45-16-72z"/>
<path color="#3b99cf" d="M6607 561l17 4 10-62-16-4z"/>
<path color="#e52c2b" d="M6102 255l16 33 12-37-16-3z"/>
<path color="#39979d" d="M5470 472l15 7 16 59-15-6z"/>
<path color="#dedede" d="M6064 253l16 3 7-4-16-3z"/>
<path color="#307ea5" d="M6463 499l16 2 10 53-16-3z"/>
<path color="#fdab31" d="M6112 359l17 73 6-64-17-80z"/>
<path color="#dedede" d="M6043 253l16 3 5-3-15-3z"/>
<path color="#ad351e" d="M6037 339l15 7 7-90-16-3z"/>
<path color="#44b4b3" d="M5430 540l14 5 11-79-14-6z"/>
<path color="#378fbe" d="M6419 564l16 2 11-69-16-1z"/>
<path color="#2e76a3" d="M6668 509l16 4 9 53-17-3z"/>
<path color="#ffd839" d="M6107 351l16 57 6 24-17-73z"/>
<path color="#3b99cf" d="M6624 565l16 3 11-62-17-3z"/>
<path color="#e62a2b" d="M6080 256l16 22 6-23-15-3z"/>
<path color="#3996a3" d="M5485 479l14 8 16 57-14-6z"/>
<path color="#f7402b" d="M6096 278l16 81 6-71-16-33z"/>
<path color="#307fa5" d="M6479 501l16 3 10 53-16-3z"/>
<path color="#b53a1f" d="M6052 346l16 13 6-100-15-3z"/>
<path color="#6240ec" d="M6196 619l16 44 8 1-16-38z"/>
<path color="#dedede" d="M6059 256l15 3 6-3-16-3z"/>
<path color="#44b3b8" d="M5444 545l14 5 12-78-15-6z"/>
<path color="#4568e7" d="M6180 576l16 43 8 7-16-39z"/>
<path color="#2e76a3" d="M6684 513l17 3 8 54-16-4z"/>
<path color="#3c8cdd" d="M6164 534l16 42 8 11-16-39z"/>
<path color="#3893c1" d="M6435 566l17 2 11-69-17-2z"/>
<path color="#40aac8" d="M6148 496l16 38 8 14-16-42z"/>
<path color="#b0b131" d="M6080 431l16 19 4-50-16-23z"/>
<path color="#f85a2a" d="M6090 291l17 60 5 8-16-81z"/>
<path color="#63cf8a" d="M6132 460l16 36 8 10-17-46z"/>
<path color="#b5e04d" d="M6116 428l16 32 7 0-16-52z"/>
<path color="#fde03b" d="M6100 400l16 28 7-20-16-57z"/>
<path color="#c84d22" d="M6068 359l16 18 6-86-16-32z"/>
<path color="#3b99cf" d="M6640 568l17 4 11-63-17-3z"/>
<path color="#e92d2b" d="M6074 259l16 32 6-13-16-22z"/>
<path color="#9cbd3f" d="M6096 450l16 23 4-45-16-28z"/>
<path color="#e98a2b" d="M6084 377l16 23 7-49-17-60z"/>
<path color="#50c9ab" d="M6085 524l15 17 12-68-16-23z"/>
<path color="#3080a5" d="M6495 504l17 3 9 53-16-3z"/>
<path color="#43b3be" d="M5458 550l15 6 12-77-15-7z"/>
<path color="#73c760" d="M6112 473l16 27 4-40-16-32z"/>
<path color="#2e76a3" d="M6701 516l17 4 8 53-17-3z"/>
<path color="#52c7a3" d="M6128 500l16 29 4-33-16-36z"/>
<path color="#46b9ca" d="M6100 541l16 19 12-60-16-27z"/>
<path color="#3996c4" d="M6452 568l16 3 11-70-16-2z"/>
<path color="#4970f6" d="M6176 596l16 36 4-13-16-43z"/>
<path color="#41aedb" d="M6144 529l16 33 4-28-16-38z"/>
<path color="#4196ee" d="M6160 562l16 34 4-20-16-42z"/>
<path color="#41a6e2" d="M6116 560l16 21 12-52-16-29z"/>
<path color="#3b99cf" d="M6657 572l17 3 10-62-16-4z"/>
<path color="#43b2c5" d="M5473 556l14 6 12-75-14-8z"/>
<path color="#255b83" d="M6322 533l16-12 11 56-16 5z"/>
<path color="#4195ee" d="M6132 581l16 24 12-43-16-33z"/>
<path color="#7a4216" d="M5931 269l15 4 13 140-15 13z"/>
<path color="#3080a5" d="M6512 507l16 3 10 54-17-4z"/>
<path color="#477bf4" d="M6148 605l16 24 12-33-16-34z"/>
<path color="#3998c5" d="M6468 571l16 3 11-70-16-3z"/>
<path color="#525df7" d="M6164 629l16 26 12-23-16-36z"/>
<path color="#3b99cf" d="M6674 575l17 4 10-63-17-3z"/>
<path color="#42b0cd" d="M5487 562l15 7 12-74-15-8z"/>
<path color="#295f95" d="M6295 606l16-10 11-63-16 17z"/>
<path color="#3080a5" d="M6528 510l17 4 9 53-16-3z"/>
<path color="#4460e2" d="M6663 660l17 4 11-85-17-4z"/>
<path color="#7e3d16" d="M5946 273l16 3 12 128-15 9z"/>
<path color="#276689" d="M6338 521l16-7 11 61-16 2z"/>
<path color="#3a99c6" d="M6484 574l17 4 11-71-17-3z"/>
<path color="#8d4619" d="M5906 421l13-70 7-79-13 72z"/>
<path color="#3b99cf" d="M6691 579l17 4 10-63-17-4z"/>
<path color="#3081a6" d="M6545 514l17 3 9 54-17-4z"/>
<path color="#4460e2" d="M6680 664l16 4 12-85-17-4z"/>
<path color="#7f3916" d="M5962 276l15 3 12 121-15 4z"/>
<path color="#3a9ac7" d="M6501 578l16 3 11-71-16-3z"/>
<path color="#2b6b98" d="M6311 596l16-6 11-69-16 12z"/>
<path color="#296e8e" d="M6354 514l16-4 11 64-16 1z"/>
<path color="#3081a6" d="M6562 517l16 4 9 53-16-3z"/>
<path color="#358e98" d="M5365 497l15 5 19 59-14-5z"/>
<path color="#3a9bc7" d="M6517 581l17 4 11-71-17-4z"/>
<path color="#864618" d="M5891 369l13-76 15 58-13 70z"/>
<path color="#4860eb" d="M6148 601l17 38 15 16-16-26z"/>
<path color="#803716" d="M5977 279l16 3 11 118-15 0z"/>
<path color="#dedede" d="M5926 272l16 3 4-2-15-4z"/>
<path color="#6240ed" d="M6165 639l16 39 15 3-16-26z"/>
<path color="#364eb4" d="M6655 589l16 3 9 72-17-4z"/>
<path color="#2c768e" d="M6370 510l17-1 11 66-17-1z"/>
<path color="#2e79a0" d="M6327 590l16-4 11-72-16 7z"/>
<path color="#3081a6" d="M6578 521l17 3 9 54-17-4z"/>
<path color="#358e9b" d="M5380 502l14 6 20 58-15-5z"/>
<path color="#921f1a" d="M5919 351l14-71 9-5-16-3z"/>
<path color="#3a9bc8" d="M6534 585l17 3 11-71-17-3z"/>
<path color="#813716" d="M5993 282l16 3 11 121-16-6z"/>
<path color="#dedede" d="M5942 275l15 3 5-2-16-3z"/>
<path color="#364eb4" d="M6671 592l17 4 8 72-16-4z"/>
<path color="#2e7b8e" d="M6387 509l16 0 11 67-16-1z"/>
<path color="#3285a5" d="M6343 586l16-1 11-75-16 4z"/>
<path color="#3081a6" d="M6595 524l17 4 9 53-17-3z"/>
<path color="#358e9f" d="M5394 508l15 6 19 57-14-5z"/>
<path color="#511da0" d="M5712 708l14-9 16-8-15 12z"/>
<path color="#823a17" d="M6009 285l15 3 12 128-16-10z"/>
<path color="#3a9bc8" d="M6551 588l16 4 11-71-16-4z"/>
<path color="#41adbb" d="M5353 575l15 4 12-77-15-5z"/>
<path color="#dedede" d="M5957 278l16 3 4-2-15-3z"/>
<path color="#96581b" d="M5878 432l14-25 12-114-13 76z"/>
<path color="#dedede" d="M5933 280l16 3 8-5-15-3z"/>
<path color="#2f7e8e" d="M6403 509l17 1 10 69-16-3z"/>
<path color="#358da3" d="M5409 514l15 7 19 56-15-6z"/>
<path color="#3081a6" d="M6612 528l17 3 9 54-17-4z"/>
<path color="#891d19" d="M5904 293l15-6 14-7-14 71z"/>
<path color="#368fa6" d="M6359 585l17 0 11-76-17 1z"/>
<path color="#843f17" d="M6024 288l16 3 12 140-16-15z"/>
<path color="#3a9bc8" d="M6567 592l17 3 11-71-17-3z"/>
<path color="#41adbe" d="M5368 579l14 5 12-76-14-6z"/>
<path color="#5055e9" d="M6156 623l16 49 9 6-16-39z"/>
<path color="#dedede" d="M5973 281l15 3 5-2-16-3z"/>
<path color="#3e7adb" d="M6139 573l17 50 9 16-17-38z"/>
<path color="#dedede" d="M5949 283l15 3 9-5-16-3z"/>
<path color="#30808d" d="M6420 510l16 2 11 70-17-3z"/>
<path color="#358da9" d="M5424 521l14 7 19 55-14-6z"/>
<path color="#3b2188" d="M5726 699l14-34 16 3-14 23z"/>
<path color="#429f80" d="M6106 468l17 54 9 43-16-34z"/>
<path color="#3081a6" d="M6629 531l17 4 9 54-17-4z"/>
<path color="#874818" d="M6040 291l16 3 12 156-16-19z"/>
<path color="#3998a8" d="M6376 585l16 1 11-77-16 0z"/>
<path color="#3a9bc8" d="M6584 595l17 4 11-71-17-4z"/>
<path color="#41acc3" d="M5382 584l15 6 12-76-15-6z"/>
<path color="#9f9127" d="M6072 341l17 67 11 93-16-28z"/>
<path color="#92601c" d="M6056 294l16 47 12 132-16-23z"/>
<path color="#dedede" d="M5988 284l16 3 5-2-16-3z"/>
<path color="#9a371a" d="M5892 407l15-20 12-100-15 6z"/>
<path color="#dedede" d="M5919 287l16 3 14-7-16-3z"/>
<path color="#dedede" d="M5964 286l16 3 8-5-15-3z"/>
<path color="#358cb0" d="M5438 528l15 8 19 54-15-7z"/>
<path color="#31828d" d="M6436 512l17 3 10 70-16-3z"/>
<path color="#5060f7" d="M6151 638l17 43 4-9-16-49z"/>
<path color="#3081a6" d="M6646 535l17 3 8 54-16-3z"/>
<path color="#438ef0" d="M6135 594l16 44 5-15-17-50z"/>
<path color="#3c9fab" d="M6392 586l17 3 11-79-17-1z"/>
<path color="#41acc8" d="M5397 590l15 5 12-74-15-7z"/>
<path color="#3a9bc8" d="M6601 599l17 4 11-72-17-3z"/>
<path color="#43b2d6" d="M6118 545l17 49 4-21-16-51z"/>
<path color="#dedede" d="M6004 287l16 4 4-3-15-3z"/>
<path color="#dedede" d="M5935 290l16 4 13-8-15-3z"/>
<path color="#dedede" d="M5980 289l16 3 8-5-16-3z"/>
<path color="#358cb6" d="M5453 536l15 9 19 52-15-7z"/>
<path color="#4878f4" d="M6127 631l17 33 7-26-16-44z"/>
<path color="#5a50f4" d="M6144 664l16 32 8-15-17-43z"/>
<path color="#419de9" d="M6111 592l16 39 8-37-17-49z"/>
<path color="#6fd374" d="M6102 490l16 55 5-23-17-54z"/>
<path color="#31828d" d="M6453 515l17 3 10 70-17-3z"/>
<path color="#a8321d" d="M5907 387l15-15 13-82-16-3z"/>
<path color="#3081a6" d="M6663 538l17 4 8 54-17-4z"/>
<path color="#49c2bb" d="M6095 545l16 47 7-47-16-55z"/>
<path color="#40abcf" d="M5412 595l14 6 12-73-14-7z"/>
<path color="#3ea4ac" d="M6409 589l16 2 11-79-16-2z"/>
<path color="#372485" d="M5714 709l13-41 13-3-14 34z"/>
<path color="#3a9bc8" d="M6618 603l17 4 11-72-17-4z"/>
<path color="#e1da3c" d="M6085 423l17 67 4-22-17-60z"/>
<path color="#dedede" d="M6020 291l15 3 5-3-16-3z"/>
<path color="#368bba" d="M5468 545l15 10 19 50-15-8z"/>
<path color="#9eda56" d="M6078 486l17 59 7-55-17-67z"/>
<path color="#dedede" d="M5951 294l15 3 14-8-16-3z"/>
<path color="#dedede" d="M5996 292l15 3 9-4-16-4z"/>
<path color="#6023be" d="M5685 722l15 4 14-17-15 1z"/>
<path color="#31838d" d="M6470 518l16 3 10 70-16-3z"/>
<path color="#40aad6" d="M5426 601l15 7 12-72-15-8z"/>
<path color="#b22e1f" d="M5922 372l16-9 13-69-16-4z"/>
<path color="#f57b2b" d="M6068 344l17 79 4-15-17-67z"/>
<path color="#3fa8ad" d="M6425 591l17 3 11-79-17-3z"/>
<path color="#3a9cc8" d="M6635 607l17 3 11-72-17-3z"/>
<path color="#ffc035" d="M6061 413l17 73 7-63-17-79z"/>
<path color="#dedede" d="M6035 294l16 3 5-3-16-3z"/>
<path color="#dedede" d="M5966 297l16 3 14-8-16-3z"/>
<path color="#4462e2" d="M6623 697l18 3 11-90-17-3z"/>
<path color="#dedede" d="M6011 295l16 3 8-4-15-3z"/>
<path color="#5454ee" d="M6131 643l16 44 13 9-16-32z"/>
<path color="#4378e7" d="M6114 597l17 46 13 21-17-33z"/>
<path color="#e53129" d="M6051 297l17 47 4-3-16-47z"/>
<path color="#32838c" d="M6486 521l17 3 10 71-17-4z"/>
<path color="#3d97d7" d="M6097 547l17 50 13 34-16-39z"/>
<path color="#40a9dc" d="M5441 608l15 7 12-70-15-9z"/>
<path color="#48baa3" d="M6081 488l16 59 14 45-16-47z"/>
<path color="#27687f" d="M6357 540l17 0 7 61-17-1z"/>
<path color="#ba2b21" d="M5938 363l15-3 13-63-15-3z"/>
<path color="#40aaae" d="M6442 594l16 4 12-80-17-3z"/>
<path color="#61641c" d="M5819 468l13-64 7 61-14 47z"/>
<path color="#3a9cc8" d="M6652 610l17 4 11-72-17-4z"/>
<path color="#fa4c2b" d="M6044 330l17 83 7-69-17-47z"/>
<path color="#3d228b" d="M5700 726l14-31 13-27-13 41z"/>
<path color="#e82c2b" d="M6027 298l17 32 7-33-16-3z"/>
<path color="#3690aa" d="M6337 596l16 0 4-56-16 2z"/>
<path color="#dedede" d="M5982 300l16 3 13-8-15-3z"/>
<path color="#4462e2" d="M6641 700l17 4 11-90-17-4z"/>
<path color="#a8cf47" d="M6063 418l18 70 14 57-17-59z"/>
<path color="#41a8e1" d="M5456 615l15 8 12-68-15-10z"/>
<path color="#32848c" d="M6503 524l17 4 10 71-17-4z"/>
<path color="#286b7e" d="M6374 540l16 1 7 63-16-3z"/>
<path color="#41abae" d="M6458 598l17 3 11-80-16-3z"/>
<path color="#c12c22" d="M5953 360l16 3 13-63-16-3z"/>
<path color="#dedede" d="M5998 303l16 3 13-8-16-3z"/>
<path color="#41a4e4" d="M5471 623l15 8 13-65-16-11z"/>
<path color="#797721" d="M5811 512l14-57 7-51-13 64z"/>
<path color="#358e8b" d="M5300 518l15 5 21 72-15-5z"/>
<path color="#32848c" d="M6520 528l17 3 10 71-17-3z"/>
<path color="#344faf" d="M6615 617l17 4 9 79-18-3z"/>
<path color="#c72e23" d="M5969 363l16 9 13-69-16-3z"/>
<path color="#41acaf" d="M6475 601l17 4 11-81-17-3z"/>
<path color="#296c7d" d="M6390 541l17 2 7 63-17-2z"/>
<path color="#441d8e" d="M5686 742l14-19 14-28-14 31z"/>
<path color="#e82c2b" d="M6014 306l16 3 14 21-17-32z"/>
<path color="#f8442b" d="M6030 309l16 27 15 77-17-83z"/>
<path color="#3ca0ac" d="M6370 597l16 2 4-58-16-1z"/>
<path color="#683bf1" d="M6134 683l16 49 14-2-17-43z"/>
<path color="#358d8d" d="M5315 523l15 6 21 71-15-5z"/>
<path color="#32848c" d="M6537 531l17 4 10 71-17-4z"/>
<path color="#79671b" d="M5867 351l15-31 15 220-15 7z"/>
<path color="#476aec" d="M6117 634l17 49 13 4-16-44z"/>
<path color="#344faf" d="M6632 621l17 4 9 79-17-4z"/>
<path color="#3e93e1" d="M6100 588l17 46 14 9-17-46z"/>
<path color="#744315" d="M5832 404l14-76 7 83-14 54z"/>
<path color="#cb3324" d="M5985 372l16 15 13-81-16-3z"/>
<path color="#631fbb" d="M5655 738l16 16 15-12-16-4z"/>
<path color="#41adaf" d="M6492 605l17 3 11-80-17-4z"/>
<path color="#44b5be" d="M6084 544l16 44 14 9-17-50z"/>
<path color="#296e7c" d="M6407 543l17 2 7 64-17-3z"/>
<path color="#79d569" d="M6067 503l17 41 13 3-16-59z"/>
<path color="#358c90" d="M5330 529l15 6 20 70-14-5z"/>
<path color="#3fa6ae" d="M6386 599l17 2 4-58-17-2z"/>
<path color="#32848c" d="M6554 535l17 3 10 72-17-4z"/>
<path color="#d94026" d="M6001 387l16 21 13-99-16-3z"/>
<path color="#e6e33e" d="M6050 467l17 36 14-15-18-70z"/>
<path color="#45b7ae" d="M5289 604l14 5 12-86-15-5z"/>
<path color="#362e8f" d="M5700 723l15-19 13-39-14 30z"/>
<path color="#7e621b" d="M5882 320l15 3 16 213-16 4z"/>
<path color="#d9a02d" d="M5991 456l16 17 10-65-16-21z"/>
<path color="#41adaf" d="M6509 608l17 4 11-81-17-3z"/>
<path color="#296e7c" d="M6424 545l17 3 6 65-16-4z"/>
<path color="#ffa431" d="M6034 435l16 32 13-49-17-82z"/>
<path color="#f85a2a" d="M6017 408l17 27 12-99-16-27z"/>
<path color="#358c94" d="M5345 535l14 6 21 70-15-6z"/>
<path color="#441b8a" d="M5671 754l14-32 15 1-14 19z"/>
<path color="#874018" d="M5825 455l13-70 8-57-14 76z"/>
<path color="#40aab0" d="M6403 601l17 3 4-59-17-2z"/>
<path color="#dec333" d="M6007 473l16 22 11-60-17-27z"/>
<path color="#32848c" d="M6571 538l18 4 9 71-17-3z"/>
<path color="#867c21" d="M5812 533l14-60 12-88-13 70z"/>
<path color="#6540f2" d="M6123 699l16 41 11-8-16-49z"/>
<path color="#45b7b1" d="M5303 609l15 5 12-85-15-6z"/>
<path color="#c9cf3a" d="M6023 495l17 26 10-54-16-32z"/>
<path color="#4971f6" d="M6106 659l17 40 11-16-17-49z"/>
<path color="#42aeaf" d="M6526 612l17 4 11-81-17-4z"/>
<path color="#82621b" d="M5897 323l16 3 15 209-15 1z"/>
<path color="#9bd856" d="M6040 521l16 30 11-48-17-36z"/>
<path color="#4199ec" d="M6089 621l17 38 11-25-17-46z"/>
<path color="#2a6f7b" d="M6441 548l17 3 6 65-17-3z"/>
<path color="#62d08e" d="M6056 551l17 33 11-40-17-41z"/>
<path color="#44b5d0" d="M6073 584l16 37 11-33-16-44z"/>
<path color="#358c99" d="M5359 541l15 8 21 68-15-6z"/>
<path color="#6a24ce" d="M5640 738l16 25 15-9-16-16z"/>
<path color="#41adb1" d="M6420 604l17 4 4-60-17-3z"/>
<path color="#32848c" d="M6589 542l17 4 9 71-17-4z"/>
<path color="#45b6b6" d="M5318 614l15 5 12-84-15-6z"/>
<path color="#42aeaf" d="M6543 616l17 4 11-82-17-3z"/>
<path color="#84621b" d="M5913 326l16 4 15 207-16-2z"/>
<path color="#49c3bb" d="M6024 599l17 21 15-69-16-30z"/>
<path color="#358c9f" d="M5374 549l15 8 20 66-14-6z"/>
<path color="#2a6f7b" d="M6458 551l17 4 6 65-17-4z"/>
<path color="#352986" d="M5685 722l14-32 16 14-15 19z"/>
<path color="#41acde" d="M6041 620l16 24 16-60-17-33z"/>
<path color="#42aeb1" d="M6437 608l16 3 5-60-17-3z"/>
<path color="#32848c" d="M6606 546l17 3 9 72-17-4z"/>
<path color="#419aeb" d="M6057 644l17 26 15-49-16-37z"/>
<path color="#45b6bb" d="M5333 619l14 6 12-84-14-6z"/>
<path color="#421c89" d="M5656 763l14-36 15-5-14 32z"/>
<path color="#467ff3" d="M6074 670l16 27 16-38-17-38z"/>
<path color="#841b18" d="M5838 385l14-61 9-5-15 9z"/>
<path color="#348ba6" d="M5389 557l16 9 19 65-15-8z"/>
<path color="#42aeaf" d="M6560 620l17 3 12-81-18-4z"/>
<path color="#85631c" d="M5929 330l16 3 15 210-16-6z"/>
<path color="#515ff7" d="M6090 697l17 28 16-26-17-40z"/>
<path color="#851a19" d="M5861 319l16 4 5-3-15 31z"/>
<path color="#2a6f7b" d="M6475 555l17 3 6 66-17-4z"/>
<path color="#6a39f0" d="M6107 725l16 29 16-14-16-41z"/>
<path color="#2f7d72" d="M6302 547l17-4 8 60-17 1z"/>
<path color="#295491" d="M5729 687l15-17 13-62-15 27z"/>
<path color="#42b0b1" d="M6453 611l17 4 5-60-17-4z"/>
<path color="#32848c" d="M6623 549l18 4 8 72-17-4z"/>
<path color="#904019" d="M5826 473l13-73 13-76-14 61z"/>
<path color="#44b5c1" d="M5347 625l15 6 12-82-15-8z"/>
<path color="#7027db" d="M5626 754l15 18 15-9-16-25z"/>
<path color="#348aaf" d="M5405 566l15 10 19 62-15-7z"/>
<path color="#283b86" d="M5699 690l14-30 16 27-14 17z"/>
<path color="#86661c" d="M5945 333l16 3 15 216-16-9z"/>
<path color="#42aeaf" d="M6577 623l17 4 12-81-17-4z"/>
<path color="#8d8323" d="M5812 522l15-19 12-103-13 73z"/>
<path color="#2a6f7b" d="M6492 558l17 4 6 65-17-3z"/>
<path color="#dedede" d="M5877 323l16 3 4-3-15-3z"/>
<path color="#dedede" d="M5852 324l16 4 9-5-16-4z"/>
<path color="#43b0b2" d="M6470 615l17 3 5-60-17-3z"/>
<path color="#44b4c8" d="M5362 631l15 6 12-80-15-8z"/>
<path color="#358470" d="M6319 543l16-2 9 62-17 0z"/>
<path color="#3e66d4" d="M6587 725l18 4 7-98-18-4z"/>
<path color="#399685" d="M6298 610l16-2 5-65-17 4z"/>
<path color="#3489b5" d="M5420 576l15 11 20 60-16-9z"/>
<path color="#2c2f80" d="M5670 727l14-42 15 5-14 32z"/>
<path color="#876b1d" d="M5961 336l17 4 14 225-16-13z"/>
<path color="#42aeaf" d="M6594 627l18 4 11-82-17-3z"/>
<path color="#451c8e" d="M5641 772l15-25 14-20-14 36z"/>
<path color="#2a6f7b" d="M6509 562l17 3 6 66-17-4z"/>
<path color="#dedede" d="M5893 326l15 3 5-3-16-3z"/>
<path color="#43b3d0" d="M5377 637l15 7 13-78-16-9z"/>
<path color="#8a7a20" d="M5978 340l17 49 13 192-16-16z"/>
<path color="#dedede" d="M5868 328l16 3 9-5-16-3z"/>
<path color="#43b1b2" d="M6487 618l18 4 4-60-17-4z"/>
<path color="#3587ba" d="M5435 587l16 13 19 56-15-9z"/>
<path color="#3e66d4" d="M6605 729l17 4 7-98-17-4z"/>
<path color="#3858bd" d="M6584 643l17 4 4 82-18-4z"/>
<path color="#2b738b" d="M5287 572l15 6 15 59-15-5z"/>
<path color="#254982" d="M5713 660l15-29 16 39-15 17z"/>
<path color="#429f82" d="M6314 608l17 0 4-67-16 2z"/>
<path color="#43b1c4" d="M5270 626l15 5 2-59-14-6z"/>
<path color="#96201b" d="M5839 400l14-64 15-8-16-4z"/>
<path color="#42aeaf" d="M6612 631l17 4 12-82-18-4z"/>
<path color="#2a707b" d="M6526 565l17 4 6 66-17-4z"/>
<path color="#42afd9" d="M5392 644l15 8 13-76-15-10z"/>
<path color="#dedede" d="M5908 329l16 4 5-3-16-4z"/>
<path color="#9d611d" d="M5827 503l15-16 11-151-14 64z"/>
<path color="#dedede" d="M5884 331l16 3 8-5-15-3z"/>
<path color="#43b1b2" d="M6505 622l17 4 4-61-17-3z"/>
<path color="#2b738e" d="M5302 578l15 6 15 59-15-6z"/>
<path color="#3858bd" d="M6601 647l18 4 3 82-17-4z"/>
<path color="#225b72" d="M6215 608l16-23 14 36-17 16z"/>
<path color="#3c8b6b" d="M6352 541l17 2 8 64-17-2z"/>
<path color="#49a881" d="M6331 608l17 1 4-68-17 0z"/>
<path color="#43b1c8" d="M5285 631l15 5 2-58-15-6z"/>
<path color="#23447a" d="M5684 685l14-41 15 16-14 30z"/>
<path color="#41abdf" d="M5407 652l16 9 12-74-15-11z"/>
<path color="#2a707b" d="M6543 569l18 4 6 66-18-4z"/>
<path color="#2e3086" d="M5656 747l14-36 14-26-14 42z"/>
<path color="#4b1c95" d="M5626 783l15-13 15-23-15 25z"/>
<path color="#dedede" d="M5924 333l16 3 5-3-16-3z"/>
<path color="#dedede" d="M5853 336l16 3 15-8-16-3z"/>
<path color="#dedede" d="M5900 334l16 3 8-4-16-4z"/>
<path color="#43b1b2" d="M6522 626l17 4 4-61-17-4z"/>
<path color="#2b7291" d="M5317 584l15 7 14 58-14-6z"/>
<path color="#3f8d69" d="M6369 543l17 2 8 65-17-3z"/>
<path color="#42b1cd" d="M5300 636l14 6 3-58-15-6z"/>
<path color="#41a6e2" d="M5423 661l15 9 13-70-16-13z"/>
<path color="#4eaf81" d="M6348 609l17 3 4-69-17-2z"/>
<path color="#a0491c" d="M5842 487l16-10 11-138-16-3z"/>
<path color="#2a707b" d="M6561 573l17 4 6 66-17-4z"/>
<path color="#296b67" d="M6231 585l17-17 13 43-16 10z"/>
<path color="#4ca675" d="M6041 522l17 62 5 35-17-48z"/>
<path color="#dedede" d="M5940 336l17 3 4-3-16-3z"/>
<path color="#2b7193" d="M5332 591l15 8 14 56-15-6z"/>
<path color="#dedede" d="M5869 339l16 3 15-8-16-3z"/>
<path color="#6822c7" d="M5595 770l16 18 15-5-15-8z"/>
<path color="#dedede" d="M5916 337l16 4 8-5-16-3z"/>
<path color="#43b2b2" d="M6539 630l17 4 5-61-18-4z"/>
<path color="#28658a" d="M6204 678l17-14 10-79-16 23z"/>
<path color="#41a1e6" d="M5438 670l15 11 13-67-15-14z"/>
<path color="#408e68" d="M6386 545l17 3 8 65-17-3z"/>
<path color="#a1af32" d="M6023 451l18 71 5 49-17-54z"/>
<path color="#42b0d2" d="M5314 642l15 6 3-57-15-7z"/>
<path color="#4487f1" d="M6067 664l17 45 8-16-17-53z"/>
<path color="#52b481" d="M6365 612l17 2 4-69-17-2z"/>
<path color="#39278b" d="M5641 770l15-24 14-35-14 36z"/>
<path color="#2a707b" d="M6578 577l18 4 5 66-17-4z"/>
<path color="#41acdd" d="M6050 615l17 49 8-24-17-56z"/>
<path color="#b74b1f" d="M5858 477l15-6 12-129-16-3z"/>
<path color="#dedede" d="M5957 339l16 3 5-2-17-4z"/>
<path color="#2b7196" d="M5347 599l16 8 13 55-15-7z"/>
<path color="#419beb" d="M5453 681l16 11 13-62-16-16z"/>
<path color="#dedede" d="M5885 342l16 4 15-9-16-3z"/>
<path color="#dedede" d="M5932 341l16 3 9-5-17-3z"/>
<path color="#43b2b2" d="M6556 634l18 3 4-60-17-4z"/>
<path color="#4d56e6" d="M5448 757l15 6 6-71-16-11z"/>
<path color="#501c9d" d="M5611 788l15-11 15-7-15 13z"/>
<path color="#bf7723" d="M6006 367l17 84 6 66-17-61z"/>
<path color="#367e62" d="M6248 568l17-10 13 47-17 6z"/>
<path color="#6ad17d" d="M6033 558l17 57 8-31-17-62z"/>
<path color="#42afd9" d="M5329 648l15 7 3-56-15-8z"/>
<path color="#418f68" d="M6403 548l17 3 8 65-17-3z"/>
<path color="#931d1b" d="M5973 342l16 4 6 43-17-49z"/>
<path color="#4174df" d="M6562 740l17 4 12-103-17-4z"/>
<path color="#55b780" d="M6382 614l17 4 4-70-17-3z"/>
<path color="#9d2d1b" d="M5989 346l17 21 6 89-17-67z"/>
<path color="#2a707b" d="M6596 581l17 3 6 67-18-4z"/>
<path color="#2b7282" d="M6221 664l17-9 10-87-17 17z"/>
<path color="#2c719a" d="M5363 607l15 9 14 54-16-8z"/>
<path color="#c24a21" d="M5873 471l16-1 12-124-16-4z"/>
<path color="#4973f6" d="M6054 703l17 35 13-29-17-45z"/>
<path color="#e1dc3c" d="M6016 491l17 67 8-36-18-71z"/>
<path color="#4199ec" d="M6037 663l17 40 13-39-17-49z"/>
<path color="#dedede" d="M5901 346l16 3 15-8-16-4z"/>
<path color="#dedede" d="M5948 344l16 3 9-5-16-3z"/>
<path color="#43b2b2" d="M6574 637l17 4 5-60-18-4z"/>
<path color="#b97723" d="M5844 437l16-8 13 42-15 6z"/>
<path color="#41acde" d="M5344 655l16 7 3-55-16-8z"/>
<path color="#47bcc5" d="M6020 616l17 47 13-48-17-57z"/>
<path color="#419067" d="M6420 551l18 3 7 66-17-4z"/>
<path color="#458e5c" d="M6265 558l16-6 14 50-17 3z"/>
<path color="#4174df" d="M6579 744l18 4 12-103-18-4z"/>
<path color="#a58824" d="M5816 527l16-11 12-79-15 14z"/>
<path color="#2d719f" d="M5378 616l15 11 14 51-15-8z"/>
<path color="#56b980" d="M6399 618l17 3 4-70-17-3z"/>
<path color="#8cd75f" d="M6003 556l17 60 13-58-17-67z"/>
<path color="#3a2287" d="M5626 777l14-36 16 5-15 24z"/>
<path color="#cc4d22" d="M5889 470l16 5 12-126-16-3z"/>
<path color="#fb762c" d="M5998 412l18 79 7-40-17-84z"/>
<path color="#dedede" d="M5917 349l17 3 14-8-16-3z"/>
<path color="#dedede" d="M5964 347l16 4 9-5-16-4z"/>
<path color="#43b2b2" d="M6591 641l18 4 4-61-17-3z"/>
<path color="#41a9e0" d="M5360 662l15 8 3-54-15-9z"/>
<path color="#308079" d="M6238 655l16-5 11-92-17 10z"/>
<path color="#cd7825" d="M5860 429l16-2 13 43-16 1z"/>
<path color="#429067" d="M6438 554l17 3 7 67-17-4z"/>
<path color="#eb312b" d="M5980 351l18 61 8-45-17-21z"/>
<path color="#fcce37" d="M5985 483l18 73 13-65-18-79z"/>
<path color="#5721af" d="M5596 791l15-1 15-13-15 11z"/>
<path color="#519b57" d="M6281 552l17-3 13 52-16 1z"/>
<path color="#58bb80" d="M6416 621l17 4 5-71-18-3z"/>
<path color="#d35324" d="M5905 475l17 10 12-133-17-3z"/>
<path color="#41a6e3" d="M5375 670l15 8 3-51-15-11z"/>
<path color="#b28124" d="M5832 516l16-6 12-81-16 8z"/>
<path color="#dedede" d="M5934 352l16 4 14-9-16-3z"/>
<path color="#4566e7" d="M5359 760l16 6 15-88-15-8z"/>
<path color="#2f70ab" d="M5409 638l15 13 14 46-16-10z"/>
<path color="#ed882b" d="M5876 427l16 4 13 44-16-5z"/>
<path color="#429066" d="M6455 557l17 4 8 66-18-3z"/>
<path color="#398b72" d="M6254 650l17-3 10-95-16 6z"/>
<path color="#3e92e2" d="M6022 642l17 39 15 22-17-40z"/>
<path color="#2f5ca4" d="M6549 643l18 4 12 97-17-4z"/>
<path color="#41accb" d="M6005 606l17 36 15 21-17-47z"/>
<path color="#27528b" d="M5670 723l15-23 13-59-14 34z"/>
<path color="#4572ec" d="M6039 681l18 41 14 16-17-35z"/>
<path color="#f8552a" d="M5967 398l18 85 13-71-18-61z"/>
<path color="#64ce87" d="M5988 573l17 33 15 10-17-60z"/>
<path color="#58bc80" d="M6433 625l17 3 5-71-17-3z"/>
<path color="#df5f26" d="M5922 485l16 15 12-144-16-4z"/>
<path color="#e92d2b" d="M5950 356l17 42 13-47-16-4z"/>
<path color="#41a2e6" d="M5390 678l15 9 4-49-16-11z"/>
<path color="#5aa554" d="M6298 549l17-1 13 54-17-1z"/>
<path color="#293886" d="M5640 741l14-36 16 18-14 23z"/>
<path color="#c2e146" d="M5971 544l17 29 15-17-18-73z"/>
<path color="#4764ea" d="M5375 766l15 6 15-85-15-9z"/>
<path color="#c58326" d="M5848 510l15-2 13-81-16 2z"/>
<path color="#ffcc38" d="M5955 520l16 24 14-61-18-85z"/>
<path color="#ff9c30" d="M5892 431l16 10 14 44-17-10z"/>
<path color="#f5802c" d="M5938 500l17 20 12-122-17-42z"/>
<path color="#362584" d="M5611 790l13-44 16-5-14 36z"/>
<path color="#429066" d="M6472 561l18 4 7 66-17-4z"/>
<path color="#2f5ca4" d="M6567 647l18 4 12 97-18-4z"/>
<path color="#43956d" d="M6271 647l17 0 10-98-17 3z"/>
<path color="#419de9" d="M5405 687l16 11 3-47-15-13z"/>
<path color="#59bc80" d="M6450 628l18 4 4-71-17-4z"/>
<path color="#4961ed" d="M5390 772l15 6 16-80-16-11z"/>
<path color="#62ab52" d="M6315 548l18 0 12 55-17-1z"/>
<path color="#6023be" d="M5580 804l16 5 15-19-15 1z"/>
<path color="#205173" d="M6175 657l16-26 5 46-16 17z"/>
<path color="#e1922b" d="M5863 508l17 4 12-81-16-4z"/>
<path color="#4198ed" d="M5421 698l16 11 3-43-16-15z"/>
<path color="#429066" d="M6490 565l17 3 7 67-17-4z"/>
<path color="#ffc937" d="M5925 457l17 22 13 41-17-20z"/>
<path color="#4d5def" d="M5405 778l15 7 17-76-16-11z"/>
<path color="#4b9e6a" d="M6288 647l17 1 10-100-17 1z"/>
<path color="#59bd80" d="M6468 632l17 4 5-71-18-4z"/>
<path color="#244981" d="M5654 705l14-35 17 30-15 23z"/>
<path color="#68ae52" d="M6333 548l17 2 12 56-17-3z"/>
<path color="#438ef0" d="M5437 709l15 13 4-40-16-16z"/>
<path color="#275f8d" d="M6167 716l17-16 7-69-16 26z"/>
<path color="#f6a430" d="M5880 512l16 8 12-79-16-10z"/>
<path color="#d1e340" d="M5958 507l18 33 12 33-17-29z"/>
<path color="#429066" d="M6507 568l18 4 7 67-18-4z"/>
<path color="#3c228a" d="M5596 809l14-35 14-28-13 44z"/>
<path color="#3f8ae4" d="M6027 664l18 47 12 11-18-41z"/>
<path color="#5258f2" d="M5420 785l16 7 16-70-15-13z"/>
<path color="#601fb7" d="M5572 817l15 2 9-10-16-5z"/>
<path color="#253d7e" d="M5624 746l14-46 16 5-14 36z"/>
<path color="#3ea4d2" d="M6010 619l17 45 12 17-17-39z"/>
<path color="#53c49a" d="M5993 578l17 41 12 23-17-36z"/>
<path color="#59bd80" d="M6485 636l18 4 4-72-17-3z"/>
<path color="#4583f2" d="M5452 722l16 14 4-36-16-18z"/>
<path color="#235d6f" d="M6191 631l17-19 5 54-17 11z"/>
<path color="#51a468" d="M6305 648l17 2 11-102-18 0z"/>
<path color="#ffbc34" d="M5896 520l16 13 13-76-17-16z"/>
<path color="#6cb051" d="M6350 550l17 3 13 56-18-3z"/>
<path color="#8ada62" d="M5884 623l17 10 11-100-16-13z"/>
<path color="#2b7274" d="M5700 680l15-19 12-79-15 28z"/>
<path color="#429066" d="M6525 572l17 4 7 67-17-4z"/>
<path color="#5952f4" d="M5436 792l15 7 17-63-16-14z"/>
<path color="#3e81df" d="M6512 760l18 4 8-116-18-4z"/>
<path color="#ffd739" d="M5912 533l17 18 13-72-17-22z"/>
<path color="#225678" d="M5668 670l15-35 17 45-15 20z"/>
<path color="#5abd80" d="M6503 640l17 4 5-72-18-4z"/>
<path color="#286a8a" d="M6184 700l16-10 8-78-17 19z"/>
<path color="#75d76f" d="M5901 633l16 13 12-95-17-18z"/>
<path color="#55a866" d="M6322 650l17 3 11-103-17-2z"/>
<path color="#6fb251" d="M6367 553l17 3 13 56-17-3z"/>
<path color="#421d8c" d="M5587 819l15-23 8-22-14 35z"/>
<path color="#efe33d" d="M5929 551l17 23 12-67-16-28z"/>
<path color="#5e4af3" d="M5451 799l16 8 17-56-16-15z"/>
<path color="#2b716d" d="M6208 612l17-12 5 58-17 8z"/>
<path color="#429166" d="M6542 576l18 4 7 67-18-4z"/>
<path color="#c5e245" d="M5946 574l17 26 13-60-18-33z"/>
<path color="#3f81df" d="M6530 764l17 5 8-117-17-4z"/>
<path color="#63d18b" d="M5917 646l17 15 12-87-17-23z"/>
<path color="#83da66" d="M5963 600l17 30 13-52-17-38z"/>
<path color="#5abd80" d="M6520 644l18 4 4-72-17-4z"/>
<path color="#53cba6" d="M5980 630l17 34 13-45-17-41z"/>
<path color="#4291ef" d="M6014 700l17 38 14-27-18-47z"/>
<path color="#41acde" d="M5997 664l17 36 13-36-17-45z"/>
<path color="#215175" d="M5638 700l14-48 16 18-14 35z"/>
<path color="#3b7f58" d="M5715 661l15-16 12-88-15 25z"/>
<path color="#57ab65" d="M6339 653l18 3 10-103-17-3z"/>
<path color="#4a4dd5" d="M5404 731l16 12 16 49-16-7z"/>
<path color="#4dc8b0" d="M5934 661l17 19 12-80-17-26z"/>
<path color="#71b351" d="M6384 556l18 3 12 57-17-4z"/>
<path color="#401c86" d="M5580 823l14-38 8 11-15 23z"/>
<path color="#2d767f" d="M6200 690l17-7 8-83-17 12z"/>
<path color="#429166" d="M6560 580l18 4 7 67-18-4z"/>
<path color="#3f81df" d="M6547 769l18 4 8-117-18-4z"/>
<path color="#44b6cf" d="M5951 680l17 21 12-71-17-30z"/>
<path color="#256266" d="M5683 635l14-34 18 60-15 19z"/>
<path color="#35836c" d="M6225 600l17-7 5 61-17 4z"/>
<path color="#5abd80" d="M6538 648l17 4 5-72-18-4z"/>
<path color="#4f48d9" d="M5420 743l16 13 15 43-15-7z"/>
<path color="#285e94" d="M6502 635l18 4 10 125-18-4z"/>
<path color="#41a4e4" d="M5968 701l16 23 13-60-17-34z"/>
<path color="#59ad64" d="M6357 656l17 3 10-103-17-3z"/>
<path color="#31318b" d="M5602 796l14-25 8-32-14 35z"/>
<path color="#72b350" d="M6402 559l17 3 13 57-18-3z"/>
<path color="#4291ef" d="M5984 724l17 25 13-49-17-36z"/>
<path color="#4875f5" d="M6001 749l17 26 13-37-17-38z"/>
<path color="#32847a" d="M6217 683l17-3 8-87-17 7z"/>
<path color="#5643dc" d="M5436 756l16 15 15 36-16-8z"/>
<path color="#3d1d84" d="M5570 832l14-51 10 4-14 38z"/>
<path color="#5abd80" d="M6555 652l18 4 5-72-18-4z"/>
<path color="#285e94" d="M6520 639l17 4 10 126-17-5z"/>
<path color="#429169" d="M6242 593l17-4 5 64-17 1z"/>
<path color="#5aae64" d="M6374 659l17 4 11-104-18-3z"/>
<path color="#72b450" d="M6419 562l18 4 12 57-17-4z"/>
<path color="#256158" d="M5652 652l14-53 17 36-15 35z"/>
<path color="#2c2d7e" d="M5594 785l14-39 8 25-14 25z"/>
<path color="#326a47" d="M5697 601l15-33 18 77-15 16z"/>
<path color="#3a8e75" d="M6234 680l17-1 8-90-17 4z"/>
<path color="#285e94" d="M6537 643l18 4 10 126-18-4z"/>
<path color="#3e1d87" d="M5565 839l14-44 5-14-14 51z"/>
<path color="#4b9c66" d="M6259 589l17-2 5 66-17 0z"/>
<path color="#5baf64" d="M6391 663l18 4 10-105-17-3z"/>
<path color="#3157a8" d="M5387 730l15 13 18 0-16-12z"/>
<path color="#631fba" d="M5530 842l16 10 19-13-16-18z"/>
<path color="#73b450" d="M6437 566l18 4 12 57-18-4z"/>
<path color="#ffe33c" d="M5138 471l21 100 17-21-16-24z"/>
<path color="#22497a" d="M6128 716l17-27 12 41-17 16z"/>
<path color="#3555b2" d="M5402 743l16 14 18-1-16-13z"/>
<path color="#429772" d="M6251 679l18 0 7-92-17 2z"/>
<path color="#4272e3" d="M5987 708l17 39 14 28-17-26z"/>
<path color="#5baf63" d="M6409 667l17 4 11-105-18-4z"/>
<path color="#243579" d="M5584 781l13-51 11 16-14 39z"/>
<path color="#73b450" d="M6455 570l17 3 12 58-17-4z"/>
<path color="#233e78" d="M5608 746l14-39 9 37-15 27z"/>
<path color="#3953bf" d="M5418 757l17 15 17-1-16-15z"/>
<path color="#49672a" d="M5666 599l13-62 18 64-14 34z"/>
<path color="#3e1b83" d="M5546 852l14-43 19-14-14 44z"/>
<path color="#5cb063" d="M6426 671l18 4 11-105-18-4z"/>
<path color="#489e70" d="M6269 679l17 2 7-93-17-1z"/>
<path color="#e8d439" d="M5168 484l22 104 17-25-17-25z"/>
<path color="#d8d73b" d="M5127 588l16 11 16-28-21-100z"/>
<path color="#73b450" d="M6472 573l18 4 12 58-18-4z"/>
<path color="#245981" d="M5631 744l14-33 7-54-14 44z"/>
<path color="#56a862" d="M6293 588l18 1 4 69-17-3z"/>
<path color="#215377" d="M6145 689l17-21 12 51-17 11z"/>
<path color="#424eca" d="M5435 772l16 17 17-3-16-15z"/>
<path color="#273980" d="M5579 795l13-43 5-22-13 51z"/>
<path color="#5aa657" d="M5122 636l15 6 6-43-16-11z"/>
<path color="#285490" d="M6116 773l16-17 13-67-17 27z"/>
<path color="#45ab8f" d="M5113 653l15 6 9-17-15-6z"/>
<path color="#4f46d5" d="M5451 789l16 18 17-4-16-17z"/>
<path color="#5cb063" d="M6444 675l18 4 10-106-17-3z"/>
<path color="#c4c637" d="M5143 599l14 0 11-115-9 87z"/>
<path color="#74b450" d="M6490 577l18 4 12 58-18-4z"/>
<path color="#4ca26e" d="M6286 681l17 3 8-95-18-1z"/>
<path color="#bc8726" d="M5868 471l17 20 16 69-17-17z"/>
<path color="#59ab60" d="M6311 589l17 3 5 68-18-2z"/>
<path color="#1f4d6e" d="M5622 707l14-42 9 46-14 33z"/>
<path color="#58a458" d="M5137 642l15 5 5-48-14 0z"/>
<path color="#1f4a6f" d="M5597 730l14-49 11 26-14 39z"/>
<path color="#24617c" d="M6162 668l17-14 12 58-17 7z"/>
<path color="#44ab91" d="M5128 659l15 5 9-17-15-5z"/>
<path color="#273580" d="M5560 809l13-51 19-6-13 43z"/>
<path color="#bbc336" d="M5157 599l16 12 17-23-22-104z"/>
<path color="#5cb063" d="M6462 679l17 4 11-106-18-4z"/>
<path color="#3b1c80" d="M5533 858l13-54 14 5-14 43z"/>
<path color="#74641a" d="M5679 537l13-75 20 106-15 33z"/>
<path color="#b3b131" d="M5902 518l17 32 16 58-17-26z"/>
<path color="#74b450" d="M6508 581l18 4 11 58-17-4z"/>
<path color="#4fa56d" d="M6303 684l18 3 7-95-17-3z"/>
<path color="#d6bd32" d="M5198 488l21 85 18-1-17-23z"/>
<path color="#5bad5f" d="M6328 592l18 3 4 69-17-4z"/>
<path color="#40a9b1" d="M5096 685l15 5 17-31-15-6z"/>
<path color="#57a55c" d="M5152 647l16 6 5-42-16-12z"/>
<path color="#8db440" d="M5919 550l18 37 15 51-17-30z"/>
<path color="#286390" d="M6132 756l17-12 13-76-17 21z"/>
<path color="#4172e1" d="M5990 723l17 52 15 13-18-41z"/>
<path color="#3a8fce" d="M5972 675l18 48 14 24-17-39z"/>
<path color="#3ea4a7" d="M5954 629l18 46 15 33-18-36z"/>
<path color="#42ab95" d="M5143 664l15 6 10-17-16-6z"/>
<path color="#aab132" d="M5173 611l15 0 10-123-8 100z"/>
<path color="#5cb063" d="M6479 683l18 4 11-106-18-4z"/>
<path color="#74b450" d="M6526 585l18 4 11 58-18-4z"/>
<path color="#3c60cb" d="M5416 749l17 22 18 18-16-17z"/>
<path color="#51a76c" d="M6321 687l17 3 8-95-18-3z"/>
<path color="#40a9b3" d="M5111 690l15 5 17-31-15-5z"/>
<path color="#55a560" d="M5168 653l15 6 5-48-15 0z"/>
<path color="#5cae5e" d="M6346 595l17 3 5 70-18-4z"/>
<path color="#ff842e" d="M5837 512l17 12 14-53-17-14z"/>
<path color="#235e56" d="M5636 665l15-45 8 48-14 43z"/>
<path color="#4458da" d="M5433 771l16 23 18 13-16-18z"/>
<path color="#225a58" d="M5611 681l14-47 11 31-14 42z"/>
<path color="#41ab99" d="M5158 670l15 6 10-17-15-6z"/>
<path color="#3f7ede" d="M6482 810l18 4 15-123-18-4z"/>
<path color="#2a6d8f" d="M6149 744l17-7 13-83-17 14z"/>
<path color="#ff9c30" d="M5854 524l17 18 14-51-17-20z"/>
<path color="#5cb063" d="M6497 687l18 4 11-106-18-4z"/>
<path color="#b0b131" d="M5188 611l15 12 16-50-21-85z"/>
<path color="#f6e03c" d="M5229 496l20 87 19 5-17-24z"/>
<path color="#40a9b6" d="M5126 695l16 6 16-31-15-6z"/>
<path color="#51a161" d="M5183 659l15 7 5-43-15-12z"/>
<path color="#52a86b" d="M6338 690l18 4 7-96-17-3z"/>
<path color="#544ae3" d="M5449 794l17 25 18 7-17-19z"/>
<path color="#307e7c" d="M6196 646l17-5 12 66-17 1z"/>
<path color="#5dae5e" d="M6363 598l18 3 4 70-17-3z"/>
<path color="#214d77" d="M5573 758l14-49 19 1-14 42z"/>
<path color="#381e7f" d="M5517 866l12-61 17-1-13 54z"/>
<path color="#733d15" d="M5692 462l15-45 20 118-15 33z"/>
<path color="#ffbc35" d="M5871 542l17 23 14-47-17-27z"/>
<path color="#41ab9d" d="M5173 676l16 6 9-16-15-7z"/>
<path color="#233976" d="M5546 804l12-76 15 30-13 51z"/>
<path color="#3f7ede" d="M6500 814l18 4 15-123-18-4z"/>
<path color="#dad73b" d="M5249 583l12-46 22 51-15 0z"/>
<path color="#ffe33c" d="M5888 565l18 28 13-43-17-32z"/>
<path color="#276761" d="M5606 710l14-40 5-36-14 47z"/>
<path color="#4586f1" d="M5976 746l18 45 13-16-17-52z"/>
<path color="#5cb063" d="M6515 691l18 4 11-106-18-4z"/>
<path color="#bbbe35" d="M5203 623l16 2 10-129-10 77z"/>
<path color="#4fa167" d="M5198 666l15 7 6-48-16-2z"/>
<path color="#d3e340" d="M5906 593l17 33 14-39-18-37z"/>
<path color="#40a9ba" d="M5142 701l15 5 16-30-15-6z"/>
<path color="#41a8e1" d="M5958 703l18 43 14-23-18-48z"/>
<path color="#2f7e8f" d="M6166 737l18-4 12-87-17 8z"/>
<path color="#53a96b" d="M6356 694l17 4 8-97-18-3z"/>
<path color="#88da63" d="M5923 626l18 36 13-33-17-42z"/>
<path color="#50caab" d="M5941 662l17 41 14-28-18-46z"/>
<path color="#5d24bd" d="M5483 845l17 26 17-5-17-20z"/>
<path color="#5eaf5d" d="M6381 601l18 4 4 70-18-4z"/>
<path color="#34897d" d="M6213 641l17-2 12 68-17 0z"/>
<path color="#40aba3" d="M5189 682l15 7 9-16-15-7z"/>
<path color="#90db5f" d="M5876 659l17 20 13-86-18-28z"/>
<path color="#3c61ca" d="M5427 764l17 26 5 4-16-23z"/>
<path color="#d8d43a" d="M5261 537l18 41 20 28-16-18z"/>
<path color="#c5cc39" d="M5219 625l15 14 15-56-20-87z"/>
<path color="#4c692a" d="M5651 620l14-51 8 44-14 55z"/>
<path color="#4ca16e" d="M5213 673l16 8 5-42-15-14z"/>
<path color="#42672e" d="M5625 634l14-43 12 29-15 45z"/>
<path color="#3fa9be" d="M5157 706l15 7 17-31-16-6z"/>
<path color="#68d284" d="M5893 679l17 24 13-77-17-33z"/>
<path color="#4755da" d="M5444 790l17 26 5 3-17-25z"/>
<path color="#762a14" d="M5707 417l16 3 19 85-15 30z"/>
<path color="#54aa6b" d="M6373 698l18 4 8-97-18-4z"/>
<path color="#5eaf5d" d="M6399 605l18 4 4 70-18-4z"/>
<path color="#2c5f9d" d="M6474 692l19 4 7 118-18-4z"/>
<path color="#4ac4b8" d="M5910 703l18 27 13-68-18-36z"/>
<path color="#358c8e" d="M6184 733l17-2 12-90-17 5z"/>
<path color="#cede3f" d="M5279 578l15-4 21 42-16-10z"/>
<path color="#40aaa9" d="M5204 689l16 8 9-16-16-8z"/>
<path color="#39907b" d="M6230 639l18 0 12 70-18-2z"/>
<path color="#41aadf" d="M5928 730l17 29 13-56-17-41z"/>
<path color="#245f61" d="M5587 709l14-47 19 8-14 40z"/>
<path color="#afc73c" d="M5234 639l16 6 11-108-12 46z"/>
<path color="#4195ee" d="M5945 759l18 31 13-44-18-43z"/>
<path color="#9ddd59" d="M5294 574l20 79 17-10-16-27z"/>
<path color="#362180" d="M5500 871l13-57 16-9-12 61z"/>
<path color="#48a278" d="M5229 681l16 8 5-44-16-6z"/>
<path color="#3fa8c4" d="M5172 713l16 7 16-31-15-7z"/>
<path color="#54aa6b" d="M6391 702l18 4 8-97-18-4z"/>
<path color="#5eaf5d" d="M6417 609l18 4 4 70-18-4z"/>
<path color="#396ec8" d="M5414 744l17 33 13 13-17-26z"/>
<path color="#2c5f9d" d="M6493 696l18 4 7 118-18-4z"/>
<path color="#40a9b1" d="M5220 697l15 9 10-17-16-8z"/>
<path color="#1e4f65" d="M5558 728l13-74 16 55-14 49z"/>
<path color="#1f4370" d="M5529 805l11-107 18 30-12 76z"/>
<path color="#39968d" d="M6201 731l17 0 12-92-17 2z"/>
<path color="#3c9479" d="M6248 639l18 1 11 72-17-3z"/>
<path color="#7c2216" d="M5723 420l17 4 17 56-15 25z"/>
<path color="#4161da" d="M5431 777l17 29 13 10-17-26z"/>
<path color="#aec43a" d="M5250 645l16 13 13-80-18-41z"/>
<path color="#43a081" d="M5245 689l15 10 6-41-16-13z"/>
<path color="#3fa8ca" d="M5188 720l15 7 17-30-16-8z"/>
<path color="#544ce5" d="M5448 806l18 36 12 2-17-28z"/>
<path color="#54aa6a" d="M6409 706l18 4 8-97-18-4z"/>
<path color="#3fa8bb" d="M5235 706l16 9 9-16-15-10z"/>
<path color="#602dd0" d="M5466 842l17 32 12-1-17-29z"/>
<path color="#5eb05d" d="M6435 613l18 4 3 71-17-5z"/>
<path color="#75701e" d="M5639 591l15-39 11 17-14 51z"/>
<path color="#a9d74d" d="M5266 658l16 11 12-95-15 4z"/>
<path color="#362382" d="M5495 873l13-54 5-5-13 57z"/>
<path color="#7bd164" d="M5326 602l19 48 19 22-17-24z"/>
<path color="#3da190" d="M5260 699l16 11 6-41-16-11z"/>
<path color="#80671c" d="M5665 569l14-58 8 31-14 71z"/>
<path color="#3f9678" d="M6266 640l17 3 12 72-18-3z"/>
<path color="#3da18f" d="M6218 731l18 2 12-94-18 0z"/>
<path color="#7cd869" d="M5282 669l16 18 16-34-20-79z"/>
<path color="#3fa7d3" d="M5203 727l16 8 16-29-15-9z"/>
<path color="#3e6c34" d="M5601 662l14-43 20 15-15 36z"/>
<path color="#831d17" d="M5740 424l16 4 17 34-16 18z"/>
<path color="#65cf85" d="M5345 650l15-7 20 46-16-17z"/>
<path color="#3fa6c7" d="M5251 715l16 10 9-15-16-11z"/>
<path color="#54aa6a" d="M6427 710l18 5 8-98-18-4z"/>
<path color="#3c8ddb" d="M5929 712l18 45 16 33-18-31z"/>
<path color="#5fb05d" d="M6453 617l18 4 3 71-18-4z"/>
<path color="#3ea5a4" d="M5276 710l16 12 6-35-16-18z"/>
<path color="#4472e8" d="M5947 757l18 45 15 20-17-32z"/>
<path color="#3d74d5" d="M6432 842l18 5 13-128-18-4z"/>
<path color="#49c1b1" d="M5360 643l19 66 18 12-17-32z"/>
<path color="#64c473" d="M5298 687l16 11 12-96-12 51z"/>
<path color="#382486" d="M5483 874l14-39 11-16-13 54z"/>
<path color="#3fa9da" d="M5379 709l16 9 19 26-17-23z"/>
<path color="#419877" d="M6283 643l18 3 11 72-17-3z"/>
<path color="#3fa7d9" d="M5219 735l15 9 17-29-16-9z"/>
<path color="#42a88f" d="M6236 733l17 2 13-95-18-1z"/>
<path color="#861a19" d="M5693 460l15-31 15-9-16-3z"/>
<path color="#3ea5d4" d="M5267 725l16 12 9-15-16-12z"/>
<path color="#4099e8" d="M5395 718l18 54 18 5-17-33z"/>
<path color="#3ca0b2" d="M5292 722l16 13 6-37-16-11z"/>
<path color="#457ff0" d="M5413 772l17 19 18 15-17-29z"/>
<path color="#365f2f" d="M5571 654l13-71 17 79-14 47z"/>
<path color="#55ab6a" d="M6445 715l18 4 8-98-18-4z"/>
<path color="#5fb05d" d="M6471 621l18 4 4 71-19-4z"/>
<path color="#4e61f6" d="M5430 791l19 57 17-6-18-36z"/>
<path color="#1e4b6d" d="M5513 814l9-139 18 23-11 107z"/>
<path color="#3d74d5" d="M6450 847l18 4 13-128-18-4z"/>
<path color="#693af1" d="M5449 848l17 28 17-2-17-32z"/>
<path color="#62c378" d="M5314 698l16 19 15-67-19-48z"/>
<path color="#40a6e0" d="M5234 744l16 9 17-28-16-10z"/>
<path color="#3fa3dd" d="M5283 737l16 13 9-15-16-13z"/>
<path color="#429976" d="M6301 646l18 3 11 73-18-4z"/>
<path color="#8d2719" d="M5687 542l13-82 8-31-15 31z"/>
<path color="#3896be" d="M5308 735l17 16 5-34-16-19z"/>
<path color="#46ac8f" d="M6253 735l18 3 12-95-17-3z"/>
<path color="#6b7020" d="M5615 619l14-40 21 22-15 33z"/>
<path color="#dedede" d="M5708 429l16 4 16-9-17-4z"/>
<path color="#2f5d38" d="M5540 698l11-106 20 62-13 74z"/>
<path color="#56cca1" d="M5330 717l17 17 13-91-15 7z"/>
<path color="#911d1b" d="M5773 431l17 4 16 27-17-6z"/>
<path color="#55ab6a" d="M6463 719l18 4 8-98-18-4z"/>
<path color="#5fb05d" d="M6489 625l18 4 4 71-18-4z"/>
<path color="#97711f" d="M5650 601l15-29 4-54-15 34z"/>
<path color="#41a3e4" d="M5250 753l16 11 17-27-16-12z"/>
<path color="#3d74d5" d="M6468 851l18 5 13-129-18-4z"/>
<path color="#41a0e6" d="M5299 750l16 14 10-13-17-16z"/>
<path color="#3a93ca" d="M5325 751l16 16 6-33-17-17z"/>
<path color="#47bcc5" d="M5347 734l17 24 15-49-19-66z"/>
<path color="#412698" d="M5466 876l15-12 16-29-14 39z"/>
<path color="#429a76" d="M6319 649l18 4 11 73-18-4z"/>
<path color="#41a7e2" d="M5364 758l17 22 14-62-16-9z"/>
<path color="#48af8f" d="M6271 738l18 4 12-96-18-3z"/>
<path color="#3562b8" d="M6420 743l18 4 12 100-18-5z"/>
<path color="#266584" d="M6126 713l17-11 14 57-17 5z"/>
<path color="#dedede" d="M5724 433l17 4 15-9-16-4z"/>
<path color="#3d91db" d="M5341 767l16 19 7-28-17-24z"/>
<path color="#901e1a" d="M5790 435l16 4 17 41-17-18z"/>
<path color="#4199ec" d="M5315 764l17 16 9-13-16-16z"/>
<path color="#4197ee" d="M5381 780l17 27 15-35-18-54z"/>
<path color="#419fe8" d="M5266 764l16 12 17-26-16-13z"/>
<path color="#55ab6a" d="M6481 723l18 4 8-98-18-4z"/>
<path color="#1f4e6b" d="M5508 819l8-149 6 5-9 139z"/>
<path color="#477df3" d="M5398 807l17 27 15-43-17-19z"/>
<path color="#3c8edb" d="M5932 731l18 57 15 14-18-45z"/>
<path color="#418aea" d="M5357 786l17 20 7-26-17-22z"/>
<path color="#9f1e1e" d="M5700 460l16-22 8-5-16-4z"/>
<path color="#5060f7" d="M5415 834l17 30 17-16-19-57z"/>
<path color="#439a75" d="M6337 653l18 4 10 73-17-4z"/>
<path color="#438ef0" d="M5332 780l16 18 9-12-16-19z"/>
<path color="#8c2019" d="M5806 439l17 4 17 66-17-29z"/>
<path color="#6c641b" d="M5584 583l13-67 18 103-14 43z"/>
<path color="#683bf1" d="M5432 864l17 29 17-17-17-28z"/>
<path color="#3562b8" d="M6438 747l18 5 12 99-18-4z"/>
<path color="#4ab18e" d="M6289 742l17 4 13-97-18-3z"/>
<path color="#3fa8af" d="M5914 668l18 63 15 26-18-45z"/>
<path color="#902d19" d="M5669 518l15-28 9-41-14 62z"/>
<path color="#4199ec" d="M5282 776l16 13 17-25-16-14z"/>
<path color="#84681c" d="M5629 579l15-34 21 27-15 29z"/>
<path color="#dedede" d="M5741 437l17 3 15-9-17-3z"/>
<path color="#477cf4" d="M5374 806l17 22 7-21-17-27z"/>
<path color="#9d531c" d="M5665 572l15-23 4-59-15 28z"/>
<path color="#2b7386" d="M6143 702l18-6 14 61-18 2z"/>
<path color="#6fb856" d="M5895 597l19 71 15 44-17-43z"/>
<path color="#1f4f6d" d="M5497 835l8-158 11-7-8 149z"/>
<path color="#4680f3" d="M5348 798l17 19 9-11-17-20z"/>
<path color="#8b2a18" d="M5823 443l17 3 18 98-18-35z"/>
<path color="#4b68f8" d="M5391 828l17 23 7-17-17-27z"/>
<path color="#5428b6" d="M5449 893l17 6 15-35-15 12z"/>
<path color="#4290ef" d="M5298 789l17 14 17-23-17-16z"/>
<path color="#439a75" d="M6355 657l18 4 10 73-18-4z"/>
<path color="#dedede" d="M5716 438l16 3 9-4-17-4z"/>
<path color="#3562b8" d="M6456 752l18 4 12 100-18-5z"/>
<path color="#4bb38e" d="M6306 746l18 4 13-97-18-4z"/>
<path color="#4971f6" d="M5365 817l16 20 10-9-17-22z"/>
<path color="#5b4ff4" d="M5408 851l17 25 7-12-17-30z"/>
<path color="#dedede" d="M5758 440l16 4 16-9-17-4z"/>
<path color="#993b1a" d="M5840 446l17 4 19 134-18-40z"/>
<path color="#bb7022" d="M5857 450l19 64 18 112-18-42z"/>
<path color="#2c7397" d="M6113 789l18-5 12-82-17 11z"/>
<path color="#2f7e87" d="M6161 696l17-2 14 64-17-1z"/>
<path color="#6c35ef" d="M5425 876l17 25 7-8-17-29z"/>
<path color="#4585f2" d="M5315 803l16 16 17-21-16-18z"/>
<path color="#735b19" d="M5551 592l12-102 21 93-13 71z"/>
<path color="#515ff7" d="M5381 837l17 23 10-9-17-23z"/>
<path color="#439a75" d="M6373 661l18 4 10 74-18-5z"/>
<path color="#931e1b" d="M5684 490l15-21 10-27-16 7z"/>
<path color="#5f651d" d="M5522 675l10-137 19 54-11 106z"/>
<path color="#8a4e19" d="M5644 545l15-29 21 33-15 23z"/>
<path color="#dedede" d="M5732 441l17 4 9-5-17-3z"/>
<path color="#4cb48e" d="M6324 750l18 4 13-97-18-4z"/>
<path color="#dedede" d="M5774 444l17 4 15-9-16-4z"/>
<path color="#6049f3" d="M5398 860l17 23 10-7-17-25z"/>
<path color="#dedede" d="M5709 442l16 3 7-4-16-3z"/>
<path color="#4879f4" d="M5331 819l17 18 17-20-17-19z"/>
<path color="#419beb" d="M5918 768l18 49 14-29-18-57z"/>
<path color="#1f4e70" d="M5481 864l8-169 16-18-8 158z"/>
<path color="#744215" d="M5597 516l14-59 18 122-14 40z"/>
<path color="#49c2b9" d="M5900 713l18 55 14-37-18-63z"/>
<path color="#30819a" d="M6131 784l17-2 13-86-18 6z"/>
<path color="#6d34ed" d="M5415 883l17 24 10-6-17-25z"/>
<path color="#4b6bf7" d="M5348 837l16 18 17-18-16-20z"/>
<path color="#449b75" d="M6391 665l18 4 11 74-19-4z"/>
<path color="#dedede" d="M5749 445l17 4 8-5-16-4z"/>
<path color="#4cb48e" d="M6342 754l18 4 13-97-18-4z"/>
<path color="#a1da54" d="M5881 649l19 64 14-45-19-71z"/>
<path color="#dedede" d="M5791 448l17 4 15-9-17-4z"/>
<path color="#dedede" d="M5725 445l17 4 7-4-17-4z"/>
<path color="#6022bd" d="M5432 907l18 24 9-17-17-13z"/>
<path color="#ae2021" d="M5699 469l17-14 9-10-16-3z"/>
<path color="#4584f2" d="M5911 809l18 39 7-31-18-49z"/>
<path color="#5459f6" d="M5364 855l17 20 17-15-17-23z"/>
<path color="#41a6e3" d="M5893 764l18 45 7-41-18-55z"/>
<path color="#a32c1c" d="M5696 531l16-11 4-65-17 14z"/>
<path color="#58cc9d" d="M5874 708l19 56 7-51-19-64z"/>
<path color="#358d9a" d="M6148 782l18-1 12-87-17 2z"/>
<path color="#449b75" d="M6409 669l19 4 10 74-18-4z"/>
<path color="#6246f3" d="M5381 875l17 22 17-14-17-23z"/>
<path color="#febf35" d="M5862 573l19 76 14-52-19-83z"/>
<path color="#dedede" d="M5766 449l17 4 8-5-17-4z"/>
<path color="#4db58e" d="M6360 758l19 5 12-98-18-4z"/>
<path color="#214677" d="M5466 899l8-152 15-52-8 169z"/>
<path color="#dedede" d="M5808 452l17 3 15-9-17-3z"/>
<path color="#dedede" d="M5742 449l17 4 7-4-17-4z"/>
<path color="#76661b" d="M5516 670l10-148 6 16-10 137z"/>
<path color="#722813" d="M5611 457l17 4 16 84-15 34z"/>
<path color="#c72426" d="M5716 455l16 0 10-6-17-4z"/>
<path color="#c9de3f" d="M5856 639l18 69 7-59-19-76z"/>
<path color="#6d33ed" d="M5398 897l17 21 17-11-17-24z"/>
<path color="#702613" d="M5563 490l15-28 19 54-13 67z"/>
<path color="#368f87" d="M6214 694l18 2 13 69-17-4z"/>
<path color="#b72a20" d="M5712 520l16-5 4-60-16 0z"/>
<path color="#449b75" d="M6428 673l18 4 10 75-18-5z"/>
<path color="#f4492a" d="M5843 482l19 91 14-59-19-64z"/>
<path color="#39969b" d="M6166 781l18 2 12-90-18 1z"/>
<path color="#6422c2" d="M5415 918l17 23 18-10-18-24z"/>
<path color="#dedede" d="M5783 453l17 4 8-5-17-4z"/>
<path color="#dd2929" d="M5825 455l18 27 14-32-17-4z"/>
<path color="#4db58e" d="M6379 763l18 4 12-98-18-4z"/>
<path color="#243c7b" d="M5459 914l8-145 7-22-8 152z"/>
<path color="#dedede" d="M5759 453l17 4 7-4-17-4z"/>
<path color="#ff972f" d="M5836 555l20 84 6-66-19-91z"/>
<path color="#dedede" d="M5732 455l17 4 10-6-17-4z"/>
<path color="#b3c639" d="M5847 590l19 63 8 55-18-69z"/>
<path color="#7a621a" d="M5505 677l9-158 12 3-10 148z"/>
<path color="#732913" d="M5532 538l13-71 18 23-12 102z"/>
<path color="#3f6fd8" d="M6384 888l18 5 13-121-18-5z"/>
<path color="#28347f" d="M5450 931l10-116 7-46-8 145z"/>
<path color="#379186" d="M6232 696l18 3 13 69-18-3z"/>
<path color="#7d2016" d="M5628 461l16 4 15 51-15 29z"/>
<path color="#449b75" d="M6446 677l18 5 10 74-18-4z"/>
<path color="#d22f26" d="M5728 515l17 1 4-57-17-4z"/>
<path color="#e5292b" d="M5800 457l17 5 8-7-17-3z"/>
<path color="#4db58e" d="M6397 767l18 5 13-99-19-4z"/>
<path color="#3c9f9d" d="M6184 783l17 2 13-91-18-1z"/>
<path color="#dedede" d="M5776 457l17 4 7-4-17-4z"/>
<path color="#f2362b" d="M5817 462l19 93 7-73-18-27z"/>
<path color="#dedede" d="M5749 459l17 3 10-5-17-4z"/>
<path color="#841b18" d="M5578 462l17 4 16-9-14 59z"/>
<path color="#3f6fd8" d="M6402 893l19 5 12-122-18-4z"/>
<path color="#3c72d0" d="M5911 784l19 61 10 18-19-50z"/>
<path color="#379286" d="M6250 699l18 4 13 69-18-4z"/>
<path color="#ec352a" d="M5745 516l17 9 4-63-17-3z"/>
<path color="#362685" d="M5432 941l13-54 15-72-10 116z"/>
<path color="#4db58e" d="M6415 772l18 4 13-99-18-4z"/>
<path color="#3fa69f" d="M6201 785l18 3 13-92-18-2z"/>
<path color="#368db9" d="M5892 725l19 59 10 29-18-50z"/>
<path color="#e5292b" d="M5793 461l17 3 7-2-17-5z"/>
<path color="#f63d2b" d="M5810 464l18 57 8 34-19-93z"/>
<path color="#891d19" d="M5644 465l17 3 14 26-16 22z"/>
<path color="#d72628" d="M5766 462l17 16 10-17-17-4z"/>
<path color="#f4392b" d="M5762 525l18 15 3-62-17-16z"/>
<path color="#7e641b" d="M5489 695l8-169 17-7-9 158z"/>
<path color="#be2a22" d="M5708 471l16 2 21 43-17-1z"/>
<path color="#3f6fd8" d="M6421 898l18 5 13-122-19-5z"/>
<path color="#389386" d="M6268 703l18 3 13 70-18-4z"/>
<path color="#dedede" d="M5595 466l16 4 17-9-17-4z"/>
<path color="#f2c435" d="M5837 574l18 46 11 33-19-63z"/>
<path color="#4db58e" d="M6433 776l19 5 12-99-18-5z"/>
<path color="#365db9" d="M6372 794l18 4 12 95-18-5z"/>
<path color="#841919" d="M5545 467l16 4 17-9-15 28z"/>
<path color="#40aaa0" d="M6219 788l18 4 13-93-18-3z"/>
<path color="#dd2a29" d="M5783 478l18 25 9-39-17-3z"/>
<path color="#4086e5" d="M5906 806l19 53 5-14-19-61z"/>
<path color="#fa4a2b" d="M5780 540l17 22 4-59-18-25z"/>
<path color="#f53a2b" d="M5801 503l18 32 9-14-18-57z"/>
<path color="#991d1c" d="M5661 468l17 4 13 7-16 15z"/>
<path color="#40aacc" d="M5888 755l18 51 5-22-19-59z"/>
<path color="#d63026" d="M5724 473l18 7 20 45-17-9z"/>
<path color="#67cd7c" d="M5869 708l19 47 4-30-18-55z"/>
<path color="#389486" d="M6286 706l18 4 13 70-18-4z"/>
<path color="#dedede" d="M5611 470l17 4 16-9-16-4z"/>
<path color="#c4e044" d="M5851 664l18 44 5-38-19-50z"/>
<path color="#ffde3b" d="M5833 624l18 40 4-44-18-46z"/>
<path color="#365db9" d="M6390 798l19 5 12 95-19-5z"/>
<path color="#41ada0" d="M6237 792l18 4 13-93-18-4z"/>
<path color="#dedede" d="M5561 471l17 4 17-9-17-4z"/>
<path color="#74701e" d="M5474 747l8-152 15-69-8 169z"/>
<path color="#ea3729" d="M5742 480l17 16 21 44-18-15z"/>
<path color="#a91e20" d="M5678 472l17 4 13-5-17 8z"/>
<path color="#4e57e8" d="M5906 852l19 62 18 0-18-55z"/>
<path color="#389486" d="M6304 710l19 5 12 70-18-5z"/>
<path color="#dedede" d="M5540 470l16 4 5-3-16-4z"/>
<path color="#dedede" d="M5628 474l17 4 16-10-17-3z"/>
<path color="#365db9" d="M6409 803l19 5 11 95-18-5z"/>
<path color="#3d84db" d="M5888 792l18 60 19 7-19-53z"/>
<path color="#42aea1" d="M6255 796l18 4 13-94-18-3z"/>
<path color="#dedede" d="M5578 475l17 4 16-9-16-4z"/>
<path color="#23567d" d="M5445 887l13-65 12-123-10 116z"/>
<path color="#336b47" d="M5460 815l10-116 6-75-9 145z"/>
<path color="#3da2ba" d="M5869 734l19 58 18 14-18-51z"/>
<path color="#61bb6b" d="M5850 681l19 53 19 21-19-47z"/>
<path color="#b52122" d="M5695 476l17 4 12-7-16-2z"/>
<path color="#dedede" d="M5556 474l17 4 5-3-17-4z"/>
<path color="#389585" d="M6323 715l18 4 13 70-19-4z"/>
<path color="#dedede" d="M5645 478l17 3 16-9-17-4z"/>
<path color="#2d787c" d="M6106 730l18-5 15 77-18 1z"/>
<path color="#dedede" d="M5528 476l17 4 11-6-16-4z"/>
<path color="#42b0a1" d="M6273 800l19 4 12-94-18-4z"/>
<path color="#dedede" d="M5595 479l17 4 16-9-17-4z"/>
<path color="#811b17" d="M5497 526l14-40 17-10-14 43z"/>
<path color="#bc2224" d="M5712 480l17 4 13-4-18-7z"/>
<path color="#dedede" d="M5573 478l16 4 6-3-17-4z"/>
<path color="#389585" d="M6341 719l19 4 12 71-18-5z"/>
<path color="#dedede" d="M5662 481l17 4 16-9-17-4z"/>
<path color="#4726a1" d="M5961 958l17-4 17-62-17 23z"/>
<path color="#dedede" d="M5545 480l16 4 12-6-17-4z"/>
<path color="#43b0a1" d="M6292 804l18 5 13-94-19-5z"/>
<path color="#dedede" d="M5612 483l16 4 17-9-17-4z"/>
<path color="#6b26d2" d="M5932 973l17-26 12 11-17 6z"/>
<path color="#be2224" d="M5729 484l17 4 13 8-17-16z"/>
<path color="#dedede" d="M5589 482l17 4 6-3-17-4z"/>
<path color="#389585" d="M6360 723l18 5 12 70-18-4z"/>
<path color="#3d69d2" d="M5893 806l20 88 12 20-19-62z"/>
<path color="#dedede" d="M5679 485l17 4 16-9-17-4z"/>
<path color="#dedede" d="M5511 486l17 4 17-10-17-4z"/>
<path color="#dedede" d="M5561 484l17 4 11-6-16-4z"/>
<path color="#43b1a1" d="M6310 809l18 4 13-94-18-4z"/>
<path color="#dedede" d="M5628 487l17 4 17-10-17-3z"/>
<path color="#4136ab" d="M5978 954l18-3 16-78-17 19z"/>
<path color="#832117" d="M5482 595l12-100 17-9-14 40z"/>
<path color="#b52322" d="M5746 488l17 4 14 27-18-23z"/>
<path color="#358dad" d="M5873 721l20 85 13 46-18-60z"/>
<path color="#4b7837" d="M5458 822l13-63 9-174-10 114z"/>
<path color="#dedede" d="M5606 486l17 4 5-3-16-4z"/>
<path color="#389585" d="M6378 728l19 4 12 71-19-5z"/>
<path color="#dedede" d="M5696 489l17 4 16-9-17-4z"/>
<path color="#dedede" d="M5528 490l16 3 17-9-16-4z"/>
<path color="#dedede" d="M5578 488l17 4 11-6-17-4z"/>
<path color="#43b1a1" d="M6328 813l19 5 13-95-19-4z"/>
<path color="#a7241e" d="M5763 492l17 4 15 54-18-31z"/>
<path color="#452298" d="M5949 947l17-23 12 30-17 4z"/>
<path color="#dedede" d="M5645 491l17 4 17-10-17-4z"/>
<path color="#368c7b" d="M6160 724l18 1 15 83-18-3z"/>
<path color="#39988f" d="M6111 821l18 1 13-99-18 2z"/>
<path color="#863017" d="M5476 624l10-125 8-4-12 100z"/>
<path color="#8e581a" d="M5470 699l10-114 6-86-10 125z"/>
<path color="#3c44b5" d="M5996 951l18-2 16-89-18 13z"/>
<path color="#9a291b" d="M5780 496l18 4 15 88-18-38z"/>
<path color="#5a46e7" d="M5896 861l21 122 15-10-19-79z"/>
<path color="#dedede" d="M5623 490l17 4 5-3-17-4z"/>
<path color="#389585" d="M6397 732l19 5 12 71-19-5z"/>
<path color="#dedede" d="M5713 493l17 4 16-9-17-4z"/>
<path color="#6026c3" d="M5917 983l17-23 15-13-17 26z"/>
<path color="#dedede" d="M5544 493l17 4 17-9-17-4z"/>
<path color="#dedede" d="M5595 492l17 4 11-6-17-4z"/>
<path color="#416ddd" d="M6334 936l19 5 12-119-18-4z"/>
<path color="#43b2a1" d="M6347 818l18 4 13-94-18-5z"/>
<path color="#dedede" d="M5662 495l17 4 17-10-17-4z"/>
<path color="#a1391b" d="M5798 500l17 4 16 127-18-43z"/>
<path color="#dedede" d="M5494 495l17 4 17-9-17-4z"/>
<path color="#388e79" d="M6178 725l18 3 15 84-18-4z"/>
<path color="#b56521" d="M5815 504l19 59 16 118-19-50z"/>
<path color="#3f2fa0" d="M5966 924l17-18 13 45-18 3z"/>
<path color="#3da290" d="M6129 822l18 1 13-99-18-1z"/>
<path color="#dedede" d="M5640 494l17 4 5-3-17-4z"/>
<path color="#dedede" d="M5730 497l17 4 16-9-17-4z"/>
<path color="#dedede" d="M5561 497l17 5 17-10-17-4z"/>
<path color="#dedede" d="M5612 496l17 4 11-6-17-4z"/>
<path color="#394fbc" d="M6014 949l17 1 16-99-17 9z"/>
<path color="#416ddd" d="M6353 941l18 5 13-119-19-5z"/>
<path color="#43b2a1" d="M6365 822l19 5 13-95-19-4z"/>
<path color="#dedede" d="M5679 499l17 4 17-10-17-4z"/>
<path color="#3689bf" d="M5876 741l20 120 17 33-20-88z"/>
<path color="#dedede" d="M5511 499l16 4 17-10-16-3z"/>
<path color="#342582" d="M5934 960l17-27 15-9-17 23z"/>
<path color="#43a990" d="M6147 823l18 3 13-101-18-1z"/>
<path color="#dedede" d="M5657 498l17 4 5-3-17-4z"/>
<path color="#93731f" d="M5471 759l14-60 8-191-13 77z"/>
<path color="#dedede" d="M5747 501l17 4 16-9-17-4z"/>
<path color="#dedede" d="M5578 502l17 4 17-10-17-4z"/>
<path color="#3b3ca9" d="M5983 906l18-14 13 57-18 2z"/>
<path color="#dedede" d="M5629 500l17 4 11-6-17-4z"/>
<path color="#416ddd" d="M6371 946l19 5 13-119-19-5z"/>
<path color="#dedede" d="M5486 499l17 4 8-4-17-4z"/>
<path color="#43b2a1" d="M6384 827l19 5 13-95-19-5z"/>
<path color="#3a58c2" d="M6031 950l18 1 16-105-18 5z"/>
<path color="#dedede" d="M5696 503l18 4 16-10-17-4z"/>
<path color="#dedede" d="M5527 503l17 4 17-10-17-4z"/>
<path color="#3b9078" d="M6215 731l18 4 14 85-18-4z"/>
<path color="#3458b2" d="M6321 838l19 5 13 98-19-5z"/>
<path color="#5e29c7" d="M5901 975l18-11 15-4-17 23z"/>
<path color="#95201b" d="M5480 585l13-77 10-5-17-4z"/>
<path color="#47ae91" d="M6165 826l18 4 13-102-18-3z"/>
<path color="#dedede" d="M5674 502l17 4 5-3-17-4z"/>
<path color="#7faf45" d="M5855 624l21 117 17 65-20-85z"/>
<path color="#dedede" d="M5764 505l18 4 16-9-18-4z"/>
<path color="#4460df" d="M5880 821l21 154 16 8-21-122z"/>
<path color="#dedede" d="M5595 506l17 4 17-10-17-4z"/>
<path color="#dedede" d="M5646 504l17 4 11-6-17-4z"/>
<path color="#dedede" d="M5503 503l17 4 7-4-16-4z"/>
<path color="#dedede" d="M5714 507l17 4 16-10-17-4z"/>
<path color="#3747b1" d="M6001 892l17-10 13 68-17-1z"/>
<path color="#dedede" d="M5544 507l17 4 17-9-17-5z"/>
<path color="#3b60c8" d="M6049 951l18 3 16-110-18 2z"/>
<path color="#3b9177" d="M6233 735l19 4 13 85-18-4z"/>
<path color="#3458b2" d="M6340 843l19 5 12 98-18-5z"/>
<path color="#dedede" d="M5691 506l17 4 6-3-18-4z"/>
<path color="#dedede" d="M5782 509l17 4 16-9-17-4z"/>
<path color="#dedede" d="M5612 510l17 4 17-10-17-4z"/>
<path color="#dedede" d="M5663 508l17 4 11-6-17-4z"/>
<path color="#dedede" d="M5520 507l17 4 7-4-17-4z"/>
<path color="#97451a" d="M5485 699l13-56 12-131-17-4z"/>
<path color="#dedede" d="M5493 508l17 4 10-5-17-4z"/>
<path color="#312a82" d="M5919 964l16-40 16 9-17 27z"/>
<path color="#dedede" d="M5731 511l17 4 16-10-17-4z"/>
<path color="#dedede" d="M5561 511l17 4 17-9-17-4z"/>
<path color="#3458b2" d="M6359 848l18 4 13 99-19-5z"/>
<path color="#3c9177" d="M6252 739l18 4 14 86-19-5z"/>
<path color="#3c66cd" d="M6067 954l18 3 16-113-18 0z"/>
<path color="#3750b6" d="M6018 882l18-5 13 74-18-1z"/>
<path color="#b32421" d="M5799 513l18 5 17 45-19-59z"/>
<path color="#ae331e" d="M5817 518l17 4 20 117-20-76z"/>
<path color="#dedede" d="M5708 510l18 4 5-3-17-4z"/>
<path color="#4bb491" d="M6202 834l18 4 13-103-18-4z"/>
<path color="#dedede" d="M5629 514l17 4 17-10-17-4z"/>
<path color="#dedede" d="M5680 512l17 4 11-6-17-4z"/>
<path color="#dedede" d="M5537 511l17 4 7-4-17-4z"/>
<path color="#3e73d7" d="M5874 806l22 164 5 5-21-154z"/>
<path color="#dedede" d="M5510 512l17 4 10-5-17-4z"/>
<path color="#dedede" d="M5748 515l18 4 16-10-18-4z"/>
<path color="#54b076" d="M5858 668l22 153 16 40-20-120z"/>
<path color="#dedede" d="M5578 515l17 4 17-9-17-4z"/>
<path color="#3c9277" d="M6270 743l19 4 13 86-18-4z"/>
<path color="#3d69d0" d="M6085 957l18 4 16-115-18-2z"/>
<path color="#3755b9" d="M6036 877l18-2 13 79-18-3z"/>
<path color="#5937d3" d="M5885 962l18 10 11-5-18 3z"/>
<path color="#dedede" d="M5726 514l17 4 5-3-17-4z"/>
<path color="#4cb590" d="M6220 838l19 4 13-103-19-4z"/>
<path color="#982d1a" d="M5498 643l15-51 14-76-17-4z"/>
<path color="#dedede" d="M5646 518l18 4 16-10-17-4z"/>
<path color="#dedede" d="M5697 516l18 4 11-6-18-4z"/>
<path color="#2c2e80" d="M5914 967l16-45 5 2-16 40z"/>
<path color="#dedede" d="M5554 515l17 4 7-4-17-4z"/>
<path color="#dedede" d="M5527 516l17 5 10-6-17-4z"/>
<path color="#dedede" d="M5766 519l17 4 16-10-17-4z"/>
<path color="#dedede" d="M5595 519l17 4 17-9-17-4z"/>
<path color="#3c9276" d="M6289 747l19 5 13 86-19-5z"/>
<path color="#3d6cd2" d="M6103 961l19 5 15-117-18-3z"/>
<path color="#3b81d4" d="M5863 787l22 175 11 8-22-164z"/>
<path color="#3759bb" d="M6054 875l18 0 13 82-18-3z"/>
<path color="#dedede" d="M5743 518l18 4 5-3-18-4z"/>
<path color="#4db690" d="M6239 842l18 5 13-104-18-4z"/>
<path color="#dedede" d="M5664 522l17 4 16-10-17-4z"/>
<path color="#dedede" d="M5715 520l17 5 11-7-17-4z"/>
<path color="#dedede" d="M5571 519l17 4 7-4-17-4z"/>
<path color="#dedede" d="M5544 521l17 4 10-6-17-4z"/>
<path color="#dedede" d="M5783 523l18 4 16-9-18-5z"/>
<path color="#dedede" d="M5612 523l18 4 16-9-17-4z"/>
<path color="#2a3281" d="M5903 972l16-61 11 11-16 45z"/>
<path color="#3c9276" d="M6308 752l19 4 13 87-19-5z"/>
<path color="#d48b29" d="M5836 536l22 132 18 73-21-117z"/>
<path color="#a3221e" d="M5513 592l14-44 17-27-17-5z"/>
<path color="#3d6ed4" d="M6122 966l18 4 16-118-19-3z"/>
<path color="#375cbc" d="M6072 875l19 1 12 85-18-4z"/>
<path color="#dedede" d="M5761 522l17 4 5-3-17-4z"/>
<path color="#4eb790" d="M6257 847l19 5 13-105-19-4z"/>
<path color="#5b47e9" d="M5869 948l19 41 15-17-18-10z"/>
<path color="#dedede" d="M5681 526l17 4 17-10-18-4z"/>
<path color="#dedede" d="M5732 525l18 4 11-7-18-4z"/>
<path color="#9ebf40" d="M5852 642l22 164 6 15-22-153z"/>
<path color="#dedede" d="M5588 523l17 5 7-5-17-4z"/>
<path color="#dedede" d="M5561 525l17 4 10-6-17-4z"/>
<path color="#dedede" d="M5801 527l18 4 15-9-17-4z"/>
<path color="#dedede" d="M5630 527l17 5 17-10-18-4z"/>
<path color="#3c9276" d="M6327 756l19 5 13 87-19-5z"/>
<path color="#3d6fd4" d="M6140 970l19 5 15-119-18-4z"/>
<path color="#d02e25" d="M5819 531l17 5 19 88-21-102z"/>
<path color="#dedede" d="M5778 526l18 4 5-3-18-4z"/>
<path color="#375ebd" d="M6091 876l18 3 13 87-19-5z"/>
<path color="#4eb790" d="M6276 852l19 4 13-104-19-5z"/>
<path color="#b82123" d="M5527 548l17-14 17-9-17-4z"/>
<path color="#dedede" d="M5698 530l18 4 16-9-17-5z"/>
<path color="#dedede" d="M5750 529l17 4 11-7-17-4z"/>
<path color="#dedede" d="M5605 528l17 4 8-5-18-4z"/>
<path color="#dedede" d="M5578 529l17 4 10-5-17-5z"/>
<path color="#dedede" d="M5647 532l17 4 17-10-17-4z"/>
<path color="#3a92cc" d="M5846 762l23 186 16 14-22-175z"/>
<path color="#3c9276" d="M6346 761l19 5 12 86-18-4z"/>
<path color="#3d70d5" d="M6159 975l18 5 16-120-19-4z"/>
<path color="#283a86" d="M5888 989l15-91 16 13-16 61z"/>
<path color="#dedede" d="M5796 530l18 4 5-3-18-4z"/>
<path color="#4eb890" d="M6295 856l19 5 13-105-19-4z"/>
<path color="#375fbd" d="M6109 879l19 3 12 88-18-4z"/>
<path color="#c9c436" d="M5840 613l23 174 11 19-22-164z"/>
<path color="#dedede" d="M5716 534l17 4 17-9-18-4z"/>
<path color="#dedede" d="M5767 533l18 4 11-7-18-4z"/>
<path color="#dedede" d="M5622 532l17 4 8-4-17-5z"/>
<path color="#dedede" d="M5544 534l17 5 17-10-17-4z"/>
<path color="#3b69cd" d="M6306 980l19 5 8-119-19-5z"/>
<path color="#dedede" d="M5595 533l18 4 9-5-17-4z"/>
<path color="#dedede" d="M5664 536l18 4 16-10-17-4z"/>
<path color="#5b4ff4" d="M5853 947l20 69 15-27-19-41z"/>
<path color="#db4b25" d="M5831 539l21 103 6 26-22-132z"/>
<path color="#3e71d5" d="M6177 980l19 5 15-120-18-5z"/>
<path color="#dedede" d="M5814 534l17 5 5-3-17-5z"/>
<path color="#4eb890" d="M6314 861l19 5 13-105-19-5z"/>
<path color="#3760bd" d="M6128 882l18 4 13 89-19-5z"/>
<path color="#dedede" d="M5733 538l18 5 16-10-17-4z"/>
<path color="#dedede" d="M5785 537l18 4 11-7-18-4z"/>
<path color="#dedede" d="M5639 536l18 4 7-4-17-4z"/>
<path color="#dedede" d="M5561 539l17 4 17-10-17-4z"/>
<path color="#3b69cd" d="M6325 985l19 5 8-119-19-5z"/>
<path color="#395fc2" d="M6300 884l19 5 6 96-19-5z"/>
<path color="#dedede" d="M5613 537l17 4 9-5-17-4z"/>
<path color="#dedede" d="M5682 540l17 4 17-10-18-4z"/>
<path color="#3e71d6" d="M6196 985l18 5 16-121-19-4z"/>
<path color="#333a99" d="M5873 1016l16-50 14-68-15 91z"/>
<path color="#4eb890" d="M6333 866l19 5 13-105-19-5z"/>
<path color="#3761be" d="M6146 886l19 5 12 89-18-5z"/>
<path color="#e93e29" d="M5821 545l19 68 12 29-21-103z"/>
<path color="#dedede" d="M5751 543l18 4 16-10-18-4z"/>
<path color="#dedede" d="M5803 541l18 4 10-6-17-5z"/>
<path color="#5c4ef4" d="M5846 948l20 81 7-13-20-69z"/>
<path color="#dedede" d="M5657 540l17 4 8-4-18-4z"/>
<path color="#dedede" d="M5578 543l17 4 18-10-18-4z"/>
<path color="#395fc2" d="M6319 889l19 5 6 96-19-5z"/>
<path color="#3c9fc5" d="M5830 778l23 169 16 1-23-186z"/>
<path color="#dedede" d="M5630 541l17 5 10-6-18-4z"/>
<path color="#dedede" d="M5699 544l18 4 16-10-17-4z"/>
<path color="#3e71d6" d="M6214 990l19 5 16-121-19-5z"/>
<path color="#2e7979" d="M6254 802l18 5 9 72-18-4z"/>
<path color="#4d34bb" d="M5866 1029l17-40 6-23-16 50z"/>
<path color="#e9ae30" d="M5823 577l23 185 17 25-23-174z"/>
<path color="#3761be" d="M6165 891l19 4 12 90-19-5z"/>
<path color="#dedede" d="M5769 547l18 4 16-10-18-4z"/>
<path color="#dedede" d="M5674 544l18 4 7-4-17-4z"/>
<path color="#dedede" d="M5595 547l18 4 17-10-17-4z"/>
<path color="#5f4af3" d="M5837 964l20 76 9-11-20-81z"/>
<path color="#dedede" d="M5647 546l18 4 9-6-17-4z"/>
<path color="#dedede" d="M5717 548l18 5 16-10-18-5z"/>
<path color="#3e71d6" d="M6233 995l19 6 16-122-19-5z"/>
<path color="#2e7979" d="M6272 807l19 5 9 72-19-5z"/>
<path color="#5830c8" d="M5857 1040l17-37 9-14-17 40z"/>
<path color="#3761be" d="M6184 895l18 5 12 90-18-5z"/>
<path color="#3da4c6" d="M5823 786l23 162 7-1-23-169z"/>
<path color="#dedede" d="M5787 551l17 4 17-10-18-4z"/>
<path color="#45b5a9" d="M6249 874l19 5 4-72-18-5z"/>
<path color="#dedede" d="M5692 548l18 5 7-5-18-4z"/>
<path color="#dedede" d="M5613 551l17 5 17-10-17-5z"/>
<path color="#245183" d="M5889 966l17-41 15-53-18 26z"/>
<path color="#dedede" d="M5665 550l17 4 10-6-18-4z"/>
<path color="#dedede" d="M5735 553l17 4 17-10-18-4z"/>
<path color="#ed312b" d="M5804 555l19 22 17 36-19-68z"/>
<path color="#3e71d6" d="M6252 1001l19 5 16-122-19-5z"/>
<path color="#673df1" d="M5822 1003l20 56 15-19-20-76z"/>
<path color="#2e7979" d="M6291 812l20 4 8 73-19-5z"/>
<path color="#3d9fd4" d="M5816 833l21 131 9-16-23-162z"/>
<path color="#3762be" d="M6202 900l19 5 12 90-19-5z"/>
<path color="#2a428d" d="M5883 989l17-34 6-30-17 41z"/>
<path color="#45b6a9" d="M6268 879l19 5 4-72-19-5z"/>
<path color="#dedede" d="M5710 553l17 4 8-4-18-5z"/>
<path color="#dedede" d="M5630 556l18 4 17-10-18-4z"/>
<path color="#dedede" d="M5682 554l18 4 10-5-18-5z"/>
<path color="#dedede" d="M5752 557l18 4 17-10-18-4z"/>
<path color="#592ac2" d="M5842 1059l17-32 15-24-17 37z"/>
<path color="#f3a02f" d="M5807 611l23 167 16-16-23-185z"/>
<path color="#3e71d6" d="M6271 1006l19 5 16-122-19-5z"/>
<path color="#4188e7" d="M5802 926l20 77 15-39-21-131z"/>
<path color="#2e7979" d="M6311 816l19 5 8 73-19-5z"/>
<path color="#2b3b8e" d="M5874 1003l17-32 9-16-17 34z"/>
<path color="#3762be" d="M6221 905l19 5 12 91-19-6z"/>
<path color="#45b6a9" d="M6287 884l19 5 5-73-20-4z"/>
<path color="#dedede" d="M5727 557l18 4 7-4-17-4z"/>
<path color="#dedede" d="M5648 560l18 4 16-10-17-4z"/>
<path color="#dedede" d="M5700 558l18 5 9-6-17-4z"/>
<path color="#dedede" d="M5770 561l18 4 16-10-17-4z"/>
<path color="#286b72" d="M5906 925l17-38 14-111-16 96z"/>
<path color="#467436" d="M5937 776l19 32 15-4-18 16z"/>
<path color="#3e71d6" d="M6290 1011l19 5 16-122-19-5z"/>
<path color="#f7b432" d="M5801 627l22 159 7-8-23-167z"/>
<path color="#3762be" d="M6240 910l20 5 11 91-19-5z"/>
<path color="#e92e2b" d="M5788 565l19 46 16-34-19-22z"/>
<path color="#265a8b" d="M5900 955l17-28 6-40-17 38z"/>
<path color="#45b6a9" d="M6306 889l19 5 5-73-19-5z"/>
<path color="#dedede" d="M5745 561l18 5 7-5-18-4z"/>
<path color="#dedede" d="M5666 564l17 4 17-10-18-4z"/>
<path color="#5dc17f" d="M5782 850l20 76 14-93-22-129z"/>
<path color="#dedede" d="M5718 563l18 4 9-6-18-4z"/>
<path color="#e6d539" d="M5794 704l22 129 7-47-22-159z"/>
<path color="#30348d" d="M5859 1027l17-29 15-27-17 32z"/>
<path color="#29508f" d="M5891 971l18-27 8-17-17 28z"/>
<path color="#e62a2b" d="M5683 568l19 26 16-31-18-5z"/>
<path color="#3762be" d="M6260 915l19 5 11 91-19-5z"/>
<path color="#dedede" d="M5763 566l18 4 7-5-18-4z"/>
<path color="#dedede" d="M5736 567l18 4 9-5-18-5z"/>
<path color="#3c7c51" d="M5923 887l18-22 15-57-19-32z"/>
<path color="#ee322b" d="M5781 570l20 57 6-16-19-46z"/>
<path color="#ed322b" d="M5702 594l20 55 14-82-18-4z"/>
<path color="#e2c333" d="M5762 778l20 72 12-146-22-124z"/>
<path color="#276886" d="M5917 927l18-21 6-41-18 22z"/>
<path color="#d74225" d="M5722 649l20 62 12-140-18-4z"/>
<path color="#3762be" d="M6279 920l19 5 11 91-19-5z"/>
<path color="#d86726" d="M5742 711l20 67 10-198-18-9z"/>
<path color="#f3442a" d="M5772 580l22 124 7-77-20-57z"/>
<path color="#2a4990" d="M5876 998l18-23 15-31-18 27z"/>
<path color="#e5292b" d="M5754 571l18 9 9-10-18-4z"/>
<path color="#28618f" d="M5909 944l18-20 8-18-18 21z"/>
<path color="#9f9528" d="M5972 705l20 61 15 5-18-2z"/>
<path color="#618635" d="M5941 865l18-23 13-137-16 103z"/>
<path color="#2c7673" d="M5935 906l18-14 6-50-18 23z"/>
<path color="#285b93" d="M5894 975l17-18 16-33-18 20z"/>
<path color="#296c8d" d="M5927 924l18-13 8-19-18 14z"/>
<path color="#a69427" d="M5992 766l17-62 16 50-18 17z"/>
<path color="#87942a" d="M5959 842l18-6 15-70-20-61z"/>
<path color="#367d60" d="M5953 892l18-9 6-47-18 6z"/>
<path color="#2e7b86" d="M5945 911l18-8 8-20-18 9z"/>
<path color="#2a6894" d="M5911 957l18-12 16-34-18 13z"/>
<path color="#245d7b" d="M6265 915l19 5 14 5-19-5z"/>
<path color="#a27721" d="M6009 704l19 5 16 43-19 2z"/>
<path color="#2e6e5a" d="M6192 842l20 4 14 59-19-5z"/>
<path color="#909329" d="M5977 836l19-10 13-122-17 62z"/>
<path color="#438756" d="M5971 883l19-5 6-52-19 10z"/>
<path color="#338781" d="M5963 903l18-4 9-21-19 5z"/>
<path color="#2d779b" d="M5929 945l19-7 15-35-18 8z"/>
<path color="#2e6e5a" d="M6212 846l19 5 15 59-20-5z"/>
<path color="#d38f29" d="M6028 709l18-18 17 57-19 4z"/>
<path color="#4d8f4c" d="M5990 878l18-1 6-54-18 3z"/>
<path color="#a08e26" d="M5996 826l18-3 14-114-19-5z"/>
<path color="#39927e" d="M5981 899l19-2 8-20-18 1z"/>
<path color="#2e6f5a" d="M6231 851l19 5 15 59-19-5z"/>
<path color="#31839b" d="M5948 938l18-3 15-36-18 4z"/>
<path color="#569448" d="M6008 877l19 0 6-55-19 1z"/>
<path color="#c2a22b" d="M6014 823l19-1 13-131-18 18z"/>
<path color="#409a7b" d="M6000 897l19 1 8-21-19 0z"/>
<path color="#2e6f59" d="M6250 856l20 5 14 59-19-5z"/>
<path color="#358d99" d="M5966 935l19-1 15-37-19 2z"/>
<path color="#cf7926" d="M6066 725l18-73 16 92-19 12z"/>
<path color="#5d9746" d="M6027 877l19 3 6-55-19-3z"/>
<path color="#b89a29" d="M6033 822l19 3 14-100-20-34z"/>
<path color="#459f79" d="M6019 898l19 2 8-20-19-3z"/>
<path color="#fda530" d="M6084 652l21 122 15-4-20-26z"/>
<path color="#39979a" d="M5985 934l19 1 15-37-19-1z"/>
<path color="#52732f" d="M6226 832l20 6 4 18-19-5z"/>
<path color="#629944" d="M6046 880l19 2 6-59-19 2z"/>
<path color="#49a377" d="M6038 900l19 4 8-22-19-2z"/>
<path color="#c69329" d="M6052 825l19-2 13-171-18 73z"/>
<path color="#3c9f9b" d="M6004 935l19 3 15-38-19-2z"/>
<path color="#52732f" d="M6246 838l19 4 5 19-20-5z"/>
<path color="#679d45" d="M6065 882l19 5 6-53-19-11z"/>
<path color="#e2b631" d="M6071 823l19 11 15-60-21-122z"/>
<path color="#4ba576" d="M6057 904l19 4 8-21-19-5z"/>
<path color="#e3902b" d="M6122 665l21 109 15 2-20-24z"/>
<path color="#3ea49c" d="M6023 938l19 4 15-38-19-4z"/>
<path color="#689e44" d="M6084 887l20 4 5-60-19 3z"/>
<path color="#828123" d="M6216 769l20 34 10 35-20-6z"/>
<path color="#cda62d" d="M6090 834l19-3 13-166-17 109z"/>
<path color="#4da775" d="M6076 908l19 4 9-21-20-4z"/>
<path color="#3fa79c" d="M6042 942l19 4 15-38-19-4z"/>
<path color="#6a9e43" d="M6104 891l19 5 6-54-20-11z"/>
<path color="#7f7e23" d="M6236 803l19-24 10 63-19-4z"/>
<path color="#eda52f" d="M6161 681l21 131 15-21-20-29z"/>
<path color="#d0a42c" d="M6109 831l20 11 14-68-21-109z"/>
<path color="#4ea875" d="M6095 912l20 5 8-21-19-5z"/>
<path color="#40a99c" d="M6061 946l19 4 15-38-19-4z"/>
<path color="#6b9f43" d="M6123 896l19 4 6-59-19 1z"/>
<path color="#e1b431" d="M6129 842l19-1 13-160-18 93z"/>
<path color="#4fa974" d="M6115 917l19 5 8-22-19-4z"/>
<path color="#41ab9c" d="M6080 950l20 5 15-38-20-5z"/>
<path color="#d8b630" d="M6148 841l20 13 14-42-21-131z"/>
<path color="#6ca145" d="M6142 900l20 6 6-52-20-13z"/>
<path color="#faac31" d="M6201 676l21 158 14-31-20-34z"/>
<path color="#4fa974" d="M6134 922l20 5 8-21-20-6z"/>
<path color="#41ac9c" d="M6100 955l19 5 15-38-19-5z"/>
<path color="#6da144" d="M6162 906l19 4 6-60-19 4z"/>
<path color="#d0ab2e" d="M6168 854l19-4 14-174-19 136z"/>
<path color="#b88025" d="M6222 834l18-144 15 89-19 24z"/>
<path color="#4fa974" d="M6154 927l19 5 8-22-19-4z"/>
<path color="#41ac9c" d="M6119 960l20 5 15-38-20-5z"/>
<path color="#deba31" d="M6187 850l20 15 15-31-21-158z"/>
<path color="#6ea345" d="M6181 910l20 6 6-51-20-15z"/>
<path color="#50aa74" d="M6173 932l20 5 8-21-20-6z"/>
<path color="#41ad9c" d="M6139 965l20 6 14-39-19-5z"/>
<path color="#af9427" d="M6207 865l20-5 13-170-18 144z"/>
<path color="#6da144" d="M6201 916l20 5 6-61-20 5z"/>
<path color="#50a974" d="M6193 937l20 6 8-22-20-5z"/>
<path color="#41ad9c" d="M6159 971l19 5 15-39-20-5z"/>
<path color="#41ad9c" d="M6178 976l20 6 15-39-20-6z"/><path class="m" d="M5096 685l26-49 16-165 18 46M5295 561l5-43 11 36M5359 536l6-39 13 40M5419 509l8-54 11 41M5477 468l4-54 8 59M5523 427l4-43 15 39M5572 391l0-10 4 18M5618 400l1-17 4 18M5649 392l5-33 11 39M5703 371l4-19 9 29M5750 369l7-34 12 36M5800 343l6-25M5748 478l0-10M5898 507l10-66 11 36M5924 463l8-89M6005 360l7-40M6083 386l17-123M6117 269l2 20M6159 383l4-17 12 34M6196 409l13-38 9 34M6238 412l14-62M6198 982l23-61 19-231 44 230 14 5 11 91 21-195 14 169 21-224 25 185 26-214 23 166 25-221 22 174 21-227 11 189 26-229 13 79 8 105 13-189 19 164 16-164 9 149 19-180 17 151 22-162 16 126 22-148 16 117 21-140M5157 706l26-47 15-171 19 51M5316 603l1-19 5 20M5351 597l8-56 11 35M5418 558l6-37 12 37M5475 543l10-64 2 10M5536 465l2-25 4 27M5580 451l4-41 15 37M5627 434l1-27 9 34M5673 431l2-23 5 25M5704 415l6-31 7 27M5754 412l7-36 12 33M5802 398l9-38 11 32M5838 531l7-54 7-16M5860 473l7 45M5904 608l15-58 11 39M5959 627l17-87 12 33 15-17 20-105 10 101M6054 563l17-65 10-10 14 57 11-77 13 72M6136 564l14-65 6 7 5 33 18-84 14 58M6207 537l18-53 23 44 22-47 21 36 21-52M5219 735l26-46 16-152 18 43M5375 670l3-54 14 54M5409 640l11-64 13 42M5473 611l6-34M5641 463l1-12 3 6M5685 470l1-23 2 7M5812 436l5-22 7 15M5742 711l10-116M5885 752l3 3 4-30 14 53M5915 789l17-58 23 42M5987 727l3-4 9 16M6107 725l5-9M6130 688l15-2M5282 776l26-41 18-133 18 38M5428 747l12-81 15 51M5822 1003l31-56 19 3 13 12M5904 976l13 7 33-27M6391 498l2-8 1 6M6432 469l2-9M6119 960l23-60 19-219 16 81M6223 920l10 75 5-40M6282 799l7-52 7 44M6337 750l4-31 6 35M6385 714l6-49 7 49M6431 662l4-37 3 47M6469 609l3-36 8 39M6507 568l1 12M6568 565l3-27 5 36M6610 540l2-12 3 18M6648 527l3-21 4 27M6685 505l4-21M5348 837l33-57 14-62 56 71 8-1M5894 975l29-88 14-111 11 29M6011 940l3 9M6175 682l4-28 6 29M6222 628l3-28 2 29M6263 573l2-15 6 23M6367 535l3-25 4 22M6414 496l2 9M6452 493l4-20 3 17M6493 470l3-20M5415 918l24-15M5475 875l121-66 94-87 10 1 9-19M5966 935l25-65 18-166 8 25M6242 686l6-47 8 47M6290 635l3-47 4 45M6329 582l4-34 8 37M6433 539l3-27 4 24M6477 513l2-12 3 18M6516 500l4-20 5 26M6556 479l3-21M5471 759l14-246M5548 471l3 4M5577 552l24 110 19 8 5-36 20 77 9-64M5674 617l26 63 6-35M5827 438l5-34 1 10M5980 266l10-34M6042 942l23-60 19-230 13 77M6264 734l4-31 7 35M6313 697l6-48 5 37M6360 646l3-48 4 58M6398 594l4-35 8 38M6500 551l3-27 5 36M6543 526l2-12 3 18M6581 513l4-21 4 27M6620 491l4-21M5527 548l11-18M5688 470l8-15 4 5 5-21M5844 437l2 7M5863 408l4-46M5944 328l4-23M6026 279l1-14M6147 322l2-6 8 33M6184 333l9-45M5096 685l297 204 39 52 95-393 11-9M5689 577l13 17 140 465 87-114 269 37M5138 471l21 100 9-87 22 104 8-100 21 85 10-77 20 87 12-46 18 41 15-4 20 79 12-51 19 48 15-7 19 66 16 9 54 130M5468 874l13-10 8-169M5811 562l12 15 46 371 13 28M5896 944l7-46 18-26 16-96 19 32 16-103 20 61 17-62 19 5 18-18 20 34 18-73 21 122 17-109 21 109 18-93 21 131 19-136 21 158 18-144M5572 381l119 70M6059 302l108 354M6302 547l276 37M6106 465l83 161M6585 640l24 5M5432 770l22 22M5508 856l9 10 40-325M5573 471l3-4M5838 539l62 343M5917 983l28-41M6223 904l61 16M5375 670l90 63M5557 830l8 9 102-271M5879 731l43 120M6277 882l48 12M5654 359l117 69M5978 275l12-42M6133 263l88 327M6314 541l327 12M6180 454l63 116M6646 609l23 5M5300 518l174 104M5608 790l3 0 2-8M5700 440l4-16M5860 461l87 318M6142 723l9 0M6178 725l9 1M6218 732l12 2M6252 739l113 27M6248 528l18 27M6663 660l33 8M5641 772l19-37M5891 570l73 147M6375 825l28 7M6225 418l78 122M6709 570l17 3M5678 740l8 2 46-58M6396 891l43 12M5806 318l35 15M6140 289l56 0 139 227M6406 482l349 15M5489 473l26 9M5980 348l98 308M6468 690l43 10"/><path class="e" d="M5779 78l1031 182M5779 78l8 268M6704 640l96 22M5243 752l-188 108M6804 503l-4 159M5023 421l756-343M5023 421l1207 296M6230 717l580-457M5023 421l32 439M5055 860l1178 361M6233 1221l567-559M6230 717l3 504"/></g><path d="M504.1 41.2L501.1 40.5M508.6 39.2L507.1 38.8M512.9 37.2L511.4 36.9M517.2 35.3L515.7 35.0M521.3 33.4L519.8 33.1M525.4 31.6L522.4 30.9M529.3 29.8L527.9 29.5M533.2 28.0L531.7 27.7M537.0 26.3L535.5 26.0M540.7 24.6L539.2 24.3M544.3 23.0L541.4 22.4M547.9 21.4L546.4 21.1M551.3 19.8L549.9 19.5M554.7 18.3L553.3 18.0M558.1 16.8L556.7 16.5M561.3 15.3L558.5 14.7M564.5 13.8L563.1 13.6M567.7 12.4L566.3 12.2M570.7 11.0L569.3 10.8M573.7 9.7L572.4 9.4M576.7 8.3L573.9 7.8M509.1 87.1L505.4 89.2M513.9 88.6L512.0 89.6M518.7 90.0L516.9 91.1M523.6 91.5L521.8 92.7M528.6 93.1L526.8 94.2M533.6 94.6L530.0 96.9M538.7 96.2L536.9 97.3M543.9 97.8L542.1 98.9M549.1 99.4L547.4 100.6M554.5 101.0L552.7 102.2M559.9 102.7L556.5 105.1M565.3 104.3L563.7 105.6M570.9 106.1L569.2 107.3M576.6 107.8L574.9 109.1M582.3 109.5L580.7 110.9M588.1 111.3L584.9 114.0M594.0 113.1L592.4 114.5M600.0 115.0L598.4 116.3M606.1 116.8L604.5 118.2M612.3 118.7L610.7 120.2M618.5 120.7L615.5 123.6M505.4 84.5L502.9 83.7M504.7 74.4L502.1 73.6M503.9 64.1L501.4 63.4M503.1 53.8L500.6 53.1M502.3 43.3L499.8 42.7M505.4 84.5L504.2 84.1M505.2 81.9L504.0 81.6M505.0 79.4L503.8 79.1M504.9 76.9L503.6 76.5M504.7 74.4L503.5 74.0M504.5 71.8L503.3 71.5M504.3 69.3L503.1 68.9M504.1 66.7L502.9 66.3M503.9 64.1L502.7 63.8M503.7 61.5L502.5 61.2M503.5 59.0L502.3 58.6M503.3 56.4L502.1 56.0M503.1 53.8L501.9 53.5M502.9 51.2L501.7 50.8M502.7 48.5L501.5 48.2M502.5 45.9L501.3 45.6M502.3 43.3L501.1 43.0" class="bx"/><text x="503.5" y="37.9" class="g" text-anchor="middle">0.0</text><text x="524.8" y="28.7" class="g" text-anchor="middle">0.5</text><text x="543.6" y="20.2" class="g" text-anchor="middle">1.0</text><text x="560.7" y="12.3" class="g" text-anchor="middle">1.5</text><text x="576.2" y="5.3" class="g" text-anchor="middle">2.0</text><text x="508.9" y="95.7" class="g" text-anchor="middle">−2</text><text x="534.1" y="103.2" class="g" text-anchor="middle">−1</text><text x="560.4" y="111.4" class="g" text-anchor="middle">0</text><text x="589.2" y="120.2" class="g" text-anchor="middle">1</text><text x="620.7" y="129.4" class="g" text-anchor="middle">2</text><text x="503.8" y="86.9" class="g" text-anchor="end">0.0</text><text x="503.1" y="76.8" class="g" text-anchor="end">0.2</text><text x="502.3" y="66.5" class="g" text-anchor="end">0.4</text><text x="501.5" y="56.2" class="g" text-anchor="end">0.6</text><text x="500.7" y="45.7" class="g" text-anchor="end">0.8</text><text x="542.9" y="11.6" class="ax">t</text><text x="560.6" y="121.4" class="ax" text-anchor="middle">x</text><text x="454.6" y="63.4" class="zl">|<tspan font-style="italic">w</tspan><tspan font-size="5.5" dy="1.6">3,1</tspan><tspan dy="-1.6">(x, t))|</tspan></text>
</svg>
</body></html>
